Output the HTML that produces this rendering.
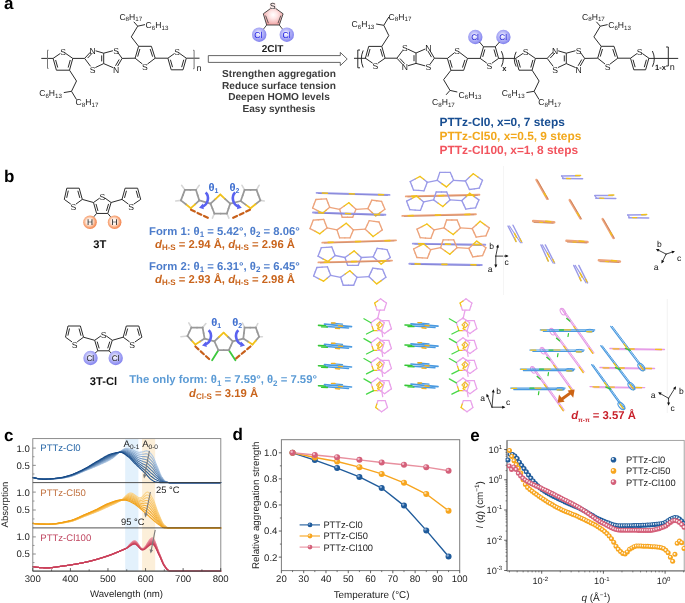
<!DOCTYPE html><html><head><meta charset="utf-8"><style>html,body{margin:0;padding:0;background:#fff;}svg{display:block;will-change:transform;text-rendering:geometricPrecision;}</style></head><body><svg width="685" height="603" viewBox="0 0 685 603">
<defs><radialGradient id="gCl" cx="0.45" cy="0.42" r="0.58"><stop offset="0" stop-color="#ffffff"/><stop offset="0.5" stop-color="#babaf8"/><stop offset="1" stop-color="#8080ee"/></radialGradient><radialGradient id="gH" cx="0.46" cy="0.46" r="0.56"><stop offset="0" stop-color="#ffffff"/><stop offset="0.4" stop-color="#feeee4"/><stop offset="0.75" stop-color="#f8a678"/><stop offset="1" stop-color="#f27a42"/></radialGradient><radialGradient id="gRing" cx="0.5" cy="0.45" r="0.6"><stop offset="0" stop-color="#ffffff"/><stop offset="0.35" stop-color="#fde6e6"/><stop offset="1" stop-color="#f09a9a"/></radialGradient></defs>
<rect width="685" height="603" fill="#fff"/>
<text x="4.10" y="8.80" font-size="17" fill="#000" text-anchor="start" font-weight="bold" font-family="Liberation Sans, sans-serif" >a</text>
<text x="4.10" y="182.20" font-size="17" fill="#000" text-anchor="start" font-weight="bold" font-family="Liberation Sans, sans-serif" >b</text>
<text x="4.10" y="440.60" font-size="17" fill="#000" text-anchor="start" font-weight="bold" font-family="Liberation Sans, sans-serif" >c</text>
<text x="232.60" y="440.30" font-size="17" fill="#000" text-anchor="start" font-weight="bold" font-family="Liberation Sans, sans-serif" >d</text>
<text x="470.20" y="440.50" font-size="17" fill="#000" text-anchor="start" font-weight="bold" font-family="Liberation Sans, sans-serif" >e</text>
<line x1="41.30" y1="58.40" x2="53.10" y2="58.40" stroke="#2c2c2c" stroke-width="1.0" />
<path d="M48.50,50.20 H47.50 V68.40 H48.50" fill="none" stroke="#777" stroke-width="1.0"/>
<line x1="53.10" y1="58.40" x2="60.36" y2="53.41" stroke="#2c2c2c" stroke-width="1.0" />
<line x1="65.63" y1="53.42" x2="72.80" y2="58.40" stroke="#2c2c2c" stroke-width="1.0" />
<line x1="72.80" y1="58.40" x2="69.50" y2="70.20" stroke="#2c2c2c" stroke-width="1.0" />
<line x1="69.50" y1="70.20" x2="56.40" y2="70.20" stroke="#2c2c2c" stroke-width="1.0" />
<line x1="56.40" y1="70.20" x2="53.10" y2="58.40" stroke="#2c2c2c" stroke-width="1.0" />
<line x1="70.28" y1="59.99" x2="68.17" y2="67.54" stroke="#2c2c2c" stroke-width="1.0" />
<line x1="57.73" y1="67.54" x2="55.62" y2="59.99" stroke="#2c2c2c" stroke-width="1.0" />
<text x="63.00" y="55.30" font-size="8.6" fill="#1c1c1c" text-anchor="middle" font-weight="normal" font-family="Liberation Sans, sans-serif" >S</text>
<line x1="72.80" y1="58.40" x2="84.60" y2="58.40" stroke="#2c2c2c" stroke-width="1.0" />
<line x1="84.60" y1="58.40" x2="90.32" y2="52.24" stroke="#2c2c2c" stroke-width="1.0" />
<line x1="87.64" y1="58.06" x2="92.38" y2="52.96" stroke="#2c2c2c" stroke-width="1.0" />
<line x1="95.57" y1="50.80" x2="103.70" y2="53.20" stroke="#2c2c2c" stroke-width="1.0" />
<line x1="103.70" y1="53.20" x2="103.70" y2="63.60" stroke="#2c2c2c" stroke-width="1.0" />
<line x1="101.70" y1="55.40" x2="101.70" y2="61.40" stroke="#2c2c2c" stroke-width="1.0" />
<line x1="103.70" y1="63.60" x2="95.39" y2="67.53" stroke="#2c2c2c" stroke-width="1.0" />
<line x1="90.58" y1="66.34" x2="84.60" y2="58.40" stroke="#2c2c2c" stroke-width="1.0" />
<line x1="103.70" y1="53.20" x2="112.91" y2="50.73" stroke="#2c2c2c" stroke-width="1.0" />
<line x1="117.87" y1="52.50" x2="122.10" y2="58.40" stroke="#2c2c2c" stroke-width="1.0" />
<line x1="122.10" y1="58.40" x2="117.61" y2="66.13" stroke="#2c2c2c" stroke-width="1.0" />
<line x1="119.15" y1="59.50" x2="115.49" y2="65.80" stroke="#2c2c2c" stroke-width="1.0" />
<line x1="113.06" y1="67.63" x2="103.70" y2="63.60" stroke="#2c2c2c" stroke-width="1.0" />
<text x="92.50" y="53.60" font-size="8.6" fill="#1c1c1c" text-anchor="middle" font-weight="normal" font-family="Liberation Sans, sans-serif" >N</text>
<text x="116.00" y="53.60" font-size="8.6" fill="#1c1c1c" text-anchor="middle" font-weight="normal" font-family="Liberation Sans, sans-serif" >S</text>
<text x="116.00" y="72.60" font-size="8.6" fill="#1c1c1c" text-anchor="middle" font-weight="normal" font-family="Liberation Sans, sans-serif" >N</text>
<text x="92.50" y="72.60" font-size="8.6" fill="#1c1c1c" text-anchor="middle" font-weight="normal" font-family="Liberation Sans, sans-serif" >S</text>
<line x1="122.10" y1="58.40" x2="135.10" y2="58.20" stroke="#2c2c2c" stroke-width="1.0" />
<line x1="135.10" y1="58.20" x2="138.60" y2="46.30" stroke="#2c2c2c" stroke-width="1.0" />
<line x1="138.60" y1="46.30" x2="151.40" y2="46.30" stroke="#2c2c2c" stroke-width="1.0" />
<line x1="151.40" y1="46.30" x2="155.20" y2="58.20" stroke="#2c2c2c" stroke-width="1.0" />
<line x1="155.20" y1="58.20" x2="147.45" y2="64.07" stroke="#2c2c2c" stroke-width="1.0" />
<line x1="142.40" y1="64.01" x2="135.10" y2="58.20" stroke="#2c2c2c" stroke-width="1.0" />
<line x1="137.65" y1="56.62" x2="139.89" y2="49.01" stroke="#2c2c2c" stroke-width="1.0" />
<line x1="150.18" y1="49.05" x2="152.61" y2="56.67" stroke="#2c2c2c" stroke-width="1.0" />
<text x="144.90" y="69.70" font-size="8.6" fill="#1c1c1c" text-anchor="middle" font-weight="normal" font-family="Liberation Sans, sans-serif" >S</text>
<line x1="69.50" y1="70.20" x2="76.50" y2="81.00" stroke="#2c2c2c" stroke-width="1.0" />
<line x1="76.50" y1="81.00" x2="71.50" y2="91.30" stroke="#2c2c2c" stroke-width="1.0" />
<line x1="71.50" y1="91.30" x2="63.80" y2="92.60" stroke="#2c2c2c" stroke-width="1.0" />
<line x1="71.50" y1="91.30" x2="76.50" y2="99.60" stroke="#2c2c2c" stroke-width="1.0" />
<line x1="138.60" y1="46.30" x2="131.30" y2="36.90" stroke="#2c2c2c" stroke-width="1.0" />
<line x1="131.30" y1="36.90" x2="137.70" y2="26.20" stroke="#2c2c2c" stroke-width="1.0" />
<line x1="137.70" y1="26.20" x2="133.80" y2="21.80" stroke="#2c2c2c" stroke-width="1.0" />
<line x1="137.70" y1="26.20" x2="145.00" y2="24.60" stroke="#2c2c2c" stroke-width="1.0" />
<line x1="155.20" y1="58.20" x2="167.90" y2="58.20" stroke="#2c2c2c" stroke-width="1.0" />
<line x1="167.90" y1="58.20" x2="174.50" y2="53.47" stroke="#2c2c2c" stroke-width="1.0" />
<line x1="179.70" y1="53.47" x2="186.30" y2="58.20" stroke="#2c2c2c" stroke-width="1.0" />
<line x1="186.30" y1="58.20" x2="183.00" y2="69.80" stroke="#2c2c2c" stroke-width="1.0" />
<line x1="183.00" y1="69.80" x2="171.20" y2="69.80" stroke="#2c2c2c" stroke-width="1.0" />
<line x1="171.20" y1="69.80" x2="167.90" y2="58.20" stroke="#2c2c2c" stroke-width="1.0" />
<line x1="183.78" y1="59.74" x2="181.67" y2="67.16" stroke="#2c2c2c" stroke-width="1.0" />
<line x1="172.53" y1="67.16" x2="170.42" y2="59.74" stroke="#2c2c2c" stroke-width="1.0" />
<text x="177.10" y="55.30" font-size="8.6" fill="#1c1c1c" text-anchor="middle" font-weight="normal" font-family="Liberation Sans, sans-serif" >S</text>
<line x1="186.30" y1="58.20" x2="199.50" y2="58.20" stroke="#2c2c2c" stroke-width="1.0" />
<path d="M193.10,50.30 H194.10 V68.70 H193.10" fill="none" stroke="#777" stroke-width="1.0"/>
<text x="196.60" y="71.40" font-size="9" fill="#2a2a2a" text-anchor="start" font-weight="normal" font-family="Liberation Sans, sans-serif" >n</text>
<text x="39.20" y="96.10" font-size="8.6" fill="#1c1c1c" font-family="Liberation Sans, sans-serif">C<tspan font-size="6.19" dy="1.5">6</tspan><tspan dy="-1.5">H</tspan><tspan font-size="6.19" dy="1.5">13</tspan></text>
<text x="75.60" y="105.10" font-size="8.6" fill="#1c1c1c" font-family="Liberation Sans, sans-serif">C<tspan font-size="6.19" dy="1.5">8</tspan><tspan dy="-1.5">H</tspan><tspan font-size="6.19" dy="1.5">17</tspan></text>
<text x="119.40" y="19.50" font-size="8.6" fill="#1c1c1c" font-family="Liberation Sans, sans-serif">C<tspan font-size="6.19" dy="1.5">8</tspan><tspan dy="-1.5">H</tspan><tspan font-size="6.19" dy="1.5">17</tspan></text>
<text x="145.60" y="28.10" font-size="8.6" fill="#1c1c1c" font-family="Liberation Sans, sans-serif">C<tspan font-size="6.19" dy="1.5">6</tspan><tspan dy="-1.5">H</tspan><tspan font-size="6.19" dy="1.5">13</tspan></text>
<path d="M208.3,55.6 H340.3 V52.4 L347.2,59 L340.3,65.6 V62.4 H208.3 Z" fill="#fff" stroke="#555" stroke-width="0.9"/>
<path d="M273.2,6.6 L283.1,13.8 L279.3,25.0 L266.7,25.0 L263.3,13.8 Z" fill="url(#gRing)" stroke="#3a3a3a" stroke-width="0.9"/>
<line x1="265.60" y1="15.60" x2="268.40" y2="23.20" stroke="#3a3a3a" stroke-width="0.8" />
<line x1="280.80" y1="15.60" x2="278.00" y2="23.20" stroke="#3a3a3a" stroke-width="0.8" />
<circle cx="273.0" cy="6.0" r="3.4" fill="#fbeaea"/>
<text x="272.80" y="9.30" font-size="8.8" fill="#2a2a2a" text-anchor="middle" font-weight="normal" font-family="Liberation Sans, sans-serif" >S</text>
<line x1="266.70" y1="25.00" x2="261.60" y2="31.50" stroke="#3a3a3a" stroke-width="0.9" />
<line x1="279.30" y1="25.00" x2="284.40" y2="31.50" stroke="#3a3a3a" stroke-width="0.9" />
<circle cx="259.2" cy="34.7" r="7.2" fill="url(#gCl)"/>
<circle cx="286.8" cy="34.7" r="7.2" fill="url(#gCl)"/>
<text x="258.40" y="38.00" font-size="8.6" fill="#1a1ae0" text-anchor="middle" font-weight="normal" font-family="Liberation Sans, sans-serif" >Cl</text>
<text x="286.60" y="38.00" font-size="8.6" fill="#1a1ae0" text-anchor="middle" font-weight="normal" font-family="Liberation Sans, sans-serif" >Cl</text>
<text x="272.60" y="52.20" font-size="10" fill="#1a1a1a" text-anchor="middle" font-weight="bold" font-family="Liberation Sans, sans-serif" >2ClT</text>
<text x="279.00" y="76.80" font-size="10.1" fill="#3c3c3c" text-anchor="middle" font-weight="bold" font-family="Liberation Sans, sans-serif" >Strengthen aggregation</text>
<text x="279.00" y="88.55" font-size="10.1" fill="#3c3c3c" text-anchor="middle" font-weight="bold" font-family="Liberation Sans, sans-serif" >Reduce surface tension</text>
<text x="279.00" y="100.30" font-size="10.1" fill="#3c3c3c" text-anchor="middle" font-weight="bold" font-family="Liberation Sans, sans-serif" >Deepen HOMO levels</text>
<text x="279.00" y="112.05" font-size="10.1" fill="#3c3c3c" text-anchor="middle" font-weight="bold" font-family="Liberation Sans, sans-serif" >Easy synthesis</text>
<line x1="354.00" y1="58.30" x2="366.00" y2="58.30" stroke="#2c2c2c" stroke-width="1.0" />
<path d="M360.00,50.00 H357.80 V67.80 H360.00" fill="none" stroke="#2c2c2c" stroke-width="1.0"/>
<path d="M363.20,50.50 Q359.40,59.00 363.20,67.50" fill="none" stroke="#2c2c2c" stroke-width="1.0"/>
<line x1="365.40" y1="58.20" x2="372.66" y2="63.19" stroke="#2c2c2c" stroke-width="1.0" />
<line x1="377.93" y1="63.18" x2="385.10" y2="58.20" stroke="#2c2c2c" stroke-width="1.0" />
<line x1="385.10" y1="58.20" x2="381.80" y2="46.40" stroke="#2c2c2c" stroke-width="1.0" />
<line x1="381.80" y1="46.40" x2="368.70" y2="46.40" stroke="#2c2c2c" stroke-width="1.0" />
<line x1="368.70" y1="46.40" x2="365.40" y2="58.20" stroke="#2c2c2c" stroke-width="1.0" />
<line x1="382.58" y1="56.61" x2="380.47" y2="49.06" stroke="#2c2c2c" stroke-width="1.0" />
<line x1="370.03" y1="49.06" x2="367.92" y2="56.61" stroke="#2c2c2c" stroke-width="1.0" />
<text x="375.30" y="68.70" font-size="8.6" fill="#1c1c1c" text-anchor="middle" font-weight="normal" font-family="Liberation Sans, sans-serif" >S</text>
<line x1="385.10" y1="58.20" x2="396.90" y2="58.20" stroke="#2c2c2c" stroke-width="1.0" />
<line x1="396.90" y1="58.20" x2="402.62" y2="64.36" stroke="#2c2c2c" stroke-width="1.0" />
<line x1="399.94" y1="58.54" x2="404.68" y2="63.64" stroke="#2c2c2c" stroke-width="1.0" />
<line x1="407.87" y1="65.80" x2="416.00" y2="63.40" stroke="#2c2c2c" stroke-width="1.0" />
<line x1="416.00" y1="63.40" x2="416.00" y2="53.00" stroke="#2c2c2c" stroke-width="1.0" />
<line x1="414.00" y1="61.20" x2="414.00" y2="55.20" stroke="#2c2c2c" stroke-width="1.0" />
<line x1="416.00" y1="53.00" x2="407.69" y2="49.07" stroke="#2c2c2c" stroke-width="1.0" />
<line x1="402.88" y1="50.26" x2="396.90" y2="58.20" stroke="#2c2c2c" stroke-width="1.0" />
<line x1="416.00" y1="63.40" x2="425.21" y2="65.87" stroke="#2c2c2c" stroke-width="1.0" />
<line x1="430.17" y1="64.10" x2="434.40" y2="58.20" stroke="#2c2c2c" stroke-width="1.0" />
<line x1="434.40" y1="58.20" x2="429.91" y2="50.47" stroke="#2c2c2c" stroke-width="1.0" />
<line x1="431.45" y1="57.10" x2="427.79" y2="50.80" stroke="#2c2c2c" stroke-width="1.0" />
<line x1="425.36" y1="48.97" x2="416.00" y2="53.00" stroke="#2c2c2c" stroke-width="1.0" />
<text x="404.80" y="70.40" font-size="8.6" fill="#1c1c1c" text-anchor="middle" font-weight="normal" font-family="Liberation Sans, sans-serif" >N</text>
<text x="428.30" y="70.40" font-size="8.6" fill="#1c1c1c" text-anchor="middle" font-weight="normal" font-family="Liberation Sans, sans-serif" >S</text>
<text x="428.30" y="51.40" font-size="8.6" fill="#1c1c1c" text-anchor="middle" font-weight="normal" font-family="Liberation Sans, sans-serif" >N</text>
<text x="404.80" y="51.40" font-size="8.6" fill="#1c1c1c" text-anchor="middle" font-weight="normal" font-family="Liberation Sans, sans-serif" >S</text>
<line x1="434.40" y1="58.20" x2="447.40" y2="58.40" stroke="#2c2c2c" stroke-width="1.0" />
<line x1="447.40" y1="58.40" x2="450.90" y2="70.30" stroke="#2c2c2c" stroke-width="1.0" />
<line x1="450.90" y1="70.30" x2="463.70" y2="70.30" stroke="#2c2c2c" stroke-width="1.0" />
<line x1="463.70" y1="70.30" x2="467.50" y2="58.40" stroke="#2c2c2c" stroke-width="1.0" />
<line x1="467.50" y1="58.40" x2="459.75" y2="52.53" stroke="#2c2c2c" stroke-width="1.0" />
<line x1="454.70" y1="52.59" x2="447.40" y2="58.40" stroke="#2c2c2c" stroke-width="1.0" />
<line x1="449.95" y1="59.98" x2="452.19" y2="67.59" stroke="#2c2c2c" stroke-width="1.0" />
<line x1="462.48" y1="67.55" x2="464.91" y2="59.93" stroke="#2c2c2c" stroke-width="1.0" />
<text x="457.20" y="54.30" font-size="8.6" fill="#1c1c1c" text-anchor="middle" font-weight="normal" font-family="Liberation Sans, sans-serif" >S</text>
<line x1="381.80" y1="46.40" x2="388.80" y2="35.60" stroke="#2c2c2c" stroke-width="1.0" />
<line x1="388.80" y1="35.60" x2="383.80" y2="25.30" stroke="#2c2c2c" stroke-width="1.0" />
<line x1="383.80" y1="25.30" x2="376.10" y2="24.00" stroke="#2c2c2c" stroke-width="1.0" />
<line x1="383.80" y1="25.30" x2="388.80" y2="17.00" stroke="#2c2c2c" stroke-width="1.0" />
<line x1="450.90" y1="70.30" x2="443.60" y2="79.70" stroke="#2c2c2c" stroke-width="1.0" />
<line x1="443.60" y1="79.70" x2="450.00" y2="90.40" stroke="#2c2c2c" stroke-width="1.0" />
<line x1="450.00" y1="90.40" x2="446.10" y2="94.80" stroke="#2c2c2c" stroke-width="1.0" />
<line x1="450.00" y1="90.40" x2="457.30" y2="92.00" stroke="#2c2c2c" stroke-width="1.0" />
<line x1="467.50" y1="58.40" x2="480.20" y2="58.40" stroke="#2c2c2c" stroke-width="1.0" />
<line x1="480.20" y1="58.40" x2="486.80" y2="63.13" stroke="#2c2c2c" stroke-width="1.0" />
<line x1="492.00" y1="63.13" x2="498.60" y2="58.40" stroke="#2c2c2c" stroke-width="1.0" />
<line x1="498.60" y1="58.40" x2="495.30" y2="46.80" stroke="#2c2c2c" stroke-width="1.0" />
<line x1="495.30" y1="46.80" x2="483.50" y2="46.80" stroke="#2c2c2c" stroke-width="1.0" />
<line x1="483.50" y1="46.80" x2="480.20" y2="58.40" stroke="#2c2c2c" stroke-width="1.0" />
<line x1="496.08" y1="56.86" x2="493.97" y2="49.44" stroke="#2c2c2c" stroke-width="1.0" />
<line x1="484.83" y1="49.44" x2="482.72" y2="56.86" stroke="#2c2c2c" stroke-width="1.0" />
<text x="489.40" y="68.70" font-size="8.6" fill="#1c1c1c" text-anchor="middle" font-weight="normal" font-family="Liberation Sans, sans-serif" >S</text>
<circle cx="475.3" cy="37.0" r="7.2" fill="url(#gCl)"/>
<circle cx="503.4" cy="37.0" r="7.2" fill="url(#gCl)"/>
<line x1="483.50" y1="46.80" x2="479.50" y2="42.00" stroke="#2c2c2c" stroke-width="1.0" />
<line x1="495.30" y1="46.80" x2="499.50" y2="42.00" stroke="#2c2c2c" stroke-width="1.0" />
<text x="475.00" y="40.00" font-size="8.2" fill="#1a1ad0" text-anchor="middle" font-weight="normal" font-family="Liberation Sans, sans-serif" >Cl</text>
<text x="503.10" y="40.00" font-size="8.2" fill="#1a1ad0" text-anchor="middle" font-weight="normal" font-family="Liberation Sans, sans-serif" >Cl</text>
<line x1="498.60" y1="58.40" x2="515.70" y2="58.40" stroke="#2c2c2c" stroke-width="1.0" />
<path d="M501.40,51.20 Q505.20,58.90 501.40,66.60" fill="none" stroke="#2c2c2c" stroke-width="1.0"/>
<text x="502.20" y="71.00" font-size="7.5" fill="#222" text-anchor="start" font-weight="bold" font-family="Liberation Sans, sans-serif" >x</text>
<text x="351.50" y="27.30" font-size="8.6" fill="#1c1c1c" font-family="Liberation Sans, sans-serif">C<tspan font-size="6.19" dy="1.5">6</tspan><tspan dy="-1.5">H</tspan><tspan font-size="6.19" dy="1.5">13</tspan></text>
<text x="388.60" y="19.70" font-size="8.6" fill="#1c1c1c" font-family="Liberation Sans, sans-serif">C<tspan font-size="6.19" dy="1.5">8</tspan><tspan dy="-1.5">H</tspan><tspan font-size="6.19" dy="1.5">17</tspan></text>
<text x="458.60" y="97.70" font-size="8.6" fill="#1c1c1c" font-family="Liberation Sans, sans-serif">C<tspan font-size="6.19" dy="1.5">6</tspan><tspan dy="-1.5">H</tspan><tspan font-size="6.19" dy="1.5">13</tspan></text>
<text x="432.00" y="105.10" font-size="8.6" fill="#1c1c1c" font-family="Liberation Sans, sans-serif">C<tspan font-size="6.19" dy="1.5">8</tspan><tspan dy="-1.5">H</tspan><tspan font-size="6.19" dy="1.5">17</tspan></text>
<path d="M516.20,51.80 Q512.40,59.20 516.20,66.60" fill="none" stroke="#2c2c2c" stroke-width="1.0"/>
<line x1="515.70" y1="58.40" x2="522.96" y2="53.41" stroke="#2c2c2c" stroke-width="1.0" />
<line x1="528.23" y1="53.42" x2="535.40" y2="58.40" stroke="#2c2c2c" stroke-width="1.0" />
<line x1="535.40" y1="58.40" x2="532.10" y2="70.20" stroke="#2c2c2c" stroke-width="1.0" />
<line x1="532.10" y1="70.20" x2="519.00" y2="70.20" stroke="#2c2c2c" stroke-width="1.0" />
<line x1="519.00" y1="70.20" x2="515.70" y2="58.40" stroke="#2c2c2c" stroke-width="1.0" />
<line x1="532.88" y1="59.99" x2="530.77" y2="67.54" stroke="#2c2c2c" stroke-width="1.0" />
<line x1="520.33" y1="67.54" x2="518.22" y2="59.99" stroke="#2c2c2c" stroke-width="1.0" />
<text x="525.60" y="55.30" font-size="8.6" fill="#1c1c1c" text-anchor="middle" font-weight="normal" font-family="Liberation Sans, sans-serif" >S</text>
<line x1="535.40" y1="58.40" x2="547.20" y2="58.40" stroke="#2c2c2c" stroke-width="1.0" />
<line x1="547.20" y1="58.40" x2="552.92" y2="52.24" stroke="#2c2c2c" stroke-width="1.0" />
<line x1="550.24" y1="58.06" x2="554.98" y2="52.96" stroke="#2c2c2c" stroke-width="1.0" />
<line x1="558.17" y1="50.80" x2="566.30" y2="53.20" stroke="#2c2c2c" stroke-width="1.0" />
<line x1="566.30" y1="53.20" x2="566.30" y2="63.60" stroke="#2c2c2c" stroke-width="1.0" />
<line x1="564.30" y1="55.40" x2="564.30" y2="61.40" stroke="#2c2c2c" stroke-width="1.0" />
<line x1="566.30" y1="63.60" x2="557.99" y2="67.53" stroke="#2c2c2c" stroke-width="1.0" />
<line x1="553.18" y1="66.34" x2="547.20" y2="58.40" stroke="#2c2c2c" stroke-width="1.0" />
<line x1="566.30" y1="53.20" x2="575.51" y2="50.73" stroke="#2c2c2c" stroke-width="1.0" />
<line x1="580.47" y1="52.50" x2="584.70" y2="58.40" stroke="#2c2c2c" stroke-width="1.0" />
<line x1="584.70" y1="58.40" x2="580.21" y2="66.13" stroke="#2c2c2c" stroke-width="1.0" />
<line x1="581.75" y1="59.50" x2="578.09" y2="65.80" stroke="#2c2c2c" stroke-width="1.0" />
<line x1="575.66" y1="67.63" x2="566.30" y2="63.60" stroke="#2c2c2c" stroke-width="1.0" />
<text x="555.10" y="53.60" font-size="8.6" fill="#1c1c1c" text-anchor="middle" font-weight="normal" font-family="Liberation Sans, sans-serif" >N</text>
<text x="578.60" y="53.60" font-size="8.6" fill="#1c1c1c" text-anchor="middle" font-weight="normal" font-family="Liberation Sans, sans-serif" >S</text>
<text x="578.60" y="72.60" font-size="8.6" fill="#1c1c1c" text-anchor="middle" font-weight="normal" font-family="Liberation Sans, sans-serif" >N</text>
<text x="555.10" y="72.60" font-size="8.6" fill="#1c1c1c" text-anchor="middle" font-weight="normal" font-family="Liberation Sans, sans-serif" >S</text>
<line x1="584.70" y1="58.40" x2="597.70" y2="58.20" stroke="#2c2c2c" stroke-width="1.0" />
<line x1="597.70" y1="58.20" x2="601.20" y2="46.30" stroke="#2c2c2c" stroke-width="1.0" />
<line x1="601.20" y1="46.30" x2="614.00" y2="46.30" stroke="#2c2c2c" stroke-width="1.0" />
<line x1="614.00" y1="46.30" x2="617.80" y2="58.20" stroke="#2c2c2c" stroke-width="1.0" />
<line x1="617.80" y1="58.20" x2="610.05" y2="64.07" stroke="#2c2c2c" stroke-width="1.0" />
<line x1="605.00" y1="64.01" x2="597.70" y2="58.20" stroke="#2c2c2c" stroke-width="1.0" />
<line x1="600.25" y1="56.62" x2="602.49" y2="49.01" stroke="#2c2c2c" stroke-width="1.0" />
<line x1="612.78" y1="49.05" x2="615.21" y2="56.67" stroke="#2c2c2c" stroke-width="1.0" />
<text x="607.50" y="69.70" font-size="8.6" fill="#1c1c1c" text-anchor="middle" font-weight="normal" font-family="Liberation Sans, sans-serif" >S</text>
<line x1="532.10" y1="70.20" x2="539.10" y2="81.00" stroke="#2c2c2c" stroke-width="1.0" />
<line x1="539.10" y1="81.00" x2="534.10" y2="91.30" stroke="#2c2c2c" stroke-width="1.0" />
<line x1="534.10" y1="91.30" x2="526.40" y2="92.60" stroke="#2c2c2c" stroke-width="1.0" />
<line x1="534.10" y1="91.30" x2="539.10" y2="99.60" stroke="#2c2c2c" stroke-width="1.0" />
<line x1="601.20" y1="46.30" x2="593.90" y2="36.90" stroke="#2c2c2c" stroke-width="1.0" />
<line x1="593.90" y1="36.90" x2="600.30" y2="26.20" stroke="#2c2c2c" stroke-width="1.0" />
<line x1="600.30" y1="26.20" x2="596.40" y2="21.80" stroke="#2c2c2c" stroke-width="1.0" />
<line x1="600.30" y1="26.20" x2="607.60" y2="24.60" stroke="#2c2c2c" stroke-width="1.0" />
<line x1="617.80" y1="58.20" x2="630.50" y2="58.20" stroke="#2c2c2c" stroke-width="1.0" />
<line x1="630.50" y1="58.20" x2="637.10" y2="53.47" stroke="#2c2c2c" stroke-width="1.0" />
<line x1="642.30" y1="53.47" x2="648.90" y2="58.20" stroke="#2c2c2c" stroke-width="1.0" />
<line x1="648.90" y1="58.20" x2="645.60" y2="69.80" stroke="#2c2c2c" stroke-width="1.0" />
<line x1="645.60" y1="69.80" x2="633.80" y2="69.80" stroke="#2c2c2c" stroke-width="1.0" />
<line x1="633.80" y1="69.80" x2="630.50" y2="58.20" stroke="#2c2c2c" stroke-width="1.0" />
<line x1="646.38" y1="59.74" x2="644.27" y2="67.16" stroke="#2c2c2c" stroke-width="1.0" />
<line x1="635.13" y1="67.16" x2="633.02" y2="59.74" stroke="#2c2c2c" stroke-width="1.0" />
<text x="639.70" y="55.30" font-size="8.6" fill="#1c1c1c" text-anchor="middle" font-weight="normal" font-family="Liberation Sans, sans-serif" >S</text>
<text x="501.80" y="96.10" font-size="8.6" fill="#1c1c1c" font-family="Liberation Sans, sans-serif">C<tspan font-size="6.19" dy="1.5">6</tspan><tspan dy="-1.5">H</tspan><tspan font-size="6.19" dy="1.5">13</tspan></text>
<text x="538.20" y="105.10" font-size="8.6" fill="#1c1c1c" font-family="Liberation Sans, sans-serif">C<tspan font-size="6.19" dy="1.5">8</tspan><tspan dy="-1.5">H</tspan><tspan font-size="6.19" dy="1.5">17</tspan></text>
<text x="582.00" y="19.50" font-size="8.6" fill="#1c1c1c" font-family="Liberation Sans, sans-serif">C<tspan font-size="6.19" dy="1.5">8</tspan><tspan dy="-1.5">H</tspan><tspan font-size="6.19" dy="1.5">17</tspan></text>
<text x="608.20" y="28.10" font-size="8.6" fill="#1c1c1c" font-family="Liberation Sans, sans-serif">C<tspan font-size="6.19" dy="1.5">6</tspan><tspan dy="-1.5">H</tspan><tspan font-size="6.19" dy="1.5">13</tspan></text>
<line x1="648.90" y1="58.40" x2="678.20" y2="58.40" stroke="#2c2c2c" stroke-width="1.0" />
<path d="M652.40,51.00 Q656.20,58.85 652.40,66.70" fill="none" stroke="#2c2c2c" stroke-width="1.0"/>
<text x="655.00" y="69.60" font-size="7.6" fill="#222" text-anchor="start" font-weight="bold" font-family="Liberation Sans, sans-serif" >1-x</text>
<path d="M666.10,47.00 H668.30 V66.00 H666.10" fill="none" stroke="#2c2c2c" stroke-width="1.0"/>
<text x="669.80" y="69.60" font-size="9" fill="#2a2a2a" text-anchor="start" font-weight="normal" font-family="Liberation Sans, sans-serif" >n</text>
<text x="439.60" y="125.60" font-size="11.9" fill="#184e92" text-anchor="start" font-weight="bold" font-family="Liberation Sans, sans-serif" >PTTz-Cl0, x=0, 7 steps</text>
<text x="439.60" y="139.60" font-size="11.9" fill="#f2a81d" text-anchor="start" font-weight="bold" font-family="Liberation Sans, sans-serif" >PTTz-Cl50, x=0.5, 9 steps</text>
<text x="439.60" y="153.50" font-size="11.9" fill="#f2545e" text-anchor="start" font-weight="bold" font-family="Liberation Sans, sans-serif" >PTTz-Cl100, x=1, 8 steps</text>
<line x1="66.80" y1="188.20" x2="79.20" y2="188.20" stroke="#2c2c2c" stroke-width="1.0" />
<line x1="79.20" y1="188.20" x2="82.30" y2="199.40" stroke="#2c2c2c" stroke-width="1.0" />
<line x1="82.30" y1="199.40" x2="75.97" y2="204.09" stroke="#2c2c2c" stroke-width="1.0" />
<line x1="70.81" y1="204.12" x2="64.30" y2="199.40" stroke="#2c2c2c" stroke-width="1.0" />
<line x1="64.30" y1="199.40" x2="66.80" y2="188.20" stroke="#2c2c2c" stroke-width="1.0" />
<line x1="66.70" y1="197.82" x2="68.30" y2="190.65" stroke="#2c2c2c" stroke-width="1.0" />
<line x1="77.83" y1="190.75" x2="79.81" y2="197.92" stroke="#2c2c2c" stroke-width="1.0" />
<text x="73.40" y="209.70" font-size="8.6" fill="#1c1c1c" text-anchor="middle" font-weight="normal" font-family="Liberation Sans, sans-serif" >S</text>
<line x1="104.99" y1="198.08" x2="111.10" y2="202.50" stroke="#2c2c2c" stroke-width="1.0" />
<line x1="111.10" y1="202.50" x2="107.80" y2="213.45" stroke="#2c2c2c" stroke-width="1.0" />
<line x1="107.80" y1="213.45" x2="96.60" y2="213.45" stroke="#2c2c2c" stroke-width="1.0" />
<line x1="96.60" y1="213.45" x2="93.50" y2="202.50" stroke="#2c2c2c" stroke-width="1.0" />
<line x1="93.50" y1="202.50" x2="99.79" y2="198.05" stroke="#2c2c2c" stroke-width="1.0" />
<line x1="108.59" y1="203.89" x2="106.48" y2="210.90" stroke="#2c2c2c" stroke-width="1.0" />
<line x1="97.97" y1="210.93" x2="95.98" y2="203.93" stroke="#2c2c2c" stroke-width="1.0" />
<text x="102.40" y="199.90" font-size="8.6" fill="#1c1c1c" text-anchor="middle" font-weight="normal" font-family="Liberation Sans, sans-serif" >S</text>
<line x1="122.00" y1="199.40" x2="125.10" y2="188.20" stroke="#2c2c2c" stroke-width="1.0" />
<line x1="125.10" y1="188.20" x2="137.60" y2="188.20" stroke="#2c2c2c" stroke-width="1.0" />
<line x1="137.60" y1="188.20" x2="140.70" y2="199.40" stroke="#2c2c2c" stroke-width="1.0" />
<line x1="140.70" y1="199.40" x2="133.65" y2="204.20" stroke="#2c2c2c" stroke-width="1.0" />
<line x1="128.42" y1="204.11" x2="122.00" y2="199.40" stroke="#2c2c2c" stroke-width="1.0" />
<line x1="124.49" y1="197.92" x2="126.47" y2="190.75" stroke="#2c2c2c" stroke-width="1.0" />
<line x1="136.23" y1="190.75" x2="138.21" y2="197.92" stroke="#2c2c2c" stroke-width="1.0" />
<text x="131.00" y="209.70" font-size="8.6" fill="#1c1c1c" text-anchor="middle" font-weight="normal" font-family="Liberation Sans, sans-serif" >S</text>
<line x1="82.30" y1="199.40" x2="93.50" y2="202.50" stroke="#2c2c2c" stroke-width="1.0" />
<line x1="111.10" y1="202.50" x2="122.00" y2="199.40" stroke="#2c2c2c" stroke-width="1.0" />
<line x1="96.60" y1="213.45" x2="93.80" y2="216.80" stroke="#2c2c2c" stroke-width="1.0" />
<line x1="107.80" y1="213.45" x2="110.60" y2="216.80" stroke="#2c2c2c" stroke-width="1.0" />
<circle cx="90.0" cy="222.3" r="6.8" fill="url(#gH)"/>
<circle cx="114.6" cy="222.3" r="6.8" fill="url(#gH)"/>
<text x="90.00" y="225.40" font-size="8.4" fill="#111" text-anchor="middle" font-weight="normal" font-family="Liberation Sans, sans-serif" >H</text>
<text x="114.60" y="225.40" font-size="8.4" fill="#111" text-anchor="middle" font-weight="normal" font-family="Liberation Sans, sans-serif" >H</text>
<text x="99.80" y="247.60" font-size="11.2" fill="#111" text-anchor="middle" font-weight="bold" font-family="Liberation Sans, sans-serif" >3T</text>
<path d="M184.90,189.90 L181.60,185.30" fill="none" stroke="#d6d6d6" stroke-width="1.6" stroke-linejoin="round" stroke-linecap="round" />
<path d="M196.00,189.90 L199.30,185.30" fill="none" stroke="#d6d6d6" stroke-width="1.6" stroke-linejoin="round" stroke-linecap="round" />
<path d="M180.90,200.40 L175.70,201.00" fill="none" stroke="#d6d6d6" stroke-width="1.6" stroke-linejoin="round" stroke-linecap="round" />
<path d="M244.60,189.90 L242.00,185.30" fill="none" stroke="#d6d6d6" stroke-width="1.6" stroke-linejoin="round" stroke-linecap="round" />
<path d="M256.50,189.90 L259.10,185.30" fill="none" stroke="#d6d6d6" stroke-width="1.6" stroke-linejoin="round" stroke-linecap="round" />
<path d="M260.40,200.40 L264.30,201.00" fill="none" stroke="#d6d6d6" stroke-width="1.6" stroke-linejoin="round" stroke-linecap="round" />
<path d="M214.40,213.50 L212.40,218.10" fill="none" stroke="#d6d6d6" stroke-width="1.6" stroke-linejoin="round" stroke-linecap="round" />
<path d="M226.90,213.50 L228.90,218.10" fill="none" stroke="#d6d6d6" stroke-width="1.6" stroke-linejoin="round" stroke-linecap="round" />
<path d="M184.90,189.90 L190.45,189.90" fill="none" stroke="#999999" stroke-width="1.75" stroke-linejoin="round" stroke-linecap="round" />
<path d="M190.45,189.90 L196.00,189.90" fill="none" stroke="#999999" stroke-width="1.75" stroke-linejoin="round" stroke-linecap="round" />
<path d="M196.00,189.90 L197.65,195.15" fill="none" stroke="#999999" stroke-width="1.75" stroke-linejoin="round" stroke-linecap="round" />
<path d="M197.65,195.15 L199.30,200.40" fill="none" stroke="#999999" stroke-width="1.75" stroke-linejoin="round" stroke-linecap="round" />
<path d="M199.30,200.40 L195.05,204.30" fill="none" stroke="#999999" stroke-width="1.75" stroke-linejoin="round" stroke-linecap="round" />
<path d="M195.05,204.30 L190.80,208.20" fill="none" stroke="#f2c21a" stroke-width="1.75" stroke-linejoin="round" stroke-linecap="round" />
<path d="M190.80,208.20 L185.85,204.30" fill="none" stroke="#f2c21a" stroke-width="1.75" stroke-linejoin="round" stroke-linecap="round" />
<path d="M185.85,204.30 L180.90,200.40" fill="none" stroke="#999999" stroke-width="1.75" stroke-linejoin="round" stroke-linecap="round" />
<path d="M180.90,200.40 L182.90,195.15" fill="none" stroke="#999999" stroke-width="1.75" stroke-linejoin="round" stroke-linecap="round" />
<path d="M182.90,195.15 L184.90,189.90" fill="none" stroke="#999999" stroke-width="1.75" stroke-linejoin="round" stroke-linecap="round" />
<path d="M220.30,194.50 L225.25,199.05" fill="none" stroke="#f2c21a" stroke-width="1.75" stroke-linejoin="round" stroke-linecap="round" />
<path d="M225.25,199.05 L230.20,203.60" fill="none" stroke="#999999" stroke-width="1.75" stroke-linejoin="round" stroke-linecap="round" />
<path d="M230.20,203.60 L228.55,208.55" fill="none" stroke="#999999" stroke-width="1.75" stroke-linejoin="round" stroke-linecap="round" />
<path d="M228.55,208.55 L226.90,213.50" fill="none" stroke="#999999" stroke-width="1.75" stroke-linejoin="round" stroke-linecap="round" />
<path d="M226.90,213.50 L220.65,213.50" fill="none" stroke="#999999" stroke-width="1.75" stroke-linejoin="round" stroke-linecap="round" />
<path d="M220.65,213.50 L214.40,213.50" fill="none" stroke="#999999" stroke-width="1.75" stroke-linejoin="round" stroke-linecap="round" />
<path d="M214.40,213.50 L212.45,208.55" fill="none" stroke="#999999" stroke-width="1.75" stroke-linejoin="round" stroke-linecap="round" />
<path d="M212.45,208.55 L210.50,203.60" fill="none" stroke="#999999" stroke-width="1.75" stroke-linejoin="round" stroke-linecap="round" />
<path d="M210.50,203.60 L215.40,199.05" fill="none" stroke="#999999" stroke-width="1.75" stroke-linejoin="round" stroke-linecap="round" />
<path d="M215.40,199.05 L220.30,194.50" fill="none" stroke="#f2c21a" stroke-width="1.75" stroke-linejoin="round" stroke-linecap="round" />
<path d="M240.70,201.00 L242.65,195.45" fill="none" stroke="#999999" stroke-width="1.75" stroke-linejoin="round" stroke-linecap="round" />
<path d="M242.65,195.45 L244.60,189.90" fill="none" stroke="#999999" stroke-width="1.75" stroke-linejoin="round" stroke-linecap="round" />
<path d="M244.60,189.90 L250.55,189.90" fill="none" stroke="#999999" stroke-width="1.75" stroke-linejoin="round" stroke-linecap="round" />
<path d="M250.55,189.90 L256.50,189.90" fill="none" stroke="#999999" stroke-width="1.75" stroke-linejoin="round" stroke-linecap="round" />
<path d="M256.50,189.90 L258.45,195.15" fill="none" stroke="#999999" stroke-width="1.75" stroke-linejoin="round" stroke-linecap="round" />
<path d="M258.45,195.15 L260.40,200.40" fill="none" stroke="#999999" stroke-width="1.75" stroke-linejoin="round" stroke-linecap="round" />
<path d="M260.40,200.40 L255.45,204.30" fill="none" stroke="#999999" stroke-width="1.75" stroke-linejoin="round" stroke-linecap="round" />
<path d="M255.45,204.30 L250.50,208.20" fill="none" stroke="#f2c21a" stroke-width="1.75" stroke-linejoin="round" stroke-linecap="round" />
<path d="M250.50,208.20 L245.60,204.60" fill="none" stroke="#f2c21a" stroke-width="1.75" stroke-linejoin="round" stroke-linecap="round" />
<path d="M245.60,204.60 L240.70,201.00" fill="none" stroke="#999999" stroke-width="1.75" stroke-linejoin="round" stroke-linecap="round" />
<path d="M199.30,200.40 L210.50,203.60" fill="none" stroke="#999999" stroke-width="1.75" stroke-linejoin="round" stroke-linecap="round" />
<path d="M230.20,203.60 L240.70,201.00" fill="none" stroke="#999999" stroke-width="1.75" stroke-linejoin="round" stroke-linecap="round" />
<path d="M191.00,209.80 L209.50,218.60" fill="none" stroke="#c8601a" stroke-width="2.2" stroke-linejoin="round" stroke-linecap="round" stroke-dasharray="4.2,3.0" stroke-linecap="butt"/>
<path d="M250.00,209.80 L231.50,218.60" fill="none" stroke="#c8601a" stroke-width="2.2" stroke-linejoin="round" stroke-linecap="round" stroke-dasharray="4.2,3.0" stroke-linecap="butt"/>
<path d="M205.6,192.4 C209.6,195.8 208.6,205.0 201.6,206.8" fill="none" stroke="#5a62f0" stroke-width="2.6"/>
<path d="M203.0,203.6 L199.0,207.8 L203.8,209.2 Z" fill="#5a62f0"/>
<path d="M235.2,192.4 C231.2,195.8 232.2,205.0 239.2,206.8" fill="none" stroke="#5a62f0" stroke-width="2.6"/>
<path d="M237.8,203.6 L241.8,207.8 L237.0,209.2 Z" fill="#5a62f0"/>
<text x="208.4" y="190.5" font-size="11.2" fill="#4070d0" font-weight="bold" font-family="Liberation Sans, sans-serif">θ<tspan font-size="7" dy="2.4">1</tspan></text>
<text x="229.4" y="190.5" font-size="11.2" fill="#4070d0" font-weight="bold" font-family="Liberation Sans, sans-serif">θ<tspan font-size="7" dy="2.4">2</tspan></text>
<text x="149.0" y="234.6" font-size="11.3" fill="#4c7ccb" font-weight="bold" font-family="Liberation Sans, sans-serif">Form 1: θ<tspan font-size="8" dy="2.4">1</tspan><tspan dy="-2.4"> = 5.42°, θ</tspan><tspan font-size="8" dy="2.4">2</tspan><tspan dy="-2.4"> = 8.06°</tspan></text>
<text x="155.0" y="248.0" font-size="11.3" fill="#c9641c" font-weight="bold" font-family="Liberation Sans, sans-serif"><tspan font-style="italic">d</tspan><tspan font-size="8" dy="2.4">H-S</tspan><tspan dy="-2.4"> = 2.94 Å, </tspan><tspan font-style="italic">d</tspan><tspan font-size="8" dy="2.4">H-S</tspan><tspan dy="-2.4"> = 2.96 Å</tspan></text>
<text x="149.0" y="269.6" font-size="11.3" fill="#4c7ccb" font-weight="bold" font-family="Liberation Sans, sans-serif">Form 2: θ<tspan font-size="8" dy="2.4">1</tspan><tspan dy="-2.4"> = 6.31°, θ</tspan><tspan font-size="8" dy="2.4">2</tspan><tspan dy="-2.4"> = 6.45°</tspan></text>
<text x="155.0" y="283.0" font-size="11.3" fill="#c9641c" font-weight="bold" font-family="Liberation Sans, sans-serif"><tspan font-style="italic">d</tspan><tspan font-size="8" dy="2.4">H-S</tspan><tspan dy="-2.4"> = 2.93 Å, </tspan><tspan font-style="italic">d</tspan><tspan font-size="8" dy="2.4">H-S</tspan><tspan dy="-2.4"> = 2.98 Å</tspan></text>
<path d="M316.60,192.90 L389.50,194.90" fill="none" stroke="#9a9ae8" stroke-width="1.9" stroke-linejoin="round" stroke-linecap="round" />
<path d="M318.60,193.50 L387.50,195.50" fill="none" stroke="#6868c0" stroke-width="0.7" stroke-linejoin="round" stroke-linecap="round" opacity="0.7"/>
<path d="M322.43,193.06 L327.43,193.20" fill="none" stroke="#f2c21a" stroke-width="1.6" stroke-linejoin="round" stroke-linecap="round" />
<path d="M349.41,193.80 L354.41,193.94" fill="none" stroke="#f2c21a" stroke-width="1.6" stroke-linejoin="round" stroke-linecap="round" />
<path d="M378.56,194.60 L383.56,194.74" fill="none" stroke="#f2c21a" stroke-width="1.6" stroke-linejoin="round" stroke-linecap="round" />
<path d="M329.70,207.30 L339.60,209.30" fill="none" stroke="#eda47c" stroke-width="1.35" stroke-linejoin="round" stroke-linecap="round" />
<path d="M356.00,209.30 L367.80,208.60" fill="none" stroke="#eda47c" stroke-width="1.35" stroke-linejoin="round" stroke-linecap="round" />
<path d="M315.90,199.50 L321.15,199.15" fill="none" stroke="#eda47c" stroke-width="1.35" stroke-linejoin="round" stroke-linecap="round" />
<path d="M321.15,199.15 L326.40,198.80" fill="none" stroke="#eda47c" stroke-width="1.35" stroke-linejoin="round" stroke-linecap="round" />
<path d="M326.40,198.80 L328.05,203.05" fill="none" stroke="#eda47c" stroke-width="1.35" stroke-linejoin="round" stroke-linecap="round" />
<path d="M328.05,203.05 L329.70,207.30" fill="none" stroke="#eda47c" stroke-width="1.35" stroke-linejoin="round" stroke-linecap="round" />
<path d="M329.70,207.30 L326.10,210.25" fill="none" stroke="#eda47c" stroke-width="1.35" stroke-linejoin="round" stroke-linecap="round" />
<path d="M326.10,210.25 L322.50,213.20" fill="none" stroke="#f2c21a" stroke-width="1.35" stroke-linejoin="round" stroke-linecap="round" />
<path d="M322.50,213.20 L317.55,210.60" fill="none" stroke="#f2c21a" stroke-width="1.35" stroke-linejoin="round" stroke-linecap="round" />
<path d="M317.55,210.60 L312.60,208.00" fill="none" stroke="#eda47c" stroke-width="1.35" stroke-linejoin="round" stroke-linecap="round" />
<path d="M312.60,208.00 L314.25,203.75" fill="none" stroke="#eda47c" stroke-width="1.35" stroke-linejoin="round" stroke-linecap="round" />
<path d="M314.25,203.75 L315.90,199.50" fill="none" stroke="#eda47c" stroke-width="1.35" stroke-linejoin="round" stroke-linecap="round" />
<path d="M348.80,202.70 L352.40,206.00" fill="none" stroke="#f2c21a" stroke-width="1.35" stroke-linejoin="round" stroke-linecap="round" />
<path d="M352.40,206.00 L356.00,209.30" fill="none" stroke="#eda47c" stroke-width="1.35" stroke-linejoin="round" stroke-linecap="round" />
<path d="M356.00,209.30 L354.35,213.25" fill="none" stroke="#eda47c" stroke-width="1.35" stroke-linejoin="round" stroke-linecap="round" />
<path d="M354.35,213.25 L352.70,217.20" fill="none" stroke="#eda47c" stroke-width="1.35" stroke-linejoin="round" stroke-linecap="round" />
<path d="M352.70,217.20 L347.45,217.20" fill="none" stroke="#eda47c" stroke-width="1.35" stroke-linejoin="round" stroke-linecap="round" />
<path d="M347.45,217.20 L342.20,217.20" fill="none" stroke="#eda47c" stroke-width="1.35" stroke-linejoin="round" stroke-linecap="round" />
<path d="M342.20,217.20 L340.90,213.25" fill="none" stroke="#eda47c" stroke-width="1.35" stroke-linejoin="round" stroke-linecap="round" />
<path d="M340.90,213.25 L339.60,209.30" fill="none" stroke="#eda47c" stroke-width="1.35" stroke-linejoin="round" stroke-linecap="round" />
<path d="M339.60,209.30 L344.20,206.00" fill="none" stroke="#eda47c" stroke-width="1.35" stroke-linejoin="round" stroke-linecap="round" />
<path d="M344.20,206.00 L348.80,202.70" fill="none" stroke="#f2c21a" stroke-width="1.35" stroke-linejoin="round" stroke-linecap="round" />
<path d="M371.80,200.10 L376.70,200.75" fill="none" stroke="#eda47c" stroke-width="1.35" stroke-linejoin="round" stroke-linecap="round" />
<path d="M376.70,200.75 L381.60,201.40" fill="none" stroke="#eda47c" stroke-width="1.35" stroke-linejoin="round" stroke-linecap="round" />
<path d="M381.60,201.40 L383.25,205.35" fill="none" stroke="#eda47c" stroke-width="1.35" stroke-linejoin="round" stroke-linecap="round" />
<path d="M383.25,205.35 L384.90,209.30" fill="none" stroke="#eda47c" stroke-width="1.35" stroke-linejoin="round" stroke-linecap="round" />
<path d="M384.90,209.30 L380.30,212.60" fill="none" stroke="#eda47c" stroke-width="1.35" stroke-linejoin="round" stroke-linecap="round" />
<path d="M380.30,212.60 L375.70,215.90" fill="none" stroke="#f2c21a" stroke-width="1.35" stroke-linejoin="round" stroke-linecap="round" />
<path d="M375.70,215.90 L371.75,212.25" fill="none" stroke="#f2c21a" stroke-width="1.35" stroke-linejoin="round" stroke-linecap="round" />
<path d="M371.75,212.25 L367.80,208.60" fill="none" stroke="#eda47c" stroke-width="1.35" stroke-linejoin="round" stroke-linecap="round" />
<path d="M367.80,208.60 L369.80,204.35" fill="none" stroke="#eda47c" stroke-width="1.35" stroke-linejoin="round" stroke-linecap="round" />
<path d="M369.80,204.35 L371.80,200.10" fill="none" stroke="#eda47c" stroke-width="1.35" stroke-linejoin="round" stroke-linecap="round" />
<path d="M313.00,212.50 L385.40,214.80" fill="none" stroke="#9a9ae8" stroke-width="1.9" stroke-linejoin="round" stroke-linecap="round" />
<path d="M315.00,213.10 L383.40,215.40" fill="none" stroke="#6868c0" stroke-width="0.7" stroke-linejoin="round" stroke-linecap="round" opacity="0.7"/>
<path d="M318.79,212.68 L323.79,212.84" fill="none" stroke="#f2c21a" stroke-width="1.6" stroke-linejoin="round" stroke-linecap="round" />
<path d="M345.58,213.53 L350.58,213.69" fill="none" stroke="#f2c21a" stroke-width="1.6" stroke-linejoin="round" stroke-linecap="round" />
<path d="M374.54,214.46 L379.54,214.61" fill="none" stroke="#f2c21a" stroke-width="1.6" stroke-linejoin="round" stroke-linecap="round" />
<path d="M327.10,227.90 L337.00,229.90" fill="none" stroke="#eda47c" stroke-width="1.35" stroke-linejoin="round" stroke-linecap="round" />
<path d="M353.40,229.90 L365.20,229.20" fill="none" stroke="#eda47c" stroke-width="1.35" stroke-linejoin="round" stroke-linecap="round" />
<path d="M313.30,220.10 L318.55,219.75" fill="none" stroke="#eda47c" stroke-width="1.35" stroke-linejoin="round" stroke-linecap="round" />
<path d="M318.55,219.75 L323.80,219.40" fill="none" stroke="#eda47c" stroke-width="1.35" stroke-linejoin="round" stroke-linecap="round" />
<path d="M323.80,219.40 L325.45,223.65" fill="none" stroke="#eda47c" stroke-width="1.35" stroke-linejoin="round" stroke-linecap="round" />
<path d="M325.45,223.65 L327.10,227.90" fill="none" stroke="#eda47c" stroke-width="1.35" stroke-linejoin="round" stroke-linecap="round" />
<path d="M327.10,227.90 L323.50,230.85" fill="none" stroke="#eda47c" stroke-width="1.35" stroke-linejoin="round" stroke-linecap="round" />
<path d="M323.50,230.85 L319.90,233.80" fill="none" stroke="#f2c21a" stroke-width="1.35" stroke-linejoin="round" stroke-linecap="round" />
<path d="M319.90,233.80 L314.95,231.20" fill="none" stroke="#f2c21a" stroke-width="1.35" stroke-linejoin="round" stroke-linecap="round" />
<path d="M314.95,231.20 L310.00,228.60" fill="none" stroke="#eda47c" stroke-width="1.35" stroke-linejoin="round" stroke-linecap="round" />
<path d="M310.00,228.60 L311.65,224.35" fill="none" stroke="#eda47c" stroke-width="1.35" stroke-linejoin="round" stroke-linecap="round" />
<path d="M311.65,224.35 L313.30,220.10" fill="none" stroke="#eda47c" stroke-width="1.35" stroke-linejoin="round" stroke-linecap="round" />
<path d="M346.20,223.30 L349.80,226.60" fill="none" stroke="#f2c21a" stroke-width="1.35" stroke-linejoin="round" stroke-linecap="round" />
<path d="M349.80,226.60 L353.40,229.90" fill="none" stroke="#eda47c" stroke-width="1.35" stroke-linejoin="round" stroke-linecap="round" />
<path d="M353.40,229.90 L351.75,233.85" fill="none" stroke="#eda47c" stroke-width="1.35" stroke-linejoin="round" stroke-linecap="round" />
<path d="M351.75,233.85 L350.10,237.80" fill="none" stroke="#eda47c" stroke-width="1.35" stroke-linejoin="round" stroke-linecap="round" />
<path d="M350.10,237.80 L344.85,237.80" fill="none" stroke="#eda47c" stroke-width="1.35" stroke-linejoin="round" stroke-linecap="round" />
<path d="M344.85,237.80 L339.60,237.80" fill="none" stroke="#eda47c" stroke-width="1.35" stroke-linejoin="round" stroke-linecap="round" />
<path d="M339.60,237.80 L338.30,233.85" fill="none" stroke="#eda47c" stroke-width="1.35" stroke-linejoin="round" stroke-linecap="round" />
<path d="M338.30,233.85 L337.00,229.90" fill="none" stroke="#eda47c" stroke-width="1.35" stroke-linejoin="round" stroke-linecap="round" />
<path d="M337.00,229.90 L341.60,226.60" fill="none" stroke="#eda47c" stroke-width="1.35" stroke-linejoin="round" stroke-linecap="round" />
<path d="M341.60,226.60 L346.20,223.30" fill="none" stroke="#f2c21a" stroke-width="1.35" stroke-linejoin="round" stroke-linecap="round" />
<path d="M369.20,220.70 L374.10,221.35" fill="none" stroke="#eda47c" stroke-width="1.35" stroke-linejoin="round" stroke-linecap="round" />
<path d="M374.10,221.35 L379.00,222.00" fill="none" stroke="#eda47c" stroke-width="1.35" stroke-linejoin="round" stroke-linecap="round" />
<path d="M379.00,222.00 L380.65,225.95" fill="none" stroke="#eda47c" stroke-width="1.35" stroke-linejoin="round" stroke-linecap="round" />
<path d="M380.65,225.95 L382.30,229.90" fill="none" stroke="#eda47c" stroke-width="1.35" stroke-linejoin="round" stroke-linecap="round" />
<path d="M382.30,229.90 L377.70,233.20" fill="none" stroke="#eda47c" stroke-width="1.35" stroke-linejoin="round" stroke-linecap="round" />
<path d="M377.70,233.20 L373.10,236.50" fill="none" stroke="#f2c21a" stroke-width="1.35" stroke-linejoin="round" stroke-linecap="round" />
<path d="M373.10,236.50 L369.15,232.85" fill="none" stroke="#f2c21a" stroke-width="1.35" stroke-linejoin="round" stroke-linecap="round" />
<path d="M369.15,232.85 L365.20,229.20" fill="none" stroke="#eda47c" stroke-width="1.35" stroke-linejoin="round" stroke-linecap="round" />
<path d="M365.20,229.20 L367.20,224.95" fill="none" stroke="#eda47c" stroke-width="1.35" stroke-linejoin="round" stroke-linecap="round" />
<path d="M367.20,224.95 L369.20,220.70" fill="none" stroke="#eda47c" stroke-width="1.35" stroke-linejoin="round" stroke-linecap="round" />
<path d="M322.30,242.60 L396.00,240.40" fill="none" stroke="#eda47c" stroke-width="1.9" stroke-linejoin="round" stroke-linecap="round" />
<path d="M324.30,243.20 L394.00,241.00" fill="none" stroke="#b87050" stroke-width="0.7" stroke-linejoin="round" stroke-linecap="round" opacity="0.7"/>
<path d="M328.20,242.42 L333.20,242.27" fill="none" stroke="#f2c21a" stroke-width="1.6" stroke-linejoin="round" stroke-linecap="round" />
<path d="M355.47,241.61 L360.47,241.46" fill="none" stroke="#f2c21a" stroke-width="1.6" stroke-linejoin="round" stroke-linecap="round" />
<path d="M384.94,240.73 L389.94,240.58" fill="none" stroke="#f2c21a" stroke-width="1.6" stroke-linejoin="round" stroke-linecap="round" />
<path d="M335.10,255.50 L345.00,257.50" fill="none" stroke="#9a9ae8" stroke-width="1.35" stroke-linejoin="round" stroke-linecap="round" />
<path d="M361.40,257.50 L373.20,256.80" fill="none" stroke="#9a9ae8" stroke-width="1.35" stroke-linejoin="round" stroke-linecap="round" />
<path d="M321.30,247.70 L326.55,247.35" fill="none" stroke="#9a9ae8" stroke-width="1.35" stroke-linejoin="round" stroke-linecap="round" />
<path d="M326.55,247.35 L331.80,247.00" fill="none" stroke="#9a9ae8" stroke-width="1.35" stroke-linejoin="round" stroke-linecap="round" />
<path d="M331.80,247.00 L333.45,251.25" fill="none" stroke="#9a9ae8" stroke-width="1.35" stroke-linejoin="round" stroke-linecap="round" />
<path d="M333.45,251.25 L335.10,255.50" fill="none" stroke="#9a9ae8" stroke-width="1.35" stroke-linejoin="round" stroke-linecap="round" />
<path d="M335.10,255.50 L331.50,258.45" fill="none" stroke="#9a9ae8" stroke-width="1.35" stroke-linejoin="round" stroke-linecap="round" />
<path d="M331.50,258.45 L327.90,261.40" fill="none" stroke="#f2c21a" stroke-width="1.35" stroke-linejoin="round" stroke-linecap="round" />
<path d="M327.90,261.40 L322.95,258.80" fill="none" stroke="#f2c21a" stroke-width="1.35" stroke-linejoin="round" stroke-linecap="round" />
<path d="M322.95,258.80 L318.00,256.20" fill="none" stroke="#9a9ae8" stroke-width="1.35" stroke-linejoin="round" stroke-linecap="round" />
<path d="M318.00,256.20 L319.65,251.95" fill="none" stroke="#9a9ae8" stroke-width="1.35" stroke-linejoin="round" stroke-linecap="round" />
<path d="M319.65,251.95 L321.30,247.70" fill="none" stroke="#9a9ae8" stroke-width="1.35" stroke-linejoin="round" stroke-linecap="round" />
<path d="M354.20,250.90 L357.80,254.20" fill="none" stroke="#f2c21a" stroke-width="1.35" stroke-linejoin="round" stroke-linecap="round" />
<path d="M357.80,254.20 L361.40,257.50" fill="none" stroke="#9a9ae8" stroke-width="1.35" stroke-linejoin="round" stroke-linecap="round" />
<path d="M361.40,257.50 L359.75,261.45" fill="none" stroke="#9a9ae8" stroke-width="1.35" stroke-linejoin="round" stroke-linecap="round" />
<path d="M359.75,261.45 L358.10,265.40" fill="none" stroke="#9a9ae8" stroke-width="1.35" stroke-linejoin="round" stroke-linecap="round" />
<path d="M358.10,265.40 L352.85,265.40" fill="none" stroke="#9a9ae8" stroke-width="1.35" stroke-linejoin="round" stroke-linecap="round" />
<path d="M352.85,265.40 L347.60,265.40" fill="none" stroke="#9a9ae8" stroke-width="1.35" stroke-linejoin="round" stroke-linecap="round" />
<path d="M347.60,265.40 L346.30,261.45" fill="none" stroke="#9a9ae8" stroke-width="1.35" stroke-linejoin="round" stroke-linecap="round" />
<path d="M346.30,261.45 L345.00,257.50" fill="none" stroke="#9a9ae8" stroke-width="1.35" stroke-linejoin="round" stroke-linecap="round" />
<path d="M345.00,257.50 L349.60,254.20" fill="none" stroke="#9a9ae8" stroke-width="1.35" stroke-linejoin="round" stroke-linecap="round" />
<path d="M349.60,254.20 L354.20,250.90" fill="none" stroke="#f2c21a" stroke-width="1.35" stroke-linejoin="round" stroke-linecap="round" />
<path d="M377.20,248.30 L382.10,248.95" fill="none" stroke="#9a9ae8" stroke-width="1.35" stroke-linejoin="round" stroke-linecap="round" />
<path d="M382.10,248.95 L387.00,249.60" fill="none" stroke="#9a9ae8" stroke-width="1.35" stroke-linejoin="round" stroke-linecap="round" />
<path d="M387.00,249.60 L388.65,253.55" fill="none" stroke="#9a9ae8" stroke-width="1.35" stroke-linejoin="round" stroke-linecap="round" />
<path d="M388.65,253.55 L390.30,257.50" fill="none" stroke="#9a9ae8" stroke-width="1.35" stroke-linejoin="round" stroke-linecap="round" />
<path d="M390.30,257.50 L385.70,260.80" fill="none" stroke="#9a9ae8" stroke-width="1.35" stroke-linejoin="round" stroke-linecap="round" />
<path d="M385.70,260.80 L381.10,264.10" fill="none" stroke="#f2c21a" stroke-width="1.35" stroke-linejoin="round" stroke-linecap="round" />
<path d="M381.10,264.10 L377.15,260.45" fill="none" stroke="#f2c21a" stroke-width="1.35" stroke-linejoin="round" stroke-linecap="round" />
<path d="M377.15,260.45 L373.20,256.80" fill="none" stroke="#9a9ae8" stroke-width="1.35" stroke-linejoin="round" stroke-linecap="round" />
<path d="M373.20,256.80 L375.20,252.55" fill="none" stroke="#9a9ae8" stroke-width="1.35" stroke-linejoin="round" stroke-linecap="round" />
<path d="M375.20,252.55 L377.20,248.30" fill="none" stroke="#9a9ae8" stroke-width="1.35" stroke-linejoin="round" stroke-linecap="round" />
<path d="M318.40,262.40 L392.00,260.60" fill="none" stroke="#eda47c" stroke-width="1.9" stroke-linejoin="round" stroke-linecap="round" />
<path d="M320.40,263.00 L390.00,261.20" fill="none" stroke="#b87050" stroke-width="0.7" stroke-linejoin="round" stroke-linecap="round" opacity="0.7"/>
<path d="M324.29,262.26 L329.29,262.13" fill="none" stroke="#f2c21a" stroke-width="1.6" stroke-linejoin="round" stroke-linecap="round" />
<path d="M351.52,261.59 L356.52,261.47" fill="none" stroke="#f2c21a" stroke-width="1.6" stroke-linejoin="round" stroke-linecap="round" />
<path d="M380.96,260.87 L385.96,260.75" fill="none" stroke="#f2c21a" stroke-width="1.6" stroke-linejoin="round" stroke-linecap="round" />
<path d="M330.70,275.30 L340.60,277.30" fill="none" stroke="#9a9ae8" stroke-width="1.35" stroke-linejoin="round" stroke-linecap="round" />
<path d="M357.00,277.30 L368.80,276.60" fill="none" stroke="#9a9ae8" stroke-width="1.35" stroke-linejoin="round" stroke-linecap="round" />
<path d="M316.90,267.50 L322.15,267.15" fill="none" stroke="#9a9ae8" stroke-width="1.35" stroke-linejoin="round" stroke-linecap="round" />
<path d="M322.15,267.15 L327.40,266.80" fill="none" stroke="#9a9ae8" stroke-width="1.35" stroke-linejoin="round" stroke-linecap="round" />
<path d="M327.40,266.80 L329.05,271.05" fill="none" stroke="#9a9ae8" stroke-width="1.35" stroke-linejoin="round" stroke-linecap="round" />
<path d="M329.05,271.05 L330.70,275.30" fill="none" stroke="#9a9ae8" stroke-width="1.35" stroke-linejoin="round" stroke-linecap="round" />
<path d="M330.70,275.30 L327.10,278.25" fill="none" stroke="#9a9ae8" stroke-width="1.35" stroke-linejoin="round" stroke-linecap="round" />
<path d="M327.10,278.25 L323.50,281.20" fill="none" stroke="#f2c21a" stroke-width="1.35" stroke-linejoin="round" stroke-linecap="round" />
<path d="M323.50,281.20 L318.55,278.60" fill="none" stroke="#f2c21a" stroke-width="1.35" stroke-linejoin="round" stroke-linecap="round" />
<path d="M318.55,278.60 L313.60,276.00" fill="none" stroke="#9a9ae8" stroke-width="1.35" stroke-linejoin="round" stroke-linecap="round" />
<path d="M313.60,276.00 L315.25,271.75" fill="none" stroke="#9a9ae8" stroke-width="1.35" stroke-linejoin="round" stroke-linecap="round" />
<path d="M315.25,271.75 L316.90,267.50" fill="none" stroke="#9a9ae8" stroke-width="1.35" stroke-linejoin="round" stroke-linecap="round" />
<path d="M349.80,270.70 L353.40,274.00" fill="none" stroke="#f2c21a" stroke-width="1.35" stroke-linejoin="round" stroke-linecap="round" />
<path d="M353.40,274.00 L357.00,277.30" fill="none" stroke="#9a9ae8" stroke-width="1.35" stroke-linejoin="round" stroke-linecap="round" />
<path d="M357.00,277.30 L355.35,281.25" fill="none" stroke="#9a9ae8" stroke-width="1.35" stroke-linejoin="round" stroke-linecap="round" />
<path d="M355.35,281.25 L353.70,285.20" fill="none" stroke="#9a9ae8" stroke-width="1.35" stroke-linejoin="round" stroke-linecap="round" />
<path d="M353.70,285.20 L348.45,285.20" fill="none" stroke="#9a9ae8" stroke-width="1.35" stroke-linejoin="round" stroke-linecap="round" />
<path d="M348.45,285.20 L343.20,285.20" fill="none" stroke="#9a9ae8" stroke-width="1.35" stroke-linejoin="round" stroke-linecap="round" />
<path d="M343.20,285.20 L341.90,281.25" fill="none" stroke="#9a9ae8" stroke-width="1.35" stroke-linejoin="round" stroke-linecap="round" />
<path d="M341.90,281.25 L340.60,277.30" fill="none" stroke="#9a9ae8" stroke-width="1.35" stroke-linejoin="round" stroke-linecap="round" />
<path d="M340.60,277.30 L345.20,274.00" fill="none" stroke="#9a9ae8" stroke-width="1.35" stroke-linejoin="round" stroke-linecap="round" />
<path d="M345.20,274.00 L349.80,270.70" fill="none" stroke="#f2c21a" stroke-width="1.35" stroke-linejoin="round" stroke-linecap="round" />
<path d="M372.80,268.10 L377.70,268.75" fill="none" stroke="#9a9ae8" stroke-width="1.35" stroke-linejoin="round" stroke-linecap="round" />
<path d="M377.70,268.75 L382.60,269.40" fill="none" stroke="#9a9ae8" stroke-width="1.35" stroke-linejoin="round" stroke-linecap="round" />
<path d="M382.60,269.40 L384.25,273.35" fill="none" stroke="#9a9ae8" stroke-width="1.35" stroke-linejoin="round" stroke-linecap="round" />
<path d="M384.25,273.35 L385.90,277.30" fill="none" stroke="#9a9ae8" stroke-width="1.35" stroke-linejoin="round" stroke-linecap="round" />
<path d="M385.90,277.30 L381.30,280.60" fill="none" stroke="#9a9ae8" stroke-width="1.35" stroke-linejoin="round" stroke-linecap="round" />
<path d="M381.30,280.60 L376.70,283.90" fill="none" stroke="#f2c21a" stroke-width="1.35" stroke-linejoin="round" stroke-linecap="round" />
<path d="M376.70,283.90 L372.75,280.25" fill="none" stroke="#f2c21a" stroke-width="1.35" stroke-linejoin="round" stroke-linecap="round" />
<path d="M372.75,280.25 L368.80,276.60" fill="none" stroke="#9a9ae8" stroke-width="1.35" stroke-linejoin="round" stroke-linecap="round" />
<path d="M368.80,276.60 L370.80,272.35" fill="none" stroke="#9a9ae8" stroke-width="1.35" stroke-linejoin="round" stroke-linecap="round" />
<path d="M370.80,272.35 L372.80,268.10" fill="none" stroke="#9a9ae8" stroke-width="1.35" stroke-linejoin="round" stroke-linecap="round" />
<path d="M427.30,182.30 L437.20,180.30" fill="none" stroke="#9a9ae8" stroke-width="1.35" stroke-linejoin="round" stroke-linecap="round" />
<path d="M453.60,180.30 L465.40,181.00" fill="none" stroke="#9a9ae8" stroke-width="1.35" stroke-linejoin="round" stroke-linecap="round" />
<path d="M413.50,190.10 L418.75,190.45" fill="none" stroke="#9a9ae8" stroke-width="1.35" stroke-linejoin="round" stroke-linecap="round" />
<path d="M418.75,190.45 L424.00,190.80" fill="none" stroke="#9a9ae8" stroke-width="1.35" stroke-linejoin="round" stroke-linecap="round" />
<path d="M424.00,190.80 L425.65,186.55" fill="none" stroke="#9a9ae8" stroke-width="1.35" stroke-linejoin="round" stroke-linecap="round" />
<path d="M425.65,186.55 L427.30,182.30" fill="none" stroke="#9a9ae8" stroke-width="1.35" stroke-linejoin="round" stroke-linecap="round" />
<path d="M427.30,182.30 L423.70,179.35" fill="none" stroke="#9a9ae8" stroke-width="1.35" stroke-linejoin="round" stroke-linecap="round" />
<path d="M423.70,179.35 L420.10,176.40" fill="none" stroke="#f2c21a" stroke-width="1.35" stroke-linejoin="round" stroke-linecap="round" />
<path d="M420.10,176.40 L415.15,179.00" fill="none" stroke="#f2c21a" stroke-width="1.35" stroke-linejoin="round" stroke-linecap="round" />
<path d="M415.15,179.00 L410.20,181.60" fill="none" stroke="#9a9ae8" stroke-width="1.35" stroke-linejoin="round" stroke-linecap="round" />
<path d="M410.20,181.60 L411.85,185.85" fill="none" stroke="#9a9ae8" stroke-width="1.35" stroke-linejoin="round" stroke-linecap="round" />
<path d="M411.85,185.85 L413.50,190.10" fill="none" stroke="#9a9ae8" stroke-width="1.35" stroke-linejoin="round" stroke-linecap="round" />
<path d="M446.40,186.90 L450.00,183.60" fill="none" stroke="#f2c21a" stroke-width="1.35" stroke-linejoin="round" stroke-linecap="round" />
<path d="M450.00,183.60 L453.60,180.30" fill="none" stroke="#9a9ae8" stroke-width="1.35" stroke-linejoin="round" stroke-linecap="round" />
<path d="M453.60,180.30 L451.95,176.35" fill="none" stroke="#9a9ae8" stroke-width="1.35" stroke-linejoin="round" stroke-linecap="round" />
<path d="M451.95,176.35 L450.30,172.40" fill="none" stroke="#9a9ae8" stroke-width="1.35" stroke-linejoin="round" stroke-linecap="round" />
<path d="M450.30,172.40 L445.05,172.40" fill="none" stroke="#9a9ae8" stroke-width="1.35" stroke-linejoin="round" stroke-linecap="round" />
<path d="M445.05,172.40 L439.80,172.40" fill="none" stroke="#9a9ae8" stroke-width="1.35" stroke-linejoin="round" stroke-linecap="round" />
<path d="M439.80,172.40 L438.50,176.35" fill="none" stroke="#9a9ae8" stroke-width="1.35" stroke-linejoin="round" stroke-linecap="round" />
<path d="M438.50,176.35 L437.20,180.30" fill="none" stroke="#9a9ae8" stroke-width="1.35" stroke-linejoin="round" stroke-linecap="round" />
<path d="M437.20,180.30 L441.80,183.60" fill="none" stroke="#9a9ae8" stroke-width="1.35" stroke-linejoin="round" stroke-linecap="round" />
<path d="M441.80,183.60 L446.40,186.90" fill="none" stroke="#f2c21a" stroke-width="1.35" stroke-linejoin="round" stroke-linecap="round" />
<path d="M469.40,189.50 L474.30,188.85" fill="none" stroke="#9a9ae8" stroke-width="1.35" stroke-linejoin="round" stroke-linecap="round" />
<path d="M474.30,188.85 L479.20,188.20" fill="none" stroke="#9a9ae8" stroke-width="1.35" stroke-linejoin="round" stroke-linecap="round" />
<path d="M479.20,188.20 L480.85,184.25" fill="none" stroke="#9a9ae8" stroke-width="1.35" stroke-linejoin="round" stroke-linecap="round" />
<path d="M480.85,184.25 L482.50,180.30" fill="none" stroke="#9a9ae8" stroke-width="1.35" stroke-linejoin="round" stroke-linecap="round" />
<path d="M482.50,180.30 L477.90,177.00" fill="none" stroke="#9a9ae8" stroke-width="1.35" stroke-linejoin="round" stroke-linecap="round" />
<path d="M477.90,177.00 L473.30,173.70" fill="none" stroke="#f2c21a" stroke-width="1.35" stroke-linejoin="round" stroke-linecap="round" />
<path d="M473.30,173.70 L469.35,177.35" fill="none" stroke="#f2c21a" stroke-width="1.35" stroke-linejoin="round" stroke-linecap="round" />
<path d="M469.35,177.35 L465.40,181.00" fill="none" stroke="#9a9ae8" stroke-width="1.35" stroke-linejoin="round" stroke-linecap="round" />
<path d="M465.40,181.00 L467.40,185.25" fill="none" stroke="#9a9ae8" stroke-width="1.35" stroke-linejoin="round" stroke-linecap="round" />
<path d="M467.40,185.25 L469.40,189.50" fill="none" stroke="#9a9ae8" stroke-width="1.35" stroke-linejoin="round" stroke-linecap="round" />
<path d="M405.80,196.40 L479.40,194.80" fill="none" stroke="#eda47c" stroke-width="1.9" stroke-linejoin="round" stroke-linecap="round" />
<path d="M407.80,197.00 L477.40,195.40" fill="none" stroke="#b87050" stroke-width="0.7" stroke-linejoin="round" stroke-linecap="round" opacity="0.7"/>
<path d="M411.69,196.27 L416.69,196.16" fill="none" stroke="#f2c21a" stroke-width="1.6" stroke-linejoin="round" stroke-linecap="round" />
<path d="M438.92,195.68 L443.92,195.57" fill="none" stroke="#f2c21a" stroke-width="1.6" stroke-linejoin="round" stroke-linecap="round" />
<path d="M468.36,195.04 L473.36,194.93" fill="none" stroke="#f2c21a" stroke-width="1.6" stroke-linejoin="round" stroke-linecap="round" />
<path d="M423.70,201.90 L433.60,199.90" fill="none" stroke="#9a9ae8" stroke-width="1.35" stroke-linejoin="round" stroke-linecap="round" />
<path d="M450.00,199.90 L461.80,200.60" fill="none" stroke="#9a9ae8" stroke-width="1.35" stroke-linejoin="round" stroke-linecap="round" />
<path d="M409.90,209.70 L415.15,210.05" fill="none" stroke="#9a9ae8" stroke-width="1.35" stroke-linejoin="round" stroke-linecap="round" />
<path d="M415.15,210.05 L420.40,210.40" fill="none" stroke="#9a9ae8" stroke-width="1.35" stroke-linejoin="round" stroke-linecap="round" />
<path d="M420.40,210.40 L422.05,206.15" fill="none" stroke="#9a9ae8" stroke-width="1.35" stroke-linejoin="round" stroke-linecap="round" />
<path d="M422.05,206.15 L423.70,201.90" fill="none" stroke="#9a9ae8" stroke-width="1.35" stroke-linejoin="round" stroke-linecap="round" />
<path d="M423.70,201.90 L420.10,198.95" fill="none" stroke="#9a9ae8" stroke-width="1.35" stroke-linejoin="round" stroke-linecap="round" />
<path d="M420.10,198.95 L416.50,196.00" fill="none" stroke="#f2c21a" stroke-width="1.35" stroke-linejoin="round" stroke-linecap="round" />
<path d="M416.50,196.00 L411.55,198.60" fill="none" stroke="#f2c21a" stroke-width="1.35" stroke-linejoin="round" stroke-linecap="round" />
<path d="M411.55,198.60 L406.60,201.20" fill="none" stroke="#9a9ae8" stroke-width="1.35" stroke-linejoin="round" stroke-linecap="round" />
<path d="M406.60,201.20 L408.25,205.45" fill="none" stroke="#9a9ae8" stroke-width="1.35" stroke-linejoin="round" stroke-linecap="round" />
<path d="M408.25,205.45 L409.90,209.70" fill="none" stroke="#9a9ae8" stroke-width="1.35" stroke-linejoin="round" stroke-linecap="round" />
<path d="M442.80,206.50 L446.40,203.20" fill="none" stroke="#f2c21a" stroke-width="1.35" stroke-linejoin="round" stroke-linecap="round" />
<path d="M446.40,203.20 L450.00,199.90" fill="none" stroke="#9a9ae8" stroke-width="1.35" stroke-linejoin="round" stroke-linecap="round" />
<path d="M450.00,199.90 L448.35,195.95" fill="none" stroke="#9a9ae8" stroke-width="1.35" stroke-linejoin="round" stroke-linecap="round" />
<path d="M448.35,195.95 L446.70,192.00" fill="none" stroke="#9a9ae8" stroke-width="1.35" stroke-linejoin="round" stroke-linecap="round" />
<path d="M446.70,192.00 L441.45,192.00" fill="none" stroke="#9a9ae8" stroke-width="1.35" stroke-linejoin="round" stroke-linecap="round" />
<path d="M441.45,192.00 L436.20,192.00" fill="none" stroke="#9a9ae8" stroke-width="1.35" stroke-linejoin="round" stroke-linecap="round" />
<path d="M436.20,192.00 L434.90,195.95" fill="none" stroke="#9a9ae8" stroke-width="1.35" stroke-linejoin="round" stroke-linecap="round" />
<path d="M434.90,195.95 L433.60,199.90" fill="none" stroke="#9a9ae8" stroke-width="1.35" stroke-linejoin="round" stroke-linecap="round" />
<path d="M433.60,199.90 L438.20,203.20" fill="none" stroke="#9a9ae8" stroke-width="1.35" stroke-linejoin="round" stroke-linecap="round" />
<path d="M438.20,203.20 L442.80,206.50" fill="none" stroke="#f2c21a" stroke-width="1.35" stroke-linejoin="round" stroke-linecap="round" />
<path d="M465.80,209.10 L470.70,208.45" fill="none" stroke="#9a9ae8" stroke-width="1.35" stroke-linejoin="round" stroke-linecap="round" />
<path d="M470.70,208.45 L475.60,207.80" fill="none" stroke="#9a9ae8" stroke-width="1.35" stroke-linejoin="round" stroke-linecap="round" />
<path d="M475.60,207.80 L477.25,203.85" fill="none" stroke="#9a9ae8" stroke-width="1.35" stroke-linejoin="round" stroke-linecap="round" />
<path d="M477.25,203.85 L478.90,199.90" fill="none" stroke="#9a9ae8" stroke-width="1.35" stroke-linejoin="round" stroke-linecap="round" />
<path d="M478.90,199.90 L474.30,196.60" fill="none" stroke="#9a9ae8" stroke-width="1.35" stroke-linejoin="round" stroke-linecap="round" />
<path d="M474.30,196.60 L469.70,193.30" fill="none" stroke="#f2c21a" stroke-width="1.35" stroke-linejoin="round" stroke-linecap="round" />
<path d="M469.70,193.30 L465.75,196.95" fill="none" stroke="#f2c21a" stroke-width="1.35" stroke-linejoin="round" stroke-linecap="round" />
<path d="M465.75,196.95 L461.80,200.60" fill="none" stroke="#9a9ae8" stroke-width="1.35" stroke-linejoin="round" stroke-linecap="round" />
<path d="M461.80,200.60 L463.80,204.85" fill="none" stroke="#9a9ae8" stroke-width="1.35" stroke-linejoin="round" stroke-linecap="round" />
<path d="M463.80,204.85 L465.80,209.10" fill="none" stroke="#9a9ae8" stroke-width="1.35" stroke-linejoin="round" stroke-linecap="round" />
<path d="M402.30,215.90 L475.90,214.20" fill="none" stroke="#eda47c" stroke-width="1.9" stroke-linejoin="round" stroke-linecap="round" />
<path d="M404.30,216.50 L473.90,214.80" fill="none" stroke="#b87050" stroke-width="0.7" stroke-linejoin="round" stroke-linecap="round" opacity="0.7"/>
<path d="M408.19,215.76 L413.19,215.65" fill="none" stroke="#f2c21a" stroke-width="1.6" stroke-linejoin="round" stroke-linecap="round" />
<path d="M435.42,215.13 L440.42,215.02" fill="none" stroke="#f2c21a" stroke-width="1.6" stroke-linejoin="round" stroke-linecap="round" />
<path d="M464.86,214.45 L469.86,214.34" fill="none" stroke="#f2c21a" stroke-width="1.6" stroke-linejoin="round" stroke-linecap="round" />
<path d="M434.10,229.90 L444.00,227.90" fill="none" stroke="#eda47c" stroke-width="1.35" stroke-linejoin="round" stroke-linecap="round" />
<path d="M460.40,227.90 L472.20,228.60" fill="none" stroke="#eda47c" stroke-width="1.35" stroke-linejoin="round" stroke-linecap="round" />
<path d="M420.30,237.70 L425.55,238.05" fill="none" stroke="#eda47c" stroke-width="1.35" stroke-linejoin="round" stroke-linecap="round" />
<path d="M425.55,238.05 L430.80,238.40" fill="none" stroke="#eda47c" stroke-width="1.35" stroke-linejoin="round" stroke-linecap="round" />
<path d="M430.80,238.40 L432.45,234.15" fill="none" stroke="#eda47c" stroke-width="1.35" stroke-linejoin="round" stroke-linecap="round" />
<path d="M432.45,234.15 L434.10,229.90" fill="none" stroke="#eda47c" stroke-width="1.35" stroke-linejoin="round" stroke-linecap="round" />
<path d="M434.10,229.90 L430.50,226.95" fill="none" stroke="#eda47c" stroke-width="1.35" stroke-linejoin="round" stroke-linecap="round" />
<path d="M430.50,226.95 L426.90,224.00" fill="none" stroke="#f2c21a" stroke-width="1.35" stroke-linejoin="round" stroke-linecap="round" />
<path d="M426.90,224.00 L421.95,226.60" fill="none" stroke="#f2c21a" stroke-width="1.35" stroke-linejoin="round" stroke-linecap="round" />
<path d="M421.95,226.60 L417.00,229.20" fill="none" stroke="#eda47c" stroke-width="1.35" stroke-linejoin="round" stroke-linecap="round" />
<path d="M417.00,229.20 L418.65,233.45" fill="none" stroke="#eda47c" stroke-width="1.35" stroke-linejoin="round" stroke-linecap="round" />
<path d="M418.65,233.45 L420.30,237.70" fill="none" stroke="#eda47c" stroke-width="1.35" stroke-linejoin="round" stroke-linecap="round" />
<path d="M453.20,234.50 L456.80,231.20" fill="none" stroke="#f2c21a" stroke-width="1.35" stroke-linejoin="round" stroke-linecap="round" />
<path d="M456.80,231.20 L460.40,227.90" fill="none" stroke="#eda47c" stroke-width="1.35" stroke-linejoin="round" stroke-linecap="round" />
<path d="M460.40,227.90 L458.75,223.95" fill="none" stroke="#eda47c" stroke-width="1.35" stroke-linejoin="round" stroke-linecap="round" />
<path d="M458.75,223.95 L457.10,220.00" fill="none" stroke="#eda47c" stroke-width="1.35" stroke-linejoin="round" stroke-linecap="round" />
<path d="M457.10,220.00 L451.85,220.00" fill="none" stroke="#eda47c" stroke-width="1.35" stroke-linejoin="round" stroke-linecap="round" />
<path d="M451.85,220.00 L446.60,220.00" fill="none" stroke="#eda47c" stroke-width="1.35" stroke-linejoin="round" stroke-linecap="round" />
<path d="M446.60,220.00 L445.30,223.95" fill="none" stroke="#eda47c" stroke-width="1.35" stroke-linejoin="round" stroke-linecap="round" />
<path d="M445.30,223.95 L444.00,227.90" fill="none" stroke="#eda47c" stroke-width="1.35" stroke-linejoin="round" stroke-linecap="round" />
<path d="M444.00,227.90 L448.60,231.20" fill="none" stroke="#eda47c" stroke-width="1.35" stroke-linejoin="round" stroke-linecap="round" />
<path d="M448.60,231.20 L453.20,234.50" fill="none" stroke="#f2c21a" stroke-width="1.35" stroke-linejoin="round" stroke-linecap="round" />
<path d="M476.20,237.10 L481.10,236.45" fill="none" stroke="#eda47c" stroke-width="1.35" stroke-linejoin="round" stroke-linecap="round" />
<path d="M481.10,236.45 L486.00,235.80" fill="none" stroke="#eda47c" stroke-width="1.35" stroke-linejoin="round" stroke-linecap="round" />
<path d="M486.00,235.80 L487.65,231.85" fill="none" stroke="#eda47c" stroke-width="1.35" stroke-linejoin="round" stroke-linecap="round" />
<path d="M487.65,231.85 L489.30,227.90" fill="none" stroke="#eda47c" stroke-width="1.35" stroke-linejoin="round" stroke-linecap="round" />
<path d="M489.30,227.90 L484.70,224.60" fill="none" stroke="#eda47c" stroke-width="1.35" stroke-linejoin="round" stroke-linecap="round" />
<path d="M484.70,224.60 L480.10,221.30" fill="none" stroke="#f2c21a" stroke-width="1.35" stroke-linejoin="round" stroke-linecap="round" />
<path d="M480.10,221.30 L476.15,224.95" fill="none" stroke="#f2c21a" stroke-width="1.35" stroke-linejoin="round" stroke-linecap="round" />
<path d="M476.15,224.95 L472.20,228.60" fill="none" stroke="#eda47c" stroke-width="1.35" stroke-linejoin="round" stroke-linecap="round" />
<path d="M472.20,228.60 L474.20,232.85" fill="none" stroke="#eda47c" stroke-width="1.35" stroke-linejoin="round" stroke-linecap="round" />
<path d="M474.20,232.85 L476.20,237.10" fill="none" stroke="#eda47c" stroke-width="1.35" stroke-linejoin="round" stroke-linecap="round" />
<path d="M412.80,243.60 L485.30,244.80" fill="none" stroke="#9a9ae8" stroke-width="1.9" stroke-linejoin="round" stroke-linecap="round" />
<path d="M414.80,244.20 L483.30,245.40" fill="none" stroke="#6868c0" stroke-width="0.7" stroke-linejoin="round" stroke-linecap="round" opacity="0.7"/>
<path d="M418.60,243.70 L423.60,243.78" fill="none" stroke="#f2c21a" stroke-width="1.6" stroke-linejoin="round" stroke-linecap="round" />
<path d="M445.43,244.14 L450.43,244.22" fill="none" stroke="#f2c21a" stroke-width="1.6" stroke-linejoin="round" stroke-linecap="round" />
<path d="M474.43,244.62 L479.43,244.70" fill="none" stroke="#f2c21a" stroke-width="1.6" stroke-linejoin="round" stroke-linecap="round" />
<path d="M430.70,249.70 L440.60,247.70" fill="none" stroke="#eda47c" stroke-width="1.35" stroke-linejoin="round" stroke-linecap="round" />
<path d="M457.00,247.70 L468.80,248.40" fill="none" stroke="#eda47c" stroke-width="1.35" stroke-linejoin="round" stroke-linecap="round" />
<path d="M416.90,257.50 L422.15,257.85" fill="none" stroke="#eda47c" stroke-width="1.35" stroke-linejoin="round" stroke-linecap="round" />
<path d="M422.15,257.85 L427.40,258.20" fill="none" stroke="#eda47c" stroke-width="1.35" stroke-linejoin="round" stroke-linecap="round" />
<path d="M427.40,258.20 L429.05,253.95" fill="none" stroke="#eda47c" stroke-width="1.35" stroke-linejoin="round" stroke-linecap="round" />
<path d="M429.05,253.95 L430.70,249.70" fill="none" stroke="#eda47c" stroke-width="1.35" stroke-linejoin="round" stroke-linecap="round" />
<path d="M430.70,249.70 L427.10,246.75" fill="none" stroke="#eda47c" stroke-width="1.35" stroke-linejoin="round" stroke-linecap="round" />
<path d="M427.10,246.75 L423.50,243.80" fill="none" stroke="#f2c21a" stroke-width="1.35" stroke-linejoin="round" stroke-linecap="round" />
<path d="M423.50,243.80 L418.55,246.40" fill="none" stroke="#f2c21a" stroke-width="1.35" stroke-linejoin="round" stroke-linecap="round" />
<path d="M418.55,246.40 L413.60,249.00" fill="none" stroke="#eda47c" stroke-width="1.35" stroke-linejoin="round" stroke-linecap="round" />
<path d="M413.60,249.00 L415.25,253.25" fill="none" stroke="#eda47c" stroke-width="1.35" stroke-linejoin="round" stroke-linecap="round" />
<path d="M415.25,253.25 L416.90,257.50" fill="none" stroke="#eda47c" stroke-width="1.35" stroke-linejoin="round" stroke-linecap="round" />
<path d="M449.80,254.30 L453.40,251.00" fill="none" stroke="#f2c21a" stroke-width="1.35" stroke-linejoin="round" stroke-linecap="round" />
<path d="M453.40,251.00 L457.00,247.70" fill="none" stroke="#eda47c" stroke-width="1.35" stroke-linejoin="round" stroke-linecap="round" />
<path d="M457.00,247.70 L455.35,243.75" fill="none" stroke="#eda47c" stroke-width="1.35" stroke-linejoin="round" stroke-linecap="round" />
<path d="M455.35,243.75 L453.70,239.80" fill="none" stroke="#eda47c" stroke-width="1.35" stroke-linejoin="round" stroke-linecap="round" />
<path d="M453.70,239.80 L448.45,239.80" fill="none" stroke="#eda47c" stroke-width="1.35" stroke-linejoin="round" stroke-linecap="round" />
<path d="M448.45,239.80 L443.20,239.80" fill="none" stroke="#eda47c" stroke-width="1.35" stroke-linejoin="round" stroke-linecap="round" />
<path d="M443.20,239.80 L441.90,243.75" fill="none" stroke="#eda47c" stroke-width="1.35" stroke-linejoin="round" stroke-linecap="round" />
<path d="M441.90,243.75 L440.60,247.70" fill="none" stroke="#eda47c" stroke-width="1.35" stroke-linejoin="round" stroke-linecap="round" />
<path d="M440.60,247.70 L445.20,251.00" fill="none" stroke="#eda47c" stroke-width="1.35" stroke-linejoin="round" stroke-linecap="round" />
<path d="M445.20,251.00 L449.80,254.30" fill="none" stroke="#f2c21a" stroke-width="1.35" stroke-linejoin="round" stroke-linecap="round" />
<path d="M472.80,256.90 L477.70,256.25" fill="none" stroke="#eda47c" stroke-width="1.35" stroke-linejoin="round" stroke-linecap="round" />
<path d="M477.70,256.25 L482.60,255.60" fill="none" stroke="#eda47c" stroke-width="1.35" stroke-linejoin="round" stroke-linecap="round" />
<path d="M482.60,255.60 L484.25,251.65" fill="none" stroke="#eda47c" stroke-width="1.35" stroke-linejoin="round" stroke-linecap="round" />
<path d="M484.25,251.65 L485.90,247.70" fill="none" stroke="#eda47c" stroke-width="1.35" stroke-linejoin="round" stroke-linecap="round" />
<path d="M485.90,247.70 L481.30,244.40" fill="none" stroke="#eda47c" stroke-width="1.35" stroke-linejoin="round" stroke-linecap="round" />
<path d="M481.30,244.40 L476.70,241.10" fill="none" stroke="#f2c21a" stroke-width="1.35" stroke-linejoin="round" stroke-linecap="round" />
<path d="M476.70,241.10 L472.75,244.75" fill="none" stroke="#f2c21a" stroke-width="1.35" stroke-linejoin="round" stroke-linecap="round" />
<path d="M472.75,244.75 L468.80,248.40" fill="none" stroke="#eda47c" stroke-width="1.35" stroke-linejoin="round" stroke-linecap="round" />
<path d="M468.80,248.40 L470.80,252.65" fill="none" stroke="#eda47c" stroke-width="1.35" stroke-linejoin="round" stroke-linecap="round" />
<path d="M470.80,252.65 L472.80,256.90" fill="none" stroke="#eda47c" stroke-width="1.35" stroke-linejoin="round" stroke-linecap="round" />
<path d="M409.30,263.80 L481.80,265.00" fill="none" stroke="#9a9ae8" stroke-width="1.9" stroke-linejoin="round" stroke-linecap="round" />
<path d="M411.30,264.40 L479.80,265.60" fill="none" stroke="#6868c0" stroke-width="0.7" stroke-linejoin="round" stroke-linecap="round" opacity="0.7"/>
<path d="M415.10,263.90 L420.10,263.98" fill="none" stroke="#f2c21a" stroke-width="1.6" stroke-linejoin="round" stroke-linecap="round" />
<path d="M441.93,264.34 L446.93,264.42" fill="none" stroke="#f2c21a" stroke-width="1.6" stroke-linejoin="round" stroke-linecap="round" />
<path d="M470.93,264.82 L475.93,264.90" fill="none" stroke="#f2c21a" stroke-width="1.6" stroke-linejoin="round" stroke-linecap="round" />
<path d="M495.80,256.10 L497.81,245.87" fill="none" stroke="#111" stroke-width="0.8" stroke-linejoin="round" stroke-linecap="round" />
<path d="M498.10,244.40 L498.95,247.83 L496.01,247.25 Z" fill="#111"/>
<text x="491.60" y="249.20" font-size="8.5" fill="#111" text-anchor="middle" font-weight="normal" font-family="Liberation Sans, sans-serif" >b</text>
<path d="M495.80,256.10 L507.10,256.10" fill="none" stroke="#111" stroke-width="0.8" stroke-linejoin="round" stroke-linecap="round" />
<path d="M508.60,256.10 L505.40,257.60 L505.40,254.60 Z" fill="#111"/>
<text x="506.60" y="265.00" font-size="8.5" fill="#111" text-anchor="middle" font-weight="normal" font-family="Liberation Sans, sans-serif" >c</text>
<path d="M495.80,256.10 L495.80,266.30" fill="none" stroke="#111" stroke-width="0.8" stroke-linejoin="round" stroke-linecap="round" />
<path d="M495.80,267.80 L494.30,264.60 L497.30,264.60 Z" fill="#111"/>
<text x="490.20" y="272.00" font-size="8.5" fill="#111" text-anchor="middle" font-weight="normal" font-family="Liberation Sans, sans-serif" >a</text>
<line x1="503.50" y1="166.00" x2="503.50" y2="295.00" stroke="#f3f3f3" stroke-width="0.8" />
<line x1="667.30" y1="299.00" x2="667.30" y2="413.00" stroke="#f0f0f0" stroke-width="0.8" />
<path d="M561.60,175.90 L579.60,175.70" fill="none" stroke="#9a9ae8" stroke-width="1.5" stroke-linejoin="round" stroke-linecap="round" />
<path d="M562.60,178.60 L582.60,178.80" fill="none" stroke="#9a9ae8" stroke-width="1.5" stroke-linejoin="round" stroke-linecap="round" />
<path d="M561.60,175.90 L563.60,178.60" fill="none" stroke="#9a9ae8" stroke-width="1.2" stroke-linejoin="round" stroke-linecap="round" />
<path d="M575.60,175.60 L580.60,175.40" fill="none" stroke="#f2c21a" stroke-width="1.5" stroke-linejoin="round" stroke-linecap="round" />
<path d="M566.60,178.50 L570.60,178.60" fill="none" stroke="#f2c21a" stroke-width="1.3" stroke-linejoin="round" stroke-linecap="round" />
<path d="M594.80,195.60 L612.80,195.40" fill="none" stroke="#9a9ae8" stroke-width="1.5" stroke-linejoin="round" stroke-linecap="round" />
<path d="M595.80,198.30 L615.80,198.50" fill="none" stroke="#9a9ae8" stroke-width="1.5" stroke-linejoin="round" stroke-linecap="round" />
<path d="M594.80,195.60 L596.80,198.30" fill="none" stroke="#9a9ae8" stroke-width="1.2" stroke-linejoin="round" stroke-linecap="round" />
<path d="M608.80,195.30 L613.80,195.10" fill="none" stroke="#f2c21a" stroke-width="1.5" stroke-linejoin="round" stroke-linecap="round" />
<path d="M599.80,198.20 L603.80,198.30" fill="none" stroke="#f2c21a" stroke-width="1.3" stroke-linejoin="round" stroke-linecap="round" />
<path d="M627.70,215.00 L645.70,214.80" fill="none" stroke="#9a9ae8" stroke-width="1.5" stroke-linejoin="round" stroke-linecap="round" />
<path d="M628.70,217.70 L648.70,217.90" fill="none" stroke="#9a9ae8" stroke-width="1.5" stroke-linejoin="round" stroke-linecap="round" />
<path d="M627.70,215.00 L629.70,217.70" fill="none" stroke="#9a9ae8" stroke-width="1.2" stroke-linejoin="round" stroke-linecap="round" />
<path d="M641.70,214.70 L646.70,214.50" fill="none" stroke="#f2c21a" stroke-width="1.5" stroke-linejoin="round" stroke-linecap="round" />
<path d="M632.70,217.60 L636.70,217.70" fill="none" stroke="#f2c21a" stroke-width="1.3" stroke-linejoin="round" stroke-linecap="round" />
<path d="M533.20,221.10 L554.20,222.30" fill="none" stroke="#eda47c" stroke-width="2.6" stroke-linejoin="round" stroke-linecap="round" />
<path d="M534.20,222.50 L553.20,223.30" fill="none" stroke="#b86840" stroke-width="0.8" stroke-linejoin="round" stroke-linecap="round" opacity="0.7"/>
<path d="M545.70,221.30 L550.70,221.70" fill="none" stroke="#f2c21a" stroke-width="1.5" stroke-linejoin="round" stroke-linecap="round" />
<path d="M539.70,222.30 L542.70,222.50" fill="none" stroke="#f2c21a" stroke-width="1.2" stroke-linejoin="round" stroke-linecap="round" />
<path d="M566.50,240.80 L587.50,242.00" fill="none" stroke="#eda47c" stroke-width="2.6" stroke-linejoin="round" stroke-linecap="round" />
<path d="M567.50,242.20 L586.50,243.00" fill="none" stroke="#b86840" stroke-width="0.8" stroke-linejoin="round" stroke-linecap="round" opacity="0.7"/>
<path d="M579.00,241.00 L584.00,241.40" fill="none" stroke="#f2c21a" stroke-width="1.5" stroke-linejoin="round" stroke-linecap="round" />
<path d="M573.00,242.00 L576.00,242.20" fill="none" stroke="#f2c21a" stroke-width="1.2" stroke-linejoin="round" stroke-linecap="round" />
<path d="M598.90,260.30 L619.90,261.50" fill="none" stroke="#eda47c" stroke-width="2.6" stroke-linejoin="round" stroke-linecap="round" />
<path d="M599.90,261.70 L618.90,262.50" fill="none" stroke="#b86840" stroke-width="0.8" stroke-linejoin="round" stroke-linecap="round" opacity="0.7"/>
<path d="M611.40,260.50 L616.40,260.90" fill="none" stroke="#f2c21a" stroke-width="1.5" stroke-linejoin="round" stroke-linecap="round" />
<path d="M605.40,261.50 L608.40,261.70" fill="none" stroke="#f2c21a" stroke-width="1.2" stroke-linejoin="round" stroke-linecap="round" />
<path d="M536.50,179.90 L547.30,198.80" fill="none" stroke="#eda47c" stroke-width="2.4" stroke-linejoin="round" stroke-linecap="round" />
<path d="M537.50,180.40 L548.30,199.30" fill="none" stroke="#b86840" stroke-width="0.8" stroke-linejoin="round" stroke-linecap="round" opacity="0.7"/>
<path d="M544.06,193.13 L545.68,195.97" fill="none" stroke="#f2c21a" stroke-width="1.5" stroke-linejoin="round" stroke-linecap="round" />
<path d="M569.70,200.10 L580.50,218.50" fill="none" stroke="#eda47c" stroke-width="2.4" stroke-linejoin="round" stroke-linecap="round" />
<path d="M570.70,200.60 L581.50,219.00" fill="none" stroke="#b86840" stroke-width="0.8" stroke-linejoin="round" stroke-linecap="round" opacity="0.7"/>
<path d="M577.26,212.98 L578.88,215.74" fill="none" stroke="#f2c21a" stroke-width="1.5" stroke-linejoin="round" stroke-linecap="round" />
<path d="M602.60,219.00 L613.40,237.90" fill="none" stroke="#eda47c" stroke-width="2.4" stroke-linejoin="round" stroke-linecap="round" />
<path d="M603.60,219.50 L614.40,238.40" fill="none" stroke="#b86840" stroke-width="0.8" stroke-linejoin="round" stroke-linecap="round" opacity="0.7"/>
<path d="M610.16,232.23 L611.78,235.06" fill="none" stroke="#f2c21a" stroke-width="1.5" stroke-linejoin="round" stroke-linecap="round" />
<path d="M508.00,226.00 L516.00,241.50" fill="none" stroke="#9a9ae8" stroke-width="1.4" stroke-linejoin="round" stroke-linecap="round" />
<path d="M513.00,225.20 L522.00,242.70" fill="none" stroke="#9a9ae8" stroke-width="1.4" stroke-linejoin="round" stroke-linecap="round" />
<path d="M509.50,226.00 L520.50,242.70" fill="none" stroke="#9a9ae8" stroke-width="1.1" stroke-linejoin="round" stroke-linecap="round" />
<path d="M514.50,233.35 L516.50,237.35" fill="none" stroke="#f2c21a" stroke-width="1.4" stroke-linejoin="round" stroke-linecap="round" />
<path d="M514.50,238.00 L516.00,241.50" fill="none" stroke="#f2c21a" stroke-width="1.4" stroke-linejoin="round" stroke-linecap="round" />
<path d="M520.00,238.70 L521.50,241.70" fill="none" stroke="#f2c21a" stroke-width="1.2" stroke-linejoin="round" stroke-linecap="round" />
<path d="M540.90,244.90 L548.20,261.00" fill="none" stroke="#9a9ae8" stroke-width="1.4" stroke-linejoin="round" stroke-linecap="round" />
<path d="M545.30,244.90 L554.70,263.20" fill="none" stroke="#9a9ae8" stroke-width="1.4" stroke-linejoin="round" stroke-linecap="round" />
<path d="M542.40,244.90 L553.20,263.20" fill="none" stroke="#9a9ae8" stroke-width="1.1" stroke-linejoin="round" stroke-linecap="round" />
<path d="M547.30,253.05 L549.30,257.05" fill="none" stroke="#f2c21a" stroke-width="1.4" stroke-linejoin="round" stroke-linecap="round" />
<path d="M546.70,257.50 L548.20,261.00" fill="none" stroke="#f2c21a" stroke-width="1.4" stroke-linejoin="round" stroke-linecap="round" />
<path d="M552.70,259.20 L554.20,262.20" fill="none" stroke="#f2c21a" stroke-width="1.2" stroke-linejoin="round" stroke-linecap="round" />
<path d="M573.70,265.40 L581.00,280.70" fill="none" stroke="#9a9ae8" stroke-width="1.4" stroke-linejoin="round" stroke-linecap="round" />
<path d="M578.80,265.40 L587.60,282.90" fill="none" stroke="#9a9ae8" stroke-width="1.4" stroke-linejoin="round" stroke-linecap="round" />
<path d="M575.20,265.40 L586.10,282.90" fill="none" stroke="#9a9ae8" stroke-width="1.1" stroke-linejoin="round" stroke-linecap="round" />
<path d="M580.15,273.15 L582.15,277.15" fill="none" stroke="#f2c21a" stroke-width="1.4" stroke-linejoin="round" stroke-linecap="round" />
<path d="M579.50,277.20 L581.00,280.70" fill="none" stroke="#f2c21a" stroke-width="1.4" stroke-linejoin="round" stroke-linecap="round" />
<path d="M585.60,278.90 L587.10,281.90" fill="none" stroke="#f2c21a" stroke-width="1.2" stroke-linejoin="round" stroke-linecap="round" />
<path d="M666.10,254.10 L657.24,249.58" fill="none" stroke="#111" stroke-width="0.8" stroke-linejoin="round" stroke-linecap="round" />
<path d="M655.90,248.90 L659.43,249.02 L658.07,251.69 Z" fill="#111"/>
<text x="659.30" y="247.00" font-size="8.5" fill="#111" text-anchor="middle" font-weight="normal" font-family="Liberation Sans, sans-serif" >b</text>
<path d="M666.10,254.10 L673.57,251.66" fill="none" stroke="#111" stroke-width="0.8" stroke-linejoin="round" stroke-linecap="round" />
<path d="M675.00,251.20 L672.42,253.62 L671.49,250.77 Z" fill="#111"/>
<text x="679.00" y="261.40" font-size="8.5" fill="#111" text-anchor="middle" font-weight="normal" font-family="Liberation Sans, sans-serif" >c</text>
<path d="M666.10,254.10 L662.17,262.06" fill="none" stroke="#111" stroke-width="0.8" stroke-linejoin="round" stroke-linecap="round" />
<path d="M661.50,263.40 L661.57,259.87 L664.26,261.20 Z" fill="#111"/>
<text x="656.00" y="270.40" font-size="8.5" fill="#111" text-anchor="middle" font-weight="normal" font-family="Liberation Sans, sans-serif" >a</text>
<line x1="68.00" y1="326.00" x2="80.40" y2="326.00" stroke="#2c2c2c" stroke-width="1.0" />
<line x1="80.40" y1="326.00" x2="83.50" y2="337.20" stroke="#2c2c2c" stroke-width="1.0" />
<line x1="83.50" y1="337.20" x2="77.17" y2="341.89" stroke="#2c2c2c" stroke-width="1.0" />
<line x1="72.01" y1="341.92" x2="65.50" y2="337.20" stroke="#2c2c2c" stroke-width="1.0" />
<line x1="65.50" y1="337.20" x2="68.00" y2="326.00" stroke="#2c2c2c" stroke-width="1.0" />
<line x1="67.90" y1="335.62" x2="69.50" y2="328.45" stroke="#2c2c2c" stroke-width="1.0" />
<line x1="79.03" y1="328.55" x2="81.01" y2="335.72" stroke="#2c2c2c" stroke-width="1.0" />
<text x="74.60" y="347.50" font-size="8.6" fill="#1c1c1c" text-anchor="middle" font-weight="normal" font-family="Liberation Sans, sans-serif" >S</text>
<line x1="106.19" y1="335.88" x2="112.30" y2="340.30" stroke="#2c2c2c" stroke-width="1.0" />
<line x1="112.30" y1="340.30" x2="109.00" y2="350.80" stroke="#2c2c2c" stroke-width="1.0" />
<line x1="109.00" y1="350.80" x2="97.80" y2="350.80" stroke="#2c2c2c" stroke-width="1.0" />
<line x1="97.80" y1="350.80" x2="94.70" y2="340.30" stroke="#2c2c2c" stroke-width="1.0" />
<line x1="94.70" y1="340.30" x2="100.99" y2="335.85" stroke="#2c2c2c" stroke-width="1.0" />
<line x1="109.80" y1="341.59" x2="107.69" y2="348.31" stroke="#2c2c2c" stroke-width="1.0" />
<line x1="99.16" y1="348.34" x2="97.18" y2="341.62" stroke="#2c2c2c" stroke-width="1.0" />
<text x="103.60" y="337.70" font-size="8.6" fill="#1c1c1c" text-anchor="middle" font-weight="normal" font-family="Liberation Sans, sans-serif" >S</text>
<line x1="123.20" y1="337.20" x2="126.30" y2="326.00" stroke="#2c2c2c" stroke-width="1.0" />
<line x1="126.30" y1="326.00" x2="138.80" y2="326.00" stroke="#2c2c2c" stroke-width="1.0" />
<line x1="138.80" y1="326.00" x2="141.90" y2="337.20" stroke="#2c2c2c" stroke-width="1.0" />
<line x1="141.90" y1="337.20" x2="134.85" y2="342.00" stroke="#2c2c2c" stroke-width="1.0" />
<line x1="129.62" y1="341.91" x2="123.20" y2="337.20" stroke="#2c2c2c" stroke-width="1.0" />
<line x1="125.69" y1="335.72" x2="127.67" y2="328.55" stroke="#2c2c2c" stroke-width="1.0" />
<line x1="137.43" y1="328.55" x2="139.41" y2="335.72" stroke="#2c2c2c" stroke-width="1.0" />
<text x="132.20" y="347.50" font-size="8.6" fill="#1c1c1c" text-anchor="middle" font-weight="normal" font-family="Liberation Sans, sans-serif" >S</text>
<line x1="83.50" y1="337.20" x2="94.70" y2="340.30" stroke="#2c2c2c" stroke-width="1.0" />
<line x1="112.30" y1="340.30" x2="123.20" y2="337.20" stroke="#2c2c2c" stroke-width="1.0" />
<line x1="97.80" y1="350.80" x2="94.60" y2="353.50" stroke="#2c2c2c" stroke-width="1.0" />
<line x1="109.00" y1="350.80" x2="111.60" y2="353.50" stroke="#2c2c2c" stroke-width="1.0" />
<circle cx="90.5" cy="358.0" r="7.2" fill="url(#gCl)"/>
<circle cx="115.7" cy="358.0" r="7.2" fill="url(#gCl)"/>
<text x="90.30" y="361.00" font-size="8.2" fill="#222" text-anchor="middle" font-weight="normal" font-family="Liberation Sans, sans-serif" >Cl</text>
<text x="115.50" y="361.00" font-size="8.2" fill="#222" text-anchor="middle" font-weight="normal" font-family="Liberation Sans, sans-serif" >Cl</text>
<text x="103.40" y="385.20" font-size="11.2" fill="#111" text-anchor="middle" font-weight="bold" font-family="Liberation Sans, sans-serif" >3T-Cl</text>
<path d="M191.40,327.50 L188.80,322.90" fill="none" stroke="#d6d6d6" stroke-width="1.6" stroke-linejoin="round" stroke-linecap="round" />
<path d="M202.60,327.50 L205.90,323.50" fill="none" stroke="#d6d6d6" stroke-width="1.6" stroke-linejoin="round" stroke-linecap="round" />
<path d="M187.50,336.00 L180.90,336.70" fill="none" stroke="#d6d6d6" stroke-width="1.6" stroke-linejoin="round" stroke-linecap="round" />
<path d="M244.60,327.50 L242.50,323.00" fill="none" stroke="#d6d6d6" stroke-width="1.6" stroke-linejoin="round" stroke-linecap="round" />
<path d="M255.80,327.50 L257.80,323.50" fill="none" stroke="#d6d6d6" stroke-width="1.6" stroke-linejoin="round" stroke-linecap="round" />
<path d="M259.10,336.70 L262.40,336.70" fill="none" stroke="#d6d6d6" stroke-width="1.6" stroke-linejoin="round" stroke-linecap="round" />
<path d="M218.40,350.20 L212.10,360.30" fill="none" stroke="#3cc83c" stroke-width="1.8" stroke-linejoin="round" stroke-linecap="round" />
<path d="M228.90,350.20 L235.40,360.30" fill="none" stroke="#3cc83c" stroke-width="1.8" stroke-linejoin="round" stroke-linecap="round" />
<path d="M191.40,327.50 L197.00,327.50" fill="none" stroke="#999999" stroke-width="1.75" stroke-linejoin="round" stroke-linecap="round" />
<path d="M197.00,327.50 L202.60,327.50" fill="none" stroke="#999999" stroke-width="1.75" stroke-linejoin="round" stroke-linecap="round" />
<path d="M202.60,327.50 L203.60,333.05" fill="none" stroke="#999999" stroke-width="1.75" stroke-linejoin="round" stroke-linecap="round" />
<path d="M203.60,333.05 L204.60,338.60" fill="none" stroke="#999999" stroke-width="1.75" stroke-linejoin="round" stroke-linecap="round" />
<path d="M204.60,338.60 L200.00,341.60" fill="none" stroke="#999999" stroke-width="1.75" stroke-linejoin="round" stroke-linecap="round" />
<path d="M200.00,341.60 L195.40,344.60" fill="none" stroke="#f2c21a" stroke-width="1.75" stroke-linejoin="round" stroke-linecap="round" />
<path d="M195.40,344.60 L191.45,340.30" fill="none" stroke="#f2c21a" stroke-width="1.75" stroke-linejoin="round" stroke-linecap="round" />
<path d="M191.45,340.30 L187.50,336.00" fill="none" stroke="#999999" stroke-width="1.75" stroke-linejoin="round" stroke-linecap="round" />
<path d="M187.50,336.00 L189.45,331.75" fill="none" stroke="#999999" stroke-width="1.75" stroke-linejoin="round" stroke-linecap="round" />
<path d="M189.45,331.75 L191.40,327.50" fill="none" stroke="#999999" stroke-width="1.75" stroke-linejoin="round" stroke-linecap="round" />
<path d="M223.60,332.70 L228.20,337.00" fill="none" stroke="#f2c21a" stroke-width="1.75" stroke-linejoin="round" stroke-linecap="round" />
<path d="M228.20,337.00 L232.80,341.30" fill="none" stroke="#999999" stroke-width="1.75" stroke-linejoin="round" stroke-linecap="round" />
<path d="M232.80,341.30 L230.85,345.75" fill="none" stroke="#999999" stroke-width="1.75" stroke-linejoin="round" stroke-linecap="round" />
<path d="M230.85,345.75 L228.90,350.20" fill="none" stroke="#999999" stroke-width="1.75" stroke-linejoin="round" stroke-linecap="round" />
<path d="M228.90,350.20 L223.65,350.20" fill="none" stroke="#999999" stroke-width="1.75" stroke-linejoin="round" stroke-linecap="round" />
<path d="M223.65,350.20 L218.40,350.20" fill="none" stroke="#999999" stroke-width="1.75" stroke-linejoin="round" stroke-linecap="round" />
<path d="M218.40,350.20 L216.40,345.75" fill="none" stroke="#999999" stroke-width="1.75" stroke-linejoin="round" stroke-linecap="round" />
<path d="M216.40,345.75 L214.40,341.30" fill="none" stroke="#999999" stroke-width="1.75" stroke-linejoin="round" stroke-linecap="round" />
<path d="M214.40,341.30 L219.00,337.00" fill="none" stroke="#999999" stroke-width="1.75" stroke-linejoin="round" stroke-linecap="round" />
<path d="M219.00,337.00 L223.60,332.70" fill="none" stroke="#f2c21a" stroke-width="1.75" stroke-linejoin="round" stroke-linecap="round" />
<path d="M243.30,338.60 L243.95,333.05" fill="none" stroke="#999999" stroke-width="1.75" stroke-linejoin="round" stroke-linecap="round" />
<path d="M243.95,333.05 L244.60,327.50" fill="none" stroke="#999999" stroke-width="1.75" stroke-linejoin="round" stroke-linecap="round" />
<path d="M244.60,327.50 L250.20,327.50" fill="none" stroke="#999999" stroke-width="1.75" stroke-linejoin="round" stroke-linecap="round" />
<path d="M250.20,327.50 L255.80,327.50" fill="none" stroke="#999999" stroke-width="1.75" stroke-linejoin="round" stroke-linecap="round" />
<path d="M255.80,327.50 L257.45,332.10" fill="none" stroke="#999999" stroke-width="1.75" stroke-linejoin="round" stroke-linecap="round" />
<path d="M257.45,332.10 L259.10,336.70" fill="none" stroke="#999999" stroke-width="1.75" stroke-linejoin="round" stroke-linecap="round" />
<path d="M259.10,336.70 L255.80,340.65" fill="none" stroke="#999999" stroke-width="1.75" stroke-linejoin="round" stroke-linecap="round" />
<path d="M255.80,340.65 L252.50,344.60" fill="none" stroke="#f2c21a" stroke-width="1.75" stroke-linejoin="round" stroke-linecap="round" />
<path d="M252.50,344.60 L247.90,341.60" fill="none" stroke="#f2c21a" stroke-width="1.75" stroke-linejoin="round" stroke-linecap="round" />
<path d="M247.90,341.60 L243.30,338.60" fill="none" stroke="#999999" stroke-width="1.75" stroke-linejoin="round" stroke-linecap="round" />
<path d="M204.60,338.60 L214.40,341.30" fill="none" stroke="#999999" stroke-width="1.75" stroke-linejoin="round" stroke-linecap="round" />
<path d="M232.80,341.30 L243.30,338.60" fill="none" stroke="#999999" stroke-width="1.75" stroke-linejoin="round" stroke-linecap="round" />
<path d="M195.40,346.50 L210.50,360.30" fill="none" stroke="#c8601a" stroke-width="2.2" stroke-linejoin="round" stroke-linecap="round" stroke-dasharray="4.2,3.0" stroke-linecap="butt"/>
<path d="M250.50,346.50 L235.40,359.00" fill="none" stroke="#c8601a" stroke-width="2.2" stroke-linejoin="round" stroke-linecap="round" stroke-dasharray="4.2,3.0" stroke-linecap="butt"/>
<path d="M208.6,330.2 C212.6,333.6 211.6,342.8 204.6,344.6" fill="none" stroke="#5a62f0" stroke-width="2.6"/>
<path d="M206.0,341.4 L202.0,345.6 L206.8,347.0 Z" fill="#5a62f0"/>
<path d="M238.4,330.2 C234.4,333.6 235.4,342.8 242.4,344.6" fill="none" stroke="#5a62f0" stroke-width="2.6"/>
<path d="M241.0,341.4 L245.0,345.6 L240.2,347.0 Z" fill="#5a62f0"/>
<text x="211.2" y="325.5" font-size="11.2" fill="#4070d0" font-weight="bold" font-family="Liberation Sans, sans-serif">θ<tspan font-size="7" dy="2.4">1</tspan></text>
<text x="232.2" y="325.5" font-size="11.2" fill="#4070d0" font-weight="bold" font-family="Liberation Sans, sans-serif">θ<tspan font-size="7" dy="2.4">2</tspan></text>
<text x="129.2" y="383.2" font-size="11.3" fill="#5b9bd5" font-weight="bold" font-family="Liberation Sans, sans-serif">The only form: θ<tspan font-size="8" dy="2.4">1</tspan><tspan dy="-2.4"> = 7.59°, θ</tspan><tspan font-size="8" dy="2.4">2</tspan><tspan dy="-2.4"> = 7.59°</tspan></text>
<text x="189.0" y="396.6" font-size="11.3" fill="#c9641c" font-weight="bold" font-family="Liberation Sans, sans-serif"><tspan font-style="italic">d</tspan><tspan font-size="8" dy="2.4">Cl-S</tspan><tspan dy="-2.4"> = 3.19 Å</tspan></text>
<path d="M318.50,325.40 L325.50,325.70" fill="none" stroke="#35c835" stroke-width="1.6" stroke-linejoin="round" stroke-linecap="round" />
<path d="M324.50,324.20 L351.50,326.60" fill="none" stroke="#4a9ae0" stroke-width="1.7" stroke-linejoin="round" stroke-linecap="round" />
<path d="M326.50,326.40 L348.50,328.00" fill="none" stroke="#4a9ae0" stroke-width="1.5" stroke-linejoin="round" stroke-linecap="round" />
<path d="M331.50,323.20 L342.50,324.20" fill="none" stroke="#4a9ae0" stroke-width="1.3" stroke-linejoin="round" stroke-linecap="round" />
<path d="M331.50,323.00 L335.00,323.00" fill="none" stroke="#f0b020" stroke-width="1.4" stroke-linejoin="round" stroke-linecap="round" />
<path d="M338.50,325.80 L342.50,326.20" fill="none" stroke="#f0b020" stroke-width="1.4" stroke-linejoin="round" stroke-linecap="round" />
<path d="M335.50,328.20 L339.50,328.60" fill="none" stroke="#f0b020" stroke-width="1.4" stroke-linejoin="round" stroke-linecap="round" />
<path d="M321.50,326.90 L327.50,327.10" fill="none" stroke="#35c835" stroke-width="1.3" stroke-linejoin="round" stroke-linecap="round" />
<path d="M318.50,345.60 L325.50,345.90" fill="none" stroke="#35c835" stroke-width="1.6" stroke-linejoin="round" stroke-linecap="round" />
<path d="M324.50,344.40 L351.50,346.80" fill="none" stroke="#4a9ae0" stroke-width="1.7" stroke-linejoin="round" stroke-linecap="round" />
<path d="M326.50,346.60 L348.50,348.20" fill="none" stroke="#4a9ae0" stroke-width="1.5" stroke-linejoin="round" stroke-linecap="round" />
<path d="M331.50,343.40 L342.50,344.40" fill="none" stroke="#4a9ae0" stroke-width="1.3" stroke-linejoin="round" stroke-linecap="round" />
<path d="M331.50,343.20 L335.00,343.20" fill="none" stroke="#f0b020" stroke-width="1.4" stroke-linejoin="round" stroke-linecap="round" />
<path d="M338.50,346.00 L342.50,346.40" fill="none" stroke="#f0b020" stroke-width="1.4" stroke-linejoin="round" stroke-linecap="round" />
<path d="M335.50,348.40 L339.50,348.80" fill="none" stroke="#f0b020" stroke-width="1.4" stroke-linejoin="round" stroke-linecap="round" />
<path d="M321.50,347.10 L327.50,347.30" fill="none" stroke="#35c835" stroke-width="1.3" stroke-linejoin="round" stroke-linecap="round" />
<path d="M318.50,365.80 L325.50,366.10" fill="none" stroke="#35c835" stroke-width="1.6" stroke-linejoin="round" stroke-linecap="round" />
<path d="M324.50,364.60 L351.50,367.00" fill="none" stroke="#4a9ae0" stroke-width="1.7" stroke-linejoin="round" stroke-linecap="round" />
<path d="M326.50,366.80 L348.50,368.40" fill="none" stroke="#4a9ae0" stroke-width="1.5" stroke-linejoin="round" stroke-linecap="round" />
<path d="M331.50,363.60 L342.50,364.60" fill="none" stroke="#4a9ae0" stroke-width="1.3" stroke-linejoin="round" stroke-linecap="round" />
<path d="M331.50,363.40 L335.00,363.40" fill="none" stroke="#f0b020" stroke-width="1.4" stroke-linejoin="round" stroke-linecap="round" />
<path d="M338.50,366.20 L342.50,366.60" fill="none" stroke="#f0b020" stroke-width="1.4" stroke-linejoin="round" stroke-linecap="round" />
<path d="M335.50,368.60 L339.50,369.00" fill="none" stroke="#f0b020" stroke-width="1.4" stroke-linejoin="round" stroke-linecap="round" />
<path d="M321.50,367.30 L327.50,367.50" fill="none" stroke="#35c835" stroke-width="1.3" stroke-linejoin="round" stroke-linecap="round" />
<path d="M318.50,385.80 L325.50,386.10" fill="none" stroke="#35c835" stroke-width="1.6" stroke-linejoin="round" stroke-linecap="round" />
<path d="M324.50,384.60 L351.50,387.00" fill="none" stroke="#4a9ae0" stroke-width="1.7" stroke-linejoin="round" stroke-linecap="round" />
<path d="M326.50,386.80 L348.50,388.40" fill="none" stroke="#4a9ae0" stroke-width="1.5" stroke-linejoin="round" stroke-linecap="round" />
<path d="M331.50,383.60 L342.50,384.60" fill="none" stroke="#4a9ae0" stroke-width="1.3" stroke-linejoin="round" stroke-linecap="round" />
<path d="M331.50,383.40 L335.00,383.40" fill="none" stroke="#f0b020" stroke-width="1.4" stroke-linejoin="round" stroke-linecap="round" />
<path d="M338.50,386.20 L342.50,386.60" fill="none" stroke="#f0b020" stroke-width="1.4" stroke-linejoin="round" stroke-linecap="round" />
<path d="M335.50,388.60 L339.50,389.00" fill="none" stroke="#f0b020" stroke-width="1.4" stroke-linejoin="round" stroke-linecap="round" />
<path d="M321.50,387.30 L327.50,387.50" fill="none" stroke="#35c835" stroke-width="1.3" stroke-linejoin="round" stroke-linecap="round" />
<path d="M405.00,325.00 L412.00,325.30" fill="none" stroke="#35c835" stroke-width="1.6" stroke-linejoin="round" stroke-linecap="round" />
<path d="M411.00,323.80 L438.00,326.20" fill="none" stroke="#4a9ae0" stroke-width="1.7" stroke-linejoin="round" stroke-linecap="round" />
<path d="M413.00,326.00 L435.00,327.60" fill="none" stroke="#4a9ae0" stroke-width="1.5" stroke-linejoin="round" stroke-linecap="round" />
<path d="M418.00,322.80 L429.00,323.80" fill="none" stroke="#4a9ae0" stroke-width="1.3" stroke-linejoin="round" stroke-linecap="round" />
<path d="M418.00,322.60 L421.50,322.60" fill="none" stroke="#f0b020" stroke-width="1.4" stroke-linejoin="round" stroke-linecap="round" />
<path d="M425.00,325.40 L429.00,325.80" fill="none" stroke="#f0b020" stroke-width="1.4" stroke-linejoin="round" stroke-linecap="round" />
<path d="M422.00,327.80 L426.00,328.20" fill="none" stroke="#f0b020" stroke-width="1.4" stroke-linejoin="round" stroke-linecap="round" />
<path d="M408.00,326.50 L414.00,326.70" fill="none" stroke="#35c835" stroke-width="1.3" stroke-linejoin="round" stroke-linecap="round" />
<path d="M405.00,345.00 L412.00,345.30" fill="none" stroke="#35c835" stroke-width="1.6" stroke-linejoin="round" stroke-linecap="round" />
<path d="M411.00,343.80 L438.00,346.20" fill="none" stroke="#4a9ae0" stroke-width="1.7" stroke-linejoin="round" stroke-linecap="round" />
<path d="M413.00,346.00 L435.00,347.60" fill="none" stroke="#4a9ae0" stroke-width="1.5" stroke-linejoin="round" stroke-linecap="round" />
<path d="M418.00,342.80 L429.00,343.80" fill="none" stroke="#4a9ae0" stroke-width="1.3" stroke-linejoin="round" stroke-linecap="round" />
<path d="M418.00,342.60 L421.50,342.60" fill="none" stroke="#f0b020" stroke-width="1.4" stroke-linejoin="round" stroke-linecap="round" />
<path d="M425.00,345.40 L429.00,345.80" fill="none" stroke="#f0b020" stroke-width="1.4" stroke-linejoin="round" stroke-linecap="round" />
<path d="M422.00,347.80 L426.00,348.20" fill="none" stroke="#f0b020" stroke-width="1.4" stroke-linejoin="round" stroke-linecap="round" />
<path d="M408.00,346.50 L414.00,346.70" fill="none" stroke="#35c835" stroke-width="1.3" stroke-linejoin="round" stroke-linecap="round" />
<path d="M405.00,365.20 L412.00,365.50" fill="none" stroke="#35c835" stroke-width="1.6" stroke-linejoin="round" stroke-linecap="round" />
<path d="M411.00,364.00 L438.00,366.40" fill="none" stroke="#4a9ae0" stroke-width="1.7" stroke-linejoin="round" stroke-linecap="round" />
<path d="M413.00,366.20 L435.00,367.80" fill="none" stroke="#4a9ae0" stroke-width="1.5" stroke-linejoin="round" stroke-linecap="round" />
<path d="M418.00,363.00 L429.00,364.00" fill="none" stroke="#4a9ae0" stroke-width="1.3" stroke-linejoin="round" stroke-linecap="round" />
<path d="M418.00,362.80 L421.50,362.80" fill="none" stroke="#f0b020" stroke-width="1.4" stroke-linejoin="round" stroke-linecap="round" />
<path d="M425.00,365.60 L429.00,366.00" fill="none" stroke="#f0b020" stroke-width="1.4" stroke-linejoin="round" stroke-linecap="round" />
<path d="M422.00,368.00 L426.00,368.40" fill="none" stroke="#f0b020" stroke-width="1.4" stroke-linejoin="round" stroke-linecap="round" />
<path d="M408.00,366.70 L414.00,366.90" fill="none" stroke="#35c835" stroke-width="1.3" stroke-linejoin="round" stroke-linecap="round" />
<path d="M405.00,385.40 L412.00,385.70" fill="none" stroke="#35c835" stroke-width="1.6" stroke-linejoin="round" stroke-linecap="round" />
<path d="M411.00,384.20 L438.00,386.60" fill="none" stroke="#4a9ae0" stroke-width="1.7" stroke-linejoin="round" stroke-linecap="round" />
<path d="M413.00,386.40 L435.00,388.00" fill="none" stroke="#4a9ae0" stroke-width="1.5" stroke-linejoin="round" stroke-linecap="round" />
<path d="M418.00,383.20 L429.00,384.20" fill="none" stroke="#4a9ae0" stroke-width="1.3" stroke-linejoin="round" stroke-linecap="round" />
<path d="M418.00,383.00 L421.50,383.00" fill="none" stroke="#f0b020" stroke-width="1.4" stroke-linejoin="round" stroke-linecap="round" />
<path d="M425.00,385.80 L429.00,386.20" fill="none" stroke="#f0b020" stroke-width="1.4" stroke-linejoin="round" stroke-linecap="round" />
<path d="M422.00,388.20 L426.00,388.60" fill="none" stroke="#f0b020" stroke-width="1.4" stroke-linejoin="round" stroke-linecap="round" />
<path d="M408.00,386.90 L414.00,387.10" fill="none" stroke="#35c835" stroke-width="1.3" stroke-linejoin="round" stroke-linecap="round" />
<path d="M380.60,298.80 L377.65,300.94" fill="none" stroke="#e9a2ea" stroke-width="1.25" stroke-linejoin="round" stroke-linecap="round" />
<path d="M377.65,300.94 L374.70,303.08" fill="none" stroke="#f2c21a" stroke-width="1.25" stroke-linejoin="round" stroke-linecap="round" />
<path d="M374.70,303.08 L375.83,306.55" fill="none" stroke="#f2c21a" stroke-width="1.25" stroke-linejoin="round" stroke-linecap="round" />
<path d="M375.83,306.55 L376.96,310.02" fill="none" stroke="#e9a2ea" stroke-width="1.25" stroke-linejoin="round" stroke-linecap="round" />
<path d="M376.96,310.02 L380.60,310.02" fill="none" stroke="#e9a2ea" stroke-width="1.25" stroke-linejoin="round" stroke-linecap="round" />
<path d="M380.60,310.02 L384.24,310.02" fill="none" stroke="#e9a2ea" stroke-width="1.25" stroke-linejoin="round" stroke-linecap="round" />
<path d="M384.24,310.02 L385.37,306.55" fill="none" stroke="#e9a2ea" stroke-width="1.25" stroke-linejoin="round" stroke-linecap="round" />
<path d="M385.37,306.55 L386.50,303.08" fill="none" stroke="#e9a2ea" stroke-width="1.25" stroke-linejoin="round" stroke-linecap="round" />
<path d="M386.50,303.08 L383.55,300.94" fill="none" stroke="#e9a2ea" stroke-width="1.25" stroke-linejoin="round" stroke-linecap="round" />
<path d="M383.55,300.94 L380.60,298.80" fill="none" stroke="#e9a2ea" stroke-width="1.25" stroke-linejoin="round" stroke-linecap="round" />
<path d="M379.60,310.50 L377.60,319.00" fill="none" stroke="#e9a2ea" stroke-width="1.25" stroke-linejoin="round" stroke-linecap="round" />
<path d="M384.60,333.60 L388.02,331.11" fill="none" stroke="#e9a2ea" stroke-width="1.25" stroke-linejoin="round" stroke-linecap="round" />
<path d="M388.02,331.11 L391.45,328.62" fill="none" stroke="#e9a2ea" stroke-width="1.25" stroke-linejoin="round" stroke-linecap="round" />
<path d="M391.45,328.62 L390.14,324.60" fill="none" stroke="#e9a2ea" stroke-width="1.25" stroke-linejoin="round" stroke-linecap="round" />
<path d="M390.14,324.60 L388.83,320.58" fill="none" stroke="#e9a2ea" stroke-width="1.25" stroke-linejoin="round" stroke-linecap="round" />
<path d="M388.83,320.58 L384.60,320.58" fill="none" stroke="#e9a2ea" stroke-width="1.25" stroke-linejoin="round" stroke-linecap="round" />
<path d="M384.60,320.58 L380.37,320.58" fill="none" stroke="#e9a2ea" stroke-width="1.25" stroke-linejoin="round" stroke-linecap="round" />
<path d="M380.37,320.58 L379.06,324.60" fill="none" stroke="#e9a2ea" stroke-width="1.25" stroke-linejoin="round" stroke-linecap="round" />
<path d="M379.06,324.60 L377.75,328.62" fill="none" stroke="#f2c21a" stroke-width="1.25" stroke-linejoin="round" stroke-linecap="round" />
<path d="M377.75,328.62 L381.18,331.11" fill="none" stroke="#f2c21a" stroke-width="1.25" stroke-linejoin="round" stroke-linecap="round" />
<path d="M381.18,331.11 L384.60,333.60" fill="none" stroke="#e9a2ea" stroke-width="1.25" stroke-linejoin="round" stroke-linecap="round" />
<path d="M377.60,317.90 L374.27,320.32" fill="none" stroke="#e9a2ea" stroke-width="1.25" stroke-linejoin="round" stroke-linecap="round" />
<path d="M374.27,320.32 L370.94,322.74" fill="none" stroke="#e9a2ea" stroke-width="1.25" stroke-linejoin="round" stroke-linecap="round" />
<path d="M370.94,322.74 L372.21,326.65" fill="none" stroke="#e9a2ea" stroke-width="1.25" stroke-linejoin="round" stroke-linecap="round" />
<path d="M372.21,326.65 L373.49,330.56" fill="none" stroke="#f2c21a" stroke-width="1.25" stroke-linejoin="round" stroke-linecap="round" />
<path d="M373.49,330.56 L377.60,330.56" fill="none" stroke="#f2c21a" stroke-width="1.25" stroke-linejoin="round" stroke-linecap="round" />
<path d="M377.60,330.56 L381.71,330.56" fill="none" stroke="#e9a2ea" stroke-width="1.25" stroke-linejoin="round" stroke-linecap="round" />
<path d="M381.71,330.56 L382.99,326.65" fill="none" stroke="#e9a2ea" stroke-width="1.25" stroke-linejoin="round" stroke-linecap="round" />
<path d="M382.99,326.65 L384.26,322.74" fill="none" stroke="#e9a2ea" stroke-width="1.25" stroke-linejoin="round" stroke-linecap="round" />
<path d="M384.26,322.74 L380.93,320.32" fill="none" stroke="#e9a2ea" stroke-width="1.25" stroke-linejoin="round" stroke-linecap="round" />
<path d="M380.93,320.32 L377.60,317.90" fill="none" stroke="#e9a2ea" stroke-width="1.25" stroke-linejoin="round" stroke-linecap="round" />
<path d="M370.94,322.74 L363.94,318.74" fill="none" stroke="#48d848" stroke-width="1.25" stroke-linejoin="round" stroke-linecap="round" />
<path d="M373.49,330.56 L366.49,334.06" fill="none" stroke="#48d848" stroke-width="1.25" stroke-linejoin="round" stroke-linecap="round" />
<path d="M379.60,321.90 L382.60,324.90 L379.60,327.90 L376.60,324.90 Z" fill="none" stroke="#f0c030" stroke-width="1.2" stroke-linejoin="round" />
<path d="M381.71,330.56 L382.71,336.56" fill="none" stroke="#e9a2ea" stroke-width="1.25" stroke-linejoin="round" stroke-linecap="round" />
<path d="M384.60,353.50 L388.02,351.01" fill="none" stroke="#e9a2ea" stroke-width="1.25" stroke-linejoin="round" stroke-linecap="round" />
<path d="M388.02,351.01 L391.45,348.52" fill="none" stroke="#e9a2ea" stroke-width="1.25" stroke-linejoin="round" stroke-linecap="round" />
<path d="M391.45,348.52 L390.14,344.50" fill="none" stroke="#e9a2ea" stroke-width="1.25" stroke-linejoin="round" stroke-linecap="round" />
<path d="M390.14,344.50 L388.83,340.48" fill="none" stroke="#e9a2ea" stroke-width="1.25" stroke-linejoin="round" stroke-linecap="round" />
<path d="M388.83,340.48 L384.60,340.48" fill="none" stroke="#e9a2ea" stroke-width="1.25" stroke-linejoin="round" stroke-linecap="round" />
<path d="M384.60,340.48 L380.37,340.48" fill="none" stroke="#e9a2ea" stroke-width="1.25" stroke-linejoin="round" stroke-linecap="round" />
<path d="M380.37,340.48 L379.06,344.50" fill="none" stroke="#e9a2ea" stroke-width="1.25" stroke-linejoin="round" stroke-linecap="round" />
<path d="M379.06,344.50 L377.75,348.52" fill="none" stroke="#f2c21a" stroke-width="1.25" stroke-linejoin="round" stroke-linecap="round" />
<path d="M377.75,348.52 L381.18,351.01" fill="none" stroke="#f2c21a" stroke-width="1.25" stroke-linejoin="round" stroke-linecap="round" />
<path d="M381.18,351.01 L384.60,353.50" fill="none" stroke="#e9a2ea" stroke-width="1.25" stroke-linejoin="round" stroke-linecap="round" />
<path d="M377.60,337.80 L374.27,340.22" fill="none" stroke="#e9a2ea" stroke-width="1.25" stroke-linejoin="round" stroke-linecap="round" />
<path d="M374.27,340.22 L370.94,342.64" fill="none" stroke="#e9a2ea" stroke-width="1.25" stroke-linejoin="round" stroke-linecap="round" />
<path d="M370.94,342.64 L372.21,346.55" fill="none" stroke="#e9a2ea" stroke-width="1.25" stroke-linejoin="round" stroke-linecap="round" />
<path d="M372.21,346.55 L373.49,350.46" fill="none" stroke="#f2c21a" stroke-width="1.25" stroke-linejoin="round" stroke-linecap="round" />
<path d="M373.49,350.46 L377.60,350.46" fill="none" stroke="#f2c21a" stroke-width="1.25" stroke-linejoin="round" stroke-linecap="round" />
<path d="M377.60,350.46 L381.71,350.46" fill="none" stroke="#e9a2ea" stroke-width="1.25" stroke-linejoin="round" stroke-linecap="round" />
<path d="M381.71,350.46 L382.99,346.55" fill="none" stroke="#e9a2ea" stroke-width="1.25" stroke-linejoin="round" stroke-linecap="round" />
<path d="M382.99,346.55 L384.26,342.64" fill="none" stroke="#e9a2ea" stroke-width="1.25" stroke-linejoin="round" stroke-linecap="round" />
<path d="M384.26,342.64 L380.93,340.22" fill="none" stroke="#e9a2ea" stroke-width="1.25" stroke-linejoin="round" stroke-linecap="round" />
<path d="M380.93,340.22 L377.60,337.80" fill="none" stroke="#e9a2ea" stroke-width="1.25" stroke-linejoin="round" stroke-linecap="round" />
<path d="M370.94,342.64 L363.94,338.64" fill="none" stroke="#48d848" stroke-width="1.25" stroke-linejoin="round" stroke-linecap="round" />
<path d="M373.49,350.46 L366.49,353.96" fill="none" stroke="#48d848" stroke-width="1.25" stroke-linejoin="round" stroke-linecap="round" />
<path d="M379.60,341.80 L382.60,344.80 L379.60,347.80 L376.60,344.80 Z" fill="none" stroke="#f0c030" stroke-width="1.2" stroke-linejoin="round" />
<path d="M381.71,350.46 L382.71,356.46" fill="none" stroke="#e9a2ea" stroke-width="1.25" stroke-linejoin="round" stroke-linecap="round" />
<path d="M384.60,373.40 L388.02,370.91" fill="none" stroke="#e9a2ea" stroke-width="1.25" stroke-linejoin="round" stroke-linecap="round" />
<path d="M388.02,370.91 L391.45,368.42" fill="none" stroke="#e9a2ea" stroke-width="1.25" stroke-linejoin="round" stroke-linecap="round" />
<path d="M391.45,368.42 L390.14,364.40" fill="none" stroke="#e9a2ea" stroke-width="1.25" stroke-linejoin="round" stroke-linecap="round" />
<path d="M390.14,364.40 L388.83,360.38" fill="none" stroke="#e9a2ea" stroke-width="1.25" stroke-linejoin="round" stroke-linecap="round" />
<path d="M388.83,360.38 L384.60,360.38" fill="none" stroke="#e9a2ea" stroke-width="1.25" stroke-linejoin="round" stroke-linecap="round" />
<path d="M384.60,360.38 L380.37,360.38" fill="none" stroke="#e9a2ea" stroke-width="1.25" stroke-linejoin="round" stroke-linecap="round" />
<path d="M380.37,360.38 L379.06,364.40" fill="none" stroke="#e9a2ea" stroke-width="1.25" stroke-linejoin="round" stroke-linecap="round" />
<path d="M379.06,364.40 L377.75,368.42" fill="none" stroke="#f2c21a" stroke-width="1.25" stroke-linejoin="round" stroke-linecap="round" />
<path d="M377.75,368.42 L381.18,370.91" fill="none" stroke="#f2c21a" stroke-width="1.25" stroke-linejoin="round" stroke-linecap="round" />
<path d="M381.18,370.91 L384.60,373.40" fill="none" stroke="#e9a2ea" stroke-width="1.25" stroke-linejoin="round" stroke-linecap="round" />
<path d="M377.60,357.70 L374.27,360.12" fill="none" stroke="#e9a2ea" stroke-width="1.25" stroke-linejoin="round" stroke-linecap="round" />
<path d="M374.27,360.12 L370.94,362.54" fill="none" stroke="#e9a2ea" stroke-width="1.25" stroke-linejoin="round" stroke-linecap="round" />
<path d="M370.94,362.54 L372.21,366.45" fill="none" stroke="#e9a2ea" stroke-width="1.25" stroke-linejoin="round" stroke-linecap="round" />
<path d="M372.21,366.45 L373.49,370.36" fill="none" stroke="#f2c21a" stroke-width="1.25" stroke-linejoin="round" stroke-linecap="round" />
<path d="M373.49,370.36 L377.60,370.36" fill="none" stroke="#f2c21a" stroke-width="1.25" stroke-linejoin="round" stroke-linecap="round" />
<path d="M377.60,370.36 L381.71,370.36" fill="none" stroke="#e9a2ea" stroke-width="1.25" stroke-linejoin="round" stroke-linecap="round" />
<path d="M381.71,370.36 L382.99,366.45" fill="none" stroke="#e9a2ea" stroke-width="1.25" stroke-linejoin="round" stroke-linecap="round" />
<path d="M382.99,366.45 L384.26,362.54" fill="none" stroke="#e9a2ea" stroke-width="1.25" stroke-linejoin="round" stroke-linecap="round" />
<path d="M384.26,362.54 L380.93,360.12" fill="none" stroke="#e9a2ea" stroke-width="1.25" stroke-linejoin="round" stroke-linecap="round" />
<path d="M380.93,360.12 L377.60,357.70" fill="none" stroke="#e9a2ea" stroke-width="1.25" stroke-linejoin="round" stroke-linecap="round" />
<path d="M370.94,362.54 L363.94,358.54" fill="none" stroke="#48d848" stroke-width="1.25" stroke-linejoin="round" stroke-linecap="round" />
<path d="M373.49,370.36 L366.49,373.86" fill="none" stroke="#48d848" stroke-width="1.25" stroke-linejoin="round" stroke-linecap="round" />
<path d="M379.60,361.70 L382.60,364.70 L379.60,367.70 L376.60,364.70 Z" fill="none" stroke="#f0c030" stroke-width="1.2" stroke-linejoin="round" />
<path d="M381.71,370.36 L382.71,376.36" fill="none" stroke="#e9a2ea" stroke-width="1.25" stroke-linejoin="round" stroke-linecap="round" />
<path d="M384.60,393.70 L388.02,391.21" fill="none" stroke="#e9a2ea" stroke-width="1.25" stroke-linejoin="round" stroke-linecap="round" />
<path d="M388.02,391.21 L391.45,388.72" fill="none" stroke="#e9a2ea" stroke-width="1.25" stroke-linejoin="round" stroke-linecap="round" />
<path d="M391.45,388.72 L390.14,384.70" fill="none" stroke="#e9a2ea" stroke-width="1.25" stroke-linejoin="round" stroke-linecap="round" />
<path d="M390.14,384.70 L388.83,380.68" fill="none" stroke="#e9a2ea" stroke-width="1.25" stroke-linejoin="round" stroke-linecap="round" />
<path d="M388.83,380.68 L384.60,380.68" fill="none" stroke="#e9a2ea" stroke-width="1.25" stroke-linejoin="round" stroke-linecap="round" />
<path d="M384.60,380.68 L380.37,380.68" fill="none" stroke="#e9a2ea" stroke-width="1.25" stroke-linejoin="round" stroke-linecap="round" />
<path d="M380.37,380.68 L379.06,384.70" fill="none" stroke="#e9a2ea" stroke-width="1.25" stroke-linejoin="round" stroke-linecap="round" />
<path d="M379.06,384.70 L377.75,388.72" fill="none" stroke="#f2c21a" stroke-width="1.25" stroke-linejoin="round" stroke-linecap="round" />
<path d="M377.75,388.72 L381.18,391.21" fill="none" stroke="#f2c21a" stroke-width="1.25" stroke-linejoin="round" stroke-linecap="round" />
<path d="M381.18,391.21 L384.60,393.70" fill="none" stroke="#e9a2ea" stroke-width="1.25" stroke-linejoin="round" stroke-linecap="round" />
<path d="M377.60,378.00 L374.27,380.42" fill="none" stroke="#e9a2ea" stroke-width="1.25" stroke-linejoin="round" stroke-linecap="round" />
<path d="M374.27,380.42 L370.94,382.84" fill="none" stroke="#e9a2ea" stroke-width="1.25" stroke-linejoin="round" stroke-linecap="round" />
<path d="M370.94,382.84 L372.21,386.75" fill="none" stroke="#e9a2ea" stroke-width="1.25" stroke-linejoin="round" stroke-linecap="round" />
<path d="M372.21,386.75 L373.49,390.66" fill="none" stroke="#f2c21a" stroke-width="1.25" stroke-linejoin="round" stroke-linecap="round" />
<path d="M373.49,390.66 L377.60,390.66" fill="none" stroke="#f2c21a" stroke-width="1.25" stroke-linejoin="round" stroke-linecap="round" />
<path d="M377.60,390.66 L381.71,390.66" fill="none" stroke="#e9a2ea" stroke-width="1.25" stroke-linejoin="round" stroke-linecap="round" />
<path d="M381.71,390.66 L382.99,386.75" fill="none" stroke="#e9a2ea" stroke-width="1.25" stroke-linejoin="round" stroke-linecap="round" />
<path d="M382.99,386.75 L384.26,382.84" fill="none" stroke="#e9a2ea" stroke-width="1.25" stroke-linejoin="round" stroke-linecap="round" />
<path d="M384.26,382.84 L380.93,380.42" fill="none" stroke="#e9a2ea" stroke-width="1.25" stroke-linejoin="round" stroke-linecap="round" />
<path d="M380.93,380.42 L377.60,378.00" fill="none" stroke="#e9a2ea" stroke-width="1.25" stroke-linejoin="round" stroke-linecap="round" />
<path d="M370.94,382.84 L363.94,378.84" fill="none" stroke="#48d848" stroke-width="1.25" stroke-linejoin="round" stroke-linecap="round" />
<path d="M373.49,390.66 L366.49,394.16" fill="none" stroke="#48d848" stroke-width="1.25" stroke-linejoin="round" stroke-linecap="round" />
<path d="M379.60,382.00 L382.60,385.00 L379.60,388.00 L376.60,385.00 Z" fill="none" stroke="#f0c030" stroke-width="1.2" stroke-linejoin="round" />
<path d="M381.71,390.66 L382.71,396.66" fill="none" stroke="#e9a2ea" stroke-width="1.25" stroke-linejoin="round" stroke-linecap="round" />
<path d="M381.60,411.80 L384.55,409.66" fill="none" stroke="#e9a2ea" stroke-width="1.25" stroke-linejoin="round" stroke-linecap="round" />
<path d="M384.55,409.66 L387.50,407.52" fill="none" stroke="#e9a2ea" stroke-width="1.25" stroke-linejoin="round" stroke-linecap="round" />
<path d="M387.50,407.52 L386.37,404.05" fill="none" stroke="#e9a2ea" stroke-width="1.25" stroke-linejoin="round" stroke-linecap="round" />
<path d="M386.37,404.05 L385.24,400.58" fill="none" stroke="#e9a2ea" stroke-width="1.25" stroke-linejoin="round" stroke-linecap="round" />
<path d="M385.24,400.58 L381.60,400.58" fill="none" stroke="#e9a2ea" stroke-width="1.25" stroke-linejoin="round" stroke-linecap="round" />
<path d="M381.60,400.58 L377.96,400.58" fill="none" stroke="#e9a2ea" stroke-width="1.25" stroke-linejoin="round" stroke-linecap="round" />
<path d="M377.96,400.58 L376.83,404.05" fill="none" stroke="#e9a2ea" stroke-width="1.25" stroke-linejoin="round" stroke-linecap="round" />
<path d="M376.83,404.05 L375.70,407.52" fill="none" stroke="#f2c21a" stroke-width="1.25" stroke-linejoin="round" stroke-linecap="round" />
<path d="M375.70,407.52 L378.65,409.66" fill="none" stroke="#f2c21a" stroke-width="1.25" stroke-linejoin="round" stroke-linecap="round" />
<path d="M378.65,409.66 L381.60,411.80" fill="none" stroke="#e9a2ea" stroke-width="1.25" stroke-linejoin="round" stroke-linecap="round" />
<path d="M466.00,298.80 L463.05,300.94" fill="none" stroke="#e9a2ea" stroke-width="1.25" stroke-linejoin="round" stroke-linecap="round" />
<path d="M463.05,300.94 L460.10,303.08" fill="none" stroke="#f2c21a" stroke-width="1.25" stroke-linejoin="round" stroke-linecap="round" />
<path d="M460.10,303.08 L461.23,306.55" fill="none" stroke="#f2c21a" stroke-width="1.25" stroke-linejoin="round" stroke-linecap="round" />
<path d="M461.23,306.55 L462.36,310.02" fill="none" stroke="#e9a2ea" stroke-width="1.25" stroke-linejoin="round" stroke-linecap="round" />
<path d="M462.36,310.02 L466.00,310.02" fill="none" stroke="#e9a2ea" stroke-width="1.25" stroke-linejoin="round" stroke-linecap="round" />
<path d="M466.00,310.02 L469.64,310.02" fill="none" stroke="#e9a2ea" stroke-width="1.25" stroke-linejoin="round" stroke-linecap="round" />
<path d="M469.64,310.02 L470.77,306.55" fill="none" stroke="#e9a2ea" stroke-width="1.25" stroke-linejoin="round" stroke-linecap="round" />
<path d="M470.77,306.55 L471.90,303.08" fill="none" stroke="#e9a2ea" stroke-width="1.25" stroke-linejoin="round" stroke-linecap="round" />
<path d="M471.90,303.08 L468.95,300.94" fill="none" stroke="#e9a2ea" stroke-width="1.25" stroke-linejoin="round" stroke-linecap="round" />
<path d="M468.95,300.94 L466.00,298.80" fill="none" stroke="#e9a2ea" stroke-width="1.25" stroke-linejoin="round" stroke-linecap="round" />
<path d="M465.00,310.50 L463.00,319.00" fill="none" stroke="#e9a2ea" stroke-width="1.25" stroke-linejoin="round" stroke-linecap="round" />
<path d="M470.00,333.60 L473.42,331.11" fill="none" stroke="#e9a2ea" stroke-width="1.25" stroke-linejoin="round" stroke-linecap="round" />
<path d="M473.42,331.11 L476.85,328.62" fill="none" stroke="#e9a2ea" stroke-width="1.25" stroke-linejoin="round" stroke-linecap="round" />
<path d="M476.85,328.62 L475.54,324.60" fill="none" stroke="#e9a2ea" stroke-width="1.25" stroke-linejoin="round" stroke-linecap="round" />
<path d="M475.54,324.60 L474.23,320.58" fill="none" stroke="#e9a2ea" stroke-width="1.25" stroke-linejoin="round" stroke-linecap="round" />
<path d="M474.23,320.58 L470.00,320.58" fill="none" stroke="#e9a2ea" stroke-width="1.25" stroke-linejoin="round" stroke-linecap="round" />
<path d="M470.00,320.58 L465.77,320.58" fill="none" stroke="#e9a2ea" stroke-width="1.25" stroke-linejoin="round" stroke-linecap="round" />
<path d="M465.77,320.58 L464.46,324.60" fill="none" stroke="#e9a2ea" stroke-width="1.25" stroke-linejoin="round" stroke-linecap="round" />
<path d="M464.46,324.60 L463.15,328.62" fill="none" stroke="#f2c21a" stroke-width="1.25" stroke-linejoin="round" stroke-linecap="round" />
<path d="M463.15,328.62 L466.58,331.11" fill="none" stroke="#f2c21a" stroke-width="1.25" stroke-linejoin="round" stroke-linecap="round" />
<path d="M466.58,331.11 L470.00,333.60" fill="none" stroke="#e9a2ea" stroke-width="1.25" stroke-linejoin="round" stroke-linecap="round" />
<path d="M463.00,317.90 L459.67,320.32" fill="none" stroke="#e9a2ea" stroke-width="1.25" stroke-linejoin="round" stroke-linecap="round" />
<path d="M459.67,320.32 L456.34,322.74" fill="none" stroke="#e9a2ea" stroke-width="1.25" stroke-linejoin="round" stroke-linecap="round" />
<path d="M456.34,322.74 L457.61,326.65" fill="none" stroke="#e9a2ea" stroke-width="1.25" stroke-linejoin="round" stroke-linecap="round" />
<path d="M457.61,326.65 L458.89,330.56" fill="none" stroke="#f2c21a" stroke-width="1.25" stroke-linejoin="round" stroke-linecap="round" />
<path d="M458.89,330.56 L463.00,330.56" fill="none" stroke="#f2c21a" stroke-width="1.25" stroke-linejoin="round" stroke-linecap="round" />
<path d="M463.00,330.56 L467.11,330.56" fill="none" stroke="#e9a2ea" stroke-width="1.25" stroke-linejoin="round" stroke-linecap="round" />
<path d="M467.11,330.56 L468.39,326.65" fill="none" stroke="#e9a2ea" stroke-width="1.25" stroke-linejoin="round" stroke-linecap="round" />
<path d="M468.39,326.65 L469.66,322.74" fill="none" stroke="#e9a2ea" stroke-width="1.25" stroke-linejoin="round" stroke-linecap="round" />
<path d="M469.66,322.74 L466.33,320.32" fill="none" stroke="#e9a2ea" stroke-width="1.25" stroke-linejoin="round" stroke-linecap="round" />
<path d="M466.33,320.32 L463.00,317.90" fill="none" stroke="#e9a2ea" stroke-width="1.25" stroke-linejoin="round" stroke-linecap="round" />
<path d="M456.34,322.74 L449.34,318.74" fill="none" stroke="#48d848" stroke-width="1.25" stroke-linejoin="round" stroke-linecap="round" />
<path d="M458.89,330.56 L451.89,334.06" fill="none" stroke="#48d848" stroke-width="1.25" stroke-linejoin="round" stroke-linecap="round" />
<path d="M465.00,321.90 L468.00,324.90 L465.00,327.90 L462.00,324.90 Z" fill="none" stroke="#f0c030" stroke-width="1.2" stroke-linejoin="round" />
<path d="M467.11,330.56 L468.11,336.56" fill="none" stroke="#e9a2ea" stroke-width="1.25" stroke-linejoin="round" stroke-linecap="round" />
<path d="M470.00,353.50 L473.42,351.01" fill="none" stroke="#e9a2ea" stroke-width="1.25" stroke-linejoin="round" stroke-linecap="round" />
<path d="M473.42,351.01 L476.85,348.52" fill="none" stroke="#e9a2ea" stroke-width="1.25" stroke-linejoin="round" stroke-linecap="round" />
<path d="M476.85,348.52 L475.54,344.50" fill="none" stroke="#e9a2ea" stroke-width="1.25" stroke-linejoin="round" stroke-linecap="round" />
<path d="M475.54,344.50 L474.23,340.48" fill="none" stroke="#e9a2ea" stroke-width="1.25" stroke-linejoin="round" stroke-linecap="round" />
<path d="M474.23,340.48 L470.00,340.48" fill="none" stroke="#e9a2ea" stroke-width="1.25" stroke-linejoin="round" stroke-linecap="round" />
<path d="M470.00,340.48 L465.77,340.48" fill="none" stroke="#e9a2ea" stroke-width="1.25" stroke-linejoin="round" stroke-linecap="round" />
<path d="M465.77,340.48 L464.46,344.50" fill="none" stroke="#e9a2ea" stroke-width="1.25" stroke-linejoin="round" stroke-linecap="round" />
<path d="M464.46,344.50 L463.15,348.52" fill="none" stroke="#f2c21a" stroke-width="1.25" stroke-linejoin="round" stroke-linecap="round" />
<path d="M463.15,348.52 L466.58,351.01" fill="none" stroke="#f2c21a" stroke-width="1.25" stroke-linejoin="round" stroke-linecap="round" />
<path d="M466.58,351.01 L470.00,353.50" fill="none" stroke="#e9a2ea" stroke-width="1.25" stroke-linejoin="round" stroke-linecap="round" />
<path d="M463.00,337.80 L459.67,340.22" fill="none" stroke="#e9a2ea" stroke-width="1.25" stroke-linejoin="round" stroke-linecap="round" />
<path d="M459.67,340.22 L456.34,342.64" fill="none" stroke="#e9a2ea" stroke-width="1.25" stroke-linejoin="round" stroke-linecap="round" />
<path d="M456.34,342.64 L457.61,346.55" fill="none" stroke="#e9a2ea" stroke-width="1.25" stroke-linejoin="round" stroke-linecap="round" />
<path d="M457.61,346.55 L458.89,350.46" fill="none" stroke="#f2c21a" stroke-width="1.25" stroke-linejoin="round" stroke-linecap="round" />
<path d="M458.89,350.46 L463.00,350.46" fill="none" stroke="#f2c21a" stroke-width="1.25" stroke-linejoin="round" stroke-linecap="round" />
<path d="M463.00,350.46 L467.11,350.46" fill="none" stroke="#e9a2ea" stroke-width="1.25" stroke-linejoin="round" stroke-linecap="round" />
<path d="M467.11,350.46 L468.39,346.55" fill="none" stroke="#e9a2ea" stroke-width="1.25" stroke-linejoin="round" stroke-linecap="round" />
<path d="M468.39,346.55 L469.66,342.64" fill="none" stroke="#e9a2ea" stroke-width="1.25" stroke-linejoin="round" stroke-linecap="round" />
<path d="M469.66,342.64 L466.33,340.22" fill="none" stroke="#e9a2ea" stroke-width="1.25" stroke-linejoin="round" stroke-linecap="round" />
<path d="M466.33,340.22 L463.00,337.80" fill="none" stroke="#e9a2ea" stroke-width="1.25" stroke-linejoin="round" stroke-linecap="round" />
<path d="M456.34,342.64 L449.34,338.64" fill="none" stroke="#48d848" stroke-width="1.25" stroke-linejoin="round" stroke-linecap="round" />
<path d="M458.89,350.46 L451.89,353.96" fill="none" stroke="#48d848" stroke-width="1.25" stroke-linejoin="round" stroke-linecap="round" />
<path d="M465.00,341.80 L468.00,344.80 L465.00,347.80 L462.00,344.80 Z" fill="none" stroke="#f0c030" stroke-width="1.2" stroke-linejoin="round" />
<path d="M467.11,350.46 L468.11,356.46" fill="none" stroke="#e9a2ea" stroke-width="1.25" stroke-linejoin="round" stroke-linecap="round" />
<path d="M470.00,373.40 L473.42,370.91" fill="none" stroke="#e9a2ea" stroke-width="1.25" stroke-linejoin="round" stroke-linecap="round" />
<path d="M473.42,370.91 L476.85,368.42" fill="none" stroke="#e9a2ea" stroke-width="1.25" stroke-linejoin="round" stroke-linecap="round" />
<path d="M476.85,368.42 L475.54,364.40" fill="none" stroke="#e9a2ea" stroke-width="1.25" stroke-linejoin="round" stroke-linecap="round" />
<path d="M475.54,364.40 L474.23,360.38" fill="none" stroke="#e9a2ea" stroke-width="1.25" stroke-linejoin="round" stroke-linecap="round" />
<path d="M474.23,360.38 L470.00,360.38" fill="none" stroke="#e9a2ea" stroke-width="1.25" stroke-linejoin="round" stroke-linecap="round" />
<path d="M470.00,360.38 L465.77,360.38" fill="none" stroke="#e9a2ea" stroke-width="1.25" stroke-linejoin="round" stroke-linecap="round" />
<path d="M465.77,360.38 L464.46,364.40" fill="none" stroke="#e9a2ea" stroke-width="1.25" stroke-linejoin="round" stroke-linecap="round" />
<path d="M464.46,364.40 L463.15,368.42" fill="none" stroke="#f2c21a" stroke-width="1.25" stroke-linejoin="round" stroke-linecap="round" />
<path d="M463.15,368.42 L466.58,370.91" fill="none" stroke="#f2c21a" stroke-width="1.25" stroke-linejoin="round" stroke-linecap="round" />
<path d="M466.58,370.91 L470.00,373.40" fill="none" stroke="#e9a2ea" stroke-width="1.25" stroke-linejoin="round" stroke-linecap="round" />
<path d="M463.00,357.70 L459.67,360.12" fill="none" stroke="#e9a2ea" stroke-width="1.25" stroke-linejoin="round" stroke-linecap="round" />
<path d="M459.67,360.12 L456.34,362.54" fill="none" stroke="#e9a2ea" stroke-width="1.25" stroke-linejoin="round" stroke-linecap="round" />
<path d="M456.34,362.54 L457.61,366.45" fill="none" stroke="#e9a2ea" stroke-width="1.25" stroke-linejoin="round" stroke-linecap="round" />
<path d="M457.61,366.45 L458.89,370.36" fill="none" stroke="#f2c21a" stroke-width="1.25" stroke-linejoin="round" stroke-linecap="round" />
<path d="M458.89,370.36 L463.00,370.36" fill="none" stroke="#f2c21a" stroke-width="1.25" stroke-linejoin="round" stroke-linecap="round" />
<path d="M463.00,370.36 L467.11,370.36" fill="none" stroke="#e9a2ea" stroke-width="1.25" stroke-linejoin="round" stroke-linecap="round" />
<path d="M467.11,370.36 L468.39,366.45" fill="none" stroke="#e9a2ea" stroke-width="1.25" stroke-linejoin="round" stroke-linecap="round" />
<path d="M468.39,366.45 L469.66,362.54" fill="none" stroke="#e9a2ea" stroke-width="1.25" stroke-linejoin="round" stroke-linecap="round" />
<path d="M469.66,362.54 L466.33,360.12" fill="none" stroke="#e9a2ea" stroke-width="1.25" stroke-linejoin="round" stroke-linecap="round" />
<path d="M466.33,360.12 L463.00,357.70" fill="none" stroke="#e9a2ea" stroke-width="1.25" stroke-linejoin="round" stroke-linecap="round" />
<path d="M456.34,362.54 L449.34,358.54" fill="none" stroke="#48d848" stroke-width="1.25" stroke-linejoin="round" stroke-linecap="round" />
<path d="M458.89,370.36 L451.89,373.86" fill="none" stroke="#48d848" stroke-width="1.25" stroke-linejoin="round" stroke-linecap="round" />
<path d="M465.00,361.70 L468.00,364.70 L465.00,367.70 L462.00,364.70 Z" fill="none" stroke="#f0c030" stroke-width="1.2" stroke-linejoin="round" />
<path d="M467.11,370.36 L468.11,376.36" fill="none" stroke="#e9a2ea" stroke-width="1.25" stroke-linejoin="round" stroke-linecap="round" />
<path d="M470.00,393.70 L473.42,391.21" fill="none" stroke="#e9a2ea" stroke-width="1.25" stroke-linejoin="round" stroke-linecap="round" />
<path d="M473.42,391.21 L476.85,388.72" fill="none" stroke="#e9a2ea" stroke-width="1.25" stroke-linejoin="round" stroke-linecap="round" />
<path d="M476.85,388.72 L475.54,384.70" fill="none" stroke="#e9a2ea" stroke-width="1.25" stroke-linejoin="round" stroke-linecap="round" />
<path d="M475.54,384.70 L474.23,380.68" fill="none" stroke="#e9a2ea" stroke-width="1.25" stroke-linejoin="round" stroke-linecap="round" />
<path d="M474.23,380.68 L470.00,380.68" fill="none" stroke="#e9a2ea" stroke-width="1.25" stroke-linejoin="round" stroke-linecap="round" />
<path d="M470.00,380.68 L465.77,380.68" fill="none" stroke="#e9a2ea" stroke-width="1.25" stroke-linejoin="round" stroke-linecap="round" />
<path d="M465.77,380.68 L464.46,384.70" fill="none" stroke="#e9a2ea" stroke-width="1.25" stroke-linejoin="round" stroke-linecap="round" />
<path d="M464.46,384.70 L463.15,388.72" fill="none" stroke="#f2c21a" stroke-width="1.25" stroke-linejoin="round" stroke-linecap="round" />
<path d="M463.15,388.72 L466.58,391.21" fill="none" stroke="#f2c21a" stroke-width="1.25" stroke-linejoin="round" stroke-linecap="round" />
<path d="M466.58,391.21 L470.00,393.70" fill="none" stroke="#e9a2ea" stroke-width="1.25" stroke-linejoin="round" stroke-linecap="round" />
<path d="M463.00,378.00 L459.67,380.42" fill="none" stroke="#e9a2ea" stroke-width="1.25" stroke-linejoin="round" stroke-linecap="round" />
<path d="M459.67,380.42 L456.34,382.84" fill="none" stroke="#e9a2ea" stroke-width="1.25" stroke-linejoin="round" stroke-linecap="round" />
<path d="M456.34,382.84 L457.61,386.75" fill="none" stroke="#e9a2ea" stroke-width="1.25" stroke-linejoin="round" stroke-linecap="round" />
<path d="M457.61,386.75 L458.89,390.66" fill="none" stroke="#f2c21a" stroke-width="1.25" stroke-linejoin="round" stroke-linecap="round" />
<path d="M458.89,390.66 L463.00,390.66" fill="none" stroke="#f2c21a" stroke-width="1.25" stroke-linejoin="round" stroke-linecap="round" />
<path d="M463.00,390.66 L467.11,390.66" fill="none" stroke="#e9a2ea" stroke-width="1.25" stroke-linejoin="round" stroke-linecap="round" />
<path d="M467.11,390.66 L468.39,386.75" fill="none" stroke="#e9a2ea" stroke-width="1.25" stroke-linejoin="round" stroke-linecap="round" />
<path d="M468.39,386.75 L469.66,382.84" fill="none" stroke="#e9a2ea" stroke-width="1.25" stroke-linejoin="round" stroke-linecap="round" />
<path d="M469.66,382.84 L466.33,380.42" fill="none" stroke="#e9a2ea" stroke-width="1.25" stroke-linejoin="round" stroke-linecap="round" />
<path d="M466.33,380.42 L463.00,378.00" fill="none" stroke="#e9a2ea" stroke-width="1.25" stroke-linejoin="round" stroke-linecap="round" />
<path d="M456.34,382.84 L449.34,378.84" fill="none" stroke="#48d848" stroke-width="1.25" stroke-linejoin="round" stroke-linecap="round" />
<path d="M458.89,390.66 L451.89,394.16" fill="none" stroke="#48d848" stroke-width="1.25" stroke-linejoin="round" stroke-linecap="round" />
<path d="M465.00,382.00 L468.00,385.00 L465.00,388.00 L462.00,385.00 Z" fill="none" stroke="#f0c030" stroke-width="1.2" stroke-linejoin="round" />
<path d="M467.11,390.66 L468.11,396.66" fill="none" stroke="#e9a2ea" stroke-width="1.25" stroke-linejoin="round" stroke-linecap="round" />
<path d="M467.00,411.80 L469.95,409.66" fill="none" stroke="#e9a2ea" stroke-width="1.25" stroke-linejoin="round" stroke-linecap="round" />
<path d="M469.95,409.66 L472.90,407.52" fill="none" stroke="#e9a2ea" stroke-width="1.25" stroke-linejoin="round" stroke-linecap="round" />
<path d="M472.90,407.52 L471.77,404.05" fill="none" stroke="#e9a2ea" stroke-width="1.25" stroke-linejoin="round" stroke-linecap="round" />
<path d="M471.77,404.05 L470.64,400.58" fill="none" stroke="#e9a2ea" stroke-width="1.25" stroke-linejoin="round" stroke-linecap="round" />
<path d="M470.64,400.58 L467.00,400.58" fill="none" stroke="#e9a2ea" stroke-width="1.25" stroke-linejoin="round" stroke-linecap="round" />
<path d="M467.00,400.58 L463.36,400.58" fill="none" stroke="#e9a2ea" stroke-width="1.25" stroke-linejoin="round" stroke-linecap="round" />
<path d="M463.36,400.58 L462.23,404.05" fill="none" stroke="#e9a2ea" stroke-width="1.25" stroke-linejoin="round" stroke-linecap="round" />
<path d="M462.23,404.05 L461.10,407.52" fill="none" stroke="#f2c21a" stroke-width="1.25" stroke-linejoin="round" stroke-linecap="round" />
<path d="M461.10,407.52 L464.05,409.66" fill="none" stroke="#f2c21a" stroke-width="1.25" stroke-linejoin="round" stroke-linecap="round" />
<path d="M464.05,409.66 L467.00,411.80" fill="none" stroke="#e9a2ea" stroke-width="1.25" stroke-linejoin="round" stroke-linecap="round" />
<path d="M561.30,308.60 L592.80,353.40" fill="none" stroke="#e59ae6" stroke-width="1.2" stroke-linejoin="round" stroke-linecap="round" />
<path d="M562.90,308.60 L594.00,352.80" fill="none" stroke="#e59ae6" stroke-width="1.0" stroke-linejoin="round" stroke-linecap="round" />
<path d="M589.02,348.02 L592.80,353.40" fill="none" stroke="#f2c21a" stroke-width="1.3" stroke-linejoin="round" stroke-linecap="round" />
<path d="M573.90,326.52 L577.05,331.00" fill="none" stroke="#f2c21a" stroke-width="1.3" stroke-linejoin="round" stroke-linecap="round" />
<ellipse cx="562.80" cy="311.60" rx="2.2" ry="3.6" transform="rotate(-30 562.80 311.60)" fill="none" stroke="#e59ae6" stroke-width="1.0"/>
<path d="M569.75,321.04 L566.75,318.54" fill="none" stroke="#35c835" stroke-width="1.3" stroke-linejoin="round" stroke-linecap="round" />
<path d="M550.80,328.60 L583.20,372.50" fill="none" stroke="#e59ae6" stroke-width="1.2" stroke-linejoin="round" stroke-linecap="round" />
<path d="M552.40,328.60 L584.40,371.90" fill="none" stroke="#e59ae6" stroke-width="1.0" stroke-linejoin="round" stroke-linecap="round" />
<path d="M579.31,367.23 L583.20,372.50" fill="none" stroke="#f2c21a" stroke-width="1.3" stroke-linejoin="round" stroke-linecap="round" />
<path d="M563.76,346.16 L567.00,350.55" fill="none" stroke="#f2c21a" stroke-width="1.3" stroke-linejoin="round" stroke-linecap="round" />
<ellipse cx="552.30" cy="331.60" rx="2.2" ry="3.6" transform="rotate(-30 552.30 331.60)" fill="none" stroke="#e59ae6" stroke-width="1.0"/>
<path d="M559.52,340.77 L556.52,338.27" fill="none" stroke="#35c835" stroke-width="1.3" stroke-linejoin="round" stroke-linecap="round" />
<path d="M541.30,347.70 L572.70,391.60" fill="none" stroke="#e59ae6" stroke-width="1.2" stroke-linejoin="round" stroke-linecap="round" />
<path d="M542.90,347.70 L573.90,391.00" fill="none" stroke="#e59ae6" stroke-width="1.0" stroke-linejoin="round" stroke-linecap="round" />
<path d="M568.93,386.33 L572.70,391.60" fill="none" stroke="#f2c21a" stroke-width="1.3" stroke-linejoin="round" stroke-linecap="round" />
<path d="M553.86,365.26 L557.00,369.65" fill="none" stroke="#f2c21a" stroke-width="1.3" stroke-linejoin="round" stroke-linecap="round" />
<ellipse cx="542.80" cy="350.70" rx="2.2" ry="3.6" transform="rotate(-30 542.80 350.70)" fill="none" stroke="#e59ae6" stroke-width="1.0"/>
<path d="M549.72,359.87 L546.72,357.37" fill="none" stroke="#35c835" stroke-width="1.3" stroke-linejoin="round" stroke-linecap="round" />
<path d="M531.70,366.80 L563.20,410.70" fill="none" stroke="#e59ae6" stroke-width="1.2" stroke-linejoin="round" stroke-linecap="round" />
<path d="M533.30,366.80 L564.40,410.10" fill="none" stroke="#e59ae6" stroke-width="1.0" stroke-linejoin="round" stroke-linecap="round" />
<path d="M559.42,405.43 L563.20,410.70" fill="none" stroke="#f2c21a" stroke-width="1.3" stroke-linejoin="round" stroke-linecap="round" />
<path d="M544.30,384.36 L547.45,388.75" fill="none" stroke="#f2c21a" stroke-width="1.3" stroke-linejoin="round" stroke-linecap="round" />
<ellipse cx="533.20" cy="369.80" rx="2.2" ry="3.6" transform="rotate(-30 533.20 369.80)" fill="none" stroke="#e59ae6" stroke-width="1.0"/>
<path d="M540.15,378.97 L537.15,376.47" fill="none" stroke="#35c835" stroke-width="1.3" stroke-linejoin="round" stroke-linecap="round" />
<path d="M540.30,329.90 L594.70,329.90" fill="none" stroke="#4a9ae0" stroke-width="1.2" stroke-linejoin="round" stroke-linecap="round" />
<path d="M543.30,331.40 L593.70,331.40" fill="none" stroke="#4a9ae0" stroke-width="1.1" stroke-linejoin="round" stroke-linecap="round" />
<ellipse cx="589.70" cy="330.70" rx="4.2" ry="1.4" fill="none" stroke="#4a9ae0" stroke-width="1.0"/>
<path d="M586.70,331.70 L591.70,331.80" fill="none" stroke="#f2c21a" stroke-width="1.2" stroke-linejoin="round" stroke-linecap="round" />
<path d="M541.30,330.10 L546.30,330.10" fill="none" stroke="#f2c21a" stroke-width="1.3" stroke-linejoin="round" stroke-linecap="round" />
<path d="M564.50,329.90 L570.50,329.90" fill="none" stroke="#f2c21a" stroke-width="1.2" stroke-linejoin="round" stroke-linecap="round" />
<path d="M559.50,330.00 L563.50,330.00" fill="none" stroke="#35c835" stroke-width="1.3" stroke-linejoin="round" stroke-linecap="round" />
<path d="M568.50,333.50 L568.00,336.50" fill="none" stroke="#35c835" stroke-width="1.2" stroke-linejoin="round" stroke-linecap="round" />
<path d="M529.80,350.00 L584.20,350.00" fill="none" stroke="#4a9ae0" stroke-width="1.2" stroke-linejoin="round" stroke-linecap="round" />
<path d="M532.80,351.50 L583.20,351.50" fill="none" stroke="#4a9ae0" stroke-width="1.1" stroke-linejoin="round" stroke-linecap="round" />
<ellipse cx="579.20" cy="350.80" rx="4.2" ry="1.4" fill="none" stroke="#4a9ae0" stroke-width="1.0"/>
<path d="M576.20,351.80 L581.20,351.90" fill="none" stroke="#f2c21a" stroke-width="1.2" stroke-linejoin="round" stroke-linecap="round" />
<path d="M530.80,350.20 L535.80,350.20" fill="none" stroke="#f2c21a" stroke-width="1.3" stroke-linejoin="round" stroke-linecap="round" />
<path d="M554.00,350.00 L560.00,350.00" fill="none" stroke="#f2c21a" stroke-width="1.2" stroke-linejoin="round" stroke-linecap="round" />
<path d="M549.00,350.10 L553.00,350.10" fill="none" stroke="#35c835" stroke-width="1.3" stroke-linejoin="round" stroke-linecap="round" />
<path d="M558.00,353.60 L557.50,356.60" fill="none" stroke="#35c835" stroke-width="1.2" stroke-linejoin="round" stroke-linecap="round" />
<path d="M520.30,369.10 L574.70,369.10" fill="none" stroke="#4a9ae0" stroke-width="1.2" stroke-linejoin="round" stroke-linecap="round" />
<path d="M523.30,370.60 L573.70,370.60" fill="none" stroke="#4a9ae0" stroke-width="1.1" stroke-linejoin="round" stroke-linecap="round" />
<ellipse cx="569.70" cy="369.90" rx="4.2" ry="1.4" fill="none" stroke="#4a9ae0" stroke-width="1.0"/>
<path d="M566.70,370.90 L571.70,371.00" fill="none" stroke="#f2c21a" stroke-width="1.2" stroke-linejoin="round" stroke-linecap="round" />
<path d="M521.30,369.30 L526.30,369.30" fill="none" stroke="#f2c21a" stroke-width="1.3" stroke-linejoin="round" stroke-linecap="round" />
<path d="M544.50,369.10 L550.50,369.10" fill="none" stroke="#f2c21a" stroke-width="1.2" stroke-linejoin="round" stroke-linecap="round" />
<path d="M539.50,369.20 L543.50,369.20" fill="none" stroke="#35c835" stroke-width="1.3" stroke-linejoin="round" stroke-linecap="round" />
<path d="M548.50,372.70 L548.00,375.70" fill="none" stroke="#35c835" stroke-width="1.2" stroke-linejoin="round" stroke-linecap="round" />
<path d="M510.70,388.10 L565.10,388.10" fill="none" stroke="#4a9ae0" stroke-width="1.2" stroke-linejoin="round" stroke-linecap="round" />
<path d="M513.70,389.60 L564.10,389.60" fill="none" stroke="#4a9ae0" stroke-width="1.1" stroke-linejoin="round" stroke-linecap="round" />
<ellipse cx="560.10" cy="388.90" rx="4.2" ry="1.4" fill="none" stroke="#4a9ae0" stroke-width="1.0"/>
<path d="M557.10,389.90 L562.10,390.00" fill="none" stroke="#f2c21a" stroke-width="1.2" stroke-linejoin="round" stroke-linecap="round" />
<path d="M511.70,388.30 L516.70,388.30" fill="none" stroke="#f2c21a" stroke-width="1.3" stroke-linejoin="round" stroke-linecap="round" />
<path d="M534.90,388.10 L540.90,388.10" fill="none" stroke="#f2c21a" stroke-width="1.2" stroke-linejoin="round" stroke-linecap="round" />
<path d="M529.90,388.20 L533.90,388.20" fill="none" stroke="#35c835" stroke-width="1.3" stroke-linejoin="round" stroke-linecap="round" />
<path d="M538.90,391.70 L538.40,394.70" fill="none" stroke="#35c835" stroke-width="1.2" stroke-linejoin="round" stroke-linecap="round" />
<path d="M609.90,348.50 L664.50,349.50" fill="none" stroke="#e59ae6" stroke-width="1.3" stroke-linejoin="round" stroke-linecap="round" />
<path d="M613.90,349.60 L661.50,350.00" fill="none" stroke="#e59ae6" stroke-width="0.9" stroke-linejoin="round" stroke-linecap="round" />
<path d="M612.90,348.80 L618.90,348.90" fill="none" stroke="#f2c21a" stroke-width="1.3" stroke-linejoin="round" stroke-linecap="round" />
<path d="M655.50,349.40 L661.50,349.50" fill="none" stroke="#f2c21a" stroke-width="1.3" stroke-linejoin="round" stroke-linecap="round" />
<path d="M629.20,349.00 L634.20,349.00" fill="none" stroke="#f2c21a" stroke-width="1.3" stroke-linejoin="round" stroke-linecap="round" />
<path d="M599.90,367.50 L654.60,368.50" fill="none" stroke="#e59ae6" stroke-width="1.3" stroke-linejoin="round" stroke-linecap="round" />
<path d="M603.90,368.60 L651.60,369.00" fill="none" stroke="#e59ae6" stroke-width="0.9" stroke-linejoin="round" stroke-linecap="round" />
<path d="M602.90,367.80 L608.90,367.90" fill="none" stroke="#f2c21a" stroke-width="1.3" stroke-linejoin="round" stroke-linecap="round" />
<path d="M645.60,368.40 L651.60,368.50" fill="none" stroke="#f2c21a" stroke-width="1.3" stroke-linejoin="round" stroke-linecap="round" />
<path d="M619.25,368.00 L624.25,368.00" fill="none" stroke="#f2c21a" stroke-width="1.3" stroke-linejoin="round" stroke-linecap="round" />
<path d="M590.00,386.60 L644.70,387.60" fill="none" stroke="#e59ae6" stroke-width="1.3" stroke-linejoin="round" stroke-linecap="round" />
<path d="M594.00,387.70 L641.70,388.10" fill="none" stroke="#e59ae6" stroke-width="0.9" stroke-linejoin="round" stroke-linecap="round" />
<path d="M593.00,386.90 L599.00,387.00" fill="none" stroke="#f2c21a" stroke-width="1.3" stroke-linejoin="round" stroke-linecap="round" />
<path d="M635.70,387.50 L641.70,387.60" fill="none" stroke="#f2c21a" stroke-width="1.3" stroke-linejoin="round" stroke-linecap="round" />
<path d="M609.35,387.10 L614.35,387.10" fill="none" stroke="#f2c21a" stroke-width="1.3" stroke-linejoin="round" stroke-linecap="round" />
<path d="M610.70,326.30 L643.80,370.50" fill="none" stroke="#4a9ae0" stroke-width="1.2" stroke-linejoin="round" stroke-linecap="round" />
<path d="M612.30,326.30 L645.00,369.90" fill="none" stroke="#4a9ae0" stroke-width="1.0" stroke-linejoin="round" stroke-linecap="round" />
<path d="M639.83,365.20 L643.80,370.50" fill="none" stroke="#f2c21a" stroke-width="1.3" stroke-linejoin="round" stroke-linecap="round" />
<path d="M623.94,343.98 L627.25,348.40" fill="none" stroke="#f2c21a" stroke-width="1.3" stroke-linejoin="round" stroke-linecap="round" />
<ellipse cx="641.30" cy="367.00" rx="2.4" ry="4.4" transform="rotate(-40 641.30 367.00)" fill="none" stroke="#4a9ae0" stroke-width="1.1"/>
<path d="M625.25,348.40 L630.25,350.40" fill="none" stroke="#35c835" stroke-width="1.3" stroke-linejoin="round" stroke-linecap="round" />
<path d="M600.70,345.70 L633.90,389.60" fill="none" stroke="#4a9ae0" stroke-width="1.2" stroke-linejoin="round" stroke-linecap="round" />
<path d="M602.30,345.70 L635.10,389.00" fill="none" stroke="#4a9ae0" stroke-width="1.0" stroke-linejoin="round" stroke-linecap="round" />
<path d="M629.92,384.33 L633.90,389.60" fill="none" stroke="#f2c21a" stroke-width="1.3" stroke-linejoin="round" stroke-linecap="round" />
<path d="M613.98,363.26 L617.30,367.65" fill="none" stroke="#f2c21a" stroke-width="1.3" stroke-linejoin="round" stroke-linecap="round" />
<ellipse cx="631.40" cy="386.10" rx="2.4" ry="4.4" transform="rotate(-40 631.40 386.10)" fill="none" stroke="#4a9ae0" stroke-width="1.1"/>
<path d="M615.30,367.65 L620.30,369.65" fill="none" stroke="#35c835" stroke-width="1.3" stroke-linejoin="round" stroke-linecap="round" />
<path d="M591.60,364.70 L623.90,409.40" fill="none" stroke="#4a9ae0" stroke-width="1.2" stroke-linejoin="round" stroke-linecap="round" />
<path d="M593.20,364.70 L625.10,408.80" fill="none" stroke="#4a9ae0" stroke-width="1.0" stroke-linejoin="round" stroke-linecap="round" />
<path d="M620.02,404.04 L623.90,409.40" fill="none" stroke="#f2c21a" stroke-width="1.3" stroke-linejoin="round" stroke-linecap="round" />
<path d="M604.52,382.58 L607.75,387.05" fill="none" stroke="#f2c21a" stroke-width="1.3" stroke-linejoin="round" stroke-linecap="round" />
<ellipse cx="621.40" cy="405.90" rx="2.4" ry="4.4" transform="rotate(-40 621.40 405.90)" fill="none" stroke="#4a9ae0" stroke-width="1.1"/>
<path d="M605.75,387.05 L610.75,389.05" fill="none" stroke="#35c835" stroke-width="1.3" stroke-linejoin="round" stroke-linecap="round" />
<path d="M561.0,399.8 L571.2,392.4" stroke="#cc6414" stroke-width="3.0"/>
<path d="M557.6,402.8 L559.0,394.6 L564.6,401.8 Z" fill="#cc6414"/>
<path d="M574.6,389.6 L573.2,397.8 L567.6,390.6 Z" fill="#cc6414"/>
<text x="571.2" y="419.4" font-size="11.3" fill="#c8202a" font-weight="bold" font-family="Liberation Sans, sans-serif"><tspan font-style="italic">d</tspan><tspan font-size="6.2" dy="2.4">π-π</tspan><tspan dy="-2.4"> = 3.57 Å</tspan></text>
<path d="M492.00,407.20 L493.37,390.79" fill="none" stroke="#111" stroke-width="0.8" stroke-linejoin="round" stroke-linecap="round" />
<path d="M493.50,389.30 L494.73,392.61 L491.74,392.36 Z" fill="#111"/>
<text x="498.60" y="393.60" font-size="8.5" fill="#111" text-anchor="middle" font-weight="normal" font-family="Liberation Sans, sans-serif" >b</text>
<path d="M492.00,407.20 L487.16,395.19" fill="none" stroke="#111" stroke-width="0.8" stroke-linejoin="round" stroke-linecap="round" />
<path d="M486.60,393.80 L489.19,396.21 L486.40,397.33 Z" fill="#111"/>
<text x="482.60" y="401.00" font-size="8.5" fill="#111" text-anchor="middle" font-weight="normal" font-family="Liberation Sans, sans-serif" >a</text>
<path d="M492.00,407.20 L503.90,407.20" fill="none" stroke="#111" stroke-width="0.8" stroke-linejoin="round" stroke-linecap="round" />
<path d="M505.40,407.20 L502.20,408.70 L502.20,405.70 Z" fill="#111"/>
<text x="508.00" y="405.00" font-size="8.5" fill="#111" text-anchor="middle" font-weight="normal" font-family="Liberation Sans, sans-serif" >c</text>
<path d="M668.60,398.30 L659.40,393.04" fill="none" stroke="#111" stroke-width="0.8" stroke-linejoin="round" stroke-linecap="round" />
<path d="M658.10,392.30 L661.62,392.59 L660.13,395.19 Z" fill="#111"/>
<text x="653.20" y="398.20" font-size="8.5" fill="#111" text-anchor="middle" font-weight="normal" font-family="Liberation Sans, sans-serif" >a</text>
<path d="M668.60,398.30 L675.21,387.58" fill="none" stroke="#111" stroke-width="0.8" stroke-linejoin="round" stroke-linecap="round" />
<path d="M676.00,386.30 L675.60,389.81 L673.04,388.24 Z" fill="#111"/>
<text x="681.40" y="393.60" font-size="8.5" fill="#111" text-anchor="middle" font-weight="normal" font-family="Liberation Sans, sans-serif" >b</text>
<path d="M668.60,398.30 L668.60,404.20" fill="none" stroke="#111" stroke-width="0.8" stroke-linejoin="round" stroke-linecap="round" />
<path d="M668.60,405.70 L667.10,402.50 L670.10,402.50 Z" fill="#111"/>
<text x="672.60" y="411.00" font-size="8.5" fill="#111" text-anchor="middle" font-weight="normal" font-family="Liberation Sans, sans-serif" >c</text>
<rect x="125.2" y="438.6" width="13.2" height="132.4" fill="#e3f1fc"/>
<rect x="142.1" y="438.6" width="13.1" height="132.4" fill="#fcefd9"/>
<path d="M32.80,477.77 L33.27,477.87 L33.74,477.97 L34.21,478.07 L34.68,478.17 L35.15,478.27 L35.63,478.36 L36.10,478.45 L36.57,478.54 L37.04,478.62 L37.51,478.70 L37.98,478.78 L38.45,478.86 L38.92,478.92 L39.39,478.99 L39.86,479.05 L40.33,479.10 L40.81,479.15 L41.28,479.20 L41.75,479.23 L42.22,479.27 L42.69,479.29 L43.16,479.31 L43.63,479.32 L44.10,479.32 L44.57,479.32 L45.04,479.32 L45.52,479.31 L45.99,479.31 L46.46,479.30 L46.93,479.28 L47.40,479.27 L47.87,479.26 L48.34,479.24 L48.81,479.22 L49.28,479.20 L49.75,479.18 L50.22,479.16 L50.70,479.13 L51.17,479.11 L51.64,479.08 L52.11,479.05 L52.58,479.03 L53.05,478.99 L53.52,478.96 L53.99,478.93 L54.46,478.90 L54.93,478.86 L55.40,478.83 L55.88,478.79 L56.35,478.75 L56.82,478.72 L57.29,478.68 L57.76,478.64 L58.23,478.60 L58.70,478.56 L59.17,478.52 L59.64,478.48 L60.11,478.44 L60.58,478.39 L61.06,478.34 L61.53,478.28 L62.00,478.22 L62.47,478.16 L62.94,478.09 L63.41,478.01 L63.88,477.93 L64.35,477.85 L64.82,477.77 L65.29,477.68 L65.76,477.58 L66.24,477.49 L66.71,477.39 L67.18,477.29 L67.65,477.19 L68.12,477.08 L68.59,476.98 L69.06,476.87 L69.53,476.76 L70.00,476.64 L70.47,476.52 L70.95,476.39 L71.42,476.25 L71.89,476.11 L72.36,475.95 L72.83,475.79 L73.30,475.63 L73.77,475.46 L74.24,475.28 L74.71,475.10 L75.18,474.91 L75.65,474.72 L76.13,474.53 L76.60,474.34 L77.07,474.14 L77.54,473.94 L78.01,473.73 L78.48,473.53 L78.95,473.32 L79.42,473.12 L79.89,472.91 L80.36,472.71 L80.83,472.50 L81.31,472.30 L81.78,472.10 L82.25,471.90 L82.72,471.70 L83.19,471.51 L83.66,471.31 L84.13,471.13 L84.60,470.94 L85.07,470.75 L85.54,470.57 L86.01,470.38 L86.49,470.19 L86.96,470.01 L87.43,469.82 L87.90,469.63 L88.37,469.45 L88.84,469.26 L89.31,469.07 L89.78,468.88 L90.25,468.69 L90.72,468.51 L91.19,468.32 L91.67,468.12 L92.14,467.93 L92.61,467.74 L93.08,467.55 L93.55,467.35 L94.02,467.15 L94.49,466.96 L94.96,466.76 L95.43,466.56 L95.90,466.36 L96.38,466.15 L96.85,465.95 L97.32,465.74 L97.79,465.53 L98.26,465.32 L98.73,465.11 L99.20,464.90 L99.67,464.69 L100.14,464.48 L100.61,464.27 L101.08,464.06 L101.56,463.86 L102.03,463.65 L102.50,463.44 L102.97,463.23 L103.44,463.01 L103.91,462.80 L104.38,462.58 L104.85,462.36 L105.32,462.14 L105.79,461.91 L106.26,461.68 L106.74,461.45 L107.21,461.21 L107.68,460.97 L108.15,460.73 L108.62,460.48 L109.09,460.22 L109.56,459.96 L110.03,459.69 L110.50,459.42 L110.97,459.14 L111.44,458.86 L111.92,458.56 L112.39,458.26 L112.86,457.93 L113.33,457.57 L113.80,457.19 L114.27,456.79 L114.74,456.38 L115.21,455.96 L115.68,455.52 L116.15,455.09 L116.63,454.65 L117.10,454.22 L117.57,453.79 L118.04,453.37 L118.51,452.96 L118.98,452.57 L119.45,452.20 L119.92,451.85 L120.39,451.53 L120.86,451.21 L121.33,450.87 L121.81,450.52 L122.28,450.17 L122.75,449.83 L123.22,449.51 L123.69,449.22 L124.16,448.96 L124.63,448.74 L125.10,448.58 L125.57,448.48 L126.04,448.45 L126.51,448.46 L126.99,448.50 L127.46,448.55 L127.93,448.63 L128.40,448.72 L128.87,448.82 L129.34,448.93 L129.81,449.05 L130.28,449.18 L130.75,449.31 L131.22,449.44 L131.69,449.57 L132.17,449.70 L132.64,449.85 L133.11,450.04 L133.58,450.25 L134.05,450.48 L134.52,450.72 L134.99,450.96 L135.46,451.20 L135.93,451.43 L136.40,451.65 L136.87,451.84 L137.35,452.00 L137.82,452.13 L138.29,452.21 L138.76,452.24 L139.23,452.23 L139.70,452.21 L140.17,452.18 L140.64,452.13 L141.11,452.08 L141.58,452.02 L142.06,451.96 L142.53,451.90 L143.00,451.81 L143.47,451.69 L143.94,451.54 L144.41,451.37 L144.88,451.21 L145.35,451.07 L145.82,450.95 L146.29,450.88 L146.76,450.86 L147.24,450.93 L147.71,451.09 L148.18,451.33 L148.65,451.64 L149.12,452.02 L149.59,452.44 L150.06,452.91 L150.53,453.41 L151.00,453.93 L151.47,454.47 L151.94,455.02 L152.42,455.65 L152.89,456.42 L153.36,457.31 L153.83,458.30 L154.30,459.37 L154.77,460.50 L155.24,461.66 L155.71,462.84 L156.18,464.01 L156.65,465.15 L157.12,466.24 L157.60,467.32 L158.07,468.46 L158.54,469.65 L159.01,470.85 L159.48,472.03 L159.95,473.19 L160.42,474.28 L160.89,475.28 L161.36,476.18 L161.83,476.94 L162.31,477.66 L162.78,478.37 L163.25,479.04 L163.72,479.67 L164.19,480.24 L164.66,480.74 L165.13,481.15 L165.60,481.45 L166.07,481.66 L166.54,481.85 L167.01,482.02 L167.49,482.17 L167.96,482.31 L168.43,482.42 L168.90,482.51 L169.37,482.57 L169.84,482.60 L170.31,482.60 L170.78,482.60 L171.25,482.60 L171.72,482.60 L172.19,482.60 L172.67,482.60 L173.14,482.60 L173.61,482.60 L174.08,482.60 L174.55,482.60 L175.02,482.60 L175.49,482.60 L175.96,482.60 L176.43,482.60 L176.90,482.60 L177.37,482.60 L177.85,482.60 L178.32,482.60 L178.79,482.60 L179.26,482.60 L179.73,482.60 L180.20,482.60 L180.67,482.60 L181.14,482.60 L181.61,482.60 L182.08,482.60 L182.55,482.60 L183.03,482.60 L183.50,482.60 L183.97,482.60 L184.44,482.60 L184.91,482.60 L185.38,482.60 L185.85,482.60 L186.32,482.60 L186.79,482.60 L187.26,482.60 L187.74,482.60 L188.21,482.60 L188.68,482.60 L189.15,482.60 L189.62,482.60 L190.09,482.60 L190.56,482.60 L191.03,482.60 L191.50,482.60 L191.97,482.60 L192.44,482.60 L192.92,482.60 L193.39,482.60 L193.86,482.60 L194.33,482.60 L194.80,482.60 L195.27,482.60 L195.74,482.60 L196.21,482.60 L196.68,482.60 L197.15,482.60 L197.62,482.60 L198.10,482.60 L198.57,482.60 L199.04,482.60 L199.51,482.60 L199.98,482.60 L200.45,482.60 L200.92,482.60 L201.39,482.60 L201.86,482.60 L202.33,482.60 L202.80,482.60 L203.28,482.60 L203.75,482.60 L204.22,482.60 L204.69,482.60 L205.16,482.60 L205.63,482.60 L206.10,482.60 L206.57,482.60 L207.04,482.60 L207.51,482.60 L207.98,482.60 L208.46,482.60 L208.93,482.60 L209.40,482.60 L209.87,482.60 L210.34,482.60 L210.81,482.60 L211.28,482.60 L211.75,482.60 L212.22,482.60 L212.69,482.60 L213.17,482.60 L213.64,482.60 L214.11,482.60 L214.58,482.60 L215.05,482.60 L215.52,482.60 L215.99,482.60 L216.46,482.60 L216.93,482.60 L217.40,482.60 L217.87,482.60 L218.35,482.60 L218.82,482.60 L219.29,482.60 L219.76,482.60 L220.23,482.60 L220.70,482.60" fill="none" stroke="#afc8e4" stroke-width="1.1" stroke-linejoin="round" stroke-linecap="round" />
<path d="M32.80,477.73 L33.27,477.83 L33.74,477.93 L34.21,478.04 L34.68,478.13 L35.15,478.23 L35.63,478.33 L36.10,478.42 L36.57,478.51 L37.04,478.59 L37.51,478.68 L37.98,478.75 L38.45,478.83 L38.92,478.90 L39.39,478.96 L39.86,479.03 L40.33,479.08 L40.81,479.13 L41.28,479.17 L41.75,479.21 L42.22,479.24 L42.69,479.27 L43.16,479.29 L43.63,479.30 L44.10,479.30 L44.57,479.30 L45.04,479.30 L45.52,479.29 L45.99,479.28 L46.46,479.27 L46.93,479.26 L47.40,479.25 L47.87,479.23 L48.34,479.21 L48.81,479.19 L49.28,479.17 L49.75,479.15 L50.22,479.12 L50.70,479.10 L51.17,479.07 L51.64,479.04 L52.11,479.01 L52.58,478.98 L53.05,478.95 L53.52,478.91 L53.99,478.88 L54.46,478.84 L54.93,478.80 L55.40,478.77 L55.88,478.73 L56.35,478.69 L56.82,478.65 L57.29,478.61 L57.76,478.57 L58.23,478.52 L58.70,478.48 L59.17,478.44 L59.64,478.39 L60.11,478.35 L60.58,478.30 L61.06,478.24 L61.53,478.18 L62.00,478.12 L62.47,478.05 L62.94,477.98 L63.41,477.90 L63.88,477.82 L64.35,477.73 L64.82,477.64 L65.29,477.55 L65.76,477.45 L66.24,477.35 L66.71,477.25 L67.18,477.14 L67.65,477.04 L68.12,476.93 L68.59,476.81 L69.06,476.70 L69.53,476.59 L70.00,476.47 L70.47,476.34 L70.95,476.21 L71.42,476.06 L71.89,475.92 L72.36,475.76 L72.83,475.60 L73.30,475.43 L73.77,475.26 L74.24,475.08 L74.71,474.90 L75.18,474.71 L75.65,474.52 L76.13,474.32 L76.60,474.13 L77.07,473.93 L77.54,473.72 L78.01,473.52 L78.48,473.31 L78.95,473.11 L79.42,472.90 L79.89,472.69 L80.36,472.48 L80.83,472.27 L81.31,472.07 L81.78,471.86 L82.25,471.66 L82.72,471.46 L83.19,471.26 L83.66,471.06 L84.13,470.86 L84.60,470.67 L85.07,470.48 L85.54,470.28 L86.01,470.09 L86.49,469.89 L86.96,469.69 L87.43,469.49 L87.90,469.30 L88.37,469.10 L88.84,468.90 L89.31,468.70 L89.78,468.50 L90.25,468.29 L90.72,468.09 L91.19,467.89 L91.67,467.69 L92.14,467.48 L92.61,467.27 L93.08,467.07 L93.55,466.86 L94.02,466.65 L94.49,466.44 L94.96,466.23 L95.43,466.02 L95.90,465.81 L96.38,465.60 L96.85,465.38 L97.32,465.17 L97.79,464.95 L98.26,464.74 L98.73,464.52 L99.20,464.30 L99.67,464.09 L100.14,463.87 L100.61,463.65 L101.08,463.43 L101.56,463.22 L102.03,463.00 L102.50,462.78 L102.97,462.56 L103.44,462.34 L103.91,462.11 L104.38,461.89 L104.85,461.66 L105.32,461.44 L105.79,461.21 L106.26,460.97 L106.74,460.74 L107.21,460.50 L107.68,460.26 L108.15,460.02 L108.62,459.77 L109.09,459.52 L109.56,459.27 L110.03,459.01 L110.50,458.75 L110.97,458.49 L111.44,458.22 L111.92,457.95 L112.39,457.67 L112.86,457.36 L113.33,457.04 L113.80,456.69 L114.27,456.33 L114.74,455.96 L115.21,455.57 L115.68,455.18 L116.15,454.79 L116.63,454.40 L117.10,454.00 L117.57,453.62 L118.04,453.25 L118.51,452.88 L118.98,452.54 L119.45,452.21 L119.92,451.90 L120.39,451.62 L120.86,451.34 L121.33,451.05 L121.81,450.77 L122.28,450.49 L122.75,450.22 L123.22,449.97 L123.69,449.74 L124.16,449.55 L124.63,449.41 L125.10,449.31 L125.57,449.26 L126.04,449.28 L126.51,449.34 L126.99,449.41 L127.46,449.51 L127.93,449.61 L128.40,449.74 L128.87,449.88 L129.34,450.03 L129.81,450.19 L130.28,450.36 L130.75,450.53 L131.22,450.70 L131.69,450.87 L132.17,451.05 L132.64,451.24 L133.11,451.47 L133.58,451.72 L134.05,451.98 L134.52,452.25 L134.99,452.53 L135.46,452.80 L135.93,453.06 L136.40,453.31 L136.87,453.53 L137.35,453.73 L137.82,453.90 L138.29,454.02 L138.76,454.10 L139.23,454.15 L139.70,454.19 L140.17,454.21 L140.64,454.23 L141.11,454.24 L141.58,454.25 L142.06,454.25 L142.53,454.25 L143.00,454.23 L143.47,454.18 L143.94,454.10 L144.41,454.02 L144.88,453.94 L145.35,453.87 L145.82,453.83 L146.29,453.83 L146.76,453.88 L147.24,454.01 L147.71,454.22 L148.18,454.49 L148.65,454.83 L149.12,455.22 L149.59,455.65 L150.06,456.12 L150.53,456.61 L151.00,457.11 L151.47,457.63 L151.94,458.14 L152.42,458.73 L152.89,459.44 L153.36,460.26 L153.83,461.16 L154.30,462.13 L154.77,463.14 L155.24,464.18 L155.71,465.22 L156.18,466.26 L156.65,467.27 L157.12,468.24 L157.60,469.19 L158.07,470.20 L158.54,471.25 L159.01,472.30 L159.48,473.35 L159.95,474.36 L160.42,475.32 L160.89,476.20 L161.36,476.98 L161.83,477.65 L162.31,478.28 L162.78,478.90 L163.25,479.49 L163.72,480.04 L164.19,480.54 L164.66,480.97 L165.13,481.33 L165.60,481.60 L166.07,481.78 L166.54,481.94 L167.01,482.09 L167.49,482.23 L167.96,482.35 L168.43,482.45 L168.90,482.52 L169.37,482.58 L169.84,482.60 L170.31,482.60 L170.78,482.60 L171.25,482.60 L171.72,482.60 L172.19,482.60 L172.67,482.60 L173.14,482.60 L173.61,482.60 L174.08,482.60 L174.55,482.60 L175.02,482.60 L175.49,482.60 L175.96,482.60 L176.43,482.60 L176.90,482.60 L177.37,482.60 L177.85,482.60 L178.32,482.60 L178.79,482.60 L179.26,482.60 L179.73,482.60 L180.20,482.60 L180.67,482.60 L181.14,482.60 L181.61,482.60 L182.08,482.60 L182.55,482.60 L183.03,482.60 L183.50,482.60 L183.97,482.60 L184.44,482.60 L184.91,482.60 L185.38,482.60 L185.85,482.60 L186.32,482.60 L186.79,482.60 L187.26,482.60 L187.74,482.60 L188.21,482.60 L188.68,482.60 L189.15,482.60 L189.62,482.60 L190.09,482.60 L190.56,482.60 L191.03,482.60 L191.50,482.60 L191.97,482.60 L192.44,482.60 L192.92,482.60 L193.39,482.60 L193.86,482.60 L194.33,482.60 L194.80,482.60 L195.27,482.60 L195.74,482.60 L196.21,482.60 L196.68,482.60 L197.15,482.60 L197.62,482.60 L198.10,482.60 L198.57,482.60 L199.04,482.60 L199.51,482.60 L199.98,482.60 L200.45,482.60 L200.92,482.60 L201.39,482.60 L201.86,482.60 L202.33,482.60 L202.80,482.60 L203.28,482.60 L203.75,482.60 L204.22,482.60 L204.69,482.60 L205.16,482.60 L205.63,482.60 L206.10,482.60 L206.57,482.60 L207.04,482.60 L207.51,482.60 L207.98,482.60 L208.46,482.60 L208.93,482.60 L209.40,482.60 L209.87,482.60 L210.34,482.60 L210.81,482.60 L211.28,482.60 L211.75,482.60 L212.22,482.60 L212.69,482.60 L213.17,482.60 L213.64,482.60 L214.11,482.60 L214.58,482.60 L215.05,482.60 L215.52,482.60 L215.99,482.60 L216.46,482.60 L216.93,482.60 L217.40,482.60 L217.87,482.60 L218.35,482.60 L218.82,482.60 L219.29,482.60 L219.76,482.60 L220.23,482.60 L220.70,482.60" fill="none" stroke="#9cb8d8" stroke-width="1.1" stroke-linejoin="round" stroke-linecap="round" />
<path d="M32.80,477.68 L33.27,477.79 L33.74,477.89 L34.21,478.00 L34.68,478.10 L35.15,478.20 L35.63,478.29 L36.10,478.39 L36.57,478.48 L37.04,478.56 L37.51,478.65 L37.98,478.73 L38.45,478.80 L38.92,478.87 L39.39,478.94 L39.86,479.00 L40.33,479.06 L40.81,479.11 L41.28,479.15 L41.75,479.19 L42.22,479.22 L42.69,479.25 L43.16,479.27 L43.63,479.28 L44.10,479.28 L44.57,479.28 L45.04,479.27 L45.52,479.27 L45.99,479.26 L46.46,479.25 L46.93,479.24 L47.40,479.22 L47.87,479.20 L48.34,479.18 L48.81,479.16 L49.28,479.14 L49.75,479.12 L50.22,479.09 L50.70,479.06 L51.17,479.03 L51.64,479.00 L52.11,478.97 L52.58,478.93 L53.05,478.90 L53.52,478.86 L53.99,478.83 L54.46,478.79 L54.93,478.75 L55.40,478.71 L55.88,478.67 L56.35,478.62 L56.82,478.58 L57.29,478.54 L57.76,478.49 L58.23,478.45 L58.70,478.40 L59.17,478.35 L59.64,478.31 L60.11,478.26 L60.58,478.21 L61.06,478.15 L61.53,478.09 L62.00,478.02 L62.47,477.95 L62.94,477.87 L63.41,477.78 L63.88,477.70 L64.35,477.61 L64.82,477.51 L65.29,477.42 L65.76,477.31 L66.24,477.21 L66.71,477.10 L67.18,476.99 L67.65,476.88 L68.12,476.77 L68.59,476.65 L69.06,476.53 L69.53,476.41 L70.00,476.29 L70.47,476.16 L70.95,476.02 L71.42,475.88 L71.89,475.73 L72.36,475.57 L72.83,475.40 L73.30,475.24 L73.77,475.06 L74.24,474.88 L74.71,474.70 L75.18,474.51 L75.65,474.31 L76.13,474.12 L76.60,473.92 L77.07,473.72 L77.54,473.51 L78.01,473.31 L78.48,473.10 L78.95,472.89 L79.42,472.68 L79.89,472.47 L80.36,472.26 L80.83,472.05 L81.31,471.84 L81.78,471.63 L82.25,471.42 L82.72,471.21 L83.19,471.01 L83.66,470.80 L84.13,470.60 L84.60,470.40 L85.07,470.20 L85.54,470.00 L86.01,469.79 L86.49,469.58 L86.96,469.38 L87.43,469.17 L87.90,468.96 L88.37,468.75 L88.84,468.54 L89.31,468.32 L89.78,468.11 L90.25,467.90 L90.72,467.68 L91.19,467.46 L91.67,467.25 L92.14,467.03 L92.61,466.81 L93.08,466.59 L93.55,466.37 L94.02,466.15 L94.49,465.93 L94.96,465.71 L95.43,465.49 L95.90,465.27 L96.38,465.04 L96.85,464.82 L97.32,464.60 L97.79,464.38 L98.26,464.15 L98.73,463.93 L99.20,463.71 L99.67,463.48 L100.14,463.26 L100.61,463.03 L101.08,462.80 L101.56,462.58 L102.03,462.35 L102.50,462.12 L102.97,461.89 L103.44,461.66 L103.91,461.43 L104.38,461.20 L104.85,460.97 L105.32,460.73 L105.79,460.50 L106.26,460.26 L106.74,460.03 L107.21,459.79 L107.68,459.55 L108.15,459.31 L108.62,459.07 L109.09,458.83 L109.56,458.58 L110.03,458.34 L110.50,458.09 L110.97,457.84 L111.44,457.59 L111.92,457.34 L112.39,457.08 L112.86,456.80 L113.33,456.51 L113.80,456.19 L114.27,455.87 L114.74,455.53 L115.21,455.19 L115.68,454.84 L116.15,454.49 L116.63,454.14 L117.10,453.79 L117.57,453.45 L118.04,453.12 L118.51,452.80 L118.98,452.50 L119.45,452.22 L119.92,451.95 L120.39,451.71 L120.86,451.47 L121.33,451.24 L121.81,451.01 L122.28,450.80 L122.75,450.60 L123.22,450.42 L123.69,450.27 L124.16,450.15 L124.63,450.07 L125.10,450.04 L125.57,450.05 L126.04,450.12 L126.51,450.22 L126.99,450.33 L127.46,450.46 L127.93,450.60 L128.40,450.76 L128.87,450.94 L129.34,451.12 L129.81,451.32 L130.28,451.53 L130.75,451.74 L131.22,451.96 L131.69,452.18 L132.17,452.40 L132.64,452.64 L133.11,452.91 L133.58,453.19 L134.05,453.49 L134.52,453.79 L134.99,454.10 L135.46,454.40 L135.93,454.69 L136.40,454.97 L136.87,455.22 L137.35,455.46 L137.82,455.66 L138.29,455.83 L138.76,455.97 L139.23,456.07 L139.70,456.17 L140.17,456.25 L140.64,456.33 L141.11,456.40 L141.58,456.47 L142.06,456.54 L142.53,456.60 L143.00,456.65 L143.47,456.67 L143.94,456.67 L144.41,456.67 L144.88,456.66 L145.35,456.67 L145.82,456.71 L146.29,456.78 L146.76,456.90 L147.24,457.09 L147.71,457.34 L148.18,457.65 L148.65,458.02 L149.12,458.42 L149.59,458.86 L150.06,459.33 L150.53,459.81 L151.00,460.29 L151.47,460.78 L151.94,461.27 L152.42,461.82 L152.89,462.47 L153.36,463.21 L153.83,464.02 L154.30,464.88 L154.77,465.78 L155.24,466.69 L155.71,467.61 L156.18,468.51 L156.65,469.39 L157.12,470.23 L157.60,471.07 L158.07,471.94 L158.54,472.85 L159.01,473.76 L159.48,474.66 L159.95,475.54 L160.42,476.36 L160.89,477.11 L161.36,477.78 L161.83,478.36 L162.31,478.90 L162.78,479.43 L163.25,479.93 L163.72,480.40 L164.19,480.83 L164.66,481.20 L165.13,481.51 L165.60,481.74 L166.07,481.90 L166.54,482.04 L167.01,482.16 L167.49,482.28 L167.96,482.38 L168.43,482.47 L168.90,482.53 L169.37,482.58 L169.84,482.60 L170.31,482.60 L170.78,482.60 L171.25,482.60 L171.72,482.60 L172.19,482.60 L172.67,482.60 L173.14,482.60 L173.61,482.60 L174.08,482.60 L174.55,482.60 L175.02,482.60 L175.49,482.60 L175.96,482.60 L176.43,482.60 L176.90,482.60 L177.37,482.60 L177.85,482.60 L178.32,482.60 L178.79,482.60 L179.26,482.60 L179.73,482.60 L180.20,482.60 L180.67,482.60 L181.14,482.60 L181.61,482.60 L182.08,482.60 L182.55,482.60 L183.03,482.60 L183.50,482.60 L183.97,482.60 L184.44,482.60 L184.91,482.60 L185.38,482.60 L185.85,482.60 L186.32,482.60 L186.79,482.60 L187.26,482.60 L187.74,482.60 L188.21,482.60 L188.68,482.60 L189.15,482.60 L189.62,482.60 L190.09,482.60 L190.56,482.60 L191.03,482.60 L191.50,482.60 L191.97,482.60 L192.44,482.60 L192.92,482.60 L193.39,482.60 L193.86,482.60 L194.33,482.60 L194.80,482.60 L195.27,482.60 L195.74,482.60 L196.21,482.60 L196.68,482.60 L197.15,482.60 L197.62,482.60 L198.10,482.60 L198.57,482.60 L199.04,482.60 L199.51,482.60 L199.98,482.60 L200.45,482.60 L200.92,482.60 L201.39,482.60 L201.86,482.60 L202.33,482.60 L202.80,482.60 L203.28,482.60 L203.75,482.60 L204.22,482.60 L204.69,482.60 L205.16,482.60 L205.63,482.60 L206.10,482.60 L206.57,482.60 L207.04,482.60 L207.51,482.60 L207.98,482.60 L208.46,482.60 L208.93,482.60 L209.40,482.60 L209.87,482.60 L210.34,482.60 L210.81,482.60 L211.28,482.60 L211.75,482.60 L212.22,482.60 L212.69,482.60 L213.17,482.60 L213.64,482.60 L214.11,482.60 L214.58,482.60 L215.05,482.60 L215.52,482.60 L215.99,482.60 L216.46,482.60 L216.93,482.60 L217.40,482.60 L217.87,482.60 L218.35,482.60 L218.82,482.60 L219.29,482.60 L219.76,482.60 L220.23,482.60 L220.70,482.60" fill="none" stroke="#89a8cd" stroke-width="1.1" stroke-linejoin="round" stroke-linecap="round" />
<path d="M32.80,477.64 L33.27,477.75 L33.74,477.86 L34.21,477.96 L34.68,478.06 L35.15,478.16 L35.63,478.26 L36.10,478.36 L36.57,478.45 L37.04,478.54 L37.51,478.62 L37.98,478.70 L38.45,478.78 L38.92,478.85 L39.39,478.92 L39.86,478.98 L40.33,479.03 L40.81,479.08 L41.28,479.13 L41.75,479.17 L42.22,479.20 L42.69,479.23 L43.16,479.24 L43.63,479.25 L44.10,479.26 L44.57,479.26 L45.04,479.25 L45.52,479.25 L45.99,479.24 L46.46,479.22 L46.93,479.21 L47.40,479.19 L47.87,479.18 L48.34,479.16 L48.81,479.13 L49.28,479.11 L49.75,479.08 L50.22,479.05 L50.70,479.02 L51.17,478.99 L51.64,478.96 L52.11,478.93 L52.58,478.89 L53.05,478.85 L53.52,478.81 L53.99,478.77 L54.46,478.73 L54.93,478.69 L55.40,478.65 L55.88,478.60 L56.35,478.56 L56.82,478.51 L57.29,478.46 L57.76,478.42 L58.23,478.37 L58.70,478.32 L59.17,478.27 L59.64,478.22 L60.11,478.17 L60.58,478.12 L61.06,478.06 L61.53,477.99 L62.00,477.92 L62.47,477.84 L62.94,477.76 L63.41,477.67 L63.88,477.58 L64.35,477.49 L64.82,477.39 L65.29,477.28 L65.76,477.18 L66.24,477.07 L66.71,476.96 L67.18,476.84 L67.65,476.73 L68.12,476.61 L68.59,476.49 L69.06,476.37 L69.53,476.24 L70.00,476.12 L70.47,475.98 L70.95,475.84 L71.42,475.69 L71.89,475.54 L72.36,475.38 L72.83,475.21 L73.30,475.04 L73.77,474.86 L74.24,474.68 L74.71,474.49 L75.18,474.30 L75.65,474.11 L76.13,473.91 L76.60,473.71 L77.07,473.51 L77.54,473.30 L78.01,473.09 L78.48,472.88 L78.95,472.67 L79.42,472.46 L79.89,472.24 L80.36,472.03 L80.83,471.82 L81.31,471.60 L81.78,471.39 L82.25,471.18 L82.72,470.97 L83.19,470.76 L83.66,470.55 L84.13,470.34 L84.60,470.13 L85.07,469.92 L85.54,469.71 L86.01,469.50 L86.49,469.28 L86.96,469.06 L87.43,468.84 L87.90,468.62 L88.37,468.40 L88.84,468.17 L89.31,467.95 L89.78,467.72 L90.25,467.50 L90.72,467.27 L91.19,467.04 L91.67,466.81 L92.14,466.58 L92.61,466.35 L93.08,466.11 L93.55,465.88 L94.02,465.65 L94.49,465.42 L94.96,465.19 L95.43,464.95 L95.90,464.72 L96.38,464.49 L96.85,464.26 L97.32,464.03 L97.79,463.80 L98.26,463.57 L98.73,463.34 L99.20,463.11 L99.67,462.88 L100.14,462.64 L100.61,462.41 L101.08,462.17 L101.56,461.94 L102.03,461.70 L102.50,461.46 L102.97,461.23 L103.44,460.99 L103.91,460.75 L104.38,460.51 L104.85,460.27 L105.32,460.03 L105.79,459.79 L106.26,459.55 L106.74,459.32 L107.21,459.08 L107.68,458.84 L108.15,458.60 L108.62,458.36 L109.09,458.13 L109.56,457.89 L110.03,457.66 L110.50,457.42 L110.97,457.19 L111.44,456.96 L111.92,456.73 L112.39,456.49 L112.86,456.24 L113.33,455.98 L113.80,455.70 L114.27,455.41 L114.74,455.11 L115.21,454.81 L115.68,454.50 L116.15,454.19 L116.63,453.88 L117.10,453.58 L117.57,453.29 L118.04,453.00 L118.51,452.73 L118.98,452.47 L119.45,452.22 L119.92,452.00 L120.39,451.80 L120.86,451.61 L121.33,451.43 L121.81,451.26 L122.28,451.11 L122.75,450.98 L123.22,450.88 L123.69,450.80 L124.16,450.75 L124.63,450.74 L125.10,450.77 L125.57,450.84 L126.04,450.95 L126.51,451.09 L126.99,451.25 L127.46,451.41 L127.93,451.59 L128.40,451.78 L128.87,451.99 L129.34,452.22 L129.81,452.46 L130.28,452.71 L130.75,452.96 L131.22,453.22 L131.69,453.49 L132.17,453.75 L132.64,454.03 L133.11,454.34 L133.58,454.66 L134.05,454.99 L134.52,455.33 L134.99,455.66 L135.46,456.00 L135.93,456.32 L136.40,456.62 L136.87,456.91 L137.35,457.18 L137.82,457.43 L138.29,457.65 L138.76,457.83 L139.23,457.99 L139.70,458.15 L140.17,458.29 L140.64,458.43 L141.11,458.56 L141.58,458.70 L142.06,458.82 L142.53,458.95 L143.00,459.07 L143.47,459.16 L143.94,459.24 L144.41,459.31 L144.88,459.39 L145.35,459.47 L145.82,459.58 L146.29,459.73 L146.76,459.92 L147.24,460.16 L147.71,460.46 L148.18,460.82 L148.65,461.21 L149.12,461.63 L149.59,462.08 L150.06,462.54 L150.53,463.01 L151.00,463.47 L151.47,463.93 L151.94,464.40 L152.42,464.91 L152.89,465.50 L153.36,466.16 L153.83,466.88 L154.30,467.64 L154.77,468.42 L155.24,469.21 L155.71,469.99 L156.18,470.76 L156.65,471.51 L157.12,472.23 L157.60,472.94 L158.07,473.68 L158.54,474.45 L159.01,475.22 L159.48,475.98 L159.95,476.71 L160.42,477.40 L160.89,478.03 L161.36,478.59 L161.83,479.06 L162.31,479.52 L162.78,479.96 L163.25,480.38 L163.72,480.77 L164.19,481.13 L164.66,481.44 L165.13,481.69 L165.60,481.88 L166.07,482.01 L166.54,482.13 L167.01,482.24 L167.49,482.33 L167.96,482.42 L168.43,482.49 L168.90,482.55 L169.37,482.58 L169.84,482.60 L170.31,482.60 L170.78,482.60 L171.25,482.60 L171.72,482.60 L172.19,482.60 L172.67,482.60 L173.14,482.60 L173.61,482.60 L174.08,482.60 L174.55,482.60 L175.02,482.60 L175.49,482.60 L175.96,482.60 L176.43,482.60 L176.90,482.60 L177.37,482.60 L177.85,482.60 L178.32,482.60 L178.79,482.60 L179.26,482.60 L179.73,482.60 L180.20,482.60 L180.67,482.60 L181.14,482.60 L181.61,482.60 L182.08,482.60 L182.55,482.60 L183.03,482.60 L183.50,482.60 L183.97,482.60 L184.44,482.60 L184.91,482.60 L185.38,482.60 L185.85,482.60 L186.32,482.60 L186.79,482.60 L187.26,482.60 L187.74,482.60 L188.21,482.60 L188.68,482.60 L189.15,482.60 L189.62,482.60 L190.09,482.60 L190.56,482.60 L191.03,482.60 L191.50,482.60 L191.97,482.60 L192.44,482.60 L192.92,482.60 L193.39,482.60 L193.86,482.60 L194.33,482.60 L194.80,482.60 L195.27,482.60 L195.74,482.60 L196.21,482.60 L196.68,482.60 L197.15,482.60 L197.62,482.60 L198.10,482.60 L198.57,482.60 L199.04,482.60 L199.51,482.60 L199.98,482.60 L200.45,482.60 L200.92,482.60 L201.39,482.60 L201.86,482.60 L202.33,482.60 L202.80,482.60 L203.28,482.60 L203.75,482.60 L204.22,482.60 L204.69,482.60 L205.16,482.60 L205.63,482.60 L206.10,482.60 L206.57,482.60 L207.04,482.60 L207.51,482.60 L207.98,482.60 L208.46,482.60 L208.93,482.60 L209.40,482.60 L209.87,482.60 L210.34,482.60 L210.81,482.60 L211.28,482.60 L211.75,482.60 L212.22,482.60 L212.69,482.60 L213.17,482.60 L213.64,482.60 L214.11,482.60 L214.58,482.60 L215.05,482.60 L215.52,482.60 L215.99,482.60 L216.46,482.60 L216.93,482.60 L217.40,482.60 L217.87,482.60 L218.35,482.60 L218.82,482.60 L219.29,482.60 L219.76,482.60 L220.23,482.60 L220.70,482.60" fill="none" stroke="#7699c1" stroke-width="1.1" stroke-linejoin="round" stroke-linecap="round" />
<path d="M32.80,477.60 L33.27,477.71 L33.74,477.82 L34.21,477.92 L34.68,478.03 L35.15,478.13 L35.63,478.23 L36.10,478.32 L36.57,478.42 L37.04,478.51 L37.51,478.59 L37.98,478.67 L38.45,478.75 L38.92,478.82 L39.39,478.89 L39.86,478.95 L40.33,479.01 L40.81,479.06 L41.28,479.11 L41.75,479.15 L42.22,479.18 L42.69,479.20 L43.16,479.22 L43.63,479.23 L44.10,479.24 L44.57,479.23 L45.04,479.23 L45.52,479.22 L45.99,479.21 L46.46,479.20 L46.93,479.19 L47.40,479.17 L47.87,479.15 L48.34,479.13 L48.81,479.10 L49.28,479.08 L49.75,479.05 L50.22,479.02 L50.70,478.99 L51.17,478.95 L51.64,478.92 L52.11,478.88 L52.58,478.84 L53.05,478.80 L53.52,478.76 L53.99,478.72 L54.46,478.68 L54.93,478.63 L55.40,478.59 L55.88,478.54 L56.35,478.49 L56.82,478.44 L57.29,478.39 L57.76,478.34 L58.23,478.29 L58.70,478.24 L59.17,478.19 L59.64,478.14 L60.11,478.09 L60.58,478.03 L61.06,477.96 L61.53,477.89 L62.00,477.82 L62.47,477.74 L62.94,477.65 L63.41,477.56 L63.88,477.46 L64.35,477.36 L64.82,477.26 L65.29,477.15 L65.76,477.04 L66.24,476.93 L66.71,476.81 L67.18,476.70 L67.65,476.57 L68.12,476.45 L68.59,476.33 L69.06,476.20 L69.53,476.07 L70.00,475.94 L70.47,475.80 L70.95,475.66 L71.42,475.51 L71.89,475.35 L72.36,475.19 L72.83,475.02 L73.30,474.84 L73.77,474.66 L74.24,474.48 L74.71,474.29 L75.18,474.10 L75.65,473.90 L76.13,473.70 L76.60,473.50 L77.07,473.30 L77.54,473.09 L78.01,472.88 L78.48,472.67 L78.95,472.45 L79.42,472.24 L79.89,472.02 L80.36,471.81 L80.83,471.59 L81.31,471.37 L81.78,471.15 L82.25,470.94 L82.72,470.72 L83.19,470.51 L83.66,470.29 L84.13,470.08 L84.60,469.86 L85.07,469.65 L85.54,469.43 L86.01,469.20 L86.49,468.98 L86.96,468.75 L87.43,468.52 L87.90,468.28 L88.37,468.05 L88.84,467.81 L89.31,467.58 L89.78,467.34 L90.25,467.10 L90.72,466.85 L91.19,466.61 L91.67,466.37 L92.14,466.13 L92.61,465.88 L93.08,465.64 L93.55,465.39 L94.02,465.15 L94.49,464.91 L94.96,464.66 L95.43,464.42 L95.90,464.18 L96.38,463.94 L96.85,463.70 L97.32,463.46 L97.79,463.22 L98.26,462.99 L98.73,462.75 L99.20,462.51 L99.67,462.27 L100.14,462.03 L100.61,461.79 L101.08,461.54 L101.56,461.30 L102.03,461.05 L102.50,460.81 L102.97,460.56 L103.44,460.31 L103.91,460.07 L104.38,459.82 L104.85,459.57 L105.32,459.33 L105.79,459.09 L106.26,458.84 L106.74,458.60 L107.21,458.36 L107.68,458.13 L108.15,457.89 L108.62,457.66 L109.09,457.43 L109.56,457.20 L110.03,456.98 L110.50,456.76 L110.97,456.54 L111.44,456.32 L111.92,456.11 L112.39,455.90 L112.86,455.68 L113.33,455.45 L113.80,455.20 L114.27,454.95 L114.74,454.69 L115.21,454.42 L115.68,454.16 L116.15,453.89 L116.63,453.63 L117.10,453.37 L117.57,453.12 L118.04,452.88 L118.51,452.65 L118.98,452.43 L119.45,452.23 L119.92,452.05 L120.39,451.88 L120.86,451.74 L121.33,451.61 L121.81,451.51 L122.28,451.43 L122.75,451.37 L123.22,451.33 L123.69,451.33 L124.16,451.35 L124.63,451.41 L125.10,451.50 L125.57,451.62 L126.04,451.79 L126.51,451.97 L126.99,452.17 L127.46,452.36 L127.93,452.57 L128.40,452.80 L128.87,453.05 L129.34,453.31 L129.81,453.59 L130.28,453.88 L130.75,454.18 L131.22,454.48 L131.69,454.79 L132.17,455.10 L132.64,455.43 L133.11,455.77 L133.58,456.13 L134.05,456.50 L134.52,456.87 L134.99,457.23 L135.46,457.59 L135.93,457.94 L136.40,458.28 L136.87,458.60 L137.35,458.91 L137.82,459.20 L138.29,459.46 L138.76,459.70 L139.23,459.91 L139.70,460.13 L140.17,460.33 L140.64,460.53 L141.11,460.73 L141.58,460.92 L142.06,461.11 L142.53,461.31 L143.00,461.49 L143.47,461.65 L143.94,461.81 L144.41,461.96 L144.88,462.11 L145.35,462.27 L145.82,462.46 L146.29,462.68 L146.76,462.94 L147.24,463.24 L147.71,463.59 L148.18,463.98 L148.65,464.39 L149.12,464.83 L149.59,465.29 L150.06,465.75 L150.53,466.20 L151.00,466.65 L151.47,467.09 L151.94,467.52 L152.42,467.99 L152.89,468.53 L153.36,469.12 L153.83,469.74 L154.30,470.39 L154.77,471.06 L155.24,471.72 L155.71,472.38 L156.18,473.01 L156.65,473.63 L157.12,474.23 L157.60,474.81 L158.07,475.42 L158.54,476.05 L159.01,476.68 L159.48,477.29 L159.95,477.89 L160.42,478.44 L160.89,478.94 L161.36,479.39 L161.83,479.77 L162.31,480.13 L162.78,480.48 L163.25,480.82 L163.72,481.14 L164.19,481.42 L164.66,481.67 L165.13,481.87 L165.60,482.03 L166.07,482.13 L166.54,482.22 L167.01,482.31 L167.49,482.39 L167.96,482.46 L168.43,482.51 L168.90,482.56 L169.37,482.59 L169.84,482.60 L170.31,482.60 L170.78,482.60 L171.25,482.60 L171.72,482.60 L172.19,482.60 L172.67,482.60 L173.14,482.60 L173.61,482.60 L174.08,482.60 L174.55,482.60 L175.02,482.60 L175.49,482.60 L175.96,482.60 L176.43,482.60 L176.90,482.60 L177.37,482.60 L177.85,482.60 L178.32,482.60 L178.79,482.60 L179.26,482.60 L179.73,482.60 L180.20,482.60 L180.67,482.60 L181.14,482.60 L181.61,482.60 L182.08,482.60 L182.55,482.60 L183.03,482.60 L183.50,482.60 L183.97,482.60 L184.44,482.60 L184.91,482.60 L185.38,482.60 L185.85,482.60 L186.32,482.60 L186.79,482.60 L187.26,482.60 L187.74,482.60 L188.21,482.60 L188.68,482.60 L189.15,482.60 L189.62,482.60 L190.09,482.60 L190.56,482.60 L191.03,482.60 L191.50,482.60 L191.97,482.60 L192.44,482.60 L192.92,482.60 L193.39,482.60 L193.86,482.60 L194.33,482.60 L194.80,482.60 L195.27,482.60 L195.74,482.60 L196.21,482.60 L196.68,482.60 L197.15,482.60 L197.62,482.60 L198.10,482.60 L198.57,482.60 L199.04,482.60 L199.51,482.60 L199.98,482.60 L200.45,482.60 L200.92,482.60 L201.39,482.60 L201.86,482.60 L202.33,482.60 L202.80,482.60 L203.28,482.60 L203.75,482.60 L204.22,482.60 L204.69,482.60 L205.16,482.60 L205.63,482.60 L206.10,482.60 L206.57,482.60 L207.04,482.60 L207.51,482.60 L207.98,482.60 L208.46,482.60 L208.93,482.60 L209.40,482.60 L209.87,482.60 L210.34,482.60 L210.81,482.60 L211.28,482.60 L211.75,482.60 L212.22,482.60 L212.69,482.60 L213.17,482.60 L213.64,482.60 L214.11,482.60 L214.58,482.60 L215.05,482.60 L215.52,482.60 L215.99,482.60 L216.46,482.60 L216.93,482.60 L217.40,482.60 L217.87,482.60 L218.35,482.60 L218.82,482.60 L219.29,482.60 L219.76,482.60 L220.23,482.60 L220.70,482.60" fill="none" stroke="#6289b6" stroke-width="1.1" stroke-linejoin="round" stroke-linecap="round" />
<path d="M32.80,477.55 L33.27,477.67 L33.74,477.78 L34.21,477.89 L34.68,477.99 L35.15,478.10 L35.63,478.20 L36.10,478.29 L36.57,478.39 L37.04,478.48 L37.51,478.56 L37.98,478.65 L38.45,478.72 L38.92,478.80 L39.39,478.87 L39.86,478.93 L40.33,478.99 L40.81,479.04 L41.28,479.08 L41.75,479.12 L42.22,479.16 L42.69,479.18 L43.16,479.20 L43.63,479.21 L44.10,479.21 L44.57,479.21 L45.04,479.21 L45.52,479.20 L45.99,479.19 L46.46,479.18 L46.93,479.16 L47.40,479.14 L47.87,479.12 L48.34,479.10 L48.81,479.07 L49.28,479.05 L49.75,479.02 L50.22,478.99 L50.70,478.95 L51.17,478.92 L51.64,478.88 L52.11,478.84 L52.58,478.80 L53.05,478.76 L53.52,478.71 L53.99,478.67 L54.46,478.62 L54.93,478.57 L55.40,478.53 L55.88,478.48 L56.35,478.43 L56.82,478.37 L57.29,478.32 L57.76,478.27 L58.23,478.22 L58.70,478.16 L59.17,478.11 L59.64,478.05 L60.11,478.00 L60.58,477.94 L61.06,477.87 L61.53,477.79 L62.00,477.72 L62.47,477.63 L62.94,477.54 L63.41,477.45 L63.88,477.35 L64.35,477.24 L64.82,477.13 L65.29,477.02 L65.76,476.91 L66.24,476.79 L66.71,476.67 L67.18,476.55 L67.65,476.42 L68.12,476.29 L68.59,476.16 L69.06,476.03 L69.53,475.90 L70.00,475.76 L70.47,475.62 L70.95,475.47 L71.42,475.32 L71.89,475.16 L72.36,474.99 L72.83,474.82 L73.30,474.65 L73.77,474.47 L74.24,474.28 L74.71,474.09 L75.18,473.90 L75.65,473.70 L76.13,473.50 L76.60,473.29 L77.07,473.09 L77.54,472.88 L78.01,472.67 L78.48,472.45 L78.95,472.24 L79.42,472.02 L79.89,471.80 L80.36,471.58 L80.83,471.36 L81.31,471.14 L81.78,470.92 L82.25,470.70 L82.72,470.48 L83.19,470.26 L83.66,470.04 L84.13,469.82 L84.60,469.60 L85.07,469.37 L85.54,469.14 L86.01,468.91 L86.49,468.67 L86.96,468.43 L87.43,468.19 L87.90,467.95 L88.37,467.70 L88.84,467.45 L89.31,467.20 L89.78,466.95 L90.25,466.70 L90.72,466.44 L91.19,466.19 L91.67,465.93 L92.14,465.67 L92.61,465.42 L93.08,465.16 L93.55,464.90 L94.02,464.65 L94.49,464.39 L94.96,464.14 L95.43,463.89 L95.90,463.63 L96.38,463.38 L96.85,463.13 L97.32,462.89 L97.79,462.64 L98.26,462.40 L98.73,462.16 L99.20,461.92 L99.67,461.67 L100.14,461.42 L100.61,461.17 L101.08,460.91 L101.56,460.66 L102.03,460.40 L102.50,460.15 L102.97,459.89 L103.44,459.64 L103.91,459.38 L104.38,459.13 L104.85,458.88 L105.32,458.63 L105.79,458.38 L106.26,458.13 L106.74,457.89 L107.21,457.65 L107.68,457.41 L108.15,457.18 L108.62,456.95 L109.09,456.73 L109.56,456.51 L110.03,456.30 L110.50,456.09 L110.97,455.89 L111.44,455.69 L111.92,455.50 L112.39,455.31 L112.86,455.12 L113.33,454.91 L113.80,454.70 L114.27,454.48 L114.74,454.26 L115.21,454.04 L115.68,453.81 L116.15,453.59 L116.63,453.37 L117.10,453.16 L117.57,452.95 L118.04,452.76 L118.51,452.57 L118.98,452.40 L119.45,452.24 L119.92,452.10 L120.39,451.97 L120.86,451.87 L121.33,451.80 L121.81,451.76 L122.28,451.74 L122.75,451.75 L123.22,451.79 L123.69,451.86 L124.16,451.95 L124.63,452.08 L125.10,452.23 L125.57,452.41 L126.04,452.62 L126.51,452.85 L126.99,453.08 L127.46,453.32 L127.93,453.56 L128.40,453.82 L128.87,454.11 L129.34,454.41 L129.81,454.73 L130.28,455.06 L130.75,455.40 L131.22,455.74 L131.69,456.10 L132.17,456.45 L132.64,456.82 L133.11,457.21 L133.58,457.60 L134.05,458.00 L134.52,458.40 L134.99,458.80 L135.46,459.19 L135.93,459.57 L136.40,459.94 L136.87,460.29 L137.35,460.63 L137.82,460.96 L138.29,461.27 L138.76,461.56 L139.23,461.84 L139.70,462.10 L140.17,462.37 L140.64,462.63 L141.11,462.89 L141.58,463.14 L142.06,463.40 L142.53,463.66 L143.00,463.91 L143.47,464.15 L143.94,464.38 L144.41,464.60 L144.88,464.83 L145.35,465.07 L145.82,465.34 L146.29,465.63 L146.76,465.96 L147.24,466.32 L147.71,466.71 L148.18,467.14 L148.65,467.58 L149.12,468.04 L149.59,468.50 L150.06,468.96 L150.53,469.40 L151.00,469.83 L151.47,470.24 L151.94,470.65 L152.42,471.08 L152.89,471.56 L153.36,472.07 L153.83,472.60 L154.30,473.15 L154.77,473.70 L155.24,474.24 L155.71,474.76 L156.18,475.26 L156.65,475.76 L157.12,476.22 L157.60,476.68 L158.07,477.16 L158.54,477.65 L159.01,478.14 L159.48,478.61 L159.95,479.06 L160.42,479.48 L160.89,479.86 L161.36,480.19 L161.83,480.48 L162.31,480.75 L162.78,481.01 L163.25,481.27 L163.72,481.50 L164.19,481.72 L164.66,481.90 L165.13,482.06 L165.60,482.17 L166.07,482.25 L166.54,482.32 L167.01,482.38 L167.49,482.44 L167.96,482.49 L168.43,482.53 L168.90,482.57 L169.37,482.59 L169.84,482.60 L170.31,482.60 L170.78,482.60 L171.25,482.60 L171.72,482.60 L172.19,482.60 L172.67,482.60 L173.14,482.60 L173.61,482.60 L174.08,482.60 L174.55,482.60 L175.02,482.60 L175.49,482.60 L175.96,482.60 L176.43,482.60 L176.90,482.60 L177.37,482.60 L177.85,482.60 L178.32,482.60 L178.79,482.60 L179.26,482.60 L179.73,482.60 L180.20,482.60 L180.67,482.60 L181.14,482.60 L181.61,482.60 L182.08,482.60 L182.55,482.60 L183.03,482.60 L183.50,482.60 L183.97,482.60 L184.44,482.60 L184.91,482.60 L185.38,482.60 L185.85,482.60 L186.32,482.60 L186.79,482.60 L187.26,482.60 L187.74,482.60 L188.21,482.60 L188.68,482.60 L189.15,482.60 L189.62,482.60 L190.09,482.60 L190.56,482.60 L191.03,482.60 L191.50,482.60 L191.97,482.60 L192.44,482.60 L192.92,482.60 L193.39,482.60 L193.86,482.60 L194.33,482.60 L194.80,482.60 L195.27,482.60 L195.74,482.60 L196.21,482.60 L196.68,482.60 L197.15,482.60 L197.62,482.60 L198.10,482.60 L198.57,482.60 L199.04,482.60 L199.51,482.60 L199.98,482.60 L200.45,482.60 L200.92,482.60 L201.39,482.60 L201.86,482.60 L202.33,482.60 L202.80,482.60 L203.28,482.60 L203.75,482.60 L204.22,482.60 L204.69,482.60 L205.16,482.60 L205.63,482.60 L206.10,482.60 L206.57,482.60 L207.04,482.60 L207.51,482.60 L207.98,482.60 L208.46,482.60 L208.93,482.60 L209.40,482.60 L209.87,482.60 L210.34,482.60 L210.81,482.60 L211.28,482.60 L211.75,482.60 L212.22,482.60 L212.69,482.60 L213.17,482.60 L213.64,482.60 L214.11,482.60 L214.58,482.60 L215.05,482.60 L215.52,482.60 L215.99,482.60 L216.46,482.60 L216.93,482.60 L217.40,482.60 L217.87,482.60 L218.35,482.60 L218.82,482.60 L219.29,482.60 L219.76,482.60 L220.23,482.60 L220.70,482.60" fill="none" stroke="#4f79aa" stroke-width="1.1" stroke-linejoin="round" stroke-linecap="round" />
<path d="M32.80,477.51 L33.27,477.63 L33.74,477.74 L34.21,477.85 L34.68,477.96 L35.15,478.06 L35.63,478.16 L36.10,478.26 L36.57,478.36 L37.04,478.45 L37.51,478.54 L37.98,478.62 L38.45,478.70 L38.92,478.77 L39.39,478.84 L39.86,478.91 L40.33,478.96 L40.81,479.02 L41.28,479.06 L41.75,479.10 L42.22,479.13 L42.69,479.16 L43.16,479.18 L43.63,479.19 L44.10,479.19 L44.57,479.19 L45.04,479.19 L45.52,479.18 L45.99,479.17 L46.46,479.15 L46.93,479.14 L47.40,479.12 L47.87,479.10 L48.34,479.07 L48.81,479.04 L49.28,479.02 L49.75,478.98 L50.22,478.95 L50.70,478.91 L51.17,478.88 L51.64,478.84 L52.11,478.80 L52.58,478.75 L53.05,478.71 L53.52,478.66 L53.99,478.62 L54.46,478.57 L54.93,478.52 L55.40,478.47 L55.88,478.41 L56.35,478.36 L56.82,478.31 L57.29,478.25 L57.76,478.20 L58.23,478.14 L58.70,478.08 L59.17,478.03 L59.64,477.97 L60.11,477.91 L60.58,477.85 L61.06,477.77 L61.53,477.70 L62.00,477.61 L62.47,477.53 L62.94,477.43 L63.41,477.33 L63.88,477.23 L64.35,477.12 L64.82,477.01 L65.29,476.89 L65.76,476.77 L66.24,476.65 L66.71,476.53 L67.18,476.40 L67.65,476.27 L68.12,476.13 L68.59,476.00 L69.06,475.86 L69.53,475.73 L70.00,475.59 L70.47,475.44 L70.95,475.29 L71.42,475.13 L71.89,474.97 L72.36,474.80 L72.83,474.63 L73.30,474.45 L73.77,474.27 L74.24,474.08 L74.71,473.89 L75.18,473.69 L75.65,473.49 L76.13,473.29 L76.60,473.09 L77.07,472.88 L77.54,472.67 L78.01,472.45 L78.48,472.24 L78.95,472.02 L79.42,471.80 L79.89,471.58 L80.36,471.35 L80.83,471.13 L81.31,470.91 L81.78,470.68 L82.25,470.46 L82.72,470.23 L83.19,470.01 L83.66,469.78 L84.13,469.56 L84.60,469.33 L85.07,469.09 L85.54,468.86 L86.01,468.61 L86.49,468.37 L86.96,468.12 L87.43,467.87 L87.90,467.61 L88.37,467.35 L88.84,467.09 L89.31,466.83 L89.78,466.56 L90.25,466.30 L90.72,466.03 L91.19,465.76 L91.67,465.49 L92.14,465.22 L92.61,464.95 L93.08,464.68 L93.55,464.41 L94.02,464.15 L94.49,463.88 L94.96,463.61 L95.43,463.35 L95.90,463.09 L96.38,462.83 L96.85,462.57 L97.32,462.32 L97.79,462.07 L98.26,461.82 L98.73,461.57 L99.20,461.32 L99.67,461.06 L100.14,460.81 L100.61,460.55 L101.08,460.28 L101.56,460.02 L102.03,459.76 L102.50,459.49 L102.97,459.23 L103.44,458.96 L103.91,458.70 L104.38,458.44 L104.85,458.18 L105.32,457.93 L105.79,457.67 L106.26,457.42 L106.74,457.18 L107.21,456.94 L107.68,456.70 L108.15,456.47 L108.62,456.25 L109.09,456.03 L109.56,455.82 L110.03,455.62 L110.50,455.42 L110.97,455.24 L111.44,455.06 L111.92,454.89 L112.39,454.73 L112.86,454.56 L113.33,454.38 L113.80,454.20 L114.27,454.02 L114.74,453.84 L115.21,453.65 L115.68,453.47 L116.15,453.29 L116.63,453.12 L117.10,452.95 L117.57,452.79 L118.04,452.64 L118.51,452.49 L118.98,452.36 L119.45,452.25 L119.92,452.15 L120.39,452.06 L120.86,452.01 L121.33,451.99 L121.81,452.00 L122.28,452.05 L122.75,452.13 L123.22,452.24 L123.69,452.38 L124.16,452.55 L124.63,452.74 L125.10,452.96 L125.57,453.20 L126.04,453.46 L126.51,453.73 L126.99,454.00 L127.46,454.27 L127.93,454.55 L128.40,454.84 L128.87,455.17 L129.34,455.50 L129.81,455.86 L130.28,456.23 L130.75,456.61 L131.22,457.00 L131.69,457.40 L132.17,457.81 L132.64,458.22 L133.11,458.64 L133.58,459.07 L134.05,459.51 L134.52,459.94 L134.99,460.37 L135.46,460.79 L135.93,461.20 L136.40,461.60 L136.87,461.98 L137.35,462.36 L137.82,462.73 L138.29,463.08 L138.76,463.42 L139.23,463.76 L139.70,464.08 L140.17,464.41 L140.64,464.73 L141.11,465.05 L141.58,465.37 L142.06,465.69 L142.53,466.01 L143.00,466.33 L143.47,466.64 L143.94,466.94 L144.41,467.25 L144.88,467.56 L145.35,467.87 L145.82,468.21 L146.29,468.58 L146.76,468.97 L147.24,469.39 L147.71,469.84 L148.18,470.30 L148.65,470.77 L149.12,471.24 L149.59,471.71 L150.06,472.17 L150.53,472.60 L151.00,473.01 L151.47,473.39 L151.94,473.77 L152.42,474.17 L152.89,474.58 L153.36,475.02 L153.83,475.46 L154.30,475.91 L154.77,476.34 L155.24,476.76 L155.71,477.15 L156.18,477.52 L156.65,477.88 L157.12,478.22 L157.60,478.56 L158.07,478.90 L158.54,479.25 L159.01,479.59 L159.48,479.92 L159.95,480.24 L160.42,480.52 L160.89,480.77 L161.36,480.99 L161.83,481.19 L162.31,481.37 L162.78,481.54 L163.25,481.71 L163.72,481.87 L164.19,482.01 L164.66,482.13 L165.13,482.24 L165.60,482.31 L166.07,482.37 L166.54,482.41 L167.01,482.45 L167.49,482.49 L167.96,482.53 L168.43,482.56 L168.90,482.58 L169.37,482.59 L169.84,482.60 L170.31,482.60 L170.78,482.60 L171.25,482.60 L171.72,482.60 L172.19,482.60 L172.67,482.60 L173.14,482.60 L173.61,482.60 L174.08,482.60 L174.55,482.60 L175.02,482.60 L175.49,482.60 L175.96,482.60 L176.43,482.60 L176.90,482.60 L177.37,482.60 L177.85,482.60 L178.32,482.60 L178.79,482.60 L179.26,482.60 L179.73,482.60 L180.20,482.60 L180.67,482.60 L181.14,482.60 L181.61,482.60 L182.08,482.60 L182.55,482.60 L183.03,482.60 L183.50,482.60 L183.97,482.60 L184.44,482.60 L184.91,482.60 L185.38,482.60 L185.85,482.60 L186.32,482.60 L186.79,482.60 L187.26,482.60 L187.74,482.60 L188.21,482.60 L188.68,482.60 L189.15,482.60 L189.62,482.60 L190.09,482.60 L190.56,482.60 L191.03,482.60 L191.50,482.60 L191.97,482.60 L192.44,482.60 L192.92,482.60 L193.39,482.60 L193.86,482.60 L194.33,482.60 L194.80,482.60 L195.27,482.60 L195.74,482.60 L196.21,482.60 L196.68,482.60 L197.15,482.60 L197.62,482.60 L198.10,482.60 L198.57,482.60 L199.04,482.60 L199.51,482.60 L199.98,482.60 L200.45,482.60 L200.92,482.60 L201.39,482.60 L201.86,482.60 L202.33,482.60 L202.80,482.60 L203.28,482.60 L203.75,482.60 L204.22,482.60 L204.69,482.60 L205.16,482.60 L205.63,482.60 L206.10,482.60 L206.57,482.60 L207.04,482.60 L207.51,482.60 L207.98,482.60 L208.46,482.60 L208.93,482.60 L209.40,482.60 L209.87,482.60 L210.34,482.60 L210.81,482.60 L211.28,482.60 L211.75,482.60 L212.22,482.60 L212.69,482.60 L213.17,482.60 L213.64,482.60 L214.11,482.60 L214.58,482.60 L215.05,482.60 L215.52,482.60 L215.99,482.60 L216.46,482.60 L216.93,482.60 L217.40,482.60 L217.87,482.60 L218.35,482.60 L218.82,482.60 L219.29,482.60 L219.76,482.60 L220.23,482.60 L220.70,482.60" fill="none" stroke="#3c6a9e" stroke-width="1.1" stroke-linejoin="round" stroke-linecap="round" />
<path d="M32.80,477.47 L33.27,477.58 L33.74,477.70 L34.21,477.81 L34.68,477.92 L35.15,478.03 L35.63,478.13 L36.10,478.23 L36.57,478.33 L37.04,478.42 L37.51,478.51 L37.98,478.59 L38.45,478.67 L38.92,478.75 L39.39,478.82 L39.86,478.88 L40.33,478.94 L40.81,478.99 L41.28,479.04 L41.75,479.08 L42.22,479.11 L42.69,479.14 L43.16,479.16 L43.63,479.17 L44.10,479.17 L44.57,479.17 L45.04,479.16 L45.52,479.16 L45.99,479.14 L46.46,479.13 L46.93,479.11 L47.40,479.09 L47.87,479.07 L48.34,479.04 L48.81,479.01 L49.28,478.98 L49.75,478.95 L50.22,478.92 L50.70,478.88 L51.17,478.84 L51.64,478.80 L52.11,478.75 L52.58,478.71 L53.05,478.66 L53.52,478.61 L53.99,478.56 L54.46,478.51 L54.93,478.46 L55.40,478.41 L55.88,478.35 L56.35,478.29 L56.82,478.24 L57.29,478.18 L57.76,478.12 L58.23,478.06 L58.70,478.00 L59.17,477.94 L59.64,477.88 L60.11,477.82 L60.58,477.75 L61.06,477.68 L61.53,477.60 L62.00,477.51 L62.47,477.42 L62.94,477.32 L63.41,477.22 L63.88,477.11 L64.35,477.00 L64.82,476.88 L65.29,476.76 L65.76,476.64 L66.24,476.51 L66.71,476.38 L67.18,476.25 L67.65,476.11 L68.12,475.98 L68.59,475.84 L69.06,475.70 L69.53,475.56 L70.00,475.41 L70.47,475.26 L70.95,475.11 L71.42,474.95 L71.89,474.78 L72.36,474.61 L72.83,474.44 L73.30,474.25 L73.77,474.07 L74.24,473.88 L74.71,473.69 L75.18,473.49 L75.65,473.29 L76.13,473.08 L76.60,472.88 L77.07,472.67 L77.54,472.45 L78.01,472.24 L78.48,472.02 L78.95,471.80 L79.42,471.58 L79.89,471.35 L80.36,471.13 L80.83,470.90 L81.31,470.67 L81.78,470.44 L82.25,470.22 L82.72,469.99 L83.19,469.76 L83.66,469.53 L84.13,469.29 L84.60,469.06 L85.07,468.82 L85.54,468.57 L86.01,468.32 L86.49,468.06 L86.96,467.80 L87.43,467.54 L87.90,467.27 L88.37,467.00 L88.84,466.73 L89.31,466.45 L89.78,466.18 L90.25,465.90 L90.72,465.62 L91.19,465.33 L91.67,465.05 L92.14,464.77 L92.61,464.49 L93.08,464.21 L93.55,463.93 L94.02,463.65 L94.49,463.37 L94.96,463.09 L95.43,462.82 L95.90,462.54 L96.38,462.28 L96.85,462.01 L97.32,461.75 L97.79,461.49 L98.26,461.24 L98.73,460.98 L99.20,460.72 L99.67,460.46 L100.14,460.19 L100.61,459.92 L101.08,459.65 L101.56,459.38 L102.03,459.11 L102.50,458.83 L102.97,458.56 L103.44,458.29 L103.91,458.02 L104.38,457.75 L104.85,457.49 L105.32,457.22 L105.79,456.97 L106.26,456.71 L106.74,456.47 L107.21,456.23 L107.68,455.99 L108.15,455.76 L108.62,455.54 L109.09,455.33 L109.56,455.13 L110.03,454.94 L110.50,454.76 L110.97,454.58 L111.44,454.42 L111.92,454.28 L112.39,454.14 L112.86,454.00 L113.33,453.85 L113.80,453.71 L114.27,453.56 L114.74,453.41 L115.21,453.27 L115.68,453.13 L116.15,452.99 L116.63,452.86 L117.10,452.74 L117.57,452.62 L118.04,452.51 L118.51,452.42 L118.98,452.33 L119.45,452.26 L119.92,452.20 L120.39,452.15 L120.86,452.14 L121.33,452.17 L121.81,452.25 L122.28,452.37 L122.75,452.52 L123.22,452.70 L123.69,452.91 L124.16,453.15 L124.63,453.41 L125.10,453.69 L125.57,453.99 L126.04,454.29 L126.51,454.61 L126.99,454.92 L127.46,455.22 L127.93,455.53 L128.40,455.87 L128.87,456.22 L129.34,456.60 L129.81,456.99 L130.28,457.41 L130.75,457.83 L131.22,458.26 L131.69,458.71 L132.17,459.16 L132.64,459.61 L133.11,460.08 L133.58,460.55 L134.05,461.01 L134.52,461.48 L134.99,461.94 L135.46,462.39 L135.93,462.83 L136.40,463.25 L136.87,463.67 L137.35,464.09 L137.82,464.49 L138.29,464.90 L138.76,465.29 L139.23,465.68 L139.70,466.06 L140.17,466.45 L140.64,466.83 L141.11,467.21 L141.58,467.59 L142.06,467.98 L142.53,468.36 L143.00,468.75 L143.47,469.13 L143.94,469.51 L144.41,469.89 L144.88,470.28 L145.35,470.67 L145.82,471.09 L146.29,471.53 L146.76,471.99 L147.24,472.47 L147.71,472.96 L148.18,473.46 L148.65,473.96 L149.12,474.45 L149.59,474.92 L150.06,475.38 L150.53,475.80 L151.00,476.19 L151.47,476.55 L151.94,476.90 L152.42,477.25 L152.89,477.61 L153.36,477.97 L153.83,478.33 L154.30,478.66 L154.77,478.98 L155.24,479.27 L155.71,479.53 L156.18,479.77 L156.65,480.00 L157.12,480.22 L157.60,480.43 L158.07,480.64 L158.54,480.85 L159.01,481.05 L159.48,481.24 L159.95,481.41 L160.42,481.56 L160.89,481.69 L161.36,481.80 L161.83,481.89 L162.31,481.98 L162.78,482.07 L163.25,482.16 L163.72,482.23 L164.19,482.31 L164.66,482.37 L165.13,482.42 L165.60,482.46 L166.07,482.48 L166.54,482.51 L167.01,482.53 L167.49,482.55 L167.96,482.56 L168.43,482.58 L168.90,482.59 L169.37,482.60 L169.84,482.60 L170.31,482.60 L170.78,482.60 L171.25,482.60 L171.72,482.60 L172.19,482.60 L172.67,482.60 L173.14,482.60 L173.61,482.60 L174.08,482.60 L174.55,482.60 L175.02,482.60 L175.49,482.60 L175.96,482.60 L176.43,482.60 L176.90,482.60 L177.37,482.60 L177.85,482.60 L178.32,482.60 L178.79,482.60 L179.26,482.60 L179.73,482.60 L180.20,482.60 L180.67,482.60 L181.14,482.60 L181.61,482.60 L182.08,482.60 L182.55,482.60 L183.03,482.60 L183.50,482.60 L183.97,482.60 L184.44,482.60 L184.91,482.60 L185.38,482.60 L185.85,482.60 L186.32,482.60 L186.79,482.60 L187.26,482.60 L187.74,482.60 L188.21,482.60 L188.68,482.60 L189.15,482.60 L189.62,482.60 L190.09,482.60 L190.56,482.60 L191.03,482.60 L191.50,482.60 L191.97,482.60 L192.44,482.60 L192.92,482.60 L193.39,482.60 L193.86,482.60 L194.33,482.60 L194.80,482.60 L195.27,482.60 L195.74,482.60 L196.21,482.60 L196.68,482.60 L197.15,482.60 L197.62,482.60 L198.10,482.60 L198.57,482.60 L199.04,482.60 L199.51,482.60 L199.98,482.60 L200.45,482.60 L200.92,482.60 L201.39,482.60 L201.86,482.60 L202.33,482.60 L202.80,482.60 L203.28,482.60 L203.75,482.60 L204.22,482.60 L204.69,482.60 L205.16,482.60 L205.63,482.60 L206.10,482.60 L206.57,482.60 L207.04,482.60 L207.51,482.60 L207.98,482.60 L208.46,482.60 L208.93,482.60 L209.40,482.60 L209.87,482.60 L210.34,482.60 L210.81,482.60 L211.28,482.60 L211.75,482.60 L212.22,482.60 L212.69,482.60 L213.17,482.60 L213.64,482.60 L214.11,482.60 L214.58,482.60 L215.05,482.60 L215.52,482.60 L215.99,482.60 L216.46,482.60 L216.93,482.60 L217.40,482.60 L217.87,482.60 L218.35,482.60 L218.82,482.60 L219.29,482.60 L219.76,482.60 L220.23,482.60 L220.70,482.60" fill="none" stroke="#295a93" stroke-width="1.1" stroke-linejoin="round" stroke-linecap="round" />
<path d="M32.80,477.43 L33.27,477.54 L33.74,477.66 L34.21,477.77 L34.68,477.88 L35.15,477.99 L35.63,478.10 L36.10,478.20 L36.57,478.30 L37.04,478.39 L37.51,478.48 L37.98,478.57 L38.45,478.65 L38.92,478.72 L39.39,478.79 L39.86,478.86 L40.33,478.92 L40.81,478.97 L41.28,479.02 L41.75,479.06 L42.22,479.09 L42.69,479.12 L43.16,479.14 L43.63,479.15 L44.10,479.15 L44.57,479.15 L45.04,479.14 L45.52,479.13 L45.99,479.12 L46.46,479.11 L46.93,479.09 L47.40,479.07 L47.87,479.04 L48.34,479.01 L48.81,478.99 L49.28,478.95 L49.75,478.92 L50.22,478.88 L50.70,478.84 L51.17,478.80 L51.64,478.76 L52.11,478.71 L52.58,478.66 L53.05,478.61 L53.52,478.56 L53.99,478.51 L54.46,478.46 L54.93,478.40 L55.40,478.35 L55.88,478.29 L56.35,478.23 L56.82,478.17 L57.29,478.11 L57.76,478.05 L58.23,477.99 L58.70,477.92 L59.17,477.86 L59.64,477.80 L60.11,477.73 L60.58,477.66 L61.06,477.59 L61.53,477.50 L62.00,477.41 L62.47,477.32 L62.94,477.21 L63.41,477.11 L63.88,476.99 L64.35,476.88 L64.82,476.76 L65.29,476.63 L65.76,476.50 L66.24,476.37 L66.71,476.24 L67.18,476.10 L67.65,475.96 L68.12,475.82 L68.59,475.67 L69.06,475.53 L69.53,475.38 L70.00,475.24 L70.47,475.08 L70.95,474.93 L71.42,474.76 L71.89,474.59 L72.36,474.42 L72.83,474.24 L73.30,474.06 L73.77,473.87 L74.24,473.68 L74.71,473.49 L75.18,473.29 L75.65,473.08 L76.13,472.88 L76.60,472.67 L77.07,472.46 L77.54,472.24 L78.01,472.02 L78.48,471.80 L78.95,471.58 L79.42,471.36 L79.89,471.13 L80.36,470.90 L80.83,470.67 L81.31,470.44 L81.78,470.21 L82.25,469.98 L82.72,469.74 L83.19,469.51 L83.66,469.27 L84.13,469.03 L84.60,468.79 L85.07,468.54 L85.54,468.29 L86.01,468.03 L86.49,467.76 L86.96,467.49 L87.43,467.21 L87.90,466.93 L88.37,466.65 L88.84,466.37 L89.31,466.08 L89.78,465.79 L90.25,465.50 L90.72,465.20 L91.19,464.91 L91.67,464.61 L92.14,464.32 L92.61,464.02 L93.08,463.73 L93.55,463.44 L94.02,463.14 L94.49,462.85 L94.96,462.57 L95.43,462.28 L95.90,462.00 L96.38,461.72 L96.85,461.45 L97.32,461.18 L97.79,460.91 L98.26,460.65 L98.73,460.39 L99.20,460.13 L99.67,459.86 L100.14,459.58 L100.61,459.30 L101.08,459.02 L101.56,458.74 L102.03,458.46 L102.50,458.18 L102.97,457.89 L103.44,457.61 L103.91,457.34 L104.38,457.06 L104.85,456.79 L105.32,456.52 L105.79,456.26 L106.26,456.00 L106.74,455.76 L107.21,455.51 L107.68,455.28 L108.15,455.05 L108.62,454.84 L109.09,454.63 L109.56,454.44 L110.03,454.26 L110.50,454.09 L110.97,453.93 L111.44,453.79 L111.92,453.66 L112.39,453.55 L112.86,453.44 L113.33,453.32 L113.80,453.21 L114.27,453.10 L114.74,452.99 L115.21,452.89 L115.68,452.79 L116.15,452.69 L116.63,452.61 L117.10,452.53 L117.57,452.46 L118.04,452.39 L118.51,452.34 L118.98,452.30 L119.45,452.27 L119.92,452.25 L120.39,452.24 L120.86,452.27 L121.33,452.36 L121.81,452.50 L122.28,452.68 L122.75,452.90 L123.22,453.16 L123.69,453.44 L124.16,453.75 L124.63,454.08 L125.10,454.42 L125.57,454.77 L126.04,455.13 L126.51,455.49 L126.99,455.84 L127.46,456.18 L127.93,456.52 L128.40,456.89 L128.87,457.28 L129.34,457.69 L129.81,458.13 L130.28,458.58 L130.75,459.05 L131.22,459.53 L131.69,460.01 L132.17,460.51 L132.64,461.01 L133.11,461.51 L133.58,462.02 L134.05,462.52 L134.52,463.01 L134.99,463.50 L135.46,463.98 L135.93,464.45 L136.40,464.91 L136.87,465.36 L137.35,465.81 L137.82,466.26 L138.29,466.71 L138.76,467.15 L139.23,467.60 L139.70,468.04 L140.17,468.48 L140.64,468.93 L141.11,469.37 L141.58,469.82 L142.06,470.27 L142.53,470.72 L143.00,471.17 L143.47,471.62 L143.94,472.08 L144.41,472.54 L144.88,473.00 L145.35,473.47 L145.82,473.97 L146.29,474.48 L146.76,475.01 L147.24,475.55 L147.71,476.09 L148.18,476.62 L148.65,477.15 L149.12,477.65 L149.59,478.14 L150.06,478.59 L150.53,479.00 L151.00,479.37 L151.47,479.70 L151.94,480.02 L152.42,480.34 L152.89,480.64 L153.36,480.92 L153.83,481.19 L154.30,481.42 L154.77,481.62 L155.24,481.79 L155.71,481.92 L156.18,482.02 L156.65,482.12 L157.12,482.22 L157.60,482.30 L158.07,482.38 L158.54,482.45 L159.01,482.51 L159.48,482.55 L159.95,482.58 L160.42,482.60 L160.89,482.60 L161.36,482.60 L161.83,482.60 L162.31,482.60 L162.78,482.60 L163.25,482.60 L163.72,482.60 L164.19,482.60 L164.66,482.60 L165.13,482.60 L165.60,482.60 L166.07,482.60 L166.54,482.60 L167.01,482.60 L167.49,482.60 L167.96,482.60 L168.43,482.60 L168.90,482.60 L169.37,482.60 L169.84,482.60 L170.31,482.60 L170.78,482.60 L171.25,482.60 L171.72,482.60 L172.19,482.60 L172.67,482.60 L173.14,482.60 L173.61,482.60 L174.08,482.60 L174.55,482.60 L175.02,482.60 L175.49,482.60 L175.96,482.60 L176.43,482.60 L176.90,482.60 L177.37,482.60 L177.85,482.60 L178.32,482.60 L178.79,482.60 L179.26,482.60 L179.73,482.60 L180.20,482.60 L180.67,482.60 L181.14,482.60 L181.61,482.60 L182.08,482.60 L182.55,482.60 L183.03,482.60 L183.50,482.60 L183.97,482.60 L184.44,482.60 L184.91,482.60 L185.38,482.60 L185.85,482.60 L186.32,482.60 L186.79,482.60 L187.26,482.60 L187.74,482.60 L188.21,482.60 L188.68,482.60 L189.15,482.60 L189.62,482.60 L190.09,482.60 L190.56,482.60 L191.03,482.60 L191.50,482.60 L191.97,482.60 L192.44,482.60 L192.92,482.60 L193.39,482.60 L193.86,482.60 L194.33,482.60 L194.80,482.60 L195.27,482.60 L195.74,482.60 L196.21,482.60 L196.68,482.60 L197.15,482.60 L197.62,482.60 L198.10,482.60 L198.57,482.60 L199.04,482.60 L199.51,482.60 L199.98,482.60 L200.45,482.60 L200.92,482.60 L201.39,482.60 L201.86,482.60 L202.33,482.60 L202.80,482.60 L203.28,482.60 L203.75,482.60 L204.22,482.60 L204.69,482.60 L205.16,482.60 L205.63,482.60 L206.10,482.60 L206.57,482.60 L207.04,482.60 L207.51,482.60 L207.98,482.60 L208.46,482.60 L208.93,482.60 L209.40,482.60 L209.87,482.60 L210.34,482.60 L210.81,482.60 L211.28,482.60 L211.75,482.60 L212.22,482.60 L212.69,482.60 L213.17,482.60 L213.64,482.60 L214.11,482.60 L214.58,482.60 L215.05,482.60 L215.52,482.60 L215.99,482.60 L216.46,482.60 L216.93,482.60 L217.40,482.60 L217.87,482.60 L218.35,482.60 L218.82,482.60 L219.29,482.60 L219.76,482.60 L220.23,482.60 L220.70,482.60" fill="none" stroke="#164a87" stroke-width="1.1" stroke-linejoin="round" stroke-linecap="round" />
<path d="M32.80,523.60 L33.27,523.67 L33.74,523.73 L34.21,523.78 L34.68,523.84 L35.15,523.89 L35.63,523.94 L36.10,523.98 L36.57,524.03 L37.04,524.07 L37.51,524.11 L37.98,524.15 L38.45,524.18 L38.92,524.22 L39.39,524.25 L39.86,524.28 L40.33,524.30 L40.81,524.33 L41.28,524.35 L41.75,524.37 L42.22,524.39 L42.69,524.41 L43.16,524.43 L43.63,524.44 L44.10,524.45 L44.57,524.47 L45.04,524.47 L45.52,524.48 L45.99,524.49 L46.46,524.49 L46.93,524.50 L47.40,524.50 L47.87,524.50 L48.34,524.50 L48.81,524.49 L49.28,524.48 L49.75,524.47 L50.22,524.45 L50.70,524.43 L51.17,524.41 L51.64,524.39 L52.11,524.36 L52.58,524.33 L53.05,524.29 L53.52,524.25 L53.99,524.21 L54.46,524.17 L54.93,524.12 L55.40,524.08 L55.88,524.03 L56.35,523.97 L56.82,523.92 L57.29,523.86 L57.76,523.80 L58.23,523.74 L58.70,523.68 L59.17,523.61 L59.64,523.54 L60.11,523.47 L60.58,523.40 L61.06,523.33 L61.53,523.26 L62.00,523.18 L62.47,523.10 L62.94,523.02 L63.41,522.94 L63.88,522.86 L64.35,522.78 L64.82,522.70 L65.29,522.62 L65.76,522.53 L66.24,522.45 L66.71,522.36 L67.18,522.27 L67.65,522.19 L68.12,522.10 L68.59,522.01 L69.06,521.92 L69.53,521.83 L70.00,521.74 L70.47,521.64 L70.95,521.53 L71.42,521.41 L71.89,521.29 L72.36,521.15 L72.83,521.01 L73.30,520.86 L73.77,520.71 L74.24,520.55 L74.71,520.39 L75.18,520.22 L75.65,520.04 L76.13,519.86 L76.60,519.68 L77.07,519.49 L77.54,519.30 L78.01,519.11 L78.48,518.92 L78.95,518.72 L79.42,518.53 L79.89,518.33 L80.36,518.13 L80.83,517.93 L81.31,517.73 L81.78,517.54 L82.25,517.34 L82.72,517.15 L83.19,516.95 L83.66,516.76 L84.13,516.58 L84.60,516.39 L85.07,516.21 L85.54,516.04 L86.01,515.86 L86.49,515.69 L86.96,515.51 L87.43,515.34 L87.90,515.16 L88.37,514.99 L88.84,514.82 L89.31,514.64 L89.78,514.47 L90.25,514.29 L90.72,514.11 L91.19,513.94 L91.67,513.76 L92.14,513.58 L92.61,513.40 L93.08,513.22 L93.55,513.04 L94.02,512.86 L94.49,512.67 L94.96,512.48 L95.43,512.30 L95.90,512.11 L96.38,511.92 L96.85,511.72 L97.32,511.53 L97.79,511.33 L98.26,511.13 L98.73,510.93 L99.20,510.73 L99.67,510.53 L100.14,510.33 L100.61,510.12 L101.08,509.91 L101.56,509.70 L102.03,509.49 L102.50,509.28 L102.97,509.07 L103.44,508.86 L103.91,508.65 L104.38,508.43 L104.85,508.22 L105.32,508.00 L105.79,507.78 L106.26,507.56 L106.74,507.35 L107.21,507.13 L107.68,506.91 L108.15,506.69 L108.62,506.47 L109.09,506.26 L109.56,506.04 L110.03,505.83 L110.50,505.62 L110.97,505.41 L111.44,505.20 L111.92,504.99 L112.39,504.78 L112.86,504.56 L113.33,504.35 L113.80,504.13 L114.27,503.92 L114.74,503.70 L115.21,503.48 L115.68,503.25 L116.15,503.02 L116.63,502.79 L117.10,502.56 L117.57,502.32 L118.04,502.07 L118.51,501.82 L118.98,501.57 L119.45,501.31 L119.92,501.04 L120.39,500.77 L120.86,500.49 L121.33,500.19 L121.81,499.86 L122.28,499.48 L122.75,499.07 L123.22,498.62 L123.69,498.15 L124.16,497.67 L124.63,497.18 L125.10,496.68 L125.57,496.19 L126.04,495.71 L126.51,495.25 L126.99,494.81 L127.46,494.41 L127.93,494.04 L128.40,493.71 L128.87,493.44 L129.34,493.23 L129.81,493.08 L130.28,493.00 L130.75,493.00 L131.22,493.07 L131.69,493.19 L132.17,493.37 L132.64,493.58 L133.11,493.84 L133.58,494.13 L134.05,494.44 L134.52,494.77 L134.99,495.11 L135.46,495.46 L135.93,495.81 L136.40,496.15 L136.87,496.48 L137.35,496.78 L137.82,497.06 L138.29,497.31 L138.76,497.51 L139.23,497.67 L139.70,497.78 L140.17,497.83 L140.64,497.78 L141.11,497.61 L141.58,497.32 L142.06,496.94 L142.53,496.48 L143.00,495.97 L143.47,495.42 L143.94,494.86 L144.41,494.29 L144.88,493.76 L145.35,493.26 L145.82,492.83 L146.29,492.48 L146.76,492.24 L147.24,492.11 L147.71,492.13 L148.18,492.30 L148.65,492.61 L149.12,493.04 L149.59,493.58 L150.06,494.21 L150.53,494.91 L151.00,495.67 L151.47,496.47 L151.94,497.30 L152.42,498.13 L152.89,498.97 L153.36,499.82 L153.83,500.83 L154.30,501.99 L154.77,503.26 L155.24,504.60 L155.71,505.99 L156.18,507.38 L156.65,508.76 L157.12,510.08 L157.60,511.32 L158.07,512.44 L158.54,513.54 L159.01,514.67 L159.48,515.80 L159.95,516.94 L160.42,518.05 L160.89,519.13 L161.36,520.18 L161.83,521.17 L162.31,522.09 L162.78,522.94 L163.25,523.70 L163.72,524.36 L164.19,524.90 L164.66,525.35 L165.13,525.78 L165.60,526.21 L166.07,526.60 L166.54,526.97 L167.01,527.28 L167.49,527.55 L167.96,527.74 L168.43,527.86 L168.90,527.90 L169.37,527.90 L169.84,527.90 L170.31,527.90 L170.78,527.90 L171.25,527.90 L171.72,527.90 L172.19,527.90 L172.67,527.90 L173.14,527.90 L173.61,527.90 L174.08,527.90 L174.55,527.90 L175.02,527.90 L175.49,527.90 L175.96,527.90 L176.43,527.90 L176.90,527.90 L177.37,527.90 L177.85,527.90 L178.32,527.90 L178.79,527.90 L179.26,527.90 L179.73,527.90 L180.20,527.90 L180.67,527.90 L181.14,527.90 L181.61,527.90 L182.08,527.90 L182.55,527.90 L183.03,527.90 L183.50,527.90 L183.97,527.90 L184.44,527.90 L184.91,527.90 L185.38,527.90 L185.85,527.90 L186.32,527.90 L186.79,527.90 L187.26,527.90 L187.74,527.90 L188.21,527.90 L188.68,527.90 L189.15,527.90 L189.62,527.90 L190.09,527.90 L190.56,527.90 L191.03,527.90 L191.50,527.90 L191.97,527.90 L192.44,527.90 L192.92,527.90 L193.39,527.90 L193.86,527.90 L194.33,527.90 L194.80,527.90 L195.27,527.90 L195.74,527.90 L196.21,527.90 L196.68,527.90 L197.15,527.90 L197.62,527.90 L198.10,527.90 L198.57,527.90 L199.04,527.90 L199.51,527.90 L199.98,527.90 L200.45,527.90 L200.92,527.90 L201.39,527.90 L201.86,527.90 L202.33,527.90 L202.80,527.90 L203.28,527.90 L203.75,527.90 L204.22,527.90 L204.69,527.90 L205.16,527.90 L205.63,527.90 L206.10,527.90 L206.57,527.90 L207.04,527.90 L207.51,527.90 L207.98,527.90 L208.46,527.90 L208.93,527.90 L209.40,527.90 L209.87,527.90 L210.34,527.90 L210.81,527.90 L211.28,527.90 L211.75,527.90 L212.22,527.90 L212.69,527.90 L213.17,527.90 L213.64,527.90 L214.11,527.90 L214.58,527.90 L215.05,527.90 L215.52,527.90 L215.99,527.90 L216.46,527.90 L216.93,527.90 L217.40,527.90 L217.87,527.90 L218.35,527.90 L218.82,527.90 L219.29,527.90 L219.76,527.90 L220.23,527.90 L220.70,527.90" fill="none" stroke="#fad48c" stroke-width="1.1" stroke-linejoin="round" stroke-linecap="round" />
<path d="M32.80,523.56 L33.27,523.62 L33.74,523.68 L34.21,523.74 L34.68,523.79 L35.15,523.85 L35.63,523.90 L36.10,523.94 L36.57,523.99 L37.04,524.03 L37.51,524.07 L37.98,524.11 L38.45,524.14 L38.92,524.18 L39.39,524.21 L39.86,524.24 L40.33,524.26 L40.81,524.29 L41.28,524.31 L41.75,524.33 L42.22,524.35 L42.69,524.37 L43.16,524.38 L43.63,524.40 L44.10,524.41 L44.57,524.42 L45.04,524.43 L45.52,524.44 L45.99,524.44 L46.46,524.45 L46.93,524.45 L47.40,524.45 L47.87,524.45 L48.34,524.45 L48.81,524.45 L49.28,524.44 L49.75,524.42 L50.22,524.41 L50.70,524.39 L51.17,524.36 L51.64,524.34 L52.11,524.31 L52.58,524.27 L53.05,524.24 L53.52,524.20 L53.99,524.16 L54.46,524.11 L54.93,524.07 L55.40,524.02 L55.88,523.96 L56.35,523.91 L56.82,523.85 L57.29,523.79 L57.76,523.73 L58.23,523.67 L58.70,523.60 L59.17,523.53 L59.64,523.46 L60.11,523.39 L60.58,523.32 L61.06,523.24 L61.53,523.17 L62.00,523.09 L62.47,523.01 L62.94,522.93 L63.41,522.85 L63.88,522.76 L64.35,522.68 L64.82,522.59 L65.29,522.51 L65.76,522.42 L66.24,522.33 L66.71,522.24 L67.18,522.15 L67.65,522.06 L68.12,521.97 L68.59,521.88 L69.06,521.79 L69.53,521.70 L70.00,521.60 L70.47,521.50 L70.95,521.39 L71.42,521.27 L71.89,521.14 L72.36,521.00 L72.83,520.86 L73.30,520.71 L73.77,520.55 L74.24,520.39 L74.71,520.22 L75.18,520.05 L75.65,519.88 L76.13,519.69 L76.60,519.51 L77.07,519.32 L77.54,519.13 L78.01,518.93 L78.48,518.74 L78.95,518.54 L79.42,518.34 L79.89,518.14 L80.36,517.94 L80.83,517.74 L81.31,517.54 L81.78,517.34 L82.25,517.14 L82.72,516.94 L83.19,516.75 L83.66,516.55 L84.13,516.36 L84.60,516.18 L85.07,515.99 L85.54,515.81 L86.01,515.63 L86.49,515.46 L86.96,515.28 L87.43,515.10 L87.90,514.92 L88.37,514.74 L88.84,514.57 L89.31,514.39 L89.78,514.21 L90.25,514.03 L90.72,513.85 L91.19,513.67 L91.67,513.49 L92.14,513.30 L92.61,513.12 L93.08,512.94 L93.55,512.75 L94.02,512.56 L94.49,512.38 L94.96,512.19 L95.43,511.99 L95.90,511.80 L96.38,511.61 L96.85,511.41 L97.32,511.21 L97.79,511.01 L98.26,510.80 L98.73,510.60 L99.20,510.39 L99.67,510.18 L100.14,509.97 L100.61,509.76 L101.08,509.54 L101.56,509.33 L102.03,509.11 L102.50,508.89 L102.97,508.68 L103.44,508.46 L103.91,508.24 L104.38,508.02 L104.85,507.80 L105.32,507.58 L105.79,507.37 L106.26,507.15 L106.74,506.93 L107.21,506.72 L107.68,506.50 L108.15,506.29 L108.62,506.08 L109.09,505.87 L109.56,505.66 L110.03,505.45 L110.50,505.24 L110.97,505.04 L111.44,504.83 L111.92,504.62 L112.39,504.42 L112.86,504.21 L113.33,504.00 L113.80,503.79 L114.27,503.59 L114.74,503.37 L115.21,503.16 L115.68,502.95 L116.15,502.73 L116.63,502.51 L117.10,502.29 L117.57,502.07 L118.04,501.85 L118.51,501.62 L118.98,501.39 L119.45,501.15 L119.92,500.91 L120.39,500.67 L120.86,500.42 L121.33,500.17 L121.81,499.87 L122.28,499.54 L122.75,499.19 L123.22,498.80 L123.69,498.40 L124.16,497.98 L124.63,497.55 L125.10,497.13 L125.57,496.70 L126.04,496.29 L126.51,495.90 L126.99,495.53 L127.46,495.19 L127.93,494.88 L128.40,494.62 L128.87,494.41 L129.34,494.24 L129.81,494.14 L130.28,494.10 L130.75,494.13 L131.22,494.22 L131.69,494.35 L132.17,494.54 L132.64,494.76 L133.11,495.01 L133.58,495.30 L134.05,495.61 L134.52,495.93 L134.99,496.27 L135.46,496.62 L135.93,496.97 L136.40,497.31 L136.87,497.64 L137.35,497.95 L137.82,498.24 L138.29,498.50 L138.76,498.73 L139.23,498.92 L139.70,499.06 L140.17,499.16 L140.64,499.17 L141.11,499.07 L141.58,498.87 L142.06,498.58 L142.53,498.23 L143.00,497.83 L143.47,497.40 L143.94,496.96 L144.41,496.52 L144.88,496.10 L145.35,495.72 L145.82,495.39 L146.29,495.14 L146.76,494.98 L147.24,494.93 L147.71,495.00 L148.18,495.20 L148.65,495.53 L149.12,495.96 L149.59,496.49 L150.06,497.09 L150.53,497.76 L151.00,498.47 L151.47,499.23 L151.94,500.00 L152.42,500.78 L152.89,501.56 L153.36,502.36 L153.83,503.30 L154.30,504.36 L154.77,505.52 L155.24,506.75 L155.71,508.01 L156.18,509.28 L156.65,510.53 L157.12,511.74 L157.60,512.86 L158.07,513.89 L158.54,514.90 L159.01,515.93 L159.48,516.96 L159.95,517.99 L160.42,519.01 L160.89,520.01 L161.36,520.97 L161.83,521.88 L162.31,522.73 L162.78,523.50 L163.25,524.20 L163.72,524.79 L164.19,525.27 L164.66,525.66 L165.13,526.05 L165.60,526.42 L166.07,526.77 L166.54,527.08 L167.01,527.36 L167.49,527.59 L167.96,527.76 L168.43,527.87 L168.90,527.90 L169.37,527.90 L169.84,527.90 L170.31,527.90 L170.78,527.90 L171.25,527.90 L171.72,527.90 L172.19,527.90 L172.67,527.90 L173.14,527.90 L173.61,527.90 L174.08,527.90 L174.55,527.90 L175.02,527.90 L175.49,527.90 L175.96,527.90 L176.43,527.90 L176.90,527.90 L177.37,527.90 L177.85,527.90 L178.32,527.90 L178.79,527.90 L179.26,527.90 L179.73,527.90 L180.20,527.90 L180.67,527.90 L181.14,527.90 L181.61,527.90 L182.08,527.90 L182.55,527.90 L183.03,527.90 L183.50,527.90 L183.97,527.90 L184.44,527.90 L184.91,527.90 L185.38,527.90 L185.85,527.90 L186.32,527.90 L186.79,527.90 L187.26,527.90 L187.74,527.90 L188.21,527.90 L188.68,527.90 L189.15,527.90 L189.62,527.90 L190.09,527.90 L190.56,527.90 L191.03,527.90 L191.50,527.90 L191.97,527.90 L192.44,527.90 L192.92,527.90 L193.39,527.90 L193.86,527.90 L194.33,527.90 L194.80,527.90 L195.27,527.90 L195.74,527.90 L196.21,527.90 L196.68,527.90 L197.15,527.90 L197.62,527.90 L198.10,527.90 L198.57,527.90 L199.04,527.90 L199.51,527.90 L199.98,527.90 L200.45,527.90 L200.92,527.90 L201.39,527.90 L201.86,527.90 L202.33,527.90 L202.80,527.90 L203.28,527.90 L203.75,527.90 L204.22,527.90 L204.69,527.90 L205.16,527.90 L205.63,527.90 L206.10,527.90 L206.57,527.90 L207.04,527.90 L207.51,527.90 L207.98,527.90 L208.46,527.90 L208.93,527.90 L209.40,527.90 L209.87,527.90 L210.34,527.90 L210.81,527.90 L211.28,527.90 L211.75,527.90 L212.22,527.90 L212.69,527.90 L213.17,527.90 L213.64,527.90 L214.11,527.90 L214.58,527.90 L215.05,527.90 L215.52,527.90 L215.99,527.90 L216.46,527.90 L216.93,527.90 L217.40,527.90 L217.87,527.90 L218.35,527.90 L218.82,527.90 L219.29,527.90 L219.76,527.90 L220.23,527.90 L220.70,527.90" fill="none" stroke="#f9ce7d" stroke-width="1.1" stroke-linejoin="round" stroke-linecap="round" />
<path d="M32.80,523.51 L33.27,523.58 L33.74,523.64 L34.21,523.70 L34.68,523.75 L35.15,523.80 L35.63,523.85 L36.10,523.90 L36.57,523.95 L37.04,523.99 L37.51,524.03 L37.98,524.07 L38.45,524.10 L38.92,524.13 L39.39,524.17 L39.86,524.19 L40.33,524.22 L40.81,524.25 L41.28,524.27 L41.75,524.29 L42.22,524.31 L42.69,524.33 L43.16,524.34 L43.63,524.36 L44.10,524.37 L44.57,524.38 L45.04,524.39 L45.52,524.39 L45.99,524.40 L46.46,524.40 L46.93,524.41 L47.40,524.41 L47.87,524.41 L48.34,524.41 L48.81,524.40 L49.28,524.39 L49.75,524.38 L50.22,524.36 L50.70,524.34 L51.17,524.32 L51.64,524.29 L52.11,524.26 L52.58,524.22 L53.05,524.19 L53.52,524.14 L53.99,524.10 L54.46,524.06 L54.93,524.01 L55.40,523.96 L55.88,523.90 L56.35,523.84 L56.82,523.78 L57.29,523.72 L57.76,523.66 L58.23,523.59 L58.70,523.53 L59.17,523.46 L59.64,523.38 L60.11,523.31 L60.58,523.23 L61.06,523.16 L61.53,523.08 L62.00,523.00 L62.47,522.91 L62.94,522.83 L63.41,522.75 L63.88,522.66 L64.35,522.57 L64.82,522.48 L65.29,522.40 L65.76,522.31 L66.24,522.21 L66.71,522.12 L67.18,522.03 L67.65,521.94 L68.12,521.85 L68.59,521.75 L69.06,521.66 L69.53,521.56 L70.00,521.47 L70.47,521.36 L70.95,521.25 L71.42,521.12 L71.89,520.99 L72.36,520.85 L72.83,520.71 L73.30,520.56 L73.77,520.40 L74.24,520.23 L74.71,520.06 L75.18,519.89 L75.65,519.71 L76.13,519.53 L76.60,519.34 L77.07,519.15 L77.54,518.95 L78.01,518.76 L78.48,518.56 L78.95,518.36 L79.42,518.15 L79.89,517.95 L80.36,517.75 L80.83,517.54 L81.31,517.34 L81.78,517.14 L82.25,516.93 L82.72,516.73 L83.19,516.54 L83.66,516.34 L84.13,516.15 L84.60,515.96 L85.07,515.77 L85.54,515.59 L86.01,515.41 L86.49,515.22 L86.96,515.04 L87.43,514.86 L87.90,514.68 L88.37,514.50 L88.84,514.32 L89.31,514.14 L89.78,513.95 L90.25,513.77 L90.72,513.59 L91.19,513.40 L91.67,513.22 L92.14,513.03 L92.61,512.84 L93.08,512.65 L93.55,512.46 L94.02,512.27 L94.49,512.08 L94.96,511.89 L95.43,511.69 L95.90,511.49 L96.38,511.30 L96.85,511.10 L97.32,510.89 L97.79,510.68 L98.26,510.47 L98.73,510.26 L99.20,510.05 L99.67,509.83 L100.14,509.61 L100.61,509.39 L101.08,509.17 L101.56,508.95 L102.03,508.73 L102.50,508.50 L102.97,508.28 L103.44,508.06 L103.91,507.83 L104.38,507.61 L104.85,507.39 L105.32,507.17 L105.79,506.95 L106.26,506.73 L106.74,506.52 L107.21,506.31 L107.68,506.10 L108.15,505.89 L108.62,505.68 L109.09,505.48 L109.56,505.28 L110.03,505.07 L110.50,504.87 L110.97,504.67 L111.44,504.46 L111.92,504.26 L112.39,504.06 L112.86,503.86 L113.33,503.66 L113.80,503.46 L114.27,503.25 L114.74,503.05 L115.21,502.85 L115.68,502.65 L116.15,502.44 L116.63,502.24 L117.10,502.03 L117.57,501.83 L118.04,501.62 L118.51,501.41 L118.98,501.21 L119.45,501.00 L119.92,500.78 L120.39,500.57 L120.86,500.36 L121.33,500.14 L121.81,499.89 L122.28,499.61 L122.75,499.31 L123.22,498.98 L123.69,498.64 L124.16,498.29 L124.63,497.93 L125.10,497.57 L125.57,497.22 L126.04,496.87 L126.51,496.54 L126.99,496.24 L127.46,495.97 L127.93,495.73 L128.40,495.53 L128.87,495.37 L129.34,495.26 L129.81,495.20 L130.28,495.20 L130.75,495.26 L131.22,495.36 L131.69,495.52 L132.17,495.71 L132.64,495.93 L133.11,496.19 L133.58,496.47 L134.05,496.77 L134.52,497.10 L134.99,497.43 L135.46,497.78 L135.93,498.12 L136.40,498.46 L136.87,498.80 L137.35,499.12 L137.82,499.42 L138.29,499.70 L138.76,499.95 L139.23,500.17 L139.70,500.35 L140.17,500.49 L140.64,500.55 L141.11,500.53 L141.58,500.41 L142.06,500.22 L142.53,499.98 L143.00,499.70 L143.47,499.38 L143.94,499.06 L144.41,498.74 L144.88,498.44 L145.35,498.17 L145.82,497.96 L146.29,497.80 L146.76,497.73 L147.24,497.74 L147.71,497.87 L148.18,498.11 L148.65,498.45 L149.12,498.88 L149.59,499.39 L150.06,499.97 L150.53,500.60 L151.00,501.28 L151.47,501.98 L151.94,502.70 L152.42,503.43 L152.89,504.16 L153.36,504.90 L153.83,505.77 L154.30,506.74 L154.77,507.79 L155.24,508.90 L155.71,510.03 L156.18,511.18 L156.65,512.31 L157.12,513.39 L157.60,514.41 L158.07,515.34 L158.54,516.26 L159.01,517.19 L159.48,518.12 L159.95,519.05 L160.42,519.98 L160.89,520.88 L161.36,521.76 L161.83,522.59 L162.31,523.36 L162.78,524.07 L163.25,524.69 L163.72,525.22 L164.19,525.65 L164.66,525.98 L165.13,526.31 L165.60,526.63 L166.07,526.93 L166.54,527.20 L167.01,527.44 L167.49,527.64 L167.96,527.78 L168.43,527.87 L168.90,527.90 L169.37,527.90 L169.84,527.90 L170.31,527.90 L170.78,527.90 L171.25,527.90 L171.72,527.90 L172.19,527.90 L172.67,527.90 L173.14,527.90 L173.61,527.90 L174.08,527.90 L174.55,527.90 L175.02,527.90 L175.49,527.90 L175.96,527.90 L176.43,527.90 L176.90,527.90 L177.37,527.90 L177.85,527.90 L178.32,527.90 L178.79,527.90 L179.26,527.90 L179.73,527.90 L180.20,527.90 L180.67,527.90 L181.14,527.90 L181.61,527.90 L182.08,527.90 L182.55,527.90 L183.03,527.90 L183.50,527.90 L183.97,527.90 L184.44,527.90 L184.91,527.90 L185.38,527.90 L185.85,527.90 L186.32,527.90 L186.79,527.90 L187.26,527.90 L187.74,527.90 L188.21,527.90 L188.68,527.90 L189.15,527.90 L189.62,527.90 L190.09,527.90 L190.56,527.90 L191.03,527.90 L191.50,527.90 L191.97,527.90 L192.44,527.90 L192.92,527.90 L193.39,527.90 L193.86,527.90 L194.33,527.90 L194.80,527.90 L195.27,527.90 L195.74,527.90 L196.21,527.90 L196.68,527.90 L197.15,527.90 L197.62,527.90 L198.10,527.90 L198.57,527.90 L199.04,527.90 L199.51,527.90 L199.98,527.90 L200.45,527.90 L200.92,527.90 L201.39,527.90 L201.86,527.90 L202.33,527.90 L202.80,527.90 L203.28,527.90 L203.75,527.90 L204.22,527.90 L204.69,527.90 L205.16,527.90 L205.63,527.90 L206.10,527.90 L206.57,527.90 L207.04,527.90 L207.51,527.90 L207.98,527.90 L208.46,527.90 L208.93,527.90 L209.40,527.90 L209.87,527.90 L210.34,527.90 L210.81,527.90 L211.28,527.90 L211.75,527.90 L212.22,527.90 L212.69,527.90 L213.17,527.90 L213.64,527.90 L214.11,527.90 L214.58,527.90 L215.05,527.90 L215.52,527.90 L215.99,527.90 L216.46,527.90 L216.93,527.90 L217.40,527.90 L217.87,527.90 L218.35,527.90 L218.82,527.90 L219.29,527.90 L219.76,527.90 L220.23,527.90 L220.70,527.90" fill="none" stroke="#f8c76e" stroke-width="1.1" stroke-linejoin="round" stroke-linecap="round" />
<path d="M32.80,523.47 L33.27,523.53 L33.74,523.60 L34.21,523.65 L34.68,523.71 L35.15,523.76 L35.63,523.81 L36.10,523.86 L36.57,523.90 L37.04,523.95 L37.51,523.99 L37.98,524.02 L38.45,524.06 L38.92,524.09 L39.39,524.12 L39.86,524.15 L40.33,524.18 L40.81,524.20 L41.28,524.23 L41.75,524.25 L42.22,524.27 L42.69,524.28 L43.16,524.30 L43.63,524.31 L44.10,524.32 L44.57,524.33 L45.04,524.34 L45.52,524.35 L45.99,524.36 L46.46,524.36 L46.93,524.36 L47.40,524.36 L47.87,524.36 L48.34,524.36 L48.81,524.36 L49.28,524.35 L49.75,524.33 L50.22,524.31 L50.70,524.29 L51.17,524.27 L51.64,524.24 L52.11,524.21 L52.58,524.17 L53.05,524.13 L53.52,524.09 L53.99,524.05 L54.46,524.00 L54.93,523.95 L55.40,523.89 L55.88,523.84 L56.35,523.78 L56.82,523.72 L57.29,523.66 L57.76,523.59 L58.23,523.52 L58.70,523.45 L59.17,523.38 L59.64,523.30 L60.11,523.23 L60.58,523.15 L61.06,523.07 L61.53,522.99 L62.00,522.90 L62.47,522.82 L62.94,522.73 L63.41,522.65 L63.88,522.56 L64.35,522.47 L64.82,522.38 L65.29,522.28 L65.76,522.19 L66.24,522.10 L66.71,522.00 L67.18,521.91 L67.65,521.82 L68.12,521.72 L68.59,521.62 L69.06,521.53 L69.53,521.43 L70.00,521.33 L70.47,521.22 L70.95,521.11 L71.42,520.98 L71.89,520.85 L72.36,520.71 L72.83,520.56 L73.30,520.40 L73.77,520.24 L74.24,520.08 L74.71,519.90 L75.18,519.73 L75.65,519.54 L76.13,519.36 L76.60,519.17 L77.07,518.97 L77.54,518.78 L78.01,518.58 L78.48,518.38 L78.95,518.17 L79.42,517.97 L79.89,517.76 L80.36,517.55 L80.83,517.35 L81.31,517.14 L81.78,516.94 L82.25,516.73 L82.72,516.53 L83.19,516.33 L83.66,516.13 L84.13,515.93 L84.60,515.74 L85.07,515.55 L85.54,515.36 L86.01,515.18 L86.49,514.99 L86.96,514.81 L87.43,514.62 L87.90,514.44 L88.37,514.25 L88.84,514.07 L89.31,513.88 L89.78,513.70 L90.25,513.51 L90.72,513.32 L91.19,513.13 L91.67,512.94 L92.14,512.75 L92.61,512.56 L93.08,512.37 L93.55,512.18 L94.02,511.98 L94.49,511.78 L94.96,511.59 L95.43,511.39 L95.90,511.19 L96.38,510.98 L96.85,510.78 L97.32,510.57 L97.79,510.36 L98.26,510.15 L98.73,509.93 L99.20,509.71 L99.67,509.48 L100.14,509.26 L100.61,509.03 L101.08,508.80 L101.56,508.57 L102.03,508.34 L102.50,508.11 L102.97,507.88 L103.44,507.65 L103.91,507.43 L104.38,507.20 L104.85,506.98 L105.32,506.75 L105.79,506.53 L106.26,506.32 L106.74,506.11 L107.21,505.90 L107.68,505.69 L108.15,505.49 L108.62,505.29 L109.09,505.09 L109.56,504.89 L110.03,504.69 L110.50,504.49 L110.97,504.29 L111.44,504.10 L111.92,503.90 L112.39,503.70 L112.86,503.51 L113.33,503.31 L113.80,503.12 L114.27,502.92 L114.74,502.73 L115.21,502.54 L115.68,502.34 L116.15,502.15 L116.63,501.96 L117.10,501.77 L117.57,501.58 L118.04,501.40 L118.51,501.21 L118.98,501.03 L119.45,500.84 L119.92,500.66 L120.39,500.48 L120.86,500.30 L121.33,500.11 L121.81,499.91 L122.28,499.68 L122.75,499.43 L123.22,499.16 L123.69,498.88 L124.16,498.59 L124.63,498.30 L125.10,498.01 L125.57,497.73 L126.04,497.45 L126.51,497.19 L126.99,496.95 L127.46,496.74 L127.93,496.57 L128.40,496.43 L128.87,496.33 L129.34,496.27 L129.81,496.26 L130.28,496.30 L130.75,496.38 L131.22,496.51 L131.69,496.68 L132.17,496.88 L132.64,497.10 L133.11,497.36 L133.58,497.64 L134.05,497.94 L134.52,498.26 L134.99,498.59 L135.46,498.93 L135.93,499.28 L136.40,499.62 L136.87,499.96 L137.35,500.29 L137.82,500.60 L138.29,500.90 L138.76,501.17 L139.23,501.42 L139.70,501.64 L140.17,501.81 L140.64,501.94 L141.11,501.98 L141.58,501.95 L142.06,501.87 L142.53,501.73 L143.00,501.56 L143.47,501.36 L143.94,501.16 L144.41,500.96 L144.88,500.78 L145.35,500.63 L145.82,500.52 L146.29,500.46 L146.76,500.47 L147.24,500.56 L147.71,500.74 L148.18,501.01 L148.65,501.37 L149.12,501.80 L149.59,502.30 L150.06,502.85 L150.53,503.45 L151.00,504.08 L151.47,504.74 L151.94,505.41 L152.42,506.09 L152.89,506.76 L153.36,507.45 L153.83,508.23 L154.30,509.11 L154.77,510.05 L155.24,511.04 L155.71,512.06 L156.18,513.08 L156.65,514.08 L157.12,515.05 L157.60,515.96 L158.07,516.79 L158.54,517.62 L159.01,518.45 L159.48,519.28 L159.95,520.11 L160.42,520.94 L160.89,521.76 L161.36,522.55 L161.83,523.30 L162.31,524.00 L162.78,524.63 L163.25,525.19 L163.72,525.66 L164.19,526.02 L164.66,526.30 L165.13,526.58 L165.60,526.84 L166.07,527.09 L166.54,527.32 L167.01,527.52 L167.49,527.68 L167.96,527.80 L168.43,527.88 L168.90,527.90 L169.37,527.90 L169.84,527.90 L170.31,527.90 L170.78,527.90 L171.25,527.90 L171.72,527.90 L172.19,527.90 L172.67,527.90 L173.14,527.90 L173.61,527.90 L174.08,527.90 L174.55,527.90 L175.02,527.90 L175.49,527.90 L175.96,527.90 L176.43,527.90 L176.90,527.90 L177.37,527.90 L177.85,527.90 L178.32,527.90 L178.79,527.90 L179.26,527.90 L179.73,527.90 L180.20,527.90 L180.67,527.90 L181.14,527.90 L181.61,527.90 L182.08,527.90 L182.55,527.90 L183.03,527.90 L183.50,527.90 L183.97,527.90 L184.44,527.90 L184.91,527.90 L185.38,527.90 L185.85,527.90 L186.32,527.90 L186.79,527.90 L187.26,527.90 L187.74,527.90 L188.21,527.90 L188.68,527.90 L189.15,527.90 L189.62,527.90 L190.09,527.90 L190.56,527.90 L191.03,527.90 L191.50,527.90 L191.97,527.90 L192.44,527.90 L192.92,527.90 L193.39,527.90 L193.86,527.90 L194.33,527.90 L194.80,527.90 L195.27,527.90 L195.74,527.90 L196.21,527.90 L196.68,527.90 L197.15,527.90 L197.62,527.90 L198.10,527.90 L198.57,527.90 L199.04,527.90 L199.51,527.90 L199.98,527.90 L200.45,527.90 L200.92,527.90 L201.39,527.90 L201.86,527.90 L202.33,527.90 L202.80,527.90 L203.28,527.90 L203.75,527.90 L204.22,527.90 L204.69,527.90 L205.16,527.90 L205.63,527.90 L206.10,527.90 L206.57,527.90 L207.04,527.90 L207.51,527.90 L207.98,527.90 L208.46,527.90 L208.93,527.90 L209.40,527.90 L209.87,527.90 L210.34,527.90 L210.81,527.90 L211.28,527.90 L211.75,527.90 L212.22,527.90 L212.69,527.90 L213.17,527.90 L213.64,527.90 L214.11,527.90 L214.58,527.90 L215.05,527.90 L215.52,527.90 L215.99,527.90 L216.46,527.90 L216.93,527.90 L217.40,527.90 L217.87,527.90 L218.35,527.90 L218.82,527.90 L219.29,527.90 L219.76,527.90 L220.23,527.90 L220.70,527.90" fill="none" stroke="#f7c05f" stroke-width="1.1" stroke-linejoin="round" stroke-linecap="round" />
<path d="M32.80,523.42 L33.27,523.49 L33.74,523.55 L34.21,523.61 L34.68,523.67 L35.15,523.72 L35.63,523.77 L36.10,523.82 L36.57,523.86 L37.04,523.91 L37.51,523.95 L37.98,523.98 L38.45,524.02 L38.92,524.05 L39.39,524.08 L39.86,524.11 L40.33,524.14 L40.81,524.16 L41.28,524.18 L41.75,524.21 L42.22,524.22 L42.69,524.24 L43.16,524.26 L43.63,524.27 L44.10,524.28 L44.57,524.29 L45.04,524.30 L45.52,524.31 L45.99,524.31 L46.46,524.31 L46.93,524.32 L47.40,524.32 L47.87,524.32 L48.34,524.32 L48.81,524.31 L49.28,524.30 L49.75,524.29 L50.22,524.27 L50.70,524.24 L51.17,524.22 L51.64,524.19 L52.11,524.16 L52.58,524.12 L53.05,524.08 L53.52,524.04 L53.99,523.99 L54.46,523.94 L54.93,523.89 L55.40,523.83 L55.88,523.78 L56.35,523.72 L56.82,523.65 L57.29,523.59 L57.76,523.52 L58.23,523.45 L58.70,523.38 L59.17,523.30 L59.64,523.22 L60.11,523.15 L60.58,523.06 L61.06,522.98 L61.53,522.90 L62.00,522.81 L62.47,522.72 L62.94,522.64 L63.41,522.55 L63.88,522.45 L64.35,522.36 L64.82,522.27 L65.29,522.17 L65.76,522.08 L66.24,521.98 L66.71,521.89 L67.18,521.79 L67.65,521.69 L68.12,521.59 L68.59,521.49 L69.06,521.40 L69.53,521.30 L70.00,521.20 L70.47,521.08 L70.95,520.96 L71.42,520.84 L71.89,520.70 L72.36,520.56 L72.83,520.41 L73.30,520.25 L73.77,520.09 L74.24,519.92 L74.71,519.74 L75.18,519.56 L75.65,519.38 L76.13,519.19 L76.60,519.00 L77.07,518.80 L77.54,518.60 L78.01,518.40 L78.48,518.19 L78.95,517.99 L79.42,517.78 L79.89,517.57 L80.36,517.36 L80.83,517.15 L81.31,516.94 L81.78,516.74 L82.25,516.53 L82.72,516.32 L83.19,516.12 L83.66,515.92 L84.13,515.72 L84.60,515.52 L85.07,515.33 L85.54,515.14 L86.01,514.95 L86.49,514.76 L86.96,514.57 L87.43,514.39 L87.90,514.20 L88.37,514.01 L88.84,513.82 L89.31,513.63 L89.78,513.44 L90.25,513.25 L90.72,513.06 L91.19,512.86 L91.67,512.67 L92.14,512.48 L92.61,512.28 L93.08,512.09 L93.55,511.89 L94.02,511.69 L94.49,511.49 L94.96,511.29 L95.43,511.08 L95.90,510.88 L96.38,510.67 L96.85,510.47 L97.32,510.25 L97.79,510.04 L98.26,509.82 L98.73,509.59 L99.20,509.36 L99.67,509.13 L100.14,508.90 L100.61,508.67 L101.08,508.43 L101.56,508.19 L102.03,507.96 L102.50,507.72 L102.97,507.49 L103.44,507.25 L103.91,507.02 L104.38,506.79 L104.85,506.56 L105.32,506.34 L105.79,506.12 L106.26,505.90 L106.74,505.69 L107.21,505.48 L107.68,505.28 L108.15,505.09 L108.62,504.90 L109.09,504.70 L109.56,504.51 L110.03,504.31 L110.50,504.12 L110.97,503.92 L111.44,503.73 L111.92,503.54 L112.39,503.35 L112.86,503.16 L113.33,502.97 L113.80,502.78 L114.27,502.59 L114.74,502.41 L115.21,502.22 L115.68,502.04 L116.15,501.86 L116.63,501.69 L117.10,501.51 L117.57,501.34 L118.04,501.17 L118.51,501.01 L118.98,500.85 L119.45,500.69 L119.92,500.53 L120.39,500.38 L120.86,500.23 L121.33,500.09 L121.81,499.92 L122.28,499.74 L122.75,499.55 L123.22,499.34 L123.69,499.12 L124.16,498.90 L124.63,498.68 L125.10,498.46 L125.57,498.24 L126.04,498.03 L126.51,497.83 L126.99,497.66 L127.46,497.52 L127.93,497.41 L128.40,497.34 L128.87,497.29 L129.34,497.29 L129.81,497.32 L130.28,497.39 L130.75,497.51 L131.22,497.66 L131.69,497.84 L132.17,498.05 L132.64,498.28 L133.11,498.53 L133.58,498.81 L134.05,499.11 L134.52,499.43 L134.99,499.75 L135.46,500.09 L135.93,500.43 L136.40,500.78 L136.87,501.12 L137.35,501.46 L137.82,501.78 L138.29,502.10 L138.76,502.39 L139.23,502.67 L139.70,502.92 L140.17,503.14 L140.64,503.32 L141.11,503.44 L141.58,503.50 L142.06,503.51 L142.53,503.48 L143.00,503.42 L143.47,503.35 L143.94,503.26 L144.41,503.18 L144.88,503.12 L145.35,503.08 L145.82,503.08 L146.29,503.12 L146.76,503.22 L147.24,503.37 L147.71,503.60 L148.18,503.91 L148.65,504.29 L149.12,504.72 L149.59,505.21 L150.06,505.74 L150.53,506.30 L151.00,506.89 L151.47,507.50 L151.94,508.11 L152.42,508.74 L152.89,509.36 L153.36,509.99 L153.83,510.70 L154.30,511.48 L154.77,512.32 L155.24,513.19 L155.71,514.08 L156.18,514.98 L156.65,515.86 L157.12,516.70 L157.60,517.51 L158.07,518.25 L158.54,518.97 L159.01,519.70 L159.48,520.43 L159.95,521.17 L160.42,521.90 L160.89,522.63 L161.36,523.33 L161.83,524.01 L162.31,524.63 L162.78,525.19 L163.25,525.68 L163.72,526.09 L164.19,526.40 L164.66,526.62 L165.13,526.84 L165.60,527.05 L166.07,527.25 L166.54,527.43 L167.01,527.59 L167.49,527.72 L167.96,527.82 L168.43,527.88 L168.90,527.90 L169.37,527.90 L169.84,527.90 L170.31,527.90 L170.78,527.90 L171.25,527.90 L171.72,527.90 L172.19,527.90 L172.67,527.90 L173.14,527.90 L173.61,527.90 L174.08,527.90 L174.55,527.90 L175.02,527.90 L175.49,527.90 L175.96,527.90 L176.43,527.90 L176.90,527.90 L177.37,527.90 L177.85,527.90 L178.32,527.90 L178.79,527.90 L179.26,527.90 L179.73,527.90 L180.20,527.90 L180.67,527.90 L181.14,527.90 L181.61,527.90 L182.08,527.90 L182.55,527.90 L183.03,527.90 L183.50,527.90 L183.97,527.90 L184.44,527.90 L184.91,527.90 L185.38,527.90 L185.85,527.90 L186.32,527.90 L186.79,527.90 L187.26,527.90 L187.74,527.90 L188.21,527.90 L188.68,527.90 L189.15,527.90 L189.62,527.90 L190.09,527.90 L190.56,527.90 L191.03,527.90 L191.50,527.90 L191.97,527.90 L192.44,527.90 L192.92,527.90 L193.39,527.90 L193.86,527.90 L194.33,527.90 L194.80,527.90 L195.27,527.90 L195.74,527.90 L196.21,527.90 L196.68,527.90 L197.15,527.90 L197.62,527.90 L198.10,527.90 L198.57,527.90 L199.04,527.90 L199.51,527.90 L199.98,527.90 L200.45,527.90 L200.92,527.90 L201.39,527.90 L201.86,527.90 L202.33,527.90 L202.80,527.90 L203.28,527.90 L203.75,527.90 L204.22,527.90 L204.69,527.90 L205.16,527.90 L205.63,527.90 L206.10,527.90 L206.57,527.90 L207.04,527.90 L207.51,527.90 L207.98,527.90 L208.46,527.90 L208.93,527.90 L209.40,527.90 L209.87,527.90 L210.34,527.90 L210.81,527.90 L211.28,527.90 L211.75,527.90 L212.22,527.90 L212.69,527.90 L213.17,527.90 L213.64,527.90 L214.11,527.90 L214.58,527.90 L215.05,527.90 L215.52,527.90 L215.99,527.90 L216.46,527.90 L216.93,527.90 L217.40,527.90 L217.87,527.90 L218.35,527.90 L218.82,527.90 L219.29,527.90 L219.76,527.90 L220.23,527.90 L220.70,527.90" fill="none" stroke="#f6ba50" stroke-width="1.1" stroke-linejoin="round" stroke-linecap="round" />
<path d="M32.80,523.38 L33.27,523.45 L33.74,523.51 L34.21,523.57 L34.68,523.62 L35.15,523.68 L35.63,523.73 L36.10,523.78 L36.57,523.82 L37.04,523.86 L37.51,523.91 L37.98,523.94 L38.45,523.98 L38.92,524.01 L39.39,524.04 L39.86,524.07 L40.33,524.10 L40.81,524.12 L41.28,524.14 L41.75,524.16 L42.22,524.18 L42.69,524.20 L43.16,524.21 L43.63,524.23 L44.10,524.24 L44.57,524.25 L45.04,524.25 L45.52,524.26 L45.99,524.27 L46.46,524.27 L46.93,524.27 L47.40,524.27 L47.87,524.28 L48.34,524.27 L48.81,524.27 L49.28,524.25 L49.75,524.24 L50.22,524.22 L50.70,524.20 L51.17,524.17 L51.64,524.14 L52.11,524.11 L52.58,524.07 L53.05,524.03 L53.52,523.98 L53.99,523.94 L54.46,523.88 L54.93,523.83 L55.40,523.77 L55.88,523.71 L56.35,523.65 L56.82,523.59 L57.29,523.52 L57.76,523.45 L58.23,523.38 L58.70,523.30 L59.17,523.22 L59.64,523.14 L60.11,523.06 L60.58,522.98 L61.06,522.89 L61.53,522.81 L62.00,522.72 L62.47,522.63 L62.94,522.54 L63.41,522.45 L63.88,522.35 L64.35,522.26 L64.82,522.16 L65.29,522.06 L65.76,521.97 L66.24,521.87 L66.71,521.77 L67.18,521.67 L67.65,521.57 L68.12,521.47 L68.59,521.37 L69.06,521.26 L69.53,521.16 L70.00,521.06 L70.47,520.95 L70.95,520.82 L71.42,520.69 L71.89,520.55 L72.36,520.41 L72.83,520.26 L73.30,520.10 L73.77,519.93 L74.24,519.76 L74.71,519.58 L75.18,519.40 L75.65,519.21 L76.13,519.02 L76.60,518.82 L77.07,518.63 L77.54,518.42 L78.01,518.22 L78.48,518.01 L78.95,517.80 L79.42,517.59 L79.89,517.38 L80.36,517.17 L80.83,516.96 L81.31,516.75 L81.78,516.54 L82.25,516.32 L82.72,516.12 L83.19,515.91 L83.66,515.70 L84.13,515.50 L84.60,515.30 L85.07,515.11 L85.54,514.91 L86.01,514.72 L86.49,514.53 L86.96,514.34 L87.43,514.15 L87.90,513.96 L88.37,513.76 L88.84,513.57 L89.31,513.38 L89.78,513.18 L90.25,512.99 L90.72,512.79 L91.19,512.60 L91.67,512.40 L92.14,512.20 L92.61,512.00 L93.08,511.80 L93.55,511.60 L94.02,511.40 L94.49,511.19 L94.96,510.99 L95.43,510.78 L95.90,510.57 L96.38,510.36 L96.85,510.15 L97.32,509.93 L97.79,509.71 L98.26,509.49 L98.73,509.25 L99.20,509.02 L99.67,508.78 L100.14,508.54 L100.61,508.30 L101.08,508.06 L101.56,507.82 L102.03,507.57 L102.50,507.33 L102.97,507.09 L103.44,506.85 L103.91,506.61 L104.38,506.38 L104.85,506.15 L105.32,505.92 L105.79,505.70 L106.26,505.49 L106.74,505.28 L107.21,505.07 L107.68,504.88 L108.15,504.69 L108.62,504.50 L109.09,504.31 L109.56,504.12 L110.03,503.93 L110.50,503.74 L110.97,503.55 L111.44,503.36 L111.92,503.18 L112.39,502.99 L112.86,502.80 L113.33,502.62 L113.80,502.44 L114.27,502.26 L114.74,502.08 L115.21,501.91 L115.68,501.74 L116.15,501.57 L116.63,501.41 L117.10,501.25 L117.57,501.10 L118.04,500.95 L118.51,500.80 L118.98,500.66 L119.45,500.53 L119.92,500.40 L120.39,500.28 L120.86,500.17 L121.33,500.06 L121.81,499.94 L122.28,499.81 L122.75,499.67 L123.22,499.52 L123.69,499.37 L124.16,499.21 L124.63,499.05 L125.10,498.90 L125.57,498.75 L126.04,498.60 L126.51,498.48 L126.99,498.38 L127.46,498.30 L127.93,498.26 L128.40,498.24 L128.87,498.26 L129.34,498.30 L129.81,498.38 L130.28,498.49 L130.75,498.64 L131.22,498.81 L131.69,499.00 L132.17,499.22 L132.64,499.45 L133.11,499.70 L133.58,499.98 L134.05,500.28 L134.52,500.59 L134.99,500.91 L135.46,501.25 L135.93,501.59 L136.40,501.93 L136.87,502.28 L137.35,502.62 L137.82,502.96 L138.29,503.29 L138.76,503.61 L139.23,503.92 L139.70,504.21 L140.17,504.47 L140.64,504.71 L141.11,504.90 L141.58,505.04 L142.06,505.15 L142.53,505.23 L143.00,505.29 L143.47,505.33 L143.94,505.36 L144.41,505.40 L144.88,505.46 L145.35,505.54 L145.82,505.64 L146.29,505.78 L146.76,505.96 L147.24,506.19 L147.71,506.47 L148.18,506.81 L148.65,507.20 L149.12,507.64 L149.59,508.12 L150.06,508.62 L150.53,509.15 L151.00,509.70 L151.47,510.25 L151.94,510.82 L152.42,511.39 L152.89,511.95 L153.36,512.53 L153.83,513.17 L154.30,513.86 L154.77,514.58 L155.24,515.34 L155.71,516.11 L156.18,516.87 L156.65,517.63 L157.12,518.36 L157.60,519.05 L158.07,519.70 L158.54,520.33 L159.01,520.96 L159.48,521.59 L159.95,522.22 L160.42,522.87 L160.89,523.50 L161.36,524.12 L161.83,524.71 L162.31,525.26 L162.78,525.75 L163.25,526.18 L163.72,526.52 L164.19,526.77 L164.66,526.94 L165.13,527.11 L165.60,527.26 L166.07,527.41 L166.54,527.55 L167.01,527.67 L167.49,527.77 L167.96,527.84 L168.43,527.89 L168.90,527.90 L169.37,527.90 L169.84,527.90 L170.31,527.90 L170.78,527.90 L171.25,527.90 L171.72,527.90 L172.19,527.90 L172.67,527.90 L173.14,527.90 L173.61,527.90 L174.08,527.90 L174.55,527.90 L175.02,527.90 L175.49,527.90 L175.96,527.90 L176.43,527.90 L176.90,527.90 L177.37,527.90 L177.85,527.90 L178.32,527.90 L178.79,527.90 L179.26,527.90 L179.73,527.90 L180.20,527.90 L180.67,527.90 L181.14,527.90 L181.61,527.90 L182.08,527.90 L182.55,527.90 L183.03,527.90 L183.50,527.90 L183.97,527.90 L184.44,527.90 L184.91,527.90 L185.38,527.90 L185.85,527.90 L186.32,527.90 L186.79,527.90 L187.26,527.90 L187.74,527.90 L188.21,527.90 L188.68,527.90 L189.15,527.90 L189.62,527.90 L190.09,527.90 L190.56,527.90 L191.03,527.90 L191.50,527.90 L191.97,527.90 L192.44,527.90 L192.92,527.90 L193.39,527.90 L193.86,527.90 L194.33,527.90 L194.80,527.90 L195.27,527.90 L195.74,527.90 L196.21,527.90 L196.68,527.90 L197.15,527.90 L197.62,527.90 L198.10,527.90 L198.57,527.90 L199.04,527.90 L199.51,527.90 L199.98,527.90 L200.45,527.90 L200.92,527.90 L201.39,527.90 L201.86,527.90 L202.33,527.90 L202.80,527.90 L203.28,527.90 L203.75,527.90 L204.22,527.90 L204.69,527.90 L205.16,527.90 L205.63,527.90 L206.10,527.90 L206.57,527.90 L207.04,527.90 L207.51,527.90 L207.98,527.90 L208.46,527.90 L208.93,527.90 L209.40,527.90 L209.87,527.90 L210.34,527.90 L210.81,527.90 L211.28,527.90 L211.75,527.90 L212.22,527.90 L212.69,527.90 L213.17,527.90 L213.64,527.90 L214.11,527.90 L214.58,527.90 L215.05,527.90 L215.52,527.90 L215.99,527.90 L216.46,527.90 L216.93,527.90 L217.40,527.90 L217.87,527.90 L218.35,527.90 L218.82,527.90 L219.29,527.90 L219.76,527.90 L220.23,527.90 L220.70,527.90" fill="none" stroke="#f5b441" stroke-width="1.1" stroke-linejoin="round" stroke-linecap="round" />
<path d="M32.80,523.34 L33.27,523.40 L33.74,523.46 L34.21,523.52 L34.68,523.58 L35.15,523.64 L35.63,523.69 L36.10,523.74 L36.57,523.78 L37.04,523.82 L37.51,523.86 L37.98,523.90 L38.45,523.94 L38.92,523.97 L39.39,524.00 L39.86,524.03 L40.33,524.05 L40.81,524.08 L41.28,524.10 L41.75,524.12 L42.22,524.14 L42.69,524.15 L43.16,524.17 L43.63,524.18 L44.10,524.19 L44.57,524.20 L45.04,524.21 L45.52,524.22 L45.99,524.22 L46.46,524.23 L46.93,524.23 L47.40,524.23 L47.87,524.23 L48.34,524.23 L48.81,524.22 L49.28,524.21 L49.75,524.19 L50.22,524.17 L50.70,524.15 L51.17,524.12 L51.64,524.09 L52.11,524.06 L52.58,524.02 L53.05,523.97 L53.52,523.93 L53.99,523.88 L54.46,523.83 L54.93,523.77 L55.40,523.71 L55.88,523.65 L56.35,523.59 L56.82,523.52 L57.29,523.45 L57.76,523.38 L58.23,523.30 L58.70,523.23 L59.17,523.15 L59.64,523.06 L60.11,522.98 L60.58,522.90 L61.06,522.81 L61.53,522.72 L62.00,522.63 L62.47,522.54 L62.94,522.44 L63.41,522.35 L63.88,522.25 L64.35,522.15 L64.82,522.05 L65.29,521.95 L65.76,521.85 L66.24,521.75 L66.71,521.65 L67.18,521.55 L67.65,521.44 L68.12,521.34 L68.59,521.24 L69.06,521.13 L69.53,521.03 L70.00,520.92 L70.47,520.81 L70.95,520.68 L71.42,520.55 L71.89,520.41 L72.36,520.26 L72.83,520.10 L73.30,519.94 L73.77,519.77 L74.24,519.60 L74.71,519.42 L75.18,519.24 L75.65,519.05 L76.13,518.85 L76.60,518.65 L77.07,518.45 L77.54,518.25 L78.01,518.04 L78.48,517.83 L78.95,517.62 L79.42,517.41 L79.89,517.19 L80.36,516.98 L80.83,516.76 L81.31,516.55 L81.78,516.33 L82.25,516.12 L82.72,515.91 L83.19,515.70 L83.66,515.49 L84.13,515.29 L84.60,515.08 L85.07,514.88 L85.54,514.69 L86.01,514.49 L86.49,514.30 L86.96,514.10 L87.43,513.91 L87.90,513.71 L88.37,513.52 L88.84,513.32 L89.31,513.12 L89.78,512.93 L90.25,512.73 L90.72,512.53 L91.19,512.33 L91.67,512.13 L92.14,511.93 L92.61,511.72 L93.08,511.52 L93.55,511.31 L94.02,511.11 L94.49,510.90 L94.96,510.69 L95.43,510.48 L95.90,510.27 L96.38,510.05 L96.85,509.84 L97.32,509.62 L97.79,509.39 L98.26,509.16 L98.73,508.92 L99.20,508.68 L99.67,508.43 L100.14,508.19 L100.61,507.94 L101.08,507.69 L101.56,507.44 L102.03,507.19 L102.50,506.94 L102.97,506.69 L103.44,506.45 L103.91,506.21 L104.38,505.97 L104.85,505.74 L105.32,505.51 L105.79,505.29 L106.26,505.07 L106.74,504.86 L107.21,504.66 L107.68,504.47 L108.15,504.29 L108.62,504.11 L109.09,503.92 L109.56,503.74 L110.03,503.55 L110.50,503.37 L110.97,503.18 L111.44,503.00 L111.92,502.81 L112.39,502.63 L112.86,502.45 L113.33,502.27 L113.80,502.10 L114.27,501.93 L114.74,501.76 L115.21,501.60 L115.68,501.44 L116.15,501.28 L116.63,501.13 L117.10,500.99 L117.57,500.85 L118.04,500.72 L118.51,500.60 L118.98,500.48 L119.45,500.38 L119.92,500.28 L120.39,500.19 L120.86,500.10 L121.33,500.03 L121.81,499.95 L122.28,499.87 L122.75,499.79 L123.22,499.70 L123.69,499.61 L124.16,499.52 L124.63,499.43 L125.10,499.34 L125.57,499.26 L126.04,499.18 L126.51,499.12 L126.99,499.09 L127.46,499.08 L127.93,499.10 L128.40,499.15 L128.87,499.22 L129.34,499.32 L129.81,499.44 L130.28,499.59 L130.75,499.76 L131.22,499.95 L131.69,500.16 L132.17,500.39 L132.64,500.62 L133.11,500.88 L133.58,501.15 L134.05,501.44 L134.52,501.75 L134.99,502.07 L135.46,502.41 L135.93,502.75 L136.40,503.09 L136.87,503.44 L137.35,503.79 L137.82,504.14 L138.29,504.49 L138.76,504.83 L139.23,505.17 L139.70,505.49 L140.17,505.80 L140.64,506.09 L141.11,506.35 L141.58,506.58 L142.06,506.79 L142.53,506.98 L143.00,507.15 L143.47,507.31 L143.94,507.46 L144.41,507.63 L144.88,507.80 L145.35,507.99 L145.82,508.20 L146.29,508.44 L146.76,508.71 L147.24,509.01 L147.71,509.34 L148.18,509.72 L148.65,510.12 L149.12,510.56 L149.59,511.02 L150.06,511.50 L150.53,512.00 L151.00,512.50 L151.47,513.01 L151.94,513.52 L152.42,514.04 L152.89,514.55 L153.36,515.07 L153.83,515.63 L154.30,516.23 L154.77,516.85 L155.24,517.48 L155.71,518.13 L156.18,518.77 L156.65,519.40 L157.12,520.02 L157.60,520.60 L158.07,521.15 L158.54,521.69 L159.01,522.22 L159.48,522.75 L159.95,523.28 L160.42,523.83 L160.89,524.38 L161.36,524.91 L161.83,525.42 L162.31,525.90 L162.78,526.32 L163.25,526.67 L163.72,526.96 L164.19,527.15 L164.66,527.26 L165.13,527.37 L165.60,527.48 L166.07,527.58 L166.54,527.67 L167.01,527.75 L167.49,527.81 L167.96,527.86 L168.43,527.89 L168.90,527.90 L169.37,527.90 L169.84,527.90 L170.31,527.90 L170.78,527.90 L171.25,527.90 L171.72,527.90 L172.19,527.90 L172.67,527.90 L173.14,527.90 L173.61,527.90 L174.08,527.90 L174.55,527.90 L175.02,527.90 L175.49,527.90 L175.96,527.90 L176.43,527.90 L176.90,527.90 L177.37,527.90 L177.85,527.90 L178.32,527.90 L178.79,527.90 L179.26,527.90 L179.73,527.90 L180.20,527.90 L180.67,527.90 L181.14,527.90 L181.61,527.90 L182.08,527.90 L182.55,527.90 L183.03,527.90 L183.50,527.90 L183.97,527.90 L184.44,527.90 L184.91,527.90 L185.38,527.90 L185.85,527.90 L186.32,527.90 L186.79,527.90 L187.26,527.90 L187.74,527.90 L188.21,527.90 L188.68,527.90 L189.15,527.90 L189.62,527.90 L190.09,527.90 L190.56,527.90 L191.03,527.90 L191.50,527.90 L191.97,527.90 L192.44,527.90 L192.92,527.90 L193.39,527.90 L193.86,527.90 L194.33,527.90 L194.80,527.90 L195.27,527.90 L195.74,527.90 L196.21,527.90 L196.68,527.90 L197.15,527.90 L197.62,527.90 L198.10,527.90 L198.57,527.90 L199.04,527.90 L199.51,527.90 L199.98,527.90 L200.45,527.90 L200.92,527.90 L201.39,527.90 L201.86,527.90 L202.33,527.90 L202.80,527.90 L203.28,527.90 L203.75,527.90 L204.22,527.90 L204.69,527.90 L205.16,527.90 L205.63,527.90 L206.10,527.90 L206.57,527.90 L207.04,527.90 L207.51,527.90 L207.98,527.90 L208.46,527.90 L208.93,527.90 L209.40,527.90 L209.87,527.90 L210.34,527.90 L210.81,527.90 L211.28,527.90 L211.75,527.90 L212.22,527.90 L212.69,527.90 L213.17,527.90 L213.64,527.90 L214.11,527.90 L214.58,527.90 L215.05,527.90 L215.52,527.90 L215.99,527.90 L216.46,527.90 L216.93,527.90 L217.40,527.90 L217.87,527.90 L218.35,527.90 L218.82,527.90 L219.29,527.90 L219.76,527.90 L220.23,527.90 L220.70,527.90" fill="none" stroke="#f4ad32" stroke-width="1.1" stroke-linejoin="round" stroke-linecap="round" />
<path d="M32.80,523.29 L33.27,523.36 L33.74,523.42 L34.21,523.48 L34.68,523.54 L35.15,523.59 L35.63,523.65 L36.10,523.69 L36.57,523.74 L37.04,523.78 L37.51,523.82 L37.98,523.86 L38.45,523.90 L38.92,523.93 L39.39,523.96 L39.86,523.99 L40.33,524.01 L40.81,524.04 L41.28,524.06 L41.75,524.08 L42.22,524.10 L42.69,524.11 L43.16,524.13 L43.63,524.14 L44.10,524.15 L44.57,524.16 L45.04,524.17 L45.52,524.17 L45.99,524.18 L46.46,524.18 L46.93,524.18 L47.40,524.19 L47.87,524.19 L48.34,524.18 L48.81,524.18 L49.28,524.16 L49.75,524.15 L50.22,524.13 L50.70,524.10 L51.17,524.07 L51.64,524.04 L52.11,524.01 L52.58,523.97 L53.05,523.92 L53.52,523.87 L53.99,523.82 L54.46,523.77 L54.93,523.71 L55.40,523.65 L55.88,523.59 L56.35,523.52 L56.82,523.45 L57.29,523.38 L57.76,523.31 L58.23,523.23 L58.70,523.15 L59.17,523.07 L59.64,522.99 L60.11,522.90 L60.58,522.81 L61.06,522.72 L61.53,522.63 L62.00,522.54 L62.47,522.44 L62.94,522.34 L63.41,522.25 L63.88,522.15 L64.35,522.05 L64.82,521.95 L65.29,521.84 L65.76,521.74 L66.24,521.64 L66.71,521.53 L67.18,521.43 L67.65,521.32 L68.12,521.22 L68.59,521.11 L69.06,521.00 L69.53,520.90 L70.00,520.79 L70.47,520.67 L70.95,520.54 L71.42,520.41 L71.89,520.26 L72.36,520.11 L72.83,519.95 L73.30,519.79 L73.77,519.62 L74.24,519.44 L74.71,519.26 L75.18,519.07 L75.65,518.88 L76.13,518.68 L76.60,518.48 L77.07,518.28 L77.54,518.07 L78.01,517.86 L78.48,517.65 L78.95,517.44 L79.42,517.22 L79.89,517.00 L80.36,516.79 L80.83,516.57 L81.31,516.35 L81.78,516.13 L82.25,515.92 L82.72,515.70 L83.19,515.49 L83.66,515.28 L84.13,515.07 L84.60,514.87 L85.07,514.66 L85.54,514.46 L86.01,514.27 L86.49,514.07 L86.96,513.87 L87.43,513.67 L87.90,513.47 L88.37,513.27 L88.84,513.07 L89.31,512.87 L89.78,512.67 L90.25,512.47 L90.72,512.26 L91.19,512.06 L91.67,511.86 L92.14,511.65 L92.61,511.44 L93.08,511.23 L93.55,511.03 L94.02,510.82 L94.49,510.60 L94.96,510.39 L95.43,510.18 L95.90,509.96 L96.38,509.74 L96.85,509.52 L97.32,509.30 L97.79,509.06 L98.26,508.83 L98.73,508.58 L99.20,508.33 L99.67,508.08 L100.14,507.83 L100.61,507.57 L101.08,507.32 L101.56,507.06 L102.03,506.80 L102.50,506.55 L102.97,506.30 L103.44,506.05 L103.91,505.80 L104.38,505.56 L104.85,505.32 L105.32,505.09 L105.79,504.87 L106.26,504.66 L106.74,504.45 L107.21,504.25 L107.68,504.07 L108.15,503.89 L108.62,503.71 L109.09,503.53 L109.56,503.35 L110.03,503.17 L110.50,502.99 L110.97,502.81 L111.44,502.63 L111.92,502.45 L112.39,502.27 L112.86,502.10 L113.33,501.93 L113.80,501.76 L114.27,501.60 L114.74,501.44 L115.21,501.28 L115.68,501.13 L116.15,500.99 L116.63,500.86 L117.10,500.73 L117.57,500.61 L118.04,500.50 L118.51,500.40 L118.98,500.30 L119.45,500.22 L119.92,500.15 L120.39,500.09 L120.86,500.04 L121.33,500.00 L121.81,499.97 L122.28,499.94 L122.75,499.91 L123.22,499.88 L123.69,499.85 L124.16,499.83 L124.63,499.81 L125.10,499.79 L125.57,499.77 L126.04,499.76 L126.51,499.77 L126.99,499.80 L127.46,499.86 L127.93,499.95 L128.40,500.05 L128.87,500.18 L129.34,500.33 L129.81,500.50 L130.28,500.69 L130.75,500.89 L131.22,501.10 L131.69,501.33 L132.17,501.56 L132.64,501.79 L133.11,502.05 L133.58,502.32 L134.05,502.61 L134.52,502.92 L134.99,503.23 L135.46,503.56 L135.93,503.90 L136.40,504.25 L136.87,504.60 L137.35,504.96 L137.82,505.32 L138.29,505.69 L138.76,506.05 L139.23,506.42 L139.70,506.78 L140.17,507.13 L140.64,507.48 L141.11,507.81 L141.58,508.13 L142.06,508.43 L142.53,508.73 L143.00,509.01 L143.47,509.29 L143.94,509.56 L144.41,509.85 L144.88,510.14 L145.35,510.45 L145.82,510.77 L146.29,511.10 L146.76,511.45 L147.24,511.82 L147.71,512.21 L148.18,512.62 L148.65,513.04 L149.12,513.48 L149.59,513.93 L150.06,514.39 L150.53,514.85 L151.00,515.31 L151.47,515.77 L151.94,516.23 L152.42,516.69 L152.89,517.15 L153.36,517.61 L153.83,518.10 L154.30,518.60 L154.77,519.11 L155.24,519.63 L155.71,520.15 L156.18,520.67 L156.65,521.18 L157.12,521.67 L157.60,522.15 L158.07,522.60 L158.54,523.04 L159.01,523.48 L159.48,523.90 L159.95,524.34 L160.42,524.79 L160.89,525.25 L161.36,525.70 L161.83,526.13 L162.31,526.53 L162.78,526.88 L163.25,527.17 L163.72,527.39 L164.19,527.52 L164.66,527.58 L165.13,527.64 L165.60,527.69 L166.07,527.74 L166.54,527.78 L167.01,527.82 L167.49,527.86 L167.96,527.88 L168.43,527.90 L168.90,527.90 L169.37,527.90 L169.84,527.90 L170.31,527.90 L170.78,527.90 L171.25,527.90 L171.72,527.90 L172.19,527.90 L172.67,527.90 L173.14,527.90 L173.61,527.90 L174.08,527.90 L174.55,527.90 L175.02,527.90 L175.49,527.90 L175.96,527.90 L176.43,527.90 L176.90,527.90 L177.37,527.90 L177.85,527.90 L178.32,527.90 L178.79,527.90 L179.26,527.90 L179.73,527.90 L180.20,527.90 L180.67,527.90 L181.14,527.90 L181.61,527.90 L182.08,527.90 L182.55,527.90 L183.03,527.90 L183.50,527.90 L183.97,527.90 L184.44,527.90 L184.91,527.90 L185.38,527.90 L185.85,527.90 L186.32,527.90 L186.79,527.90 L187.26,527.90 L187.74,527.90 L188.21,527.90 L188.68,527.90 L189.15,527.90 L189.62,527.90 L190.09,527.90 L190.56,527.90 L191.03,527.90 L191.50,527.90 L191.97,527.90 L192.44,527.90 L192.92,527.90 L193.39,527.90 L193.86,527.90 L194.33,527.90 L194.80,527.90 L195.27,527.90 L195.74,527.90 L196.21,527.90 L196.68,527.90 L197.15,527.90 L197.62,527.90 L198.10,527.90 L198.57,527.90 L199.04,527.90 L199.51,527.90 L199.98,527.90 L200.45,527.90 L200.92,527.90 L201.39,527.90 L201.86,527.90 L202.33,527.90 L202.80,527.90 L203.28,527.90 L203.75,527.90 L204.22,527.90 L204.69,527.90 L205.16,527.90 L205.63,527.90 L206.10,527.90 L206.57,527.90 L207.04,527.90 L207.51,527.90 L207.98,527.90 L208.46,527.90 L208.93,527.90 L209.40,527.90 L209.87,527.90 L210.34,527.90 L210.81,527.90 L211.28,527.90 L211.75,527.90 L212.22,527.90 L212.69,527.90 L213.17,527.90 L213.64,527.90 L214.11,527.90 L214.58,527.90 L215.05,527.90 L215.52,527.90 L215.99,527.90 L216.46,527.90 L216.93,527.90 L217.40,527.90 L217.87,527.90 L218.35,527.90 L218.82,527.90 L219.29,527.90 L219.76,527.90 L220.23,527.90 L220.70,527.90" fill="none" stroke="#f3a623" stroke-width="1.1" stroke-linejoin="round" stroke-linecap="round" />
<path d="M32.80,523.25 L33.27,523.31 L33.74,523.38 L34.21,523.44 L34.68,523.50 L35.15,523.55 L35.63,523.60 L36.10,523.65 L36.57,523.70 L37.04,523.74 L37.51,523.78 L37.98,523.82 L38.45,523.86 L38.92,523.89 L39.39,523.92 L39.86,523.95 L40.33,523.97 L40.81,524.00 L41.28,524.02 L41.75,524.04 L42.22,524.05 L42.69,524.07 L43.16,524.08 L43.63,524.10 L44.10,524.11 L44.57,524.11 L45.04,524.12 L45.52,524.13 L45.99,524.13 L46.46,524.14 L46.93,524.14 L47.40,524.14 L47.87,524.14 L48.34,524.14 L48.81,524.13 L49.28,524.12 L49.75,524.10 L50.22,524.08 L50.70,524.06 L51.17,524.03 L51.64,523.99 L52.11,523.96 L52.58,523.91 L53.05,523.87 L53.52,523.82 L53.99,523.77 L54.46,523.71 L54.93,523.65 L55.40,523.59 L55.88,523.53 L56.35,523.46 L56.82,523.39 L57.29,523.31 L57.76,523.24 L58.23,523.16 L58.70,523.08 L59.17,522.99 L59.64,522.91 L60.11,522.82 L60.58,522.73 L61.06,522.63 L61.53,522.54 L62.00,522.44 L62.47,522.35 L62.94,522.25 L63.41,522.15 L63.88,522.05 L64.35,521.94 L64.82,521.84 L65.29,521.73 L65.76,521.63 L66.24,521.52 L66.71,521.41 L67.18,521.31 L67.65,521.20 L68.12,521.09 L68.59,520.98 L69.06,520.87 L69.53,520.76 L70.00,520.65 L70.47,520.53 L70.95,520.40 L71.42,520.26 L71.89,520.12 L72.36,519.96 L72.83,519.80 L73.30,519.64 L73.77,519.46 L74.24,519.28 L74.71,519.10 L75.18,518.91 L75.65,518.71 L76.13,518.51 L76.60,518.31 L77.07,518.11 L77.54,517.90 L78.01,517.68 L78.48,517.47 L78.95,517.25 L79.42,517.03 L79.89,516.81 L80.36,516.59 L80.83,516.37 L81.31,516.15 L81.78,515.93 L82.25,515.71 L82.72,515.50 L83.19,515.28 L83.66,515.07 L84.13,514.86 L84.60,514.65 L85.07,514.44 L85.54,514.24 L86.01,514.04 L86.49,513.84 L86.96,513.64 L87.43,513.43 L87.90,513.23 L88.37,513.03 L88.84,512.82 L89.31,512.62 L89.78,512.41 L90.25,512.21 L90.72,512.00 L91.19,511.79 L91.67,511.58 L92.14,511.37 L92.61,511.16 L93.08,510.95 L93.55,510.74 L94.02,510.52 L94.49,510.31 L94.96,510.09 L95.43,509.87 L95.90,509.65 L96.38,509.43 L96.85,509.21 L97.32,508.98 L97.79,508.74 L98.26,508.50 L98.73,508.25 L99.20,507.99 L99.67,507.73 L100.14,507.47 L100.61,507.21 L101.08,506.95 L101.56,506.68 L102.03,506.42 L102.50,506.16 L102.97,505.90 L103.44,505.65 L103.91,505.39 L104.38,505.15 L104.85,504.91 L105.32,504.68 L105.79,504.45 L106.26,504.24 L106.74,504.04 L107.21,503.84 L107.68,503.66 L108.15,503.49 L108.62,503.32 L109.09,503.14 L109.56,502.97 L110.03,502.79 L110.50,502.62 L110.97,502.44 L111.44,502.26 L111.92,502.09 L112.39,501.92 L112.86,501.75 L113.33,501.58 L113.80,501.42 L114.27,501.26 L114.74,501.11 L115.21,500.97 L115.68,500.83 L116.15,500.70 L116.63,500.58 L117.10,500.47 L117.57,500.37 L118.04,500.27 L118.51,500.19 L118.98,500.12 L119.45,500.07 L119.92,500.02 L120.39,499.99 L120.86,499.98 L121.33,499.98 L121.81,499.99 L122.28,500.00 L122.75,500.03 L123.22,500.06 L123.69,500.09 L124.16,500.13 L124.63,500.18 L125.10,500.23 L125.57,500.28 L126.04,500.34 L126.51,500.41 L126.99,500.51 L127.46,500.64 L127.93,500.79 L128.40,500.96 L128.87,501.14 L129.34,501.35 L129.81,501.56 L130.28,501.78 L130.75,502.01 L131.22,502.25 L131.69,502.49 L132.17,502.73 L132.64,502.97 L133.11,503.22 L133.58,503.49 L134.05,503.78 L134.52,504.08 L134.99,504.39 L135.46,504.72 L135.93,505.06 L136.40,505.41 L136.87,505.76 L137.35,506.13 L137.82,506.50 L138.29,506.89 L138.76,507.27 L139.23,507.67 L139.70,508.06 L140.17,508.46 L140.64,508.86 L141.11,509.27 L141.58,509.67 L142.06,510.07 L142.53,510.48 L143.00,510.87 L143.47,511.27 L143.94,511.67 L144.41,512.07 L144.88,512.48 L145.35,512.90 L145.82,513.33 L146.29,513.76 L146.76,514.20 L147.24,514.64 L147.71,515.08 L148.18,515.52 L148.65,515.96 L149.12,516.40 L149.59,516.84 L150.06,517.27 L150.53,517.69 L151.00,518.11 L151.47,518.52 L151.94,518.93 L152.42,519.34 L152.89,519.75 L153.36,520.16 L153.83,520.57 L154.30,520.97 L154.77,521.38 L155.24,521.78 L155.71,522.18 L156.18,522.57 L156.65,522.95 L157.12,523.33 L157.60,523.70 L158.07,524.05 L158.54,524.40 L159.01,524.74 L159.48,525.06 L159.95,525.40 L160.42,525.75 L160.89,526.12 L161.36,526.49 L161.83,526.84 L162.31,527.16 L162.78,527.44 L163.25,527.67 L163.72,527.82 L164.19,527.90 L164.66,527.90 L165.13,527.90 L165.60,527.90 L166.07,527.90 L166.54,527.90 L167.01,527.90 L167.49,527.90 L167.96,527.90 L168.43,527.90 L168.90,527.90 L169.37,527.90 L169.84,527.90 L170.31,527.90 L170.78,527.90 L171.25,527.90 L171.72,527.90 L172.19,527.90 L172.67,527.90 L173.14,527.90 L173.61,527.90 L174.08,527.90 L174.55,527.90 L175.02,527.90 L175.49,527.90 L175.96,527.90 L176.43,527.90 L176.90,527.90 L177.37,527.90 L177.85,527.90 L178.32,527.90 L178.79,527.90 L179.26,527.90 L179.73,527.90 L180.20,527.90 L180.67,527.90 L181.14,527.90 L181.61,527.90 L182.08,527.90 L182.55,527.90 L183.03,527.90 L183.50,527.90 L183.97,527.90 L184.44,527.90 L184.91,527.90 L185.38,527.90 L185.85,527.90 L186.32,527.90 L186.79,527.90 L187.26,527.90 L187.74,527.90 L188.21,527.90 L188.68,527.90 L189.15,527.90 L189.62,527.90 L190.09,527.90 L190.56,527.90 L191.03,527.90 L191.50,527.90 L191.97,527.90 L192.44,527.90 L192.92,527.90 L193.39,527.90 L193.86,527.90 L194.33,527.90 L194.80,527.90 L195.27,527.90 L195.74,527.90 L196.21,527.90 L196.68,527.90 L197.15,527.90 L197.62,527.90 L198.10,527.90 L198.57,527.90 L199.04,527.90 L199.51,527.90 L199.98,527.90 L200.45,527.90 L200.92,527.90 L201.39,527.90 L201.86,527.90 L202.33,527.90 L202.80,527.90 L203.28,527.90 L203.75,527.90 L204.22,527.90 L204.69,527.90 L205.16,527.90 L205.63,527.90 L206.10,527.90 L206.57,527.90 L207.04,527.90 L207.51,527.90 L207.98,527.90 L208.46,527.90 L208.93,527.90 L209.40,527.90 L209.87,527.90 L210.34,527.90 L210.81,527.90 L211.28,527.90 L211.75,527.90 L212.22,527.90 L212.69,527.90 L213.17,527.90 L213.64,527.90 L214.11,527.90 L214.58,527.90 L215.05,527.90 L215.52,527.90 L215.99,527.90 L216.46,527.90 L216.93,527.90 L217.40,527.90 L217.87,527.90 L218.35,527.90 L218.82,527.90 L219.29,527.90 L219.76,527.90 L220.23,527.90 L220.70,527.90" fill="none" stroke="#f2a014" stroke-width="1.1" stroke-linejoin="round" stroke-linecap="round" />
<path d="M32.80,566.65 L33.27,566.74 L33.74,566.82 L34.21,566.90 L34.68,566.98 L35.15,567.05 L35.63,567.11 L36.10,567.18 L36.57,567.24 L37.04,567.29 L37.51,567.35 L37.98,567.40 L38.45,567.45 L38.92,567.49 L39.39,567.53 L39.86,567.57 L40.33,567.61 L40.81,567.64 L41.28,567.67 L41.75,567.70 L42.22,567.72 L42.69,567.74 L43.16,567.76 L43.63,567.78 L44.10,567.80 L44.57,567.81 L45.04,567.82 L45.52,567.83 L45.99,567.84 L46.46,567.84 L46.93,567.85 L47.40,567.85 L47.87,567.85 L48.34,567.85 L48.81,567.83 L49.28,567.82 L49.75,567.79 L50.22,567.76 L50.70,567.72 L51.17,567.68 L51.64,567.64 L52.11,567.58 L52.58,567.53 L53.05,567.47 L53.52,567.41 L53.99,567.34 L54.46,567.28 L54.93,567.21 L55.40,567.14 L55.88,567.07 L56.35,567.00 L56.82,566.92 L57.29,566.85 L57.76,566.78 L58.23,566.71 L58.70,566.64 L59.17,566.58 L59.64,566.51 L60.11,566.45 L60.58,566.39 L61.06,566.32 L61.53,566.26 L62.00,566.20 L62.47,566.13 L62.94,566.07 L63.41,566.00 L63.88,565.94 L64.35,565.87 L64.82,565.80 L65.29,565.74 L65.76,565.67 L66.24,565.60 L66.71,565.53 L67.18,565.46 L67.65,565.39 L68.12,565.32 L68.59,565.25 L69.06,565.18 L69.53,565.10 L70.00,565.03 L70.47,564.96 L70.95,564.88 L71.42,564.81 L71.89,564.73 L72.36,564.66 L72.83,564.58 L73.30,564.50 L73.77,564.42 L74.24,564.34 L74.71,564.26 L75.18,564.18 L75.65,564.10 L76.13,564.02 L76.60,563.94 L77.07,563.85 L77.54,563.77 L78.01,563.68 L78.48,563.60 L78.95,563.51 L79.42,563.42 L79.89,563.34 L80.36,563.25 L80.83,563.16 L81.31,563.07 L81.78,562.98 L82.25,562.88 L82.72,562.79 L83.19,562.70 L83.66,562.60 L84.13,562.50 L84.60,562.41 L85.07,562.31 L85.54,562.21 L86.01,562.11 L86.49,562.01 L86.96,561.90 L87.43,561.80 L87.90,561.69 L88.37,561.58 L88.84,561.48 L89.31,561.37 L89.78,561.26 L90.25,561.14 L90.72,561.03 L91.19,560.92 L91.67,560.80 L92.14,560.68 L92.61,560.56 L93.08,560.45 L93.55,560.32 L94.02,560.20 L94.49,560.08 L94.96,559.95 L95.43,559.83 L95.90,559.70 L96.38,559.57 L96.85,559.45 L97.32,559.31 L97.79,559.18 L98.26,559.05 L98.73,558.92 L99.20,558.78 L99.67,558.64 L100.14,558.51 L100.61,558.37 L101.08,558.23 L101.56,558.09 L102.03,557.95 L102.50,557.80 L102.97,557.66 L103.44,557.51 L103.91,557.36 L104.38,557.22 L104.85,557.07 L105.32,556.92 L105.79,556.76 L106.26,556.61 L106.74,556.46 L107.21,556.30 L107.68,556.15 L108.15,555.99 L108.62,555.83 L109.09,555.66 L109.56,555.49 L110.03,555.32 L110.50,555.14 L110.97,554.97 L111.44,554.78 L111.92,554.60 L112.39,554.41 L112.86,554.22 L113.33,554.02 L113.80,553.83 L114.27,553.63 L114.74,553.43 L115.21,553.22 L115.68,553.02 L116.15,552.81 L116.63,552.61 L117.10,552.40 L117.57,552.19 L118.04,551.98 L118.51,551.76 L118.98,551.55 L119.45,551.34 L119.92,551.12 L120.39,550.91 L120.86,550.69 L121.33,550.48 L121.81,550.27 L122.28,550.06 L122.75,549.85 L123.22,549.63 L123.69,549.41 L124.16,549.19 L124.63,548.95 L125.10,548.70 L125.57,548.44 L126.04,548.16 L126.51,547.83 L126.99,547.45 L127.46,547.02 L127.93,546.54 L128.40,546.04 L128.87,545.51 L129.34,544.98 L129.81,544.43 L130.28,543.90 L130.75,543.38 L131.22,542.88 L131.69,542.41 L132.17,541.99 L132.64,541.62 L133.11,541.31 L133.58,541.07 L134.05,540.91 L134.52,540.84 L134.99,540.88 L135.46,541.07 L135.93,541.38 L136.40,541.81 L136.87,542.33 L137.35,542.92 L137.82,543.57 L138.29,544.24 L138.76,544.93 L139.23,545.61 L139.70,546.26 L140.17,546.87 L140.64,547.41 L141.11,547.87 L141.58,548.22 L142.06,548.45 L142.53,548.53 L143.00,548.46 L143.47,548.26 L143.94,547.93 L144.41,547.51 L144.88,546.99 L145.35,546.39 L145.82,545.73 L146.29,545.03 L146.76,544.29 L147.24,543.53 L147.71,542.76 L148.18,542.00 L148.65,541.27 L149.12,540.57 L149.59,539.93 L150.06,539.35 L150.53,538.85 L151.00,538.44 L151.47,538.14 L151.94,537.97 L152.42,537.93 L152.89,538.12 L153.36,538.55 L153.83,539.19 L154.30,540.02 L154.77,541.00 L155.24,542.11 L155.71,543.34 L156.18,544.64 L156.65,545.99 L157.12,547.37 L157.60,548.75 L158.07,550.10 L158.54,551.40 L159.01,552.62 L159.48,553.74 L159.95,554.84 L160.42,556.00 L160.89,557.19 L161.36,558.39 L161.83,559.59 L162.31,560.75 L162.78,561.87 L163.25,562.92 L163.72,563.87 L164.19,564.72 L164.66,565.47 L165.13,566.22 L165.60,566.96 L166.07,567.68 L166.54,568.36 L167.01,568.99 L167.49,569.55 L167.96,570.03 L168.43,570.40 L168.90,570.66 L169.37,570.79 L169.84,570.89 L170.31,570.97 L170.78,571.03 L171.25,571.08 L171.72,571.10 L172.19,571.10 L172.67,571.10 L173.14,571.10 L173.61,571.10 L174.08,571.10 L174.55,571.10 L175.02,571.10 L175.49,571.10 L175.96,571.10 L176.43,571.10 L176.90,571.10 L177.37,571.10 L177.85,571.10 L178.32,571.10 L178.79,571.10 L179.26,571.10 L179.73,571.10 L180.20,571.10 L180.67,571.10 L181.14,571.10 L181.61,571.10 L182.08,571.10 L182.55,571.10 L183.03,571.10 L183.50,571.10 L183.97,571.10 L184.44,571.10 L184.91,571.10 L185.38,571.10 L185.85,571.10 L186.32,571.10 L186.79,571.10 L187.26,571.10 L187.74,571.10 L188.21,571.10 L188.68,571.10 L189.15,571.10 L189.62,571.10 L190.09,571.10 L190.56,571.10 L191.03,571.10 L191.50,571.10 L191.97,571.10 L192.44,571.10 L192.92,571.10 L193.39,571.10 L193.86,571.10 L194.33,571.10 L194.80,571.10 L195.27,571.10 L195.74,571.10 L196.21,571.10 L196.68,571.10 L197.15,571.10 L197.62,571.10 L198.10,571.10 L198.57,571.10 L199.04,571.10 L199.51,571.10 L199.98,571.10 L200.45,571.10 L200.92,571.10 L201.39,571.10 L201.86,571.10 L202.33,571.10 L202.80,571.10 L203.28,571.10 L203.75,571.10 L204.22,571.10 L204.69,571.10 L205.16,571.10 L205.63,571.10 L206.10,571.10 L206.57,571.10 L207.04,571.10 L207.51,571.10 L207.98,571.10 L208.46,571.10 L208.93,571.10 L209.40,571.10 L209.87,571.10 L210.34,571.10 L210.81,571.10 L211.28,571.10 L211.75,571.10 L212.22,571.10 L212.69,571.10 L213.17,571.10 L213.64,571.10 L214.11,571.10 L214.58,571.10 L215.05,571.10 L215.52,571.10 L215.99,571.10 L216.46,571.10 L216.93,571.10 L217.40,571.10 L217.87,571.10 L218.35,571.10 L218.82,571.10 L219.29,571.10 L219.76,571.10 L220.23,571.10 L220.70,571.10" fill="none" stroke="#ec96a6" stroke-width="1.2" stroke-linejoin="round" stroke-linecap="round" />
<path d="M32.80,566.65 L33.27,566.74 L33.74,566.82 L34.21,566.90 L34.68,566.98 L35.15,567.05 L35.63,567.11 L36.10,567.18 L36.57,567.24 L37.04,567.29 L37.51,567.35 L37.98,567.40 L38.45,567.45 L38.92,567.49 L39.39,567.53 L39.86,567.57 L40.33,567.61 L40.81,567.64 L41.28,567.67 L41.75,567.70 L42.22,567.72 L42.69,567.74 L43.16,567.76 L43.63,567.78 L44.10,567.80 L44.57,567.81 L45.04,567.82 L45.52,567.83 L45.99,567.84 L46.46,567.84 L46.93,567.85 L47.40,567.85 L47.87,567.85 L48.34,567.85 L48.81,567.83 L49.28,567.82 L49.75,567.79 L50.22,567.76 L50.70,567.72 L51.17,567.68 L51.64,567.64 L52.11,567.58 L52.58,567.53 L53.05,567.47 L53.52,567.41 L53.99,567.34 L54.46,567.28 L54.93,567.21 L55.40,567.14 L55.88,567.07 L56.35,567.00 L56.82,566.92 L57.29,566.85 L57.76,566.78 L58.23,566.71 L58.70,566.64 L59.17,566.58 L59.64,566.51 L60.11,566.45 L60.58,566.39 L61.06,566.32 L61.53,566.26 L62.00,566.20 L62.47,566.13 L62.94,566.07 L63.41,566.00 L63.88,565.94 L64.35,565.87 L64.82,565.80 L65.29,565.74 L65.76,565.67 L66.24,565.60 L66.71,565.53 L67.18,565.46 L67.65,565.39 L68.12,565.32 L68.59,565.25 L69.06,565.18 L69.53,565.11 L70.00,565.03 L70.47,564.96 L70.95,564.89 L71.42,564.81 L71.89,564.73 L72.36,564.66 L72.83,564.58 L73.30,564.50 L73.77,564.43 L74.24,564.35 L74.71,564.27 L75.18,564.19 L75.65,564.10 L76.13,564.02 L76.60,563.94 L77.07,563.86 L77.54,563.77 L78.01,563.69 L78.48,563.60 L78.95,563.51 L79.42,563.43 L79.89,563.34 L80.36,563.25 L80.83,563.16 L81.31,563.07 L81.78,562.98 L82.25,562.88 L82.72,562.79 L83.19,562.70 L83.66,562.60 L84.13,562.50 L84.60,562.41 L85.07,562.31 L85.54,562.21 L86.01,562.11 L86.49,562.00 L86.96,561.90 L87.43,561.79 L87.90,561.69 L88.37,561.58 L88.84,561.47 L89.31,561.36 L89.78,561.25 L90.25,561.13 L90.72,561.02 L91.19,560.90 L91.67,560.78 L92.14,560.66 L92.61,560.55 L93.08,560.42 L93.55,560.30 L94.02,560.18 L94.49,560.05 L94.96,559.93 L95.43,559.80 L95.90,559.67 L96.38,559.54 L96.85,559.41 L97.32,559.28 L97.79,559.15 L98.26,559.01 L98.73,558.88 L99.20,558.74 L99.67,558.60 L100.14,558.46 L100.61,558.32 L101.08,558.18 L101.56,558.04 L102.03,557.90 L102.50,557.75 L102.97,557.61 L103.44,557.46 L103.91,557.31 L104.38,557.16 L104.85,557.01 L105.32,556.86 L105.79,556.71 L106.26,556.56 L106.74,556.40 L107.21,556.25 L107.68,556.09 L108.15,555.93 L108.62,555.77 L109.09,555.61 L109.56,555.44 L110.03,555.27 L110.50,555.09 L110.97,554.91 L111.44,554.73 L111.92,554.55 L112.39,554.36 L112.86,554.17 L113.33,553.98 L113.80,553.78 L114.27,553.59 L114.74,553.39 L115.21,553.19 L115.68,552.98 L116.15,552.78 L116.63,552.58 L117.10,552.37 L117.57,552.16 L118.04,551.95 L118.51,551.74 L118.98,551.53 L119.45,551.32 L119.92,551.11 L120.39,550.90 L120.86,550.69 L121.33,550.48 L121.81,550.27 L122.28,550.07 L122.75,549.86 L123.22,549.65 L123.69,549.43 L124.16,549.21 L124.63,548.98 L125.10,548.74 L125.57,548.48 L126.04,548.22 L126.51,547.91 L126.99,547.54 L127.46,547.14 L127.93,546.69 L128.40,546.22 L128.87,545.73 L129.34,545.23 L129.81,544.72 L130.28,544.22 L130.75,543.73 L131.22,543.27 L131.69,542.84 L132.17,542.45 L132.64,542.10 L133.11,541.82 L133.58,541.59 L134.05,541.44 L134.52,541.38 L134.99,541.42 L135.46,541.60 L135.93,541.90 L136.40,542.31 L136.87,542.81 L137.35,543.38 L137.82,544.00 L138.29,544.65 L138.76,545.30 L139.23,545.96 L139.70,546.59 L140.17,547.17 L140.64,547.69 L141.11,548.12 L141.58,548.46 L142.06,548.68 L142.53,548.76 L143.00,548.69 L143.47,548.50 L143.94,548.21 L144.41,547.81 L144.88,547.33 L145.35,546.78 L145.82,546.17 L146.29,545.52 L146.76,544.83 L147.24,544.13 L147.71,543.42 L148.18,542.72 L148.65,542.04 L149.12,541.40 L149.59,540.80 L150.06,540.27 L150.53,539.80 L151.00,539.43 L151.47,539.15 L151.94,538.99 L152.42,538.96 L152.89,539.14 L153.36,539.55 L153.83,540.16 L154.30,540.94 L154.77,541.88 L155.24,542.94 L155.71,544.10 L156.18,545.34 L156.65,546.63 L157.12,547.95 L157.60,549.27 L158.07,550.57 L158.54,551.82 L159.01,553.00 L159.48,554.08 L159.95,555.15 L160.42,556.29 L160.89,557.46 L161.36,558.65 L161.83,559.83 L162.31,560.98 L162.78,562.09 L163.25,563.12 L163.72,564.06 L164.19,564.89 L164.66,565.62 L165.13,566.35 L165.60,567.08 L166.07,567.77 L166.54,568.44 L167.01,569.04 L167.49,569.59 L167.96,570.05 L168.43,570.41 L168.90,570.66 L169.37,570.79 L169.84,570.89 L170.31,570.97 L170.78,571.03 L171.25,571.08 L171.72,571.10 L172.19,571.10 L172.67,571.10 L173.14,571.10 L173.61,571.10 L174.08,571.10 L174.55,571.10 L175.02,571.10 L175.49,571.10 L175.96,571.10 L176.43,571.10 L176.90,571.10 L177.37,571.10 L177.85,571.10 L178.32,571.10 L178.79,571.10 L179.26,571.10 L179.73,571.10 L180.20,571.10 L180.67,571.10 L181.14,571.10 L181.61,571.10 L182.08,571.10 L182.55,571.10 L183.03,571.10 L183.50,571.10 L183.97,571.10 L184.44,571.10 L184.91,571.10 L185.38,571.10 L185.85,571.10 L186.32,571.10 L186.79,571.10 L187.26,571.10 L187.74,571.10 L188.21,571.10 L188.68,571.10 L189.15,571.10 L189.62,571.10 L190.09,571.10 L190.56,571.10 L191.03,571.10 L191.50,571.10 L191.97,571.10 L192.44,571.10 L192.92,571.10 L193.39,571.10 L193.86,571.10 L194.33,571.10 L194.80,571.10 L195.27,571.10 L195.74,571.10 L196.21,571.10 L196.68,571.10 L197.15,571.10 L197.62,571.10 L198.10,571.10 L198.57,571.10 L199.04,571.10 L199.51,571.10 L199.98,571.10 L200.45,571.10 L200.92,571.10 L201.39,571.10 L201.86,571.10 L202.33,571.10 L202.80,571.10 L203.28,571.10 L203.75,571.10 L204.22,571.10 L204.69,571.10 L205.16,571.10 L205.63,571.10 L206.10,571.10 L206.57,571.10 L207.04,571.10 L207.51,571.10 L207.98,571.10 L208.46,571.10 L208.93,571.10 L209.40,571.10 L209.87,571.10 L210.34,571.10 L210.81,571.10 L211.28,571.10 L211.75,571.10 L212.22,571.10 L212.69,571.10 L213.17,571.10 L213.64,571.10 L214.11,571.10 L214.58,571.10 L215.05,571.10 L215.52,571.10 L215.99,571.10 L216.46,571.10 L216.93,571.10 L217.40,571.10 L217.87,571.10 L218.35,571.10 L218.82,571.10 L219.29,571.10 L219.76,571.10 L220.23,571.10 L220.70,571.10" fill="none" stroke="#e68799" stroke-width="1.2" stroke-linejoin="round" stroke-linecap="round" />
<path d="M32.80,566.65 L33.27,566.74 L33.74,566.82 L34.21,566.90 L34.68,566.98 L35.15,567.05 L35.63,567.11 L36.10,567.18 L36.57,567.24 L37.04,567.29 L37.51,567.35 L37.98,567.40 L38.45,567.45 L38.92,567.49 L39.39,567.53 L39.86,567.57 L40.33,567.61 L40.81,567.64 L41.28,567.67 L41.75,567.70 L42.22,567.72 L42.69,567.74 L43.16,567.76 L43.63,567.78 L44.10,567.80 L44.57,567.81 L45.04,567.82 L45.52,567.83 L45.99,567.84 L46.46,567.84 L46.93,567.85 L47.40,567.85 L47.87,567.85 L48.34,567.85 L48.81,567.83 L49.28,567.82 L49.75,567.79 L50.22,567.76 L50.70,567.72 L51.17,567.68 L51.64,567.64 L52.11,567.58 L52.58,567.53 L53.05,567.47 L53.52,567.41 L53.99,567.34 L54.46,567.28 L54.93,567.21 L55.40,567.14 L55.88,567.07 L56.35,567.00 L56.82,566.92 L57.29,566.85 L57.76,566.78 L58.23,566.71 L58.70,566.64 L59.17,566.58 L59.64,566.51 L60.11,566.45 L60.58,566.39 L61.06,566.32 L61.53,566.26 L62.00,566.20 L62.47,566.13 L62.94,566.07 L63.41,566.00 L63.88,565.94 L64.35,565.87 L64.82,565.80 L65.29,565.74 L65.76,565.67 L66.24,565.60 L66.71,565.53 L67.18,565.46 L67.65,565.39 L68.12,565.32 L68.59,565.25 L69.06,565.18 L69.53,565.11 L70.00,565.04 L70.47,564.96 L70.95,564.89 L71.42,564.81 L71.89,564.74 L72.36,564.66 L72.83,564.58 L73.30,564.51 L73.77,564.43 L74.24,564.35 L74.71,564.27 L75.18,564.19 L75.65,564.11 L76.13,564.03 L76.60,563.94 L77.07,563.86 L77.54,563.77 L78.01,563.69 L78.48,563.60 L78.95,563.52 L79.42,563.43 L79.89,563.34 L80.36,563.25 L80.83,563.16 L81.31,563.07 L81.78,562.98 L82.25,562.88 L82.72,562.79 L83.19,562.70 L83.66,562.60 L84.13,562.50 L84.60,562.41 L85.07,562.31 L85.54,562.21 L86.01,562.10 L86.49,562.00 L86.96,561.89 L87.43,561.79 L87.90,561.68 L88.37,561.57 L88.84,561.46 L89.31,561.35 L89.78,561.23 L90.25,561.12 L90.72,561.00 L91.19,560.89 L91.67,560.77 L92.14,560.65 L92.61,560.53 L93.08,560.40 L93.55,560.28 L94.02,560.15 L94.49,560.03 L94.96,559.90 L95.43,559.77 L95.90,559.64 L96.38,559.51 L96.85,559.38 L97.32,559.24 L97.79,559.11 L98.26,558.97 L98.73,558.84 L99.20,558.70 L99.67,558.56 L100.14,558.42 L100.61,558.28 L101.08,558.13 L101.56,557.99 L102.03,557.85 L102.50,557.70 L102.97,557.55 L103.44,557.41 L103.91,557.26 L104.38,557.11 L104.85,556.96 L105.32,556.81 L105.79,556.65 L106.26,556.50 L106.74,556.34 L107.21,556.19 L107.68,556.03 L108.15,555.87 L108.62,555.71 L109.09,555.55 L109.56,555.38 L110.03,555.21 L110.50,555.04 L110.97,554.86 L111.44,554.68 L111.92,554.49 L112.39,554.31 L112.86,554.12 L113.33,553.93 L113.80,553.74 L114.27,553.54 L114.74,553.35 L115.21,553.15 L115.68,552.95 L116.15,552.75 L116.63,552.54 L117.10,552.34 L117.57,552.14 L118.04,551.93 L118.51,551.72 L118.98,551.52 L119.45,551.31 L119.92,551.10 L120.39,550.90 L120.86,550.69 L121.33,550.48 L121.81,550.28 L122.28,550.07 L122.75,549.87 L123.22,549.66 L123.69,549.45 L124.16,549.23 L124.63,549.01 L125.10,548.78 L125.57,548.53 L126.04,548.27 L126.51,547.98 L126.99,547.64 L127.46,547.25 L127.93,546.84 L128.40,546.40 L128.87,545.94 L129.34,545.47 L129.81,545.01 L130.28,544.54 L130.75,544.09 L131.22,543.67 L131.69,543.27 L132.17,542.91 L132.64,542.59 L133.11,542.32 L133.58,542.12 L134.05,541.98 L134.52,541.92 L134.99,541.96 L135.46,542.13 L135.93,542.42 L136.40,542.82 L136.87,543.29 L137.35,543.84 L137.82,544.43 L138.29,545.05 L138.76,545.68 L139.23,546.30 L139.70,546.91 L140.17,547.46 L140.64,547.96 L141.11,548.38 L141.58,548.70 L142.06,548.91 L142.53,548.98 L143.00,548.93 L143.47,548.75 L143.94,548.48 L144.41,548.12 L144.88,547.67 L145.35,547.17 L145.82,546.61 L146.29,546.01 L146.76,545.38 L147.24,544.73 L147.71,544.08 L148.18,543.44 L148.65,542.82 L149.12,542.23 L149.59,541.68 L150.06,541.18 L150.53,540.76 L151.00,540.41 L151.47,540.16 L151.94,540.01 L152.42,539.98 L152.89,540.16 L153.36,540.54 L153.83,541.12 L154.30,541.86 L154.77,542.75 L155.24,543.76 L155.71,544.87 L156.18,546.05 L156.65,547.28 L157.12,548.53 L157.60,549.80 L158.07,551.04 L158.54,552.24 L159.01,553.37 L159.48,554.42 L159.95,555.46 L160.42,556.57 L160.89,557.73 L161.36,558.90 L161.83,560.07 L162.31,561.21 L162.78,562.31 L163.25,563.33 L163.72,564.26 L164.19,565.07 L164.66,565.78 L165.13,566.49 L165.60,567.19 L166.07,567.87 L166.54,568.51 L167.01,569.10 L167.49,569.62 L167.96,570.06 L168.43,570.42 L168.90,570.66 L169.37,570.79 L169.84,570.89 L170.31,570.97 L170.78,571.03 L171.25,571.08 L171.72,571.10 L172.19,571.10 L172.67,571.10 L173.14,571.10 L173.61,571.10 L174.08,571.10 L174.55,571.10 L175.02,571.10 L175.49,571.10 L175.96,571.10 L176.43,571.10 L176.90,571.10 L177.37,571.10 L177.85,571.10 L178.32,571.10 L178.79,571.10 L179.26,571.10 L179.73,571.10 L180.20,571.10 L180.67,571.10 L181.14,571.10 L181.61,571.10 L182.08,571.10 L182.55,571.10 L183.03,571.10 L183.50,571.10 L183.97,571.10 L184.44,571.10 L184.91,571.10 L185.38,571.10 L185.85,571.10 L186.32,571.10 L186.79,571.10 L187.26,571.10 L187.74,571.10 L188.21,571.10 L188.68,571.10 L189.15,571.10 L189.62,571.10 L190.09,571.10 L190.56,571.10 L191.03,571.10 L191.50,571.10 L191.97,571.10 L192.44,571.10 L192.92,571.10 L193.39,571.10 L193.86,571.10 L194.33,571.10 L194.80,571.10 L195.27,571.10 L195.74,571.10 L196.21,571.10 L196.68,571.10 L197.15,571.10 L197.62,571.10 L198.10,571.10 L198.57,571.10 L199.04,571.10 L199.51,571.10 L199.98,571.10 L200.45,571.10 L200.92,571.10 L201.39,571.10 L201.86,571.10 L202.33,571.10 L202.80,571.10 L203.28,571.10 L203.75,571.10 L204.22,571.10 L204.69,571.10 L205.16,571.10 L205.63,571.10 L206.10,571.10 L206.57,571.10 L207.04,571.10 L207.51,571.10 L207.98,571.10 L208.46,571.10 L208.93,571.10 L209.40,571.10 L209.87,571.10 L210.34,571.10 L210.81,571.10 L211.28,571.10 L211.75,571.10 L212.22,571.10 L212.69,571.10 L213.17,571.10 L213.64,571.10 L214.11,571.10 L214.58,571.10 L215.05,571.10 L215.52,571.10 L215.99,571.10 L216.46,571.10 L216.93,571.10 L217.40,571.10 L217.87,571.10 L218.35,571.10 L218.82,571.10 L219.29,571.10 L219.76,571.10 L220.23,571.10 L220.70,571.10" fill="none" stroke="#e0798c" stroke-width="1.2" stroke-linejoin="round" stroke-linecap="round" />
<path d="M32.80,566.65 L33.27,566.74 L33.74,566.82 L34.21,566.90 L34.68,566.98 L35.15,567.05 L35.63,567.11 L36.10,567.18 L36.57,567.24 L37.04,567.29 L37.51,567.35 L37.98,567.40 L38.45,567.45 L38.92,567.49 L39.39,567.53 L39.86,567.57 L40.33,567.61 L40.81,567.64 L41.28,567.67 L41.75,567.70 L42.22,567.72 L42.69,567.74 L43.16,567.76 L43.63,567.78 L44.10,567.80 L44.57,567.81 L45.04,567.82 L45.52,567.83 L45.99,567.84 L46.46,567.84 L46.93,567.85 L47.40,567.85 L47.87,567.85 L48.34,567.85 L48.81,567.83 L49.28,567.82 L49.75,567.79 L50.22,567.76 L50.70,567.72 L51.17,567.68 L51.64,567.64 L52.11,567.58 L52.58,567.53 L53.05,567.47 L53.52,567.41 L53.99,567.34 L54.46,567.28 L54.93,567.21 L55.40,567.14 L55.88,567.07 L56.35,567.00 L56.82,566.92 L57.29,566.85 L57.76,566.78 L58.23,566.71 L58.70,566.64 L59.17,566.58 L59.64,566.51 L60.11,566.45 L60.58,566.39 L61.06,566.32 L61.53,566.26 L62.00,566.20 L62.47,566.13 L62.94,566.07 L63.41,566.00 L63.88,565.94 L64.35,565.87 L64.82,565.81 L65.29,565.74 L65.76,565.67 L66.24,565.60 L66.71,565.53 L67.18,565.46 L67.65,565.39 L68.12,565.32 L68.59,565.25 L69.06,565.18 L69.53,565.11 L70.00,565.04 L70.47,564.96 L70.95,564.89 L71.42,564.81 L71.89,564.74 L72.36,564.66 L72.83,564.59 L73.30,564.51 L73.77,564.43 L74.24,564.35 L74.71,564.27 L75.18,564.19 L75.65,564.11 L76.13,564.03 L76.60,563.94 L77.07,563.86 L77.54,563.78 L78.01,563.69 L78.48,563.61 L78.95,563.52 L79.42,563.43 L79.89,563.34 L80.36,563.25 L80.83,563.16 L81.31,563.07 L81.78,562.98 L82.25,562.89 L82.72,562.79 L83.19,562.70 L83.66,562.60 L84.13,562.50 L84.60,562.41 L85.07,562.31 L85.54,562.20 L86.01,562.10 L86.49,562.00 L86.96,561.89 L87.43,561.78 L87.90,561.67 L88.37,561.56 L88.84,561.45 L89.31,561.34 L89.78,561.22 L90.25,561.11 L90.72,560.99 L91.19,560.87 L91.67,560.75 L92.14,560.63 L92.61,560.51 L93.08,560.38 L93.55,560.26 L94.02,560.13 L94.49,560.00 L94.96,559.87 L95.43,559.74 L95.90,559.61 L96.38,559.48 L96.85,559.34 L97.32,559.21 L97.79,559.07 L98.26,558.93 L98.73,558.80 L99.20,558.66 L99.67,558.52 L100.14,558.37 L100.61,558.23 L101.08,558.09 L101.56,557.94 L102.03,557.80 L102.50,557.65 L102.97,557.50 L103.44,557.35 L103.91,557.20 L104.38,557.05 L104.85,556.90 L105.32,556.75 L105.79,556.60 L106.26,556.44 L106.74,556.29 L107.21,556.13 L107.68,555.98 L108.15,555.82 L108.62,555.66 L109.09,555.49 L109.56,555.33 L110.03,555.15 L110.50,554.98 L110.97,554.80 L111.44,554.63 L111.92,554.44 L112.39,554.26 L112.86,554.07 L113.33,553.88 L113.80,553.69 L114.27,553.50 L114.74,553.31 L115.21,553.11 L115.68,552.91 L116.15,552.71 L116.63,552.51 L117.10,552.31 L117.57,552.11 L118.04,551.91 L118.51,551.71 L118.98,551.50 L119.45,551.30 L119.92,551.09 L120.39,550.89 L120.86,550.69 L121.33,550.48 L121.81,550.28 L122.28,550.08 L122.75,549.88 L123.22,549.68 L123.69,549.47 L124.16,549.26 L124.63,549.04 L125.10,548.81 L125.57,548.58 L126.04,548.33 L126.51,548.05 L126.99,547.73 L127.46,547.37 L127.93,546.99 L128.40,546.58 L128.87,546.16 L129.34,545.72 L129.81,545.29 L130.28,544.87 L130.75,544.45 L131.22,544.06 L131.69,543.69 L132.17,543.36 L132.64,543.07 L133.11,542.83 L133.58,542.64 L134.05,542.52 L134.52,542.46 L134.99,542.50 L135.46,542.66 L135.93,542.94 L136.40,543.32 L136.87,543.77 L137.35,544.29 L137.82,544.86 L138.29,545.45 L138.76,546.05 L139.23,546.65 L139.70,547.23 L140.17,547.76 L140.64,548.23 L141.11,548.63 L141.58,548.94 L142.06,549.14 L142.53,549.21 L143.00,549.16 L143.47,549.00 L143.94,548.75 L144.41,548.42 L144.88,548.02 L145.35,547.56 L145.82,547.05 L146.29,546.50 L146.76,545.93 L147.24,545.34 L147.71,544.75 L148.18,544.16 L148.65,543.59 L149.12,543.05 L149.59,542.55 L150.06,542.10 L150.53,541.72 L151.00,541.40 L151.47,541.17 L151.94,541.04 L152.42,541.01 L152.89,541.17 L153.36,541.54 L153.83,542.08 L154.30,542.79 L154.77,543.63 L155.24,544.58 L155.71,545.63 L156.18,546.75 L156.65,547.92 L157.12,549.12 L157.60,550.32 L158.07,551.51 L158.54,552.66 L159.01,553.75 L159.48,554.76 L159.95,555.77 L160.42,556.86 L160.89,557.99 L161.36,559.15 L161.83,560.31 L162.31,561.44 L162.78,562.52 L163.25,563.53 L163.72,564.45 L164.19,565.24 L164.66,565.94 L165.13,566.63 L165.60,567.31 L166.07,567.96 L166.54,568.58 L167.01,569.15 L167.49,569.65 L167.96,570.08 L168.43,570.42 L168.90,570.66 L169.37,570.79 L169.84,570.88 L170.31,570.97 L170.78,571.03 L171.25,571.08 L171.72,571.10 L172.19,571.10 L172.67,571.10 L173.14,571.10 L173.61,571.10 L174.08,571.10 L174.55,571.10 L175.02,571.10 L175.49,571.10 L175.96,571.10 L176.43,571.10 L176.90,571.10 L177.37,571.10 L177.85,571.10 L178.32,571.10 L178.79,571.10 L179.26,571.10 L179.73,571.10 L180.20,571.10 L180.67,571.10 L181.14,571.10 L181.61,571.10 L182.08,571.10 L182.55,571.10 L183.03,571.10 L183.50,571.10 L183.97,571.10 L184.44,571.10 L184.91,571.10 L185.38,571.10 L185.85,571.10 L186.32,571.10 L186.79,571.10 L187.26,571.10 L187.74,571.10 L188.21,571.10 L188.68,571.10 L189.15,571.10 L189.62,571.10 L190.09,571.10 L190.56,571.10 L191.03,571.10 L191.50,571.10 L191.97,571.10 L192.44,571.10 L192.92,571.10 L193.39,571.10 L193.86,571.10 L194.33,571.10 L194.80,571.10 L195.27,571.10 L195.74,571.10 L196.21,571.10 L196.68,571.10 L197.15,571.10 L197.62,571.10 L198.10,571.10 L198.57,571.10 L199.04,571.10 L199.51,571.10 L199.98,571.10 L200.45,571.10 L200.92,571.10 L201.39,571.10 L201.86,571.10 L202.33,571.10 L202.80,571.10 L203.28,571.10 L203.75,571.10 L204.22,571.10 L204.69,571.10 L205.16,571.10 L205.63,571.10 L206.10,571.10 L206.57,571.10 L207.04,571.10 L207.51,571.10 L207.98,571.10 L208.46,571.10 L208.93,571.10 L209.40,571.10 L209.87,571.10 L210.34,571.10 L210.81,571.10 L211.28,571.10 L211.75,571.10 L212.22,571.10 L212.69,571.10 L213.17,571.10 L213.64,571.10 L214.11,571.10 L214.58,571.10 L215.05,571.10 L215.52,571.10 L215.99,571.10 L216.46,571.10 L216.93,571.10 L217.40,571.10 L217.87,571.10 L218.35,571.10 L218.82,571.10 L219.29,571.10 L219.76,571.10 L220.23,571.10 L220.70,571.10" fill="none" stroke="#da6a7f" stroke-width="1.2" stroke-linejoin="round" stroke-linecap="round" />
<path d="M32.80,566.65 L33.27,566.74 L33.74,566.82 L34.21,566.90 L34.68,566.98 L35.15,567.05 L35.63,567.11 L36.10,567.18 L36.57,567.24 L37.04,567.29 L37.51,567.35 L37.98,567.40 L38.45,567.45 L38.92,567.49 L39.39,567.53 L39.86,567.57 L40.33,567.61 L40.81,567.64 L41.28,567.67 L41.75,567.70 L42.22,567.72 L42.69,567.74 L43.16,567.76 L43.63,567.78 L44.10,567.80 L44.57,567.81 L45.04,567.82 L45.52,567.83 L45.99,567.84 L46.46,567.84 L46.93,567.85 L47.40,567.85 L47.87,567.85 L48.34,567.85 L48.81,567.83 L49.28,567.82 L49.75,567.79 L50.22,567.76 L50.70,567.72 L51.17,567.68 L51.64,567.64 L52.11,567.58 L52.58,567.53 L53.05,567.47 L53.52,567.41 L53.99,567.34 L54.46,567.28 L54.93,567.21 L55.40,567.14 L55.88,567.07 L56.35,567.00 L56.82,566.92 L57.29,566.85 L57.76,566.78 L58.23,566.71 L58.70,566.64 L59.17,566.58 L59.64,566.51 L60.11,566.45 L60.58,566.39 L61.06,566.32 L61.53,566.26 L62.00,566.20 L62.47,566.13 L62.94,566.07 L63.41,566.00 L63.88,565.94 L64.35,565.87 L64.82,565.81 L65.29,565.74 L65.76,565.67 L66.24,565.60 L66.71,565.53 L67.18,565.47 L67.65,565.40 L68.12,565.33 L68.59,565.25 L69.06,565.18 L69.53,565.11 L70.00,565.04 L70.47,564.96 L70.95,564.89 L71.42,564.82 L71.89,564.74 L72.36,564.66 L72.83,564.59 L73.30,564.51 L73.77,564.43 L74.24,564.35 L74.71,564.27 L75.18,564.19 L75.65,564.11 L76.13,564.03 L76.60,563.95 L77.07,563.86 L77.54,563.78 L78.01,563.69 L78.48,563.61 L78.95,563.52 L79.42,563.43 L79.89,563.34 L80.36,563.25 L80.83,563.16 L81.31,563.07 L81.78,562.98 L82.25,562.89 L82.72,562.79 L83.19,562.70 L83.66,562.60 L84.13,562.50 L84.60,562.41 L85.07,562.30 L85.54,562.20 L86.01,562.10 L86.49,561.99 L86.96,561.89 L87.43,561.78 L87.90,561.67 L88.37,561.56 L88.84,561.44 L89.31,561.33 L89.78,561.21 L90.25,561.10 L90.72,560.98 L91.19,560.86 L91.67,560.73 L92.14,560.61 L92.61,560.49 L93.08,560.36 L93.55,560.23 L94.02,560.11 L94.49,559.98 L94.96,559.85 L95.43,559.71 L95.90,559.58 L96.38,559.45 L96.85,559.31 L97.32,559.17 L97.79,559.04 L98.26,558.90 L98.73,558.76 L99.20,558.62 L99.67,558.47 L100.14,558.33 L100.61,558.19 L101.08,558.04 L101.56,557.89 L102.03,557.75 L102.50,557.60 L102.97,557.45 L103.44,557.30 L103.91,557.15 L104.38,557.00 L104.85,556.85 L105.32,556.69 L105.79,556.54 L106.26,556.39 L106.74,556.23 L107.21,556.07 L107.68,555.92 L108.15,555.76 L108.62,555.60 L109.09,555.44 L109.56,555.27 L110.03,555.10 L110.50,554.93 L110.97,554.75 L111.44,554.57 L111.92,554.39 L112.39,554.21 L112.86,554.02 L113.33,553.84 L113.80,553.65 L114.27,553.46 L114.74,553.26 L115.21,553.07 L115.68,552.88 L116.15,552.68 L116.63,552.48 L117.10,552.28 L117.57,552.08 L118.04,551.89 L118.51,551.69 L118.98,551.49 L119.45,551.29 L119.92,551.09 L120.39,550.89 L120.86,550.69 L121.33,550.49 L121.81,550.29 L122.28,550.09 L122.75,549.89 L123.22,549.69 L123.69,549.49 L124.16,549.28 L124.63,549.07 L125.10,548.85 L125.57,548.63 L126.04,548.39 L126.51,548.13 L126.99,547.83 L127.46,547.49 L127.93,547.13 L128.40,546.76 L128.87,546.37 L129.34,545.97 L129.81,545.58 L130.28,545.19 L130.75,544.81 L131.22,544.45 L131.69,544.12 L132.17,543.82 L132.64,543.56 L133.11,543.34 L133.58,543.17 L134.05,543.05 L134.52,543.00 L134.99,543.04 L135.46,543.19 L135.93,543.46 L136.40,543.82 L136.87,544.25 L137.35,544.75 L137.82,545.29 L138.29,545.85 L138.76,546.43 L139.23,547.00 L139.70,547.55 L140.17,548.05 L140.64,548.51 L141.11,548.89 L141.58,549.18 L142.06,549.37 L142.53,549.44 L143.00,549.39 L143.47,549.25 L143.94,549.02 L144.41,548.73 L144.88,548.36 L145.35,547.95 L145.82,547.49 L146.29,546.99 L146.76,546.48 L147.24,545.94 L147.71,545.41 L148.18,544.88 L148.65,544.37 L149.12,543.88 L149.59,543.43 L150.06,543.02 L150.53,542.67 L151.00,542.39 L151.47,542.18 L151.94,542.06 L152.42,542.04 L152.89,542.19 L153.36,542.53 L153.83,543.05 L154.30,543.71 L154.77,544.50 L155.24,545.40 L155.71,546.40 L156.18,547.46 L156.65,548.57 L157.12,549.70 L157.60,550.85 L158.07,551.98 L158.54,553.08 L159.01,554.12 L159.48,555.10 L159.95,556.08 L160.42,557.15 L160.89,558.26 L161.36,559.40 L161.83,560.55 L162.31,561.67 L162.78,562.74 L163.25,563.74 L163.72,564.64 L164.19,565.42 L164.66,566.10 L165.13,566.76 L165.60,567.42 L166.07,568.05 L166.54,568.65 L167.01,569.20 L167.49,569.69 L167.96,570.10 L168.43,570.43 L168.90,570.66 L169.37,570.79 L169.84,570.88 L170.31,570.97 L170.78,571.03 L171.25,571.08 L171.72,571.10 L172.19,571.10 L172.67,571.10 L173.14,571.10 L173.61,571.10 L174.08,571.10 L174.55,571.10 L175.02,571.10 L175.49,571.10 L175.96,571.10 L176.43,571.10 L176.90,571.10 L177.37,571.10 L177.85,571.10 L178.32,571.10 L178.79,571.10 L179.26,571.10 L179.73,571.10 L180.20,571.10 L180.67,571.10 L181.14,571.10 L181.61,571.10 L182.08,571.10 L182.55,571.10 L183.03,571.10 L183.50,571.10 L183.97,571.10 L184.44,571.10 L184.91,571.10 L185.38,571.10 L185.85,571.10 L186.32,571.10 L186.79,571.10 L187.26,571.10 L187.74,571.10 L188.21,571.10 L188.68,571.10 L189.15,571.10 L189.62,571.10 L190.09,571.10 L190.56,571.10 L191.03,571.10 L191.50,571.10 L191.97,571.10 L192.44,571.10 L192.92,571.10 L193.39,571.10 L193.86,571.10 L194.33,571.10 L194.80,571.10 L195.27,571.10 L195.74,571.10 L196.21,571.10 L196.68,571.10 L197.15,571.10 L197.62,571.10 L198.10,571.10 L198.57,571.10 L199.04,571.10 L199.51,571.10 L199.98,571.10 L200.45,571.10 L200.92,571.10 L201.39,571.10 L201.86,571.10 L202.33,571.10 L202.80,571.10 L203.28,571.10 L203.75,571.10 L204.22,571.10 L204.69,571.10 L205.16,571.10 L205.63,571.10 L206.10,571.10 L206.57,571.10 L207.04,571.10 L207.51,571.10 L207.98,571.10 L208.46,571.10 L208.93,571.10 L209.40,571.10 L209.87,571.10 L210.34,571.10 L210.81,571.10 L211.28,571.10 L211.75,571.10 L212.22,571.10 L212.69,571.10 L213.17,571.10 L213.64,571.10 L214.11,571.10 L214.58,571.10 L215.05,571.10 L215.52,571.10 L215.99,571.10 L216.46,571.10 L216.93,571.10 L217.40,571.10 L217.87,571.10 L218.35,571.10 L218.82,571.10 L219.29,571.10 L219.76,571.10 L220.23,571.10 L220.70,571.10" fill="none" stroke="#d45b72" stroke-width="1.2" stroke-linejoin="round" stroke-linecap="round" />
<path d="M32.80,566.65 L33.27,566.74 L33.74,566.82 L34.21,566.90 L34.68,566.98 L35.15,567.05 L35.63,567.11 L36.10,567.18 L36.57,567.24 L37.04,567.29 L37.51,567.35 L37.98,567.40 L38.45,567.45 L38.92,567.49 L39.39,567.53 L39.86,567.57 L40.33,567.61 L40.81,567.64 L41.28,567.67 L41.75,567.70 L42.22,567.72 L42.69,567.74 L43.16,567.76 L43.63,567.78 L44.10,567.80 L44.57,567.81 L45.04,567.82 L45.52,567.83 L45.99,567.84 L46.46,567.84 L46.93,567.85 L47.40,567.85 L47.87,567.85 L48.34,567.85 L48.81,567.83 L49.28,567.82 L49.75,567.79 L50.22,567.76 L50.70,567.72 L51.17,567.68 L51.64,567.64 L52.11,567.58 L52.58,567.53 L53.05,567.47 L53.52,567.41 L53.99,567.34 L54.46,567.28 L54.93,567.21 L55.40,567.14 L55.88,567.07 L56.35,567.00 L56.82,566.92 L57.29,566.85 L57.76,566.78 L58.23,566.71 L58.70,566.64 L59.17,566.58 L59.64,566.51 L60.11,566.45 L60.58,566.39 L61.06,566.32 L61.53,566.26 L62.00,566.20 L62.47,566.13 L62.94,566.07 L63.41,566.00 L63.88,565.94 L64.35,565.87 L64.82,565.81 L65.29,565.74 L65.76,565.67 L66.24,565.60 L66.71,565.54 L67.18,565.47 L67.65,565.40 L68.12,565.33 L68.59,565.26 L69.06,565.18 L69.53,565.11 L70.00,565.04 L70.47,564.97 L70.95,564.89 L71.42,564.82 L71.89,564.74 L72.36,564.67 L72.83,564.59 L73.30,564.51 L73.77,564.43 L74.24,564.36 L74.71,564.28 L75.18,564.20 L75.65,564.11 L76.13,564.03 L76.60,563.95 L77.07,563.87 L77.54,563.78 L78.01,563.70 L78.48,563.61 L78.95,563.52 L79.42,563.43 L79.89,563.35 L80.36,563.26 L80.83,563.17 L81.31,563.07 L81.78,562.98 L82.25,562.89 L82.72,562.79 L83.19,562.70 L83.66,562.60 L84.13,562.50 L84.60,562.40 L85.07,562.30 L85.54,562.20 L86.01,562.10 L86.49,561.99 L86.96,561.88 L87.43,561.77 L87.90,561.66 L88.37,561.55 L88.84,561.43 L89.31,561.32 L89.78,561.20 L90.25,561.08 L90.72,560.96 L91.19,560.84 L91.67,560.72 L92.14,560.59 L92.61,560.47 L93.08,560.34 L93.55,560.21 L94.02,560.08 L94.49,559.95 L94.96,559.82 L95.43,559.68 L95.90,559.55 L96.38,559.41 L96.85,559.28 L97.32,559.14 L97.79,559.00 L98.26,558.86 L98.73,558.72 L99.20,558.57 L99.67,558.43 L100.14,558.29 L100.61,558.14 L101.08,557.99 L101.56,557.85 L102.03,557.70 L102.50,557.55 L102.97,557.40 L103.44,557.25 L103.91,557.10 L104.38,556.95 L104.85,556.79 L105.32,556.64 L105.79,556.48 L106.26,556.33 L106.74,556.17 L107.21,556.02 L107.68,555.86 L108.15,555.70 L108.62,555.54 L109.09,555.38 L109.56,555.21 L110.03,555.04 L110.50,554.87 L110.97,554.70 L111.44,554.52 L111.92,554.34 L112.39,554.16 L112.86,553.98 L113.33,553.79 L113.80,553.60 L114.27,553.41 L114.74,553.22 L115.21,553.03 L115.68,552.84 L116.15,552.65 L116.63,552.45 L117.10,552.26 L117.57,552.06 L118.04,551.86 L118.51,551.67 L118.98,551.47 L119.45,551.27 L119.92,551.08 L120.39,550.88 L120.86,550.68 L121.33,550.49 L121.81,550.29 L122.28,550.10 L122.75,549.91 L123.22,549.71 L123.69,549.51 L124.16,549.31 L124.63,549.10 L125.10,548.89 L125.57,548.67 L126.04,548.45 L126.51,548.20 L126.99,547.92 L127.46,547.61 L127.93,547.28 L128.40,546.94 L128.87,546.58 L129.34,546.22 L129.81,545.86 L130.28,545.51 L130.75,545.17 L131.22,544.85 L131.69,544.55 L132.17,544.28 L132.64,544.04 L133.11,543.84 L133.58,543.69 L134.05,543.59 L134.52,543.54 L134.99,543.58 L135.46,543.73 L135.93,543.98 L136.40,544.32 L136.87,544.73 L137.35,545.21 L137.82,545.72 L138.29,546.26 L138.76,546.80 L139.23,547.35 L139.70,547.87 L140.17,548.35 L140.64,548.78 L141.11,549.14 L141.58,549.42 L142.06,549.60 L142.53,549.67 L143.00,549.62 L143.47,549.50 L143.94,549.30 L144.41,549.03 L144.88,548.71 L145.35,548.34 L145.82,547.92 L146.29,547.48 L146.76,547.02 L147.24,546.55 L147.71,546.07 L148.18,545.60 L148.65,545.14 L149.12,544.71 L149.59,544.30 L150.06,543.94 L150.53,543.63 L151.00,543.38 L151.47,543.19 L151.94,543.08 L152.42,543.06 L152.89,543.20 L153.36,543.53 L153.83,544.01 L154.30,544.63 L154.77,545.38 L155.24,546.23 L155.71,547.16 L156.18,548.16 L156.65,549.21 L157.12,550.29 L157.60,551.37 L158.07,552.45 L158.54,553.50 L159.01,554.50 L159.48,555.44 L159.95,556.40 L160.42,557.44 L160.89,558.53 L161.36,559.66 L161.83,560.79 L162.31,561.90 L162.78,562.96 L163.25,563.94 L163.72,564.83 L164.19,565.60 L164.66,566.25 L165.13,566.90 L165.60,567.54 L166.07,568.15 L166.54,568.72 L167.01,569.25 L167.49,569.72 L167.96,570.12 L168.43,570.44 L168.90,570.67 L169.37,570.79 L169.84,570.88 L170.31,570.97 L170.78,571.03 L171.25,571.08 L171.72,571.10 L172.19,571.10 L172.67,571.10 L173.14,571.10 L173.61,571.10 L174.08,571.10 L174.55,571.10 L175.02,571.10 L175.49,571.10 L175.96,571.10 L176.43,571.10 L176.90,571.10 L177.37,571.10 L177.85,571.10 L178.32,571.10 L178.79,571.10 L179.26,571.10 L179.73,571.10 L180.20,571.10 L180.67,571.10 L181.14,571.10 L181.61,571.10 L182.08,571.10 L182.55,571.10 L183.03,571.10 L183.50,571.10 L183.97,571.10 L184.44,571.10 L184.91,571.10 L185.38,571.10 L185.85,571.10 L186.32,571.10 L186.79,571.10 L187.26,571.10 L187.74,571.10 L188.21,571.10 L188.68,571.10 L189.15,571.10 L189.62,571.10 L190.09,571.10 L190.56,571.10 L191.03,571.10 L191.50,571.10 L191.97,571.10 L192.44,571.10 L192.92,571.10 L193.39,571.10 L193.86,571.10 L194.33,571.10 L194.80,571.10 L195.27,571.10 L195.74,571.10 L196.21,571.10 L196.68,571.10 L197.15,571.10 L197.62,571.10 L198.10,571.10 L198.57,571.10 L199.04,571.10 L199.51,571.10 L199.98,571.10 L200.45,571.10 L200.92,571.10 L201.39,571.10 L201.86,571.10 L202.33,571.10 L202.80,571.10 L203.28,571.10 L203.75,571.10 L204.22,571.10 L204.69,571.10 L205.16,571.10 L205.63,571.10 L206.10,571.10 L206.57,571.10 L207.04,571.10 L207.51,571.10 L207.98,571.10 L208.46,571.10 L208.93,571.10 L209.40,571.10 L209.87,571.10 L210.34,571.10 L210.81,571.10 L211.28,571.10 L211.75,571.10 L212.22,571.10 L212.69,571.10 L213.17,571.10 L213.64,571.10 L214.11,571.10 L214.58,571.10 L215.05,571.10 L215.52,571.10 L215.99,571.10 L216.46,571.10 L216.93,571.10 L217.40,571.10 L217.87,571.10 L218.35,571.10 L218.82,571.10 L219.29,571.10 L219.76,571.10 L220.23,571.10 L220.70,571.10" fill="none" stroke="#ce4d65" stroke-width="1.2" stroke-linejoin="round" stroke-linecap="round" />
<path d="M32.80,566.65 L33.27,566.74 L33.74,566.82 L34.21,566.90 L34.68,566.98 L35.15,567.05 L35.63,567.11 L36.10,567.18 L36.57,567.24 L37.04,567.29 L37.51,567.35 L37.98,567.40 L38.45,567.45 L38.92,567.49 L39.39,567.53 L39.86,567.57 L40.33,567.61 L40.81,567.64 L41.28,567.67 L41.75,567.70 L42.22,567.72 L42.69,567.74 L43.16,567.76 L43.63,567.78 L44.10,567.80 L44.57,567.81 L45.04,567.82 L45.52,567.83 L45.99,567.84 L46.46,567.84 L46.93,567.85 L47.40,567.85 L47.87,567.85 L48.34,567.85 L48.81,567.83 L49.28,567.82 L49.75,567.79 L50.22,567.76 L50.70,567.72 L51.17,567.68 L51.64,567.64 L52.11,567.58 L52.58,567.53 L53.05,567.47 L53.52,567.41 L53.99,567.34 L54.46,567.28 L54.93,567.21 L55.40,567.14 L55.88,567.07 L56.35,567.00 L56.82,566.92 L57.29,566.85 L57.76,566.78 L58.23,566.71 L58.70,566.64 L59.17,566.58 L59.64,566.51 L60.11,566.45 L60.58,566.39 L61.06,566.32 L61.53,566.26 L62.00,566.20 L62.47,566.13 L62.94,566.07 L63.41,566.00 L63.88,565.94 L64.35,565.87 L64.82,565.81 L65.29,565.74 L65.76,565.67 L66.24,565.60 L66.71,565.54 L67.18,565.47 L67.65,565.40 L68.12,565.33 L68.59,565.26 L69.06,565.19 L69.53,565.11 L70.00,565.04 L70.47,564.97 L70.95,564.89 L71.42,564.82 L71.89,564.74 L72.36,564.67 L72.83,564.59 L73.30,564.51 L73.77,564.44 L74.24,564.36 L74.71,564.28 L75.18,564.20 L75.65,564.12 L76.13,564.03 L76.60,563.95 L77.07,563.87 L77.54,563.78 L78.01,563.70 L78.48,563.61 L78.95,563.52 L79.42,563.44 L79.89,563.35 L80.36,563.26 L80.83,563.17 L81.31,563.08 L81.78,562.98 L82.25,562.89 L82.72,562.79 L83.19,562.70 L83.66,562.60 L84.13,562.50 L84.60,562.40 L85.07,562.30 L85.54,562.20 L86.01,562.09 L86.49,561.99 L86.96,561.88 L87.43,561.77 L87.90,561.66 L88.37,561.54 L88.84,561.43 L89.31,561.31 L89.78,561.19 L90.25,561.07 L90.72,560.95 L91.19,560.83 L91.67,560.70 L92.14,560.58 L92.61,560.45 L93.08,560.32 L93.55,560.19 L94.02,560.06 L94.49,559.92 L94.96,559.79 L95.43,559.66 L95.90,559.52 L96.38,559.38 L96.85,559.24 L97.32,559.10 L97.79,558.96 L98.26,558.82 L98.73,558.68 L99.20,558.53 L99.67,558.39 L100.14,558.24 L100.61,558.09 L101.08,557.95 L101.56,557.80 L102.03,557.65 L102.50,557.50 L102.97,557.35 L103.44,557.20 L103.91,557.04 L104.38,556.89 L104.85,556.74 L105.32,556.58 L105.79,556.43 L106.26,556.27 L106.74,556.12 L107.21,555.96 L107.68,555.80 L108.15,555.65 L108.62,555.49 L109.09,555.32 L109.56,555.16 L110.03,554.99 L110.50,554.82 L110.97,554.64 L111.44,554.47 L111.92,554.29 L112.39,554.11 L112.86,553.93 L113.33,553.74 L113.80,553.56 L114.27,553.37 L114.74,553.18 L115.21,552.99 L115.68,552.80 L116.15,552.61 L116.63,552.42 L117.10,552.23 L117.57,552.03 L118.04,551.84 L118.51,551.65 L118.98,551.45 L119.45,551.26 L119.92,551.07 L120.39,550.87 L120.86,550.68 L121.33,550.49 L121.81,550.30 L122.28,550.11 L122.75,549.92 L123.22,549.72 L123.69,549.53 L124.16,549.33 L124.63,549.13 L125.10,548.93 L125.57,548.72 L126.04,548.51 L126.51,548.27 L126.99,548.01 L127.46,547.73 L127.93,547.43 L128.40,547.12 L128.87,546.80 L129.34,546.47 L129.81,546.15 L130.28,545.84 L130.75,545.53 L131.22,545.24 L131.69,544.98 L132.17,544.74 L132.64,544.53 L133.11,544.35 L133.58,544.21 L134.05,544.12 L134.52,544.08 L134.99,544.12 L135.46,544.26 L135.93,544.50 L136.40,544.82 L136.87,545.22 L137.35,545.66 L137.82,546.15 L138.29,546.66 L138.76,547.18 L139.23,547.69 L139.70,548.19 L140.17,548.65 L140.64,549.05 L141.11,549.40 L141.58,549.66 L142.06,549.83 L142.53,549.90 L143.00,549.86 L143.47,549.75 L143.94,549.57 L144.41,549.34 L144.88,549.05 L145.35,548.72 L145.82,548.36 L146.29,547.98 L146.76,547.57 L147.24,547.15 L147.71,546.73 L148.18,546.32 L148.65,545.92 L149.12,545.53 L149.59,545.18 L150.06,544.86 L150.53,544.59 L151.00,544.36 L151.47,544.20 L151.94,544.11 L152.42,544.09 L152.89,544.22 L153.36,544.52 L153.83,544.97 L154.30,545.56 L154.77,546.25 L155.24,547.05 L155.71,547.93 L156.18,548.87 L156.65,549.85 L157.12,550.87 L157.60,551.90 L158.07,552.92 L158.54,553.92 L159.01,554.87 L159.48,555.77 L159.95,556.71 L160.42,557.72 L160.89,558.80 L161.36,559.91 L161.83,561.03 L162.31,562.12 L162.78,563.17 L163.25,564.15 L163.72,565.03 L164.19,565.77 L164.66,566.41 L165.13,567.04 L165.60,567.65 L166.07,568.24 L166.54,568.80 L167.01,569.30 L167.49,569.76 L167.96,570.14 L168.43,570.45 L168.90,570.67 L169.37,570.79 L169.84,570.88 L170.31,570.97 L170.78,571.03 L171.25,571.08 L171.72,571.10 L172.19,571.10 L172.67,571.10 L173.14,571.10 L173.61,571.10 L174.08,571.10 L174.55,571.10 L175.02,571.10 L175.49,571.10 L175.96,571.10 L176.43,571.10 L176.90,571.10 L177.37,571.10 L177.85,571.10 L178.32,571.10 L178.79,571.10 L179.26,571.10 L179.73,571.10 L180.20,571.10 L180.67,571.10 L181.14,571.10 L181.61,571.10 L182.08,571.10 L182.55,571.10 L183.03,571.10 L183.50,571.10 L183.97,571.10 L184.44,571.10 L184.91,571.10 L185.38,571.10 L185.85,571.10 L186.32,571.10 L186.79,571.10 L187.26,571.10 L187.74,571.10 L188.21,571.10 L188.68,571.10 L189.15,571.10 L189.62,571.10 L190.09,571.10 L190.56,571.10 L191.03,571.10 L191.50,571.10 L191.97,571.10 L192.44,571.10 L192.92,571.10 L193.39,571.10 L193.86,571.10 L194.33,571.10 L194.80,571.10 L195.27,571.10 L195.74,571.10 L196.21,571.10 L196.68,571.10 L197.15,571.10 L197.62,571.10 L198.10,571.10 L198.57,571.10 L199.04,571.10 L199.51,571.10 L199.98,571.10 L200.45,571.10 L200.92,571.10 L201.39,571.10 L201.86,571.10 L202.33,571.10 L202.80,571.10 L203.28,571.10 L203.75,571.10 L204.22,571.10 L204.69,571.10 L205.16,571.10 L205.63,571.10 L206.10,571.10 L206.57,571.10 L207.04,571.10 L207.51,571.10 L207.98,571.10 L208.46,571.10 L208.93,571.10 L209.40,571.10 L209.87,571.10 L210.34,571.10 L210.81,571.10 L211.28,571.10 L211.75,571.10 L212.22,571.10 L212.69,571.10 L213.17,571.10 L213.64,571.10 L214.11,571.10 L214.58,571.10 L215.05,571.10 L215.52,571.10 L215.99,571.10 L216.46,571.10 L216.93,571.10 L217.40,571.10 L217.87,571.10 L218.35,571.10 L218.82,571.10 L219.29,571.10 L219.76,571.10 L220.23,571.10 L220.70,571.10" fill="none" stroke="#c83e58" stroke-width="1.2" stroke-linejoin="round" stroke-linecap="round" />
<rect x="32.8" y="438.6" width="188.0" height="132.5" fill="none" stroke="#808080" stroke-width="0.9"/>
<line x1="32.80" y1="482.60" x2="220.80" y2="482.60" stroke="#404040" stroke-width="0.9" />
<line x1="32.80" y1="527.90" x2="220.80" y2="527.90" stroke="#404040" stroke-width="0.9" />
<line x1="32.80" y1="571.10" x2="220.80" y2="571.10" stroke="#404040" stroke-width="0.9" />
<line x1="32.80" y1="465.35" x2="35.80" y2="465.35" stroke="#707070" stroke-width="0.8" />
<text x="29.80" y="468.75" font-size="9.6" fill="#1e1e1e" text-anchor="end" font-weight="normal" font-family="Liberation Sans, sans-serif" >0.5</text>
<line x1="32.80" y1="448.10" x2="35.80" y2="448.10" stroke="#707070" stroke-width="0.8" />
<text x="29.80" y="451.50" font-size="9.6" fill="#1e1e1e" text-anchor="end" font-weight="normal" font-family="Liberation Sans, sans-serif" >1.0</text>
<line x1="32.80" y1="473.98" x2="34.50" y2="473.98" stroke="#707070" stroke-width="0.7" />
<line x1="32.80" y1="456.73" x2="34.50" y2="456.73" stroke="#707070" stroke-width="0.7" />
<line x1="32.80" y1="510.00" x2="35.80" y2="510.00" stroke="#707070" stroke-width="0.8" />
<text x="29.80" y="513.40" font-size="9.6" fill="#1e1e1e" text-anchor="end" font-weight="normal" font-family="Liberation Sans, sans-serif" >0.5</text>
<line x1="32.80" y1="492.10" x2="35.80" y2="492.10" stroke="#707070" stroke-width="0.8" />
<text x="29.80" y="495.50" font-size="9.6" fill="#1e1e1e" text-anchor="end" font-weight="normal" font-family="Liberation Sans, sans-serif" >1.0</text>
<line x1="32.80" y1="518.95" x2="34.50" y2="518.95" stroke="#707070" stroke-width="0.7" />
<line x1="32.80" y1="501.05" x2="34.50" y2="501.05" stroke="#707070" stroke-width="0.7" />
<line x1="32.80" y1="554.00" x2="35.80" y2="554.00" stroke="#707070" stroke-width="0.8" />
<text x="29.80" y="557.40" font-size="9.6" fill="#1e1e1e" text-anchor="end" font-weight="normal" font-family="Liberation Sans, sans-serif" >0.5</text>
<line x1="32.80" y1="536.90" x2="35.80" y2="536.90" stroke="#707070" stroke-width="0.8" />
<text x="29.80" y="540.30" font-size="9.6" fill="#1e1e1e" text-anchor="end" font-weight="normal" font-family="Liberation Sans, sans-serif" >1.0</text>
<line x1="32.80" y1="562.55" x2="34.50" y2="562.55" stroke="#707070" stroke-width="0.7" />
<line x1="32.80" y1="545.45" x2="34.50" y2="545.45" stroke="#707070" stroke-width="0.7" />
<line x1="32.80" y1="571.10" x2="32.80" y2="568.10" stroke="#3a3a3a" stroke-width="0.8" />
<text x="32.80" y="582.00" font-size="9.6" fill="#1e1e1e" text-anchor="middle" font-weight="normal" font-family="Liberation Sans, sans-serif" >300</text>
<line x1="70.38" y1="571.10" x2="70.38" y2="568.10" stroke="#3a3a3a" stroke-width="0.8" />
<text x="70.38" y="582.00" font-size="9.6" fill="#1e1e1e" text-anchor="middle" font-weight="normal" font-family="Liberation Sans, sans-serif" >400</text>
<line x1="107.96" y1="571.10" x2="107.96" y2="568.10" stroke="#3a3a3a" stroke-width="0.8" />
<text x="107.96" y="582.00" font-size="9.6" fill="#1e1e1e" text-anchor="middle" font-weight="normal" font-family="Liberation Sans, sans-serif" >500</text>
<line x1="145.54" y1="571.10" x2="145.54" y2="568.10" stroke="#3a3a3a" stroke-width="0.8" />
<text x="145.54" y="582.00" font-size="9.6" fill="#1e1e1e" text-anchor="middle" font-weight="normal" font-family="Liberation Sans, sans-serif" >600</text>
<line x1="183.12" y1="571.10" x2="183.12" y2="568.10" stroke="#3a3a3a" stroke-width="0.8" />
<text x="183.12" y="582.00" font-size="9.6" fill="#1e1e1e" text-anchor="middle" font-weight="normal" font-family="Liberation Sans, sans-serif" >700</text>
<line x1="220.70" y1="571.10" x2="220.70" y2="568.10" stroke="#3a3a3a" stroke-width="0.8" />
<text x="220.70" y="582.00" font-size="9.6" fill="#1e1e1e" text-anchor="middle" font-weight="normal" font-family="Liberation Sans, sans-serif" >800</text>
<line x1="51.59" y1="571.10" x2="51.59" y2="569.30" stroke="#3a3a3a" stroke-width="0.7" />
<line x1="89.17" y1="571.10" x2="89.17" y2="569.30" stroke="#3a3a3a" stroke-width="0.7" />
<line x1="126.75" y1="571.10" x2="126.75" y2="569.30" stroke="#3a3a3a" stroke-width="0.7" />
<line x1="164.33" y1="571.10" x2="164.33" y2="569.30" stroke="#3a3a3a" stroke-width="0.7" />
<line x1="201.91" y1="571.10" x2="201.91" y2="569.30" stroke="#3a3a3a" stroke-width="0.7" />
<text x="126.50" y="597.20" font-size="9.65" fill="#1e1e1e" text-anchor="middle" font-weight="normal" font-family="Liberation Sans, sans-serif" >Wavelength (nm)</text>
<text transform="translate(7.6,504.5) rotate(-90)" font-size="9.6" fill="#1e1e1e" text-anchor="middle" font-family="Liberation Sans, sans-serif">Absorption</text>
<text x="40.30" y="451.40" font-size="9.55" fill="#2a68a8" text-anchor="start" font-weight="normal" font-family="Liberation Sans, sans-serif" >PTTz-Cl0</text>
<text x="40.30" y="496.00" font-size="9.55" fill="#c0703e" text-anchor="start" font-weight="normal" font-family="Liberation Sans, sans-serif" >PTTz-Cl50</text>
<text x="40.30" y="540.60" font-size="9.55" fill="#c04862" text-anchor="start" font-weight="normal" font-family="Liberation Sans, sans-serif" >PTTz-Cl100</text>
<text x="123.6" y="447.4" font-size="9.6" fill="#222" font-family="Liberation Sans, sans-serif">A<tspan font-size="6.5" dy="2">0-1</tspan></text>
<text x="142.2" y="447.4" font-size="9.6" fill="#222" font-family="Liberation Sans, sans-serif">A<tspan font-size="6.5" dy="2">0-0</tspan></text>
<text x="156.00" y="492.80" font-size="9.4" fill="#222" text-anchor="start" font-weight="normal" font-family="Liberation Sans, sans-serif" >25 °C</text>
<text x="121.00" y="525.20" font-size="9.4" fill="#222" text-anchor="start" font-weight="normal" font-family="Liberation Sans, sans-serif" >95 °C</text>
<line x1="149.40" y1="450.80" x2="144.57" y2="475.56" stroke="#7a7a7a" stroke-width="1.1" />
<path d="M144.00,478.50 L143.00,474.23 L146.53,474.92 Z" fill="#7a7a7a"/>
<line x1="150.40" y1="492.00" x2="145.80" y2="514.46" stroke="#7a7a7a" stroke-width="1.1" />
<path d="M145.20,517.40 L144.24,513.12 L147.77,513.84 Z" fill="#7a7a7a"/>
<line x1="155.20" y1="529.80" x2="151.17" y2="550.65" stroke="#7a7a7a" stroke-width="1.1" />
<path d="M150.60,553.60 L149.59,549.33 L153.13,550.01 Z" fill="#7a7a7a"/>
<rect x="281.4" y="439.7" width="178.3" height="130.9" fill="none" stroke="#7d7d7d" stroke-width="1.0"/>
<line x1="281.40" y1="570.60" x2="281.40" y2="573.20" stroke="#3a3a3a" stroke-width="0.8" />
<text x="281.40" y="582.40" font-size="9.6" fill="#1e1e1e" text-anchor="middle" font-weight="normal" font-family="Liberation Sans, sans-serif" >20</text>
<line x1="303.69" y1="570.60" x2="303.69" y2="573.20" stroke="#3a3a3a" stroke-width="0.8" />
<text x="303.69" y="582.40" font-size="9.6" fill="#1e1e1e" text-anchor="middle" font-weight="normal" font-family="Liberation Sans, sans-serif" >30</text>
<line x1="325.97" y1="570.60" x2="325.97" y2="573.20" stroke="#3a3a3a" stroke-width="0.8" />
<text x="325.97" y="582.40" font-size="9.6" fill="#1e1e1e" text-anchor="middle" font-weight="normal" font-family="Liberation Sans, sans-serif" >40</text>
<line x1="348.26" y1="570.60" x2="348.26" y2="573.20" stroke="#3a3a3a" stroke-width="0.8" />
<text x="348.26" y="582.40" font-size="9.6" fill="#1e1e1e" text-anchor="middle" font-weight="normal" font-family="Liberation Sans, sans-serif" >50</text>
<line x1="370.55" y1="570.60" x2="370.55" y2="573.20" stroke="#3a3a3a" stroke-width="0.8" />
<text x="370.55" y="582.40" font-size="9.6" fill="#1e1e1e" text-anchor="middle" font-weight="normal" font-family="Liberation Sans, sans-serif" >60</text>
<line x1="392.84" y1="570.60" x2="392.84" y2="573.20" stroke="#3a3a3a" stroke-width="0.8" />
<text x="392.84" y="582.40" font-size="9.6" fill="#1e1e1e" text-anchor="middle" font-weight="normal" font-family="Liberation Sans, sans-serif" >70</text>
<line x1="415.12" y1="570.60" x2="415.12" y2="573.20" stroke="#3a3a3a" stroke-width="0.8" />
<text x="415.12" y="582.40" font-size="9.6" fill="#1e1e1e" text-anchor="middle" font-weight="normal" font-family="Liberation Sans, sans-serif" >80</text>
<line x1="437.41" y1="570.60" x2="437.41" y2="573.20" stroke="#3a3a3a" stroke-width="0.8" />
<text x="437.41" y="582.40" font-size="9.6" fill="#1e1e1e" text-anchor="middle" font-weight="normal" font-family="Liberation Sans, sans-serif" >90</text>
<line x1="459.70" y1="570.60" x2="459.70" y2="573.20" stroke="#3a3a3a" stroke-width="0.8" />
<text x="459.70" y="582.40" font-size="9.6" fill="#1e1e1e" text-anchor="middle" font-weight="normal" font-family="Liberation Sans, sans-serif" >100</text>
<line x1="292.54" y1="570.60" x2="292.54" y2="572.10" stroke="#3a3a3a" stroke-width="0.7" />
<line x1="314.83" y1="570.60" x2="314.83" y2="572.10" stroke="#3a3a3a" stroke-width="0.7" />
<line x1="337.12" y1="570.60" x2="337.12" y2="572.10" stroke="#3a3a3a" stroke-width="0.7" />
<line x1="359.41" y1="570.60" x2="359.41" y2="572.10" stroke="#3a3a3a" stroke-width="0.7" />
<line x1="381.69" y1="570.60" x2="381.69" y2="572.10" stroke="#3a3a3a" stroke-width="0.7" />
<line x1="403.98" y1="570.60" x2="403.98" y2="572.10" stroke="#3a3a3a" stroke-width="0.7" />
<line x1="426.27" y1="570.60" x2="426.27" y2="572.10" stroke="#3a3a3a" stroke-width="0.7" />
<line x1="448.56" y1="570.60" x2="448.56" y2="572.10" stroke="#3a3a3a" stroke-width="0.7" />
<line x1="281.40" y1="557.12" x2="278.80" y2="557.12" stroke="#3a3a3a" stroke-width="0.8" />
<text x="277.40" y="560.52" font-size="9.6" fill="#1e1e1e" text-anchor="end" font-weight="normal" font-family="Liberation Sans, sans-serif" >0.2</text>
<line x1="281.40" y1="531.04" x2="278.80" y2="531.04" stroke="#3a3a3a" stroke-width="0.8" />
<text x="277.40" y="534.44" font-size="9.6" fill="#1e1e1e" text-anchor="end" font-weight="normal" font-family="Liberation Sans, sans-serif" >0.4</text>
<line x1="281.40" y1="504.96" x2="278.80" y2="504.96" stroke="#3a3a3a" stroke-width="0.8" />
<text x="277.40" y="508.36" font-size="9.6" fill="#1e1e1e" text-anchor="end" font-weight="normal" font-family="Liberation Sans, sans-serif" >0.6</text>
<line x1="281.40" y1="478.88" x2="278.80" y2="478.88" stroke="#3a3a3a" stroke-width="0.8" />
<text x="277.40" y="482.28" font-size="9.6" fill="#1e1e1e" text-anchor="end" font-weight="normal" font-family="Liberation Sans, sans-serif" >0.8</text>
<line x1="281.40" y1="452.80" x2="278.80" y2="452.80" stroke="#3a3a3a" stroke-width="0.8" />
<text x="277.40" y="456.20" font-size="9.6" fill="#1e1e1e" text-anchor="end" font-weight="normal" font-family="Liberation Sans, sans-serif" >1.0</text>
<line x1="281.40" y1="544.08" x2="279.90" y2="544.08" stroke="#3a3a3a" stroke-width="0.7" />
<line x1="281.40" y1="518.00" x2="279.90" y2="518.00" stroke="#3a3a3a" stroke-width="0.7" />
<line x1="281.40" y1="491.92" x2="279.90" y2="491.92" stroke="#3a3a3a" stroke-width="0.7" />
<line x1="281.40" y1="465.84" x2="279.90" y2="465.84" stroke="#3a3a3a" stroke-width="0.7" />
<text x="371.60" y="597.60" font-size="9.9" fill="#1e1e1e" text-anchor="middle" font-weight="normal" font-family="Liberation Sans, sans-serif" >Temperature (°C)</text>
<text transform="translate(259.2,505.3) rotate(-90)" font-size="9.75" fill="#1e1e1e" text-anchor="middle" font-family="Liberation Sans, sans-serif">Relative aggregation strength</text>
<path d="M292.54,452.80 L314.83,460.10 L337.12,468.06 L359.41,476.92 L381.69,488.01 L403.98,505.61 L426.27,530.39 L448.56,556.47" fill="none" stroke="#1f5b9b" stroke-width="1.4" stroke-linejoin="round" stroke-linecap="round" />
<path d="M292.54,452.80 L314.83,457.49 L337.12,461.54 L359.41,467.14 L381.69,473.92 L403.98,482.79 L426.27,494.01 L448.56,510.70" fill="none" stroke="#f7a51e" stroke-width="1.4" stroke-linejoin="round" stroke-linecap="round" />
<path d="M292.54,452.80 L314.83,455.02 L337.12,457.23 L359.41,459.84 L381.69,462.45 L403.98,464.80 L426.27,467.14 L448.56,470.80" fill="none" stroke="#e8909f" stroke-width="1.4" stroke-linejoin="round" stroke-linecap="round" />
<circle cx="292.54" cy="452.80" r="3.0" fill="#1f5b9b"/>
<circle cx="291.64" cy="451.81" r="1.20" fill="#8fb0d8" opacity="0.9"/>
<circle cx="314.83" cy="460.10" r="3.0" fill="#1f5b9b"/>
<circle cx="313.93" cy="459.11" r="1.20" fill="#8fb0d8" opacity="0.9"/>
<circle cx="337.12" cy="468.06" r="3.0" fill="#1f5b9b"/>
<circle cx="336.22" cy="467.07" r="1.20" fill="#8fb0d8" opacity="0.9"/>
<circle cx="359.41" cy="476.92" r="3.0" fill="#1f5b9b"/>
<circle cx="358.51" cy="475.93" r="1.20" fill="#8fb0d8" opacity="0.9"/>
<circle cx="381.69" cy="488.01" r="3.0" fill="#1f5b9b"/>
<circle cx="380.79" cy="487.02" r="1.20" fill="#8fb0d8" opacity="0.9"/>
<circle cx="403.98" cy="505.61" r="3.0" fill="#1f5b9b"/>
<circle cx="403.08" cy="504.62" r="1.20" fill="#8fb0d8" opacity="0.9"/>
<circle cx="426.27" cy="530.39" r="3.0" fill="#1f5b9b"/>
<circle cx="425.37" cy="529.40" r="1.20" fill="#8fb0d8" opacity="0.9"/>
<circle cx="448.56" cy="556.47" r="3.0" fill="#1f5b9b"/>
<circle cx="447.66" cy="555.48" r="1.20" fill="#8fb0d8" opacity="0.9"/>
<circle cx="292.54" cy="452.80" r="3.0" fill="#f7a51e"/>
<circle cx="291.64" cy="451.81" r="1.20" fill="#fde0a8" opacity="0.9"/>
<circle cx="314.83" cy="457.49" r="3.0" fill="#f7a51e"/>
<circle cx="313.93" cy="456.50" r="1.20" fill="#fde0a8" opacity="0.9"/>
<circle cx="337.12" cy="461.54" r="3.0" fill="#f7a51e"/>
<circle cx="336.22" cy="460.55" r="1.20" fill="#fde0a8" opacity="0.9"/>
<circle cx="359.41" cy="467.14" r="3.0" fill="#f7a51e"/>
<circle cx="358.51" cy="466.15" r="1.20" fill="#fde0a8" opacity="0.9"/>
<circle cx="381.69" cy="473.92" r="3.0" fill="#f7a51e"/>
<circle cx="380.79" cy="472.93" r="1.20" fill="#fde0a8" opacity="0.9"/>
<circle cx="403.98" cy="482.79" r="3.0" fill="#f7a51e"/>
<circle cx="403.08" cy="481.80" r="1.20" fill="#fde0a8" opacity="0.9"/>
<circle cx="426.27" cy="494.01" r="3.0" fill="#f7a51e"/>
<circle cx="425.37" cy="493.02" r="1.20" fill="#fde0a8" opacity="0.9"/>
<circle cx="448.56" cy="510.70" r="3.0" fill="#f7a51e"/>
<circle cx="447.66" cy="509.71" r="1.20" fill="#fde0a8" opacity="0.9"/>
<circle cx="292.54" cy="452.80" r="3.0" fill="#d4607a"/>
<circle cx="291.64" cy="451.81" r="1.20" fill="#f4c4cf" opacity="0.9"/>
<circle cx="314.83" cy="455.02" r="3.0" fill="#d4607a"/>
<circle cx="313.93" cy="454.03" r="1.20" fill="#f4c4cf" opacity="0.9"/>
<circle cx="337.12" cy="457.23" r="3.0" fill="#d4607a"/>
<circle cx="336.22" cy="456.24" r="1.20" fill="#f4c4cf" opacity="0.9"/>
<circle cx="359.41" cy="459.84" r="3.0" fill="#d4607a"/>
<circle cx="358.51" cy="458.85" r="1.20" fill="#f4c4cf" opacity="0.9"/>
<circle cx="381.69" cy="462.45" r="3.0" fill="#d4607a"/>
<circle cx="380.79" cy="461.46" r="1.20" fill="#f4c4cf" opacity="0.9"/>
<circle cx="403.98" cy="464.80" r="3.0" fill="#d4607a"/>
<circle cx="403.08" cy="463.81" r="1.20" fill="#f4c4cf" opacity="0.9"/>
<circle cx="426.27" cy="467.14" r="3.0" fill="#d4607a"/>
<circle cx="425.37" cy="466.15" r="1.20" fill="#f4c4cf" opacity="0.9"/>
<circle cx="448.56" cy="470.80" r="3.0" fill="#d4607a"/>
<circle cx="447.66" cy="469.81" r="1.20" fill="#f4c4cf" opacity="0.9"/>
<line x1="299.60" y1="524.90" x2="320.00" y2="524.90" stroke="#1f5b9b" stroke-width="1.1" />
<circle cx="310.00" cy="524.90" r="2.4" fill="#1f5b9b"/>
<circle cx="309.28" cy="524.11" r="0.96" fill="#8fb0d8" opacity="0.9"/>
<text x="323.40" y="528.30" font-size="9.3" fill="#1e1e1e" text-anchor="start" font-weight="normal" font-family="Liberation Sans, sans-serif" >PTTz-Cl0</text>
<line x1="299.60" y1="536.00" x2="320.00" y2="536.00" stroke="#f7a51e" stroke-width="1.1" />
<circle cx="310.00" cy="536.00" r="2.4" fill="#f7a51e"/>
<circle cx="309.28" cy="535.21" r="0.96" fill="#fde0a8" opacity="0.9"/>
<text x="323.40" y="539.40" font-size="9.3" fill="#1e1e1e" text-anchor="start" font-weight="normal" font-family="Liberation Sans, sans-serif" >PTTz-Cl50</text>
<line x1="299.60" y1="547.10" x2="320.00" y2="547.10" stroke="#e8909f" stroke-width="1.1" />
<circle cx="310.00" cy="547.10" r="2.4" fill="#d4607a"/>
<circle cx="309.28" cy="546.31" r="0.96" fill="#f4c4cf" opacity="0.9"/>
<text x="323.40" y="550.50" font-size="9.3" fill="#1e1e1e" text-anchor="start" font-weight="normal" font-family="Liberation Sans, sans-serif" >PTTz-Cl100</text>
<rect x="507.0" y="440.4" width="177.2" height="130.5" fill="none" stroke="#9a9a9a" stroke-width="0.9"/>
<line x1="507.00" y1="440.40" x2="507.00" y2="570.90" stroke="#707070" stroke-width="1.0" />
<line x1="507.00" y1="570.90" x2="685.00" y2="570.90" stroke="#707070" stroke-width="1.0" />
<line x1="507.00" y1="449.50" x2="504.20" y2="449.50" stroke="#3a3a3a" stroke-width="0.8" />
<text x="502.2" y="452.80" font-size="9.2" fill="#1e1e1e" text-anchor="end" font-family="Liberation Sans, sans-serif">10<tspan font-size="6.0" dy="-3.9">1</tspan></text>
<line x1="507.00" y1="470.64" x2="505.50" y2="470.64" stroke="#3a3a3a" stroke-width="0.6" />
<line x1="507.00" y1="465.32" x2="505.50" y2="465.32" stroke="#3a3a3a" stroke-width="0.6" />
<line x1="507.00" y1="461.54" x2="505.50" y2="461.54" stroke="#3a3a3a" stroke-width="0.6" />
<line x1="507.00" y1="458.61" x2="505.50" y2="458.61" stroke="#3a3a3a" stroke-width="0.6" />
<line x1="507.00" y1="456.21" x2="505.50" y2="456.21" stroke="#3a3a3a" stroke-width="0.6" />
<line x1="507.00" y1="454.19" x2="505.50" y2="454.19" stroke="#3a3a3a" stroke-width="0.6" />
<line x1="507.00" y1="452.43" x2="505.50" y2="452.43" stroke="#3a3a3a" stroke-width="0.6" />
<line x1="507.00" y1="450.88" x2="505.50" y2="450.88" stroke="#3a3a3a" stroke-width="0.6" />
<line x1="507.00" y1="479.75" x2="504.20" y2="479.75" stroke="#3a3a3a" stroke-width="0.8" />
<text x="502.2" y="483.05" font-size="9.2" fill="#1e1e1e" text-anchor="end" font-family="Liberation Sans, sans-serif">10<tspan font-size="6.0" dy="-3.9">0</tspan></text>
<line x1="507.00" y1="500.89" x2="505.50" y2="500.89" stroke="#3a3a3a" stroke-width="0.6" />
<line x1="507.00" y1="495.57" x2="505.50" y2="495.57" stroke="#3a3a3a" stroke-width="0.6" />
<line x1="507.00" y1="491.79" x2="505.50" y2="491.79" stroke="#3a3a3a" stroke-width="0.6" />
<line x1="507.00" y1="488.86" x2="505.50" y2="488.86" stroke="#3a3a3a" stroke-width="0.6" />
<line x1="507.00" y1="486.46" x2="505.50" y2="486.46" stroke="#3a3a3a" stroke-width="0.6" />
<line x1="507.00" y1="484.44" x2="505.50" y2="484.44" stroke="#3a3a3a" stroke-width="0.6" />
<line x1="507.00" y1="482.68" x2="505.50" y2="482.68" stroke="#3a3a3a" stroke-width="0.6" />
<line x1="507.00" y1="481.13" x2="505.50" y2="481.13" stroke="#3a3a3a" stroke-width="0.6" />
<line x1="507.00" y1="510.00" x2="504.20" y2="510.00" stroke="#3a3a3a" stroke-width="0.8" />
<text x="502.2" y="513.30" font-size="9.2" fill="#1e1e1e" text-anchor="end" font-family="Liberation Sans, sans-serif">10<tspan font-size="6.0" dy="-3.9">-1</tspan></text>
<line x1="507.00" y1="531.14" x2="505.50" y2="531.14" stroke="#3a3a3a" stroke-width="0.6" />
<line x1="507.00" y1="525.82" x2="505.50" y2="525.82" stroke="#3a3a3a" stroke-width="0.6" />
<line x1="507.00" y1="522.04" x2="505.50" y2="522.04" stroke="#3a3a3a" stroke-width="0.6" />
<line x1="507.00" y1="519.11" x2="505.50" y2="519.11" stroke="#3a3a3a" stroke-width="0.6" />
<line x1="507.00" y1="516.71" x2="505.50" y2="516.71" stroke="#3a3a3a" stroke-width="0.6" />
<line x1="507.00" y1="514.69" x2="505.50" y2="514.69" stroke="#3a3a3a" stroke-width="0.6" />
<line x1="507.00" y1="512.93" x2="505.50" y2="512.93" stroke="#3a3a3a" stroke-width="0.6" />
<line x1="507.00" y1="511.38" x2="505.50" y2="511.38" stroke="#3a3a3a" stroke-width="0.6" />
<line x1="507.00" y1="540.25" x2="504.20" y2="540.25" stroke="#3a3a3a" stroke-width="0.8" />
<text x="502.2" y="543.55" font-size="9.2" fill="#1e1e1e" text-anchor="end" font-family="Liberation Sans, sans-serif">10<tspan font-size="6.0" dy="-3.9">-2</tspan></text>
<line x1="507.00" y1="561.39" x2="505.50" y2="561.39" stroke="#3a3a3a" stroke-width="0.6" />
<line x1="507.00" y1="556.07" x2="505.50" y2="556.07" stroke="#3a3a3a" stroke-width="0.6" />
<line x1="507.00" y1="552.29" x2="505.50" y2="552.29" stroke="#3a3a3a" stroke-width="0.6" />
<line x1="507.00" y1="549.36" x2="505.50" y2="549.36" stroke="#3a3a3a" stroke-width="0.6" />
<line x1="507.00" y1="546.96" x2="505.50" y2="546.96" stroke="#3a3a3a" stroke-width="0.6" />
<line x1="507.00" y1="544.94" x2="505.50" y2="544.94" stroke="#3a3a3a" stroke-width="0.6" />
<line x1="507.00" y1="543.18" x2="505.50" y2="543.18" stroke="#3a3a3a" stroke-width="0.6" />
<line x1="507.00" y1="541.63" x2="505.50" y2="541.63" stroke="#3a3a3a" stroke-width="0.6" />
<line x1="507.00" y1="570.50" x2="504.20" y2="570.50" stroke="#3a3a3a" stroke-width="0.8" />
<text x="502.2" y="573.80" font-size="9.2" fill="#1e1e1e" text-anchor="end" font-family="Liberation Sans, sans-serif">10<tspan font-size="6.0" dy="-3.9">-3</tspan></text>
<line x1="541.70" y1="570.90" x2="541.70" y2="573.70" stroke="#3a3a3a" stroke-width="0.8" />
<text x="540.20" y="584.4" font-size="9.2" fill="#1e1e1e" text-anchor="middle" font-family="Liberation Sans, sans-serif">10<tspan font-size="6.0" dy="-3.9">-2</tspan></text>
<line x1="603.40" y1="570.90" x2="603.40" y2="573.70" stroke="#3a3a3a" stroke-width="0.8" />
<text x="601.90" y="584.4" font-size="9.2" fill="#1e1e1e" text-anchor="middle" font-family="Liberation Sans, sans-serif">10<tspan font-size="6.0" dy="-3.9">-1</tspan></text>
<line x1="665.10" y1="570.90" x2="665.10" y2="573.70" stroke="#3a3a3a" stroke-width="0.8" />
<text x="663.60" y="584.4" font-size="9.2" fill="#1e1e1e" text-anchor="middle" font-family="Liberation Sans, sans-serif">10<tspan font-size="6.0" dy="-3.9">0</tspan></text>
<line x1="509.44" y1="570.90" x2="509.44" y2="572.40" stroke="#3a3a3a" stroke-width="0.6" />
<line x1="517.15" y1="570.90" x2="517.15" y2="572.40" stroke="#3a3a3a" stroke-width="0.6" />
<line x1="523.13" y1="570.90" x2="523.13" y2="572.40" stroke="#3a3a3a" stroke-width="0.6" />
<line x1="528.01" y1="570.90" x2="528.01" y2="572.40" stroke="#3a3a3a" stroke-width="0.6" />
<line x1="532.14" y1="570.90" x2="532.14" y2="572.40" stroke="#3a3a3a" stroke-width="0.6" />
<line x1="535.72" y1="570.90" x2="535.72" y2="572.40" stroke="#3a3a3a" stroke-width="0.6" />
<line x1="538.88" y1="570.90" x2="538.88" y2="572.40" stroke="#3a3a3a" stroke-width="0.6" />
<line x1="560.27" y1="570.90" x2="560.27" y2="572.40" stroke="#3a3a3a" stroke-width="0.6" />
<line x1="571.14" y1="570.90" x2="571.14" y2="572.40" stroke="#3a3a3a" stroke-width="0.6" />
<line x1="578.85" y1="570.90" x2="578.85" y2="572.40" stroke="#3a3a3a" stroke-width="0.6" />
<line x1="584.83" y1="570.90" x2="584.83" y2="572.40" stroke="#3a3a3a" stroke-width="0.6" />
<line x1="589.71" y1="570.90" x2="589.71" y2="572.40" stroke="#3a3a3a" stroke-width="0.6" />
<line x1="593.84" y1="570.90" x2="593.84" y2="572.40" stroke="#3a3a3a" stroke-width="0.6" />
<line x1="597.42" y1="570.90" x2="597.42" y2="572.40" stroke="#3a3a3a" stroke-width="0.6" />
<line x1="600.58" y1="570.90" x2="600.58" y2="572.40" stroke="#3a3a3a" stroke-width="0.6" />
<line x1="621.97" y1="570.90" x2="621.97" y2="572.40" stroke="#3a3a3a" stroke-width="0.6" />
<line x1="632.84" y1="570.90" x2="632.84" y2="572.40" stroke="#3a3a3a" stroke-width="0.6" />
<line x1="640.55" y1="570.90" x2="640.55" y2="572.40" stroke="#3a3a3a" stroke-width="0.6" />
<line x1="646.53" y1="570.90" x2="646.53" y2="572.40" stroke="#3a3a3a" stroke-width="0.6" />
<line x1="651.41" y1="570.90" x2="651.41" y2="572.40" stroke="#3a3a3a" stroke-width="0.6" />
<line x1="655.54" y1="570.90" x2="655.54" y2="572.40" stroke="#3a3a3a" stroke-width="0.6" />
<line x1="659.12" y1="570.90" x2="659.12" y2="572.40" stroke="#3a3a3a" stroke-width="0.6" />
<line x1="662.28" y1="570.90" x2="662.28" y2="572.40" stroke="#3a3a3a" stroke-width="0.6" />
<line x1="683.67" y1="570.90" x2="683.67" y2="572.40" stroke="#3a3a3a" stroke-width="0.6" />
<text x="595.9" y="600.6" font-size="10" fill="#1e1e1e" text-anchor="middle" font-family="Liberation Sans, sans-serif"><tspan font-style="italic">q</tspan> (Å<tspan font-size="6.4" dy="-3.6">−1</tspan><tspan dy="3.6">)</tspan></text>
<text transform="translate(482.8,504.8) rotate(-90)" font-size="9.9" fill="#1e1e1e" text-anchor="middle" font-family="Liberation Sans, sans-serif"><tspan font-style="italic">I</tspan> (<tspan font-style="italic">q</tspan>) (cm<tspan font-size="6.4" dy="-3.6">−1</tspan><tspan dy="3.6">)</tspan></text>
<circle cx="508.00" cy="459.90" r="2.5" fill="#1f5b9b"/>
<circle cx="507.60" cy="459.50" r="1.05" fill="#fff" opacity="0.9"/>
<circle cx="510.29" cy="454.45" r="2.5" fill="#1f5b9b"/>
<circle cx="509.89" cy="454.05" r="1.05" fill="#fff" opacity="0.9"/>
<circle cx="512.57" cy="454.41" r="2.5" fill="#1f5b9b"/>
<circle cx="512.17" cy="454.01" r="1.05" fill="#fff" opacity="0.9"/>
<circle cx="514.86" cy="455.90" r="2.5" fill="#1f5b9b"/>
<circle cx="514.46" cy="455.50" r="1.05" fill="#fff" opacity="0.9"/>
<circle cx="517.14" cy="458.53" r="2.5" fill="#1f5b9b"/>
<circle cx="516.74" cy="458.13" r="1.05" fill="#fff" opacity="0.9"/>
<circle cx="519.43" cy="462.16" r="2.5" fill="#1f5b9b"/>
<circle cx="519.03" cy="461.76" r="1.05" fill="#fff" opacity="0.9"/>
<circle cx="521.71" cy="465.40" r="2.5" fill="#1f5b9b"/>
<circle cx="521.31" cy="465.00" r="1.05" fill="#fff" opacity="0.9"/>
<circle cx="524.00" cy="468.60" r="2.5" fill="#1f5b9b"/>
<circle cx="523.60" cy="468.20" r="1.05" fill="#fff" opacity="0.9"/>
<circle cx="526.29" cy="471.83" r="2.5" fill="#1f5b9b"/>
<circle cx="525.89" cy="471.43" r="1.05" fill="#fff" opacity="0.9"/>
<circle cx="528.57" cy="475.08" r="2.5" fill="#1f5b9b"/>
<circle cx="528.17" cy="474.68" r="1.05" fill="#fff" opacity="0.9"/>
<circle cx="530.86" cy="478.10" r="2.5" fill="#1f5b9b"/>
<circle cx="530.46" cy="477.70" r="1.05" fill="#fff" opacity="0.9"/>
<circle cx="533.14" cy="480.92" r="2.5" fill="#1f5b9b"/>
<circle cx="532.74" cy="480.52" r="1.05" fill="#fff" opacity="0.9"/>
<circle cx="535.43" cy="483.45" r="2.5" fill="#1f5b9b"/>
<circle cx="535.03" cy="483.05" r="1.05" fill="#fff" opacity="0.9"/>
<circle cx="537.71" cy="485.78" r="2.5" fill="#1f5b9b"/>
<circle cx="537.31" cy="485.38" r="1.05" fill="#fff" opacity="0.9"/>
<circle cx="540.00" cy="487.91" r="2.5" fill="#1f5b9b"/>
<circle cx="539.60" cy="487.51" r="1.05" fill="#fff" opacity="0.9"/>
<circle cx="542.29" cy="489.70" r="2.5" fill="#1f5b9b"/>
<circle cx="541.89" cy="489.30" r="1.05" fill="#fff" opacity="0.9"/>
<circle cx="544.57" cy="491.26" r="2.5" fill="#1f5b9b"/>
<circle cx="544.17" cy="490.86" r="1.05" fill="#fff" opacity="0.9"/>
<circle cx="546.86" cy="492.68" r="2.5" fill="#1f5b9b"/>
<circle cx="546.46" cy="492.28" r="1.05" fill="#fff" opacity="0.9"/>
<circle cx="549.14" cy="494.00" r="2.5" fill="#1f5b9b"/>
<circle cx="548.74" cy="493.60" r="1.05" fill="#fff" opacity="0.9"/>
<circle cx="551.43" cy="495.23" r="2.5" fill="#1f5b9b"/>
<circle cx="551.03" cy="494.83" r="1.05" fill="#fff" opacity="0.9"/>
<circle cx="553.71" cy="496.40" r="2.5" fill="#1f5b9b"/>
<circle cx="553.31" cy="496.00" r="1.05" fill="#fff" opacity="0.9"/>
<circle cx="556.00" cy="497.53" r="2.5" fill="#1f5b9b"/>
<circle cx="555.60" cy="497.13" r="1.05" fill="#fff" opacity="0.9"/>
<circle cx="558.29" cy="498.65" r="2.5" fill="#1f5b9b"/>
<circle cx="557.89" cy="498.25" r="1.05" fill="#fff" opacity="0.9"/>
<circle cx="560.57" cy="499.78" r="2.5" fill="#1f5b9b"/>
<circle cx="560.17" cy="499.38" r="1.05" fill="#fff" opacity="0.9"/>
<circle cx="562.86" cy="500.87" r="2.5" fill="#1f5b9b"/>
<circle cx="562.46" cy="500.47" r="1.05" fill="#fff" opacity="0.9"/>
<circle cx="565.14" cy="501.91" r="2.5" fill="#1f5b9b"/>
<circle cx="564.74" cy="501.51" r="1.05" fill="#fff" opacity="0.9"/>
<circle cx="567.43" cy="502.92" r="2.5" fill="#1f5b9b"/>
<circle cx="567.03" cy="502.52" r="1.05" fill="#fff" opacity="0.9"/>
<circle cx="569.71" cy="503.90" r="2.5" fill="#1f5b9b"/>
<circle cx="569.31" cy="503.50" r="1.05" fill="#fff" opacity="0.9"/>
<circle cx="572.00" cy="504.88" r="2.5" fill="#1f5b9b"/>
<circle cx="571.60" cy="504.48" r="1.05" fill="#fff" opacity="0.9"/>
<circle cx="574.29" cy="505.88" r="2.5" fill="#1f5b9b"/>
<circle cx="573.89" cy="505.48" r="1.05" fill="#fff" opacity="0.9"/>
<circle cx="576.57" cy="506.89" r="2.5" fill="#1f5b9b"/>
<circle cx="576.17" cy="506.49" r="1.05" fill="#fff" opacity="0.9"/>
<circle cx="578.86" cy="507.95" r="2.5" fill="#1f5b9b"/>
<circle cx="578.46" cy="507.55" r="1.05" fill="#fff" opacity="0.9"/>
<circle cx="581.14" cy="509.07" r="2.5" fill="#1f5b9b"/>
<circle cx="580.74" cy="508.67" r="1.05" fill="#fff" opacity="0.9"/>
<circle cx="583.43" cy="510.28" r="2.5" fill="#1f5b9b"/>
<circle cx="583.03" cy="509.88" r="1.05" fill="#fff" opacity="0.9"/>
<circle cx="585.71" cy="511.57" r="2.5" fill="#1f5b9b"/>
<circle cx="585.31" cy="511.17" r="1.05" fill="#fff" opacity="0.9"/>
<circle cx="588.00" cy="512.90" r="2.5" fill="#1f5b9b"/>
<circle cx="587.60" cy="512.50" r="1.05" fill="#fff" opacity="0.9"/>
<circle cx="590.29" cy="514.25" r="2.5" fill="#1f5b9b"/>
<circle cx="589.89" cy="513.85" r="1.05" fill="#fff" opacity="0.9"/>
<circle cx="592.57" cy="515.59" r="2.5" fill="#1f5b9b"/>
<circle cx="592.17" cy="515.19" r="1.05" fill="#fff" opacity="0.9"/>
<circle cx="594.86" cy="516.90" r="2.5" fill="#1f5b9b"/>
<circle cx="594.46" cy="516.50" r="1.05" fill="#fff" opacity="0.9"/>
<circle cx="597.14" cy="518.14" r="2.5" fill="#1f5b9b"/>
<circle cx="596.74" cy="517.74" r="1.05" fill="#fff" opacity="0.9"/>
<circle cx="599.43" cy="519.29" r="2.5" fill="#1f5b9b"/>
<circle cx="599.03" cy="518.89" r="1.05" fill="#fff" opacity="0.9"/>
<circle cx="601.71" cy="520.33" r="2.5" fill="#1f5b9b"/>
<circle cx="601.31" cy="519.93" r="1.05" fill="#fff" opacity="0.9"/>
<circle cx="604.00" cy="521.23" r="2.5" fill="#1f5b9b"/>
<circle cx="603.60" cy="520.83" r="1.05" fill="#fff" opacity="0.9"/>
<circle cx="606.29" cy="522.13" r="2.5" fill="#1f5b9b"/>
<circle cx="605.89" cy="521.73" r="1.05" fill="#fff" opacity="0.9"/>
<circle cx="608.57" cy="523.04" r="2.5" fill="#1f5b9b"/>
<circle cx="608.17" cy="522.64" r="1.05" fill="#fff" opacity="0.9"/>
<circle cx="610.86" cy="523.91" r="2.5" fill="#1f5b9b"/>
<circle cx="610.46" cy="523.51" r="1.05" fill="#fff" opacity="0.9"/>
<circle cx="613.14" cy="524.68" r="2.5" fill="#1f5b9b"/>
<circle cx="612.74" cy="524.28" r="1.05" fill="#fff" opacity="0.9"/>
<circle cx="615.43" cy="525.29" r="2.5" fill="#1f5b9b"/>
<circle cx="615.03" cy="524.89" r="1.05" fill="#fff" opacity="0.9"/>
<circle cx="617.71" cy="525.68" r="2.5" fill="#1f5b9b"/>
<circle cx="617.31" cy="525.28" r="1.05" fill="#fff" opacity="0.9"/>
<circle cx="620.00" cy="525.80" r="2.5" fill="#1f5b9b"/>
<circle cx="619.60" cy="525.40" r="1.05" fill="#fff" opacity="0.9"/>
<circle cx="622.29" cy="525.79" r="2.5" fill="#1f5b9b"/>
<circle cx="621.89" cy="525.39" r="1.05" fill="#fff" opacity="0.9"/>
<circle cx="624.57" cy="525.77" r="2.5" fill="#1f5b9b"/>
<circle cx="624.17" cy="525.37" r="1.05" fill="#fff" opacity="0.9"/>
<circle cx="626.86" cy="525.74" r="2.5" fill="#1f5b9b"/>
<circle cx="626.46" cy="525.34" r="1.05" fill="#fff" opacity="0.9"/>
<circle cx="629.14" cy="525.70" r="2.5" fill="#1f5b9b"/>
<circle cx="628.74" cy="525.30" r="1.05" fill="#fff" opacity="0.9"/>
<circle cx="631.43" cy="525.65" r="2.5" fill="#1f5b9b"/>
<circle cx="631.03" cy="525.25" r="1.05" fill="#fff" opacity="0.9"/>
<circle cx="633.71" cy="525.59" r="2.5" fill="#1f5b9b"/>
<circle cx="633.31" cy="525.19" r="1.05" fill="#fff" opacity="0.9"/>
<circle cx="636.00" cy="525.53" r="2.5" fill="#1f5b9b"/>
<circle cx="635.60" cy="525.13" r="1.05" fill="#fff" opacity="0.9"/>
<circle cx="638.29" cy="525.47" r="2.5" fill="#1f5b9b"/>
<circle cx="637.89" cy="525.07" r="1.05" fill="#fff" opacity="0.9"/>
<circle cx="640.57" cy="525.39" r="2.5" fill="#1f5b9b"/>
<circle cx="640.17" cy="524.99" r="1.05" fill="#fff" opacity="0.9"/>
<circle cx="642.86" cy="525.30" r="2.5" fill="#1f5b9b"/>
<circle cx="642.46" cy="524.90" r="1.05" fill="#fff" opacity="0.9"/>
<circle cx="645.14" cy="525.18" r="2.5" fill="#1f5b9b"/>
<circle cx="644.74" cy="524.78" r="1.05" fill="#fff" opacity="0.9"/>
<circle cx="647.43" cy="525.05" r="2.5" fill="#1f5b9b"/>
<circle cx="647.03" cy="524.65" r="1.05" fill="#fff" opacity="0.9"/>
<circle cx="649.71" cy="524.89" r="2.5" fill="#1f5b9b"/>
<circle cx="649.31" cy="524.49" r="1.05" fill="#fff" opacity="0.9"/>
<circle cx="652.00" cy="524.71" r="2.5" fill="#1f5b9b"/>
<circle cx="651.60" cy="524.31" r="1.05" fill="#fff" opacity="0.9"/>
<circle cx="654.29" cy="524.51" r="2.5" fill="#1f5b9b"/>
<circle cx="653.89" cy="524.11" r="1.05" fill="#fff" opacity="0.9"/>
<circle cx="656.57" cy="524.27" r="2.5" fill="#1f5b9b"/>
<circle cx="656.17" cy="523.87" r="1.05" fill="#fff" opacity="0.9"/>
<circle cx="658.86" cy="524.01" r="2.5" fill="#1f5b9b"/>
<circle cx="658.46" cy="523.61" r="1.05" fill="#fff" opacity="0.9"/>
<circle cx="661.14" cy="523.72" r="2.5" fill="#1f5b9b"/>
<circle cx="660.74" cy="523.32" r="1.05" fill="#fff" opacity="0.9"/>
<circle cx="663.43" cy="523.25" r="2.5" fill="#1f5b9b"/>
<circle cx="663.03" cy="522.85" r="1.05" fill="#fff" opacity="0.9"/>
<circle cx="665.71" cy="522.20" r="2.5" fill="#1f5b9b"/>
<circle cx="665.31" cy="521.80" r="1.05" fill="#fff" opacity="0.9"/>
<circle cx="668.00" cy="520.81" r="2.5" fill="#1f5b9b"/>
<circle cx="667.60" cy="520.41" r="1.05" fill="#fff" opacity="0.9"/>
<circle cx="670.29" cy="519.36" r="2.5" fill="#1f5b9b"/>
<circle cx="669.89" cy="518.96" r="1.05" fill="#fff" opacity="0.9"/>
<circle cx="672.57" cy="518.14" r="2.5" fill="#1f5b9b"/>
<circle cx="672.17" cy="517.74" r="1.05" fill="#fff" opacity="0.9"/>
<circle cx="674.86" cy="517.46" r="2.5" fill="#1f5b9b"/>
<circle cx="674.46" cy="517.06" r="1.05" fill="#fff" opacity="0.9"/>
<circle cx="677.14" cy="517.65" r="2.5" fill="#1f5b9b"/>
<circle cx="676.74" cy="517.25" r="1.05" fill="#fff" opacity="0.9"/>
<circle cx="679.43" cy="518.92" r="2.5" fill="#1f5b9b"/>
<circle cx="679.03" cy="518.52" r="1.05" fill="#fff" opacity="0.9"/>
<circle cx="681.71" cy="521.01" r="2.5" fill="#1f5b9b"/>
<circle cx="681.31" cy="520.61" r="1.05" fill="#fff" opacity="0.9"/>
<circle cx="684.00" cy="523.60" r="2.5" fill="#1f5b9b"/>
<circle cx="683.60" cy="523.20" r="1.05" fill="#fff" opacity="0.9"/>
<circle cx="509.50" cy="450.50" r="2.5" fill="#f7a51e"/>
<circle cx="509.10" cy="450.10" r="1.05" fill="#fff" opacity="0.9"/>
<circle cx="511.77" cy="456.39" r="2.5" fill="#f7a51e"/>
<circle cx="511.37" cy="455.99" r="1.05" fill="#fff" opacity="0.9"/>
<circle cx="514.03" cy="460.72" r="2.5" fill="#f7a51e"/>
<circle cx="513.63" cy="460.32" r="1.05" fill="#fff" opacity="0.9"/>
<circle cx="516.30" cy="464.58" r="2.5" fill="#f7a51e"/>
<circle cx="515.90" cy="464.18" r="1.05" fill="#fff" opacity="0.9"/>
<circle cx="518.56" cy="468.26" r="2.5" fill="#f7a51e"/>
<circle cx="518.16" cy="467.86" r="1.05" fill="#fff" opacity="0.9"/>
<circle cx="520.83" cy="473.03" r="2.5" fill="#f7a51e"/>
<circle cx="520.43" cy="472.63" r="1.05" fill="#fff" opacity="0.9"/>
<circle cx="523.10" cy="479.63" r="2.5" fill="#f7a51e"/>
<circle cx="522.70" cy="479.23" r="1.05" fill="#fff" opacity="0.9"/>
<circle cx="525.36" cy="484.40" r="2.5" fill="#f7a51e"/>
<circle cx="524.96" cy="484.00" r="1.05" fill="#fff" opacity="0.9"/>
<circle cx="527.63" cy="487.49" r="2.5" fill="#f7a51e"/>
<circle cx="527.23" cy="487.09" r="1.05" fill="#fff" opacity="0.9"/>
<circle cx="529.90" cy="489.50" r="2.5" fill="#f7a51e"/>
<circle cx="529.50" cy="489.10" r="1.05" fill="#fff" opacity="0.9"/>
<circle cx="532.16" cy="491.17" r="2.5" fill="#f7a51e"/>
<circle cx="531.76" cy="490.77" r="1.05" fill="#fff" opacity="0.9"/>
<circle cx="534.43" cy="492.90" r="2.5" fill="#f7a51e"/>
<circle cx="534.03" cy="492.50" r="1.05" fill="#fff" opacity="0.9"/>
<circle cx="536.69" cy="494.60" r="2.5" fill="#f7a51e"/>
<circle cx="536.29" cy="494.20" r="1.05" fill="#fff" opacity="0.9"/>
<circle cx="538.96" cy="496.23" r="2.5" fill="#f7a51e"/>
<circle cx="538.56" cy="495.83" r="1.05" fill="#fff" opacity="0.9"/>
<circle cx="541.23" cy="497.79" r="2.5" fill="#f7a51e"/>
<circle cx="540.83" cy="497.39" r="1.05" fill="#fff" opacity="0.9"/>
<circle cx="543.49" cy="499.27" r="2.5" fill="#f7a51e"/>
<circle cx="543.09" cy="498.87" r="1.05" fill="#fff" opacity="0.9"/>
<circle cx="545.76" cy="500.73" r="2.5" fill="#f7a51e"/>
<circle cx="545.36" cy="500.33" r="1.05" fill="#fff" opacity="0.9"/>
<circle cx="548.03" cy="502.15" r="2.5" fill="#f7a51e"/>
<circle cx="547.63" cy="501.75" r="1.05" fill="#fff" opacity="0.9"/>
<circle cx="550.29" cy="503.53" r="2.5" fill="#f7a51e"/>
<circle cx="549.89" cy="503.13" r="1.05" fill="#fff" opacity="0.9"/>
<circle cx="552.56" cy="504.87" r="2.5" fill="#f7a51e"/>
<circle cx="552.16" cy="504.47" r="1.05" fill="#fff" opacity="0.9"/>
<circle cx="554.82" cy="506.16" r="2.5" fill="#f7a51e"/>
<circle cx="554.42" cy="505.76" r="1.05" fill="#fff" opacity="0.9"/>
<circle cx="557.09" cy="507.40" r="2.5" fill="#f7a51e"/>
<circle cx="556.69" cy="507.00" r="1.05" fill="#fff" opacity="0.9"/>
<circle cx="559.36" cy="508.58" r="2.5" fill="#f7a51e"/>
<circle cx="558.96" cy="508.18" r="1.05" fill="#fff" opacity="0.9"/>
<circle cx="561.62" cy="509.69" r="2.5" fill="#f7a51e"/>
<circle cx="561.22" cy="509.29" r="1.05" fill="#fff" opacity="0.9"/>
<circle cx="563.89" cy="510.71" r="2.5" fill="#f7a51e"/>
<circle cx="563.49" cy="510.31" r="1.05" fill="#fff" opacity="0.9"/>
<circle cx="566.16" cy="511.68" r="2.5" fill="#f7a51e"/>
<circle cx="565.76" cy="511.28" r="1.05" fill="#fff" opacity="0.9"/>
<circle cx="568.42" cy="512.61" r="2.5" fill="#f7a51e"/>
<circle cx="568.02" cy="512.21" r="1.05" fill="#fff" opacity="0.9"/>
<circle cx="570.69" cy="513.51" r="2.5" fill="#f7a51e"/>
<circle cx="570.29" cy="513.11" r="1.05" fill="#fff" opacity="0.9"/>
<circle cx="572.95" cy="514.42" r="2.5" fill="#f7a51e"/>
<circle cx="572.55" cy="514.02" r="1.05" fill="#fff" opacity="0.9"/>
<circle cx="575.22" cy="515.36" r="2.5" fill="#f7a51e"/>
<circle cx="574.82" cy="514.96" r="1.05" fill="#fff" opacity="0.9"/>
<circle cx="577.49" cy="516.34" r="2.5" fill="#f7a51e"/>
<circle cx="577.09" cy="515.94" r="1.05" fill="#fff" opacity="0.9"/>
<circle cx="579.75" cy="517.38" r="2.5" fill="#f7a51e"/>
<circle cx="579.35" cy="516.98" r="1.05" fill="#fff" opacity="0.9"/>
<circle cx="582.02" cy="518.47" r="2.5" fill="#f7a51e"/>
<circle cx="581.62" cy="518.07" r="1.05" fill="#fff" opacity="0.9"/>
<circle cx="584.29" cy="519.55" r="2.5" fill="#f7a51e"/>
<circle cx="583.89" cy="519.15" r="1.05" fill="#fff" opacity="0.9"/>
<circle cx="586.55" cy="520.63" r="2.5" fill="#f7a51e"/>
<circle cx="586.15" cy="520.23" r="1.05" fill="#fff" opacity="0.9"/>
<circle cx="588.82" cy="521.74" r="2.5" fill="#f7a51e"/>
<circle cx="588.42" cy="521.34" r="1.05" fill="#fff" opacity="0.9"/>
<circle cx="591.08" cy="522.88" r="2.5" fill="#f7a51e"/>
<circle cx="590.68" cy="522.48" r="1.05" fill="#fff" opacity="0.9"/>
<circle cx="593.35" cy="524.08" r="2.5" fill="#f7a51e"/>
<circle cx="592.95" cy="523.68" r="1.05" fill="#fff" opacity="0.9"/>
<circle cx="595.62" cy="525.36" r="2.5" fill="#f7a51e"/>
<circle cx="595.22" cy="524.96" r="1.05" fill="#fff" opacity="0.9"/>
<circle cx="597.88" cy="526.72" r="2.5" fill="#f7a51e"/>
<circle cx="597.48" cy="526.32" r="1.05" fill="#fff" opacity="0.9"/>
<circle cx="600.15" cy="528.18" r="2.5" fill="#f7a51e"/>
<circle cx="599.75" cy="527.78" r="1.05" fill="#fff" opacity="0.9"/>
<circle cx="602.42" cy="529.77" r="2.5" fill="#f7a51e"/>
<circle cx="602.02" cy="529.37" r="1.05" fill="#fff" opacity="0.9"/>
<circle cx="604.68" cy="531.53" r="2.5" fill="#f7a51e"/>
<circle cx="604.28" cy="531.13" r="1.05" fill="#fff" opacity="0.9"/>
<circle cx="606.95" cy="533.62" r="2.5" fill="#f7a51e"/>
<circle cx="606.55" cy="533.22" r="1.05" fill="#fff" opacity="0.9"/>
<circle cx="609.21" cy="536.03" r="2.5" fill="#f7a51e"/>
<circle cx="608.81" cy="535.63" r="1.05" fill="#fff" opacity="0.9"/>
<circle cx="611.48" cy="538.73" r="2.5" fill="#f7a51e"/>
<circle cx="611.08" cy="538.33" r="1.05" fill="#fff" opacity="0.9"/>
<circle cx="613.75" cy="542.20" r="2.5" fill="#f7a51e"/>
<circle cx="613.35" cy="541.80" r="1.05" fill="#fff" opacity="0.9"/>
<circle cx="616.01" cy="546.24" r="2.5" fill="#f7a51e"/>
<circle cx="615.61" cy="545.84" r="1.05" fill="#fff" opacity="0.9"/>
<circle cx="618.28" cy="549.28" r="2.5" fill="#f7a51e"/>
<circle cx="617.88" cy="548.88" r="1.05" fill="#fff" opacity="0.9"/>
<circle cx="620.55" cy="551.58" r="2.5" fill="#f7a51e"/>
<circle cx="620.15" cy="551.18" r="1.05" fill="#fff" opacity="0.9"/>
<circle cx="622.81" cy="553.38" r="2.5" fill="#f7a51e"/>
<circle cx="622.41" cy="552.98" r="1.05" fill="#fff" opacity="0.9"/>
<circle cx="625.08" cy="553.97" r="2.5" fill="#f7a51e"/>
<circle cx="624.68" cy="553.57" r="1.05" fill="#fff" opacity="0.9"/>
<circle cx="627.34" cy="551.96" r="2.5" fill="#f7a51e"/>
<circle cx="626.94" cy="551.56" r="1.05" fill="#fff" opacity="0.9"/>
<circle cx="629.61" cy="549.28" r="2.5" fill="#f7a51e"/>
<circle cx="629.21" cy="548.88" r="1.05" fill="#fff" opacity="0.9"/>
<circle cx="631.88" cy="547.89" r="2.5" fill="#f7a51e"/>
<circle cx="631.48" cy="547.49" r="1.05" fill="#fff" opacity="0.9"/>
<circle cx="634.14" cy="546.72" r="2.5" fill="#f7a51e"/>
<circle cx="633.74" cy="546.32" r="1.05" fill="#fff" opacity="0.9"/>
<circle cx="636.41" cy="546.05" r="2.5" fill="#f7a51e"/>
<circle cx="636.01" cy="545.65" r="1.05" fill="#fff" opacity="0.9"/>
<circle cx="638.68" cy="546.01" r="2.5" fill="#f7a51e"/>
<circle cx="638.28" cy="545.61" r="1.05" fill="#fff" opacity="0.9"/>
<circle cx="640.94" cy="546.06" r="2.5" fill="#f7a51e"/>
<circle cx="640.54" cy="545.66" r="1.05" fill="#fff" opacity="0.9"/>
<circle cx="643.21" cy="546.14" r="2.5" fill="#f7a51e"/>
<circle cx="642.81" cy="545.74" r="1.05" fill="#fff" opacity="0.9"/>
<circle cx="645.47" cy="546.25" r="2.5" fill="#f7a51e"/>
<circle cx="645.07" cy="545.85" r="1.05" fill="#fff" opacity="0.9"/>
<circle cx="647.74" cy="546.37" r="2.5" fill="#f7a51e"/>
<circle cx="647.34" cy="545.97" r="1.05" fill="#fff" opacity="0.9"/>
<circle cx="650.01" cy="546.50" r="2.5" fill="#f7a51e"/>
<circle cx="649.61" cy="546.10" r="1.05" fill="#fff" opacity="0.9"/>
<circle cx="652.27" cy="546.64" r="2.5" fill="#f7a51e"/>
<circle cx="651.87" cy="546.24" r="1.05" fill="#fff" opacity="0.9"/>
<circle cx="654.54" cy="546.80" r="2.5" fill="#f7a51e"/>
<circle cx="654.14" cy="546.40" r="1.05" fill="#fff" opacity="0.9"/>
<circle cx="656.81" cy="547.01" r="2.5" fill="#f7a51e"/>
<circle cx="656.41" cy="546.61" r="1.05" fill="#fff" opacity="0.9"/>
<circle cx="659.07" cy="547.29" r="2.5" fill="#f7a51e"/>
<circle cx="658.67" cy="546.89" r="1.05" fill="#fff" opacity="0.9"/>
<circle cx="661.34" cy="547.67" r="2.5" fill="#f7a51e"/>
<circle cx="660.94" cy="547.27" r="1.05" fill="#fff" opacity="0.9"/>
<circle cx="663.60" cy="548.47" r="2.5" fill="#f7a51e"/>
<circle cx="663.20" cy="548.07" r="1.05" fill="#fff" opacity="0.9"/>
<circle cx="665.87" cy="550.31" r="2.5" fill="#f7a51e"/>
<circle cx="665.47" cy="549.91" r="1.05" fill="#fff" opacity="0.9"/>
<circle cx="668.14" cy="552.73" r="2.5" fill="#f7a51e"/>
<circle cx="667.74" cy="552.33" r="1.05" fill="#fff" opacity="0.9"/>
<circle cx="670.40" cy="557.15" r="2.5" fill="#f7a51e"/>
<circle cx="670.00" cy="556.75" r="1.05" fill="#fff" opacity="0.9"/>
<circle cx="672.67" cy="561.28" r="2.5" fill="#f7a51e"/>
<circle cx="672.27" cy="560.88" r="1.05" fill="#fff" opacity="0.9"/>
<circle cx="674.94" cy="554.34" r="2.5" fill="#f7a51e"/>
<circle cx="674.54" cy="553.94" r="1.05" fill="#fff" opacity="0.9"/>
<circle cx="677.20" cy="543.29" r="2.5" fill="#f7a51e"/>
<circle cx="676.80" cy="542.89" r="1.05" fill="#fff" opacity="0.9"/>
<circle cx="679.47" cy="541.08" r="2.5" fill="#f7a51e"/>
<circle cx="679.07" cy="540.68" r="1.05" fill="#fff" opacity="0.9"/>
<circle cx="681.73" cy="542.67" r="2.5" fill="#f7a51e"/>
<circle cx="681.33" cy="542.27" r="1.05" fill="#fff" opacity="0.9"/>
<circle cx="684.00" cy="548.40" r="2.5" fill="#f7a51e"/>
<circle cx="683.60" cy="548.00" r="1.05" fill="#fff" opacity="0.9"/>
<circle cx="509.30" cy="466.00" r="2.5" fill="#d4607a"/>
<circle cx="508.90" cy="465.60" r="1.05" fill="#fff" opacity="0.9"/>
<circle cx="511.57" cy="469.41" r="2.5" fill="#d4607a"/>
<circle cx="511.17" cy="469.01" r="1.05" fill="#fff" opacity="0.9"/>
<circle cx="513.84" cy="466.92" r="2.5" fill="#d4607a"/>
<circle cx="513.44" cy="466.52" r="1.05" fill="#fff" opacity="0.9"/>
<circle cx="516.11" cy="469.50" r="2.5" fill="#d4607a"/>
<circle cx="515.71" cy="469.10" r="1.05" fill="#fff" opacity="0.9"/>
<circle cx="518.38" cy="473.35" r="2.5" fill="#d4607a"/>
<circle cx="517.98" cy="472.95" r="1.05" fill="#fff" opacity="0.9"/>
<circle cx="520.64" cy="475.89" r="2.5" fill="#d4607a"/>
<circle cx="520.24" cy="475.49" r="1.05" fill="#fff" opacity="0.9"/>
<circle cx="522.91" cy="478.09" r="2.5" fill="#d4607a"/>
<circle cx="522.51" cy="477.69" r="1.05" fill="#fff" opacity="0.9"/>
<circle cx="525.18" cy="479.93" r="2.5" fill="#d4607a"/>
<circle cx="524.78" cy="479.53" r="1.05" fill="#fff" opacity="0.9"/>
<circle cx="527.45" cy="481.46" r="2.5" fill="#d4607a"/>
<circle cx="527.05" cy="481.06" r="1.05" fill="#fff" opacity="0.9"/>
<circle cx="529.72" cy="482.79" r="2.5" fill="#d4607a"/>
<circle cx="529.32" cy="482.39" r="1.05" fill="#fff" opacity="0.9"/>
<circle cx="531.99" cy="483.98" r="2.5" fill="#d4607a"/>
<circle cx="531.59" cy="483.58" r="1.05" fill="#fff" opacity="0.9"/>
<circle cx="534.26" cy="485.11" r="2.5" fill="#d4607a"/>
<circle cx="533.86" cy="484.71" r="1.05" fill="#fff" opacity="0.9"/>
<circle cx="536.53" cy="486.13" r="2.5" fill="#d4607a"/>
<circle cx="536.13" cy="485.73" r="1.05" fill="#fff" opacity="0.9"/>
<circle cx="538.79" cy="487.09" r="2.5" fill="#d4607a"/>
<circle cx="538.39" cy="486.69" r="1.05" fill="#fff" opacity="0.9"/>
<circle cx="541.06" cy="488.07" r="2.5" fill="#d4607a"/>
<circle cx="540.66" cy="487.67" r="1.05" fill="#fff" opacity="0.9"/>
<circle cx="543.33" cy="489.13" r="2.5" fill="#d4607a"/>
<circle cx="542.93" cy="488.73" r="1.05" fill="#fff" opacity="0.9"/>
<circle cx="545.60" cy="490.22" r="2.5" fill="#d4607a"/>
<circle cx="545.20" cy="489.82" r="1.05" fill="#fff" opacity="0.9"/>
<circle cx="547.87" cy="491.33" r="2.5" fill="#d4607a"/>
<circle cx="547.47" cy="490.93" r="1.05" fill="#fff" opacity="0.9"/>
<circle cx="550.14" cy="492.47" r="2.5" fill="#d4607a"/>
<circle cx="549.74" cy="492.07" r="1.05" fill="#fff" opacity="0.9"/>
<circle cx="552.41" cy="493.61" r="2.5" fill="#d4607a"/>
<circle cx="552.01" cy="493.21" r="1.05" fill="#fff" opacity="0.9"/>
<circle cx="554.68" cy="494.77" r="2.5" fill="#d4607a"/>
<circle cx="554.28" cy="494.37" r="1.05" fill="#fff" opacity="0.9"/>
<circle cx="556.95" cy="495.93" r="2.5" fill="#d4607a"/>
<circle cx="556.55" cy="495.53" r="1.05" fill="#fff" opacity="0.9"/>
<circle cx="559.21" cy="497.10" r="2.5" fill="#d4607a"/>
<circle cx="558.81" cy="496.70" r="1.05" fill="#fff" opacity="0.9"/>
<circle cx="561.48" cy="498.26" r="2.5" fill="#d4607a"/>
<circle cx="561.08" cy="497.86" r="1.05" fill="#fff" opacity="0.9"/>
<circle cx="563.75" cy="499.40" r="2.5" fill="#d4607a"/>
<circle cx="563.35" cy="499.00" r="1.05" fill="#fff" opacity="0.9"/>
<circle cx="566.02" cy="500.55" r="2.5" fill="#d4607a"/>
<circle cx="565.62" cy="500.15" r="1.05" fill="#fff" opacity="0.9"/>
<circle cx="568.29" cy="501.70" r="2.5" fill="#d4607a"/>
<circle cx="567.89" cy="501.30" r="1.05" fill="#fff" opacity="0.9"/>
<circle cx="570.56" cy="502.86" r="2.5" fill="#d4607a"/>
<circle cx="570.16" cy="502.46" r="1.05" fill="#fff" opacity="0.9"/>
<circle cx="572.83" cy="504.04" r="2.5" fill="#d4607a"/>
<circle cx="572.43" cy="503.64" r="1.05" fill="#fff" opacity="0.9"/>
<circle cx="575.10" cy="505.25" r="2.5" fill="#d4607a"/>
<circle cx="574.70" cy="504.85" r="1.05" fill="#fff" opacity="0.9"/>
<circle cx="577.36" cy="506.50" r="2.5" fill="#d4607a"/>
<circle cx="576.96" cy="506.10" r="1.05" fill="#fff" opacity="0.9"/>
<circle cx="579.63" cy="507.79" r="2.5" fill="#d4607a"/>
<circle cx="579.23" cy="507.39" r="1.05" fill="#fff" opacity="0.9"/>
<circle cx="581.90" cy="509.16" r="2.5" fill="#d4607a"/>
<circle cx="581.50" cy="508.76" r="1.05" fill="#fff" opacity="0.9"/>
<circle cx="584.17" cy="510.64" r="2.5" fill="#d4607a"/>
<circle cx="583.77" cy="510.24" r="1.05" fill="#fff" opacity="0.9"/>
<circle cx="586.44" cy="512.21" r="2.5" fill="#d4607a"/>
<circle cx="586.04" cy="511.81" r="1.05" fill="#fff" opacity="0.9"/>
<circle cx="588.71" cy="513.83" r="2.5" fill="#d4607a"/>
<circle cx="588.31" cy="513.43" r="1.05" fill="#fff" opacity="0.9"/>
<circle cx="590.98" cy="515.47" r="2.5" fill="#d4607a"/>
<circle cx="590.58" cy="515.07" r="1.05" fill="#fff" opacity="0.9"/>
<circle cx="593.25" cy="517.11" r="2.5" fill="#d4607a"/>
<circle cx="592.85" cy="516.71" r="1.05" fill="#fff" opacity="0.9"/>
<circle cx="595.52" cy="518.70" r="2.5" fill="#d4607a"/>
<circle cx="595.12" cy="518.30" r="1.05" fill="#fff" opacity="0.9"/>
<circle cx="597.78" cy="520.23" r="2.5" fill="#d4607a"/>
<circle cx="597.38" cy="519.83" r="1.05" fill="#fff" opacity="0.9"/>
<circle cx="600.05" cy="521.65" r="2.5" fill="#d4607a"/>
<circle cx="599.65" cy="521.25" r="1.05" fill="#fff" opacity="0.9"/>
<circle cx="602.32" cy="522.94" r="2.5" fill="#d4607a"/>
<circle cx="601.92" cy="522.54" r="1.05" fill="#fff" opacity="0.9"/>
<circle cx="604.59" cy="524.11" r="2.5" fill="#d4607a"/>
<circle cx="604.19" cy="523.71" r="1.05" fill="#fff" opacity="0.9"/>
<circle cx="606.86" cy="525.34" r="2.5" fill="#d4607a"/>
<circle cx="606.46" cy="524.94" r="1.05" fill="#fff" opacity="0.9"/>
<circle cx="609.13" cy="526.59" r="2.5" fill="#d4607a"/>
<circle cx="608.73" cy="526.19" r="1.05" fill="#fff" opacity="0.9"/>
<circle cx="611.40" cy="527.76" r="2.5" fill="#d4607a"/>
<circle cx="611.00" cy="527.36" r="1.05" fill="#fff" opacity="0.9"/>
<circle cx="613.67" cy="528.79" r="2.5" fill="#d4607a"/>
<circle cx="613.27" cy="528.39" r="1.05" fill="#fff" opacity="0.9"/>
<circle cx="615.94" cy="529.59" r="2.5" fill="#d4607a"/>
<circle cx="615.54" cy="529.19" r="1.05" fill="#fff" opacity="0.9"/>
<circle cx="618.20" cy="530.09" r="2.5" fill="#d4607a"/>
<circle cx="617.80" cy="529.69" r="1.05" fill="#fff" opacity="0.9"/>
<circle cx="620.47" cy="530.21" r="2.5" fill="#d4607a"/>
<circle cx="620.07" cy="529.81" r="1.05" fill="#fff" opacity="0.9"/>
<circle cx="622.74" cy="530.24" r="2.5" fill="#d4607a"/>
<circle cx="622.34" cy="529.84" r="1.05" fill="#fff" opacity="0.9"/>
<circle cx="625.01" cy="530.27" r="2.5" fill="#d4607a"/>
<circle cx="624.61" cy="529.87" r="1.05" fill="#fff" opacity="0.9"/>
<circle cx="627.28" cy="530.29" r="2.5" fill="#d4607a"/>
<circle cx="626.88" cy="529.89" r="1.05" fill="#fff" opacity="0.9"/>
<circle cx="629.55" cy="530.32" r="2.5" fill="#d4607a"/>
<circle cx="629.15" cy="529.92" r="1.05" fill="#fff" opacity="0.9"/>
<circle cx="631.82" cy="530.33" r="2.5" fill="#d4607a"/>
<circle cx="631.42" cy="529.93" r="1.05" fill="#fff" opacity="0.9"/>
<circle cx="634.09" cy="530.35" r="2.5" fill="#d4607a"/>
<circle cx="633.69" cy="529.95" r="1.05" fill="#fff" opacity="0.9"/>
<circle cx="636.35" cy="530.36" r="2.5" fill="#d4607a"/>
<circle cx="635.95" cy="529.96" r="1.05" fill="#fff" opacity="0.9"/>
<circle cx="638.62" cy="530.38" r="2.5" fill="#d4607a"/>
<circle cx="638.22" cy="529.98" r="1.05" fill="#fff" opacity="0.9"/>
<circle cx="640.89" cy="530.39" r="2.5" fill="#d4607a"/>
<circle cx="640.49" cy="529.99" r="1.05" fill="#fff" opacity="0.9"/>
<circle cx="643.16" cy="530.39" r="2.5" fill="#d4607a"/>
<circle cx="642.76" cy="529.99" r="1.05" fill="#fff" opacity="0.9"/>
<circle cx="645.43" cy="530.40" r="2.5" fill="#d4607a"/>
<circle cx="645.03" cy="530.00" r="1.05" fill="#fff" opacity="0.9"/>
<circle cx="647.70" cy="530.40" r="2.5" fill="#d4607a"/>
<circle cx="647.30" cy="530.00" r="1.05" fill="#fff" opacity="0.9"/>
<circle cx="649.97" cy="530.40" r="2.5" fill="#d4607a"/>
<circle cx="649.57" cy="530.00" r="1.05" fill="#fff" opacity="0.9"/>
<circle cx="652.24" cy="530.23" r="2.5" fill="#d4607a"/>
<circle cx="651.84" cy="529.83" r="1.05" fill="#fff" opacity="0.9"/>
<circle cx="654.51" cy="529.86" r="2.5" fill="#d4607a"/>
<circle cx="654.11" cy="529.46" r="1.05" fill="#fff" opacity="0.9"/>
<circle cx="656.77" cy="529.31" r="2.5" fill="#d4607a"/>
<circle cx="656.37" cy="528.91" r="1.05" fill="#fff" opacity="0.9"/>
<circle cx="659.04" cy="528.63" r="2.5" fill="#d4607a"/>
<circle cx="658.64" cy="528.23" r="1.05" fill="#fff" opacity="0.9"/>
<circle cx="661.31" cy="527.86" r="2.5" fill="#d4607a"/>
<circle cx="660.91" cy="527.46" r="1.05" fill="#fff" opacity="0.9"/>
<circle cx="663.58" cy="527.04" r="2.5" fill="#d4607a"/>
<circle cx="663.18" cy="526.64" r="1.05" fill="#fff" opacity="0.9"/>
<circle cx="665.85" cy="526.02" r="2.5" fill="#d4607a"/>
<circle cx="665.45" cy="525.62" r="1.05" fill="#fff" opacity="0.9"/>
<circle cx="668.12" cy="524.29" r="2.5" fill="#d4607a"/>
<circle cx="667.72" cy="523.89" r="1.05" fill="#fff" opacity="0.9"/>
<circle cx="670.39" cy="522.38" r="2.5" fill="#d4607a"/>
<circle cx="669.99" cy="521.98" r="1.05" fill="#fff" opacity="0.9"/>
<circle cx="672.66" cy="520.92" r="2.5" fill="#d4607a"/>
<circle cx="672.26" cy="520.52" r="1.05" fill="#fff" opacity="0.9"/>
<circle cx="674.92" cy="520.52" r="2.5" fill="#d4607a"/>
<circle cx="674.52" cy="520.12" r="1.05" fill="#fff" opacity="0.9"/>
<circle cx="677.19" cy="521.11" r="2.5" fill="#d4607a"/>
<circle cx="676.79" cy="520.71" r="1.05" fill="#fff" opacity="0.9"/>
<circle cx="679.46" cy="522.46" r="2.5" fill="#d4607a"/>
<circle cx="679.06" cy="522.06" r="1.05" fill="#fff" opacity="0.9"/>
<circle cx="681.73" cy="524.53" r="2.5" fill="#d4607a"/>
<circle cx="681.33" cy="524.13" r="1.05" fill="#fff" opacity="0.9"/>
<circle cx="684.00" cy="527.30" r="2.5" fill="#d4607a"/>
<circle cx="683.60" cy="526.90" r="1.05" fill="#fff" opacity="0.9"/>
<circle cx="613.5" cy="459.70" r="2.8" fill="#1f5b9b"/>
<circle cx="612.8" cy="458.90" r="1.1" fill="#fff" opacity="0.85"/>
<text x="626.00" y="463.10" font-size="9.3" fill="#1e1e1e" text-anchor="start" font-weight="normal" font-family="Liberation Sans, sans-serif" >PTTz-Cl0</text>
<circle cx="613.5" cy="470.90" r="2.8" fill="#f7a51e"/>
<circle cx="612.8" cy="470.10" r="1.1" fill="#fff" opacity="0.85"/>
<text x="626.00" y="474.30" font-size="9.3" fill="#1e1e1e" text-anchor="start" font-weight="normal" font-family="Liberation Sans, sans-serif" >PTTz-Cl50</text>
<circle cx="613.5" cy="482.10" r="2.8" fill="#d4607a"/>
<circle cx="612.8" cy="481.30" r="1.1" fill="#fff" opacity="0.85"/>
<text x="626.00" y="485.50" font-size="9.3" fill="#1e1e1e" text-anchor="start" font-weight="normal" font-family="Liberation Sans, sans-serif" >PTTz-Cl100</text>
</svg></body></html>
